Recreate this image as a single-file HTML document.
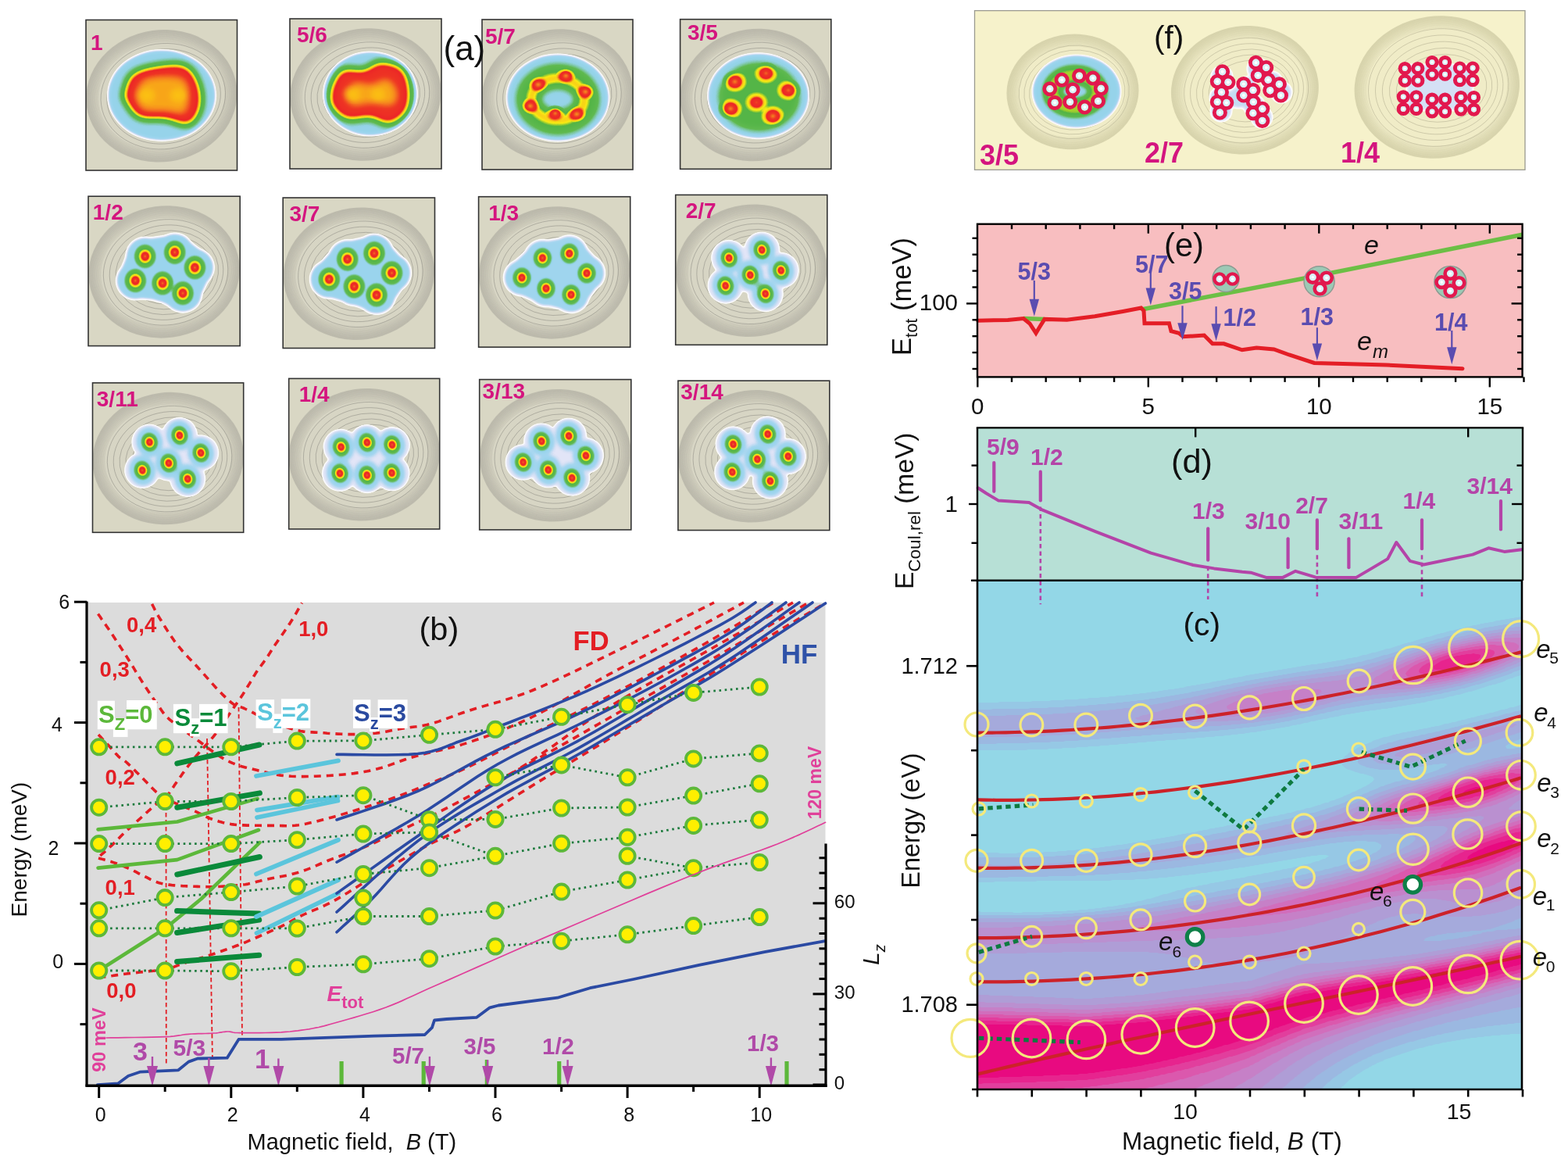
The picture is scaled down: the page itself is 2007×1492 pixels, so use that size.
<!DOCTYPE html><html><head><meta charset="utf-8"><title>Figure</title><style>html,body{margin:0;padding:0;background:#fff;}svg{display:block;}</style></head><body><svg xmlns="http://www.w3.org/2000/svg" width="2007" height="1492" viewBox="0 0 2007 1492" font-family='"Liberation Sans", Arial, sans-serif'><defs><filter id="cmA" x="-5%" y="-5%" width="110%" height="110%" color-interpolation-filters="sRGB"><feColorMatrix type="matrix" values="0 0 0 1 0  0 0 0 1 0  0 0 0 1 0  0 0 0 1 0"/><feComponentTransfer><feFuncR type="table" tableValues="1.000 1.000 1.000 1.000 1.000 1.000 1.000 0.969 0.938 0.908 0.877 0.828 0.775 0.722 0.668 0.641 0.630 0.619 0.608 0.597 0.578 0.528 0.477 0.427 0.376 0.367 0.358 0.349 0.340 0.331 0.322 0.539 0.756 0.973 0.975 0.978 0.975 0.957 0.938 0.926 0.927 0.928 0.929 0.930 0.932 0.933 0.935 0.940 0.944 0.949 0.953 0.958 0.962 0.966 0.969 0.973 0.977 0.980 0.983 0.986 0.988"/><feFuncG type="table" tableValues="1.000 1.000 1.000 1.000 1.000 1.000 1.000 0.973 0.946 0.919 0.892 0.877 0.866 0.855 0.844 0.838 0.837 0.835 0.834 0.833 0.827 0.802 0.778 0.754 0.729 0.725 0.722 0.718 0.714 0.710 0.706 0.779 0.852 0.925 0.851 0.777 0.667 0.472 0.278 0.144 0.153 0.162 0.171 0.180 0.189 0.198 0.223 0.271 0.318 0.366 0.414 0.462 0.506 0.546 0.586 0.626 0.666 0.706 0.727 0.748 0.769"/><feFuncB type="table" tableValues="1.000 1.000 1.000 1.000 1.000 1.000 1.000 0.992 0.983 0.975 0.966 0.960 0.955 0.949 0.943 0.939 0.937 0.934 0.931 0.928 0.896 0.751 0.605 0.459 0.314 0.307 0.301 0.294 0.288 0.281 0.275 0.209 0.144 0.078 0.086 0.093 0.104 0.124 0.143 0.156 0.154 0.152 0.149 0.147 0.145 0.143 0.140 0.138 0.135 0.132 0.130 0.127 0.123 0.115 0.108 0.101 0.094 0.086 0.081 0.076 0.071"/><feFuncA type="table" tableValues="0 0 0 0 0.22 0.78 1 1 1 1 1 1 1 1 1 1 1 1 1 1 1 1 1 1 1 1 1 1 1 1 1 1 1 1 1 1 1 1 1 1 1 1 1 1 1 1 1 1 1 1 1 1 1 1 1 1 1 1 1 1 1"/></feComponentTransfer></filter><radialGradient id="pk2"><stop offset="0" stop-color="#fff" stop-opacity="0.78"/><stop offset="0.25" stop-color="#fff" stop-opacity="0.52"/><stop offset="0.4" stop-color="#fff" stop-opacity="0.38"/><stop offset="0.6" stop-color="#fff" stop-opacity="0.24"/><stop offset="0.8" stop-color="#fff" stop-opacity="0.13"/><stop offset="0.93" stop-color="#fff" stop-opacity="0.04"/><stop offset="1" stop-color="#fff" stop-opacity="0"/></radialGradient><radialGradient id="pk3"><stop offset="0" stop-color="#fff" stop-opacity="0.8"/><stop offset="0.13" stop-color="#fff" stop-opacity="0.62"/><stop offset="0.23" stop-color="#fff" stop-opacity="0.5"/><stop offset="0.3" stop-color="#fff" stop-opacity="0.42"/><stop offset="0.43" stop-color="#fff" stop-opacity="0.3"/><stop offset="0.58" stop-color="#fff" stop-opacity="0.18"/><stop offset="0.74" stop-color="#fff" stop-opacity="0.08"/><stop offset="0.88" stop-color="#fff" stop-opacity="0.02"/><stop offset="1" stop-color="#fff" stop-opacity="0"/></radialGradient><radialGradient id="pk57"><stop offset="0" stop-color="#fff" stop-opacity="0.75"/><stop offset="0.3" stop-color="#fff" stop-opacity="0.5"/><stop offset="0.6" stop-color="#fff" stop-opacity="0.2"/><stop offset="1" stop-color="#fff" stop-opacity="0"/></radialGradient><filter id="bl1" x="-50%" y="-50%" width="200%" height="200%"><feGaussianBlur stdDeviation="1"/></filter><filter id="bl1_5" x="-50%" y="-50%" width="200%" height="200%"><feGaussianBlur stdDeviation="1.5"/></filter><filter id="bl2" x="-50%" y="-50%" width="200%" height="200%"><feGaussianBlur stdDeviation="2"/></filter><filter id="bl2_5" x="-50%" y="-50%" width="200%" height="200%"><feGaussianBlur stdDeviation="2.5"/></filter><filter id="bl3" x="-50%" y="-50%" width="200%" height="200%"><feGaussianBlur stdDeviation="3"/></filter><filter id="bl4" x="-50%" y="-50%" width="200%" height="200%"><feGaussianBlur stdDeviation="4"/></filter><filter id="bl5" x="-50%" y="-50%" width="200%" height="200%"><feGaussianBlur stdDeviation="5"/></filter><filter id="bl6" x="-50%" y="-50%" width="200%" height="200%"><feGaussianBlur stdDeviation="6"/></filter><filter id="bl7" x="-50%" y="-50%" width="200%" height="200%"><feGaussianBlur stdDeviation="7"/></filter><filter id="bl8" x="-50%" y="-50%" width="200%" height="200%"><feGaussianBlur stdDeviation="8"/></filter><filter id="bl10" x="-50%" y="-50%" width="200%" height="200%"><feGaussianBlur stdDeviation="10"/></filter></defs><rect width="2007" height="1492" fill="#fff"/><clipPath id="clipA0"><rect x="110" y="25.5" width="193.5" height="192.5"/></clipPath><g clip-path="url(#clipA0)"><rect x="110" y="25.5" width="193.5" height="192.5" fill="#d9d7c4"/><ellipse cx="206.8" cy="122.7" rx="97" ry="84.5" fill="#bebcae" transform="rotate(-8 206.8 122.7)"/><ellipse cx="206.8" cy="122.7" rx="95.3" ry="82.8" fill="#bfbdaf" stroke="#b2b0a3" stroke-width="0.3" transform="rotate(-8 206.8 122.7)"/><ellipse cx="206.8" cy="122.7" rx="93.6" ry="81.1" fill="#c1bfb1" stroke="#b2b0a3" stroke-width="0.3" transform="rotate(-8 206.8 122.7)"/><ellipse cx="206.8" cy="122.7" rx="91.9" ry="79.4" fill="#c3c1b3" stroke="#b2b0a3" stroke-width="0.3" transform="rotate(-8 206.8 122.7)"/><ellipse cx="206.8" cy="122.7" rx="90.2" ry="77.7" fill="#c6c4b5" stroke="#b2b0a3" stroke-width="0.3" transform="rotate(-8 206.8 122.7)"/><ellipse cx="206.8" cy="122.7" rx="88.5" ry="76" fill="#c9c7b8" stroke="#b2b0a3" stroke-width="0.3" transform="rotate(-8 206.8 122.7)"/><ellipse cx="206.8" cy="122.7" rx="86.8" ry="74.3" fill="#cccaba" stroke="#b2b0a3" stroke-width="0.3" transform="rotate(-8 206.8 122.7)"/><ellipse cx="206.8" cy="122.7" rx="85.1" ry="72.6" fill="#d0cebd" stroke="#b2b0a3" stroke-width="0.3" transform="rotate(-8 206.8 122.7)"/><ellipse cx="206.8" cy="122.7" rx="83.4" ry="70.9" fill="#d3d1c0" stroke="#b2b0a3" stroke-width="0.3" transform="rotate(-8 206.8 122.7)"/><ellipse cx="206.8" cy="122.7" rx="81.7" ry="69.2" fill="#d7d5c4" stroke="#b2b0a3" stroke-width="0.3" transform="rotate(-8 206.8 122.7)"/><ellipse cx="208.8" cy="123.2" rx="80" ry="67.5" fill="none" stroke="#96958b" stroke-width="0.6" transform="rotate(-8 208.8 123.2)"/><ellipse cx="209.6" cy="123.4" rx="73" ry="60.5" fill="none" stroke="#96958b" stroke-width="0.6" transform="rotate(-8 209.6 123.4)"/><ellipse cx="210.5" cy="123.6" rx="66" ry="53.5" fill="none" stroke="#96958b" stroke-width="0.6" transform="rotate(-8 210.5 123.6)"/><ellipse cx="211.3" cy="123.9" rx="59" ry="46.5" fill="none" stroke="#96958b" stroke-width="0.6" transform="rotate(-8 211.3 123.9)"/><ellipse cx="212.2" cy="124.1" rx="52" ry="39.5" fill="none" stroke="#96958b" stroke-width="0.6" transform="rotate(-8 212.2 124.1)"/><g filter="url(#cmA)"><ellipse cx="207" cy="122" rx="68.5" ry="57.5" fill="#fff" opacity="0.32" filter="url(#bl2)"/><path d="M158 124 L158.7 121.7 L159.5 118.6 L160.4 114.8 L161.4 110.7 L162.8 106.5 L164.4 102.5 L166.5 98.9 L169 96 L172.1 93.7 L175.7 91.8 L179.7 90.1 L184 88.8 L188.5 87.6 L193.1 86.6 L197.6 85.7 L202 85 L206.4 84.3 L211 83.7 L215.8 83.2 L220.5 82.9 L225.1 82.8 L229.5 83.1 L233.5 83.8 L237 85 L240.1 86.7 L242.9 89 L245.4 91.6 L247.6 94.6 L249.5 97.9 L251.2 101.2 L252.7 104.6 L254 108 L255.1 111.5 L256 115.2 L256.6 119.1 L257 123.1 L257.2 127.1 L257 131 L256.7 134.6 L256 138 L255 141.2 L253.8 144.5 L252.2 147.8 L250.4 150.8 L248.4 153.6 L246.1 155.9 L243.7 157.8 L241 159 L238.1 159.4 L234.9 159.1 L231.4 158.2 L227.8 157 L223.9 155.6 L220 154.1 L216 152.9 L212 152 L207.8 151.6 L203.3 151.5 L198.6 151.5 L193.9 151.6 L189.2 151.6 L184.8 151.2 L180.7 150.4 L177 149 L173.7 146.8 L170.7 143.7 L167.9 140.1 L165.3 136.3 L163 132.5 L161 129 L159.4 126.1 L158 124 Z" fill="#fff" opacity="0.62" filter="url(#bl6)"/><path d="M173 122 L173.8 120.3 L174.7 118 L175.7 115.3 L177 112.2 L178.5 109.2 L180.3 106.3 L182.5 103.9 L185 102 L188.1 100.7 L191.9 99.6 L196.1 98.9 L200.5 98.4 L205 98.1 L209.4 97.9 L213.4 97.9 L217 98 L220.2 98.2 L223.2 98.4 L226.1 98.8 L228.8 99.4 L231.2 100.1 L233.4 101.1 L235.3 102.4 L237 104 L238.3 106 L239.4 108.5 L240.1 111.3 L240.6 114.2 L240.9 117.3 L241.1 120.4 L241.1 123.3 L241 126 L240.9 128.6 L240.6 131.2 L240.3 133.9 L239.8 136.5 L239 138.9 L238 141 L236.7 142.7 L235 144 L232.9 144.7 L230.4 144.9 L227.5 144.7 L224.4 144.2 L221.1 143.6 L217.7 143 L214.3 142.4 L211 142 L207.6 141.9 L203.9 141.9 L200 142 L196.1 142 L192.4 141.9 L188.8 141.6 L185.7 141 L183 140 L180.8 138.4 L179 136.2 L177.5 133.6 L176.2 130.9 L175.2 128.1 L174.4 125.6 L173.6 123.5 L173 122 Z" fill="#fff" opacity="0.72" filter="url(#bl5)"/><ellipse cx="188" cy="122" rx="9" ry="7" fill="#fff" opacity="1" filter="url(#bl4)"/><ellipse cx="228" cy="122" rx="9" ry="7" fill="#fff" opacity="1" filter="url(#bl4)"/></g></g><rect x="110" y="25.5" width="193.5" height="192.5" fill="none" stroke="#333" stroke-width="1.6"/><text x="116" y="64" font-size="28" fill="#d4157f" font-weight="bold">1</text><clipPath id="clipA8"><rect x="371" y="24" width="194" height="192"/></clipPath><g clip-path="url(#clipA8)"><rect x="371" y="24" width="194" height="192" fill="#d9d7c4"/><ellipse cx="468" cy="121" rx="97" ry="84.5" fill="#bebcae" transform="rotate(-8 468 121)"/><ellipse cx="468" cy="121" rx="95.3" ry="82.8" fill="#bfbdaf" stroke="#b2b0a3" stroke-width="0.3" transform="rotate(-8 468 121)"/><ellipse cx="468" cy="121" rx="93.6" ry="81.1" fill="#c1bfb1" stroke="#b2b0a3" stroke-width="0.3" transform="rotate(-8 468 121)"/><ellipse cx="468" cy="121" rx="91.9" ry="79.4" fill="#c3c1b3" stroke="#b2b0a3" stroke-width="0.3" transform="rotate(-8 468 121)"/><ellipse cx="468" cy="121" rx="90.2" ry="77.7" fill="#c6c4b5" stroke="#b2b0a3" stroke-width="0.3" transform="rotate(-8 468 121)"/><ellipse cx="468" cy="121" rx="88.5" ry="76" fill="#c9c7b8" stroke="#b2b0a3" stroke-width="0.3" transform="rotate(-8 468 121)"/><ellipse cx="468" cy="121" rx="86.8" ry="74.3" fill="#cccaba" stroke="#b2b0a3" stroke-width="0.3" transform="rotate(-8 468 121)"/><ellipse cx="468" cy="121" rx="85.1" ry="72.6" fill="#d0cebd" stroke="#b2b0a3" stroke-width="0.3" transform="rotate(-8 468 121)"/><ellipse cx="468" cy="121" rx="83.4" ry="70.9" fill="#d3d1c0" stroke="#b2b0a3" stroke-width="0.3" transform="rotate(-8 468 121)"/><ellipse cx="468" cy="121" rx="81.7" ry="69.2" fill="#d7d5c4" stroke="#b2b0a3" stroke-width="0.3" transform="rotate(-8 468 121)"/><ellipse cx="470" cy="121.5" rx="80" ry="67.5" fill="none" stroke="#96958b" stroke-width="0.6" transform="rotate(-8 470 121.5)"/><ellipse cx="470.9" cy="121.7" rx="73" ry="60.5" fill="none" stroke="#96958b" stroke-width="0.6" transform="rotate(-8 470.9 121.7)"/><ellipse cx="471.7" cy="121.9" rx="66" ry="53.5" fill="none" stroke="#96958b" stroke-width="0.6" transform="rotate(-8 471.7 121.9)"/><ellipse cx="472.6" cy="122.1" rx="59" ry="46.5" fill="none" stroke="#96958b" stroke-width="0.6" transform="rotate(-8 472.6 122.1)"/><ellipse cx="473.4" cy="122.3" rx="52" ry="39.5" fill="none" stroke="#96958b" stroke-width="0.6" transform="rotate(-8 473.4 122.3)"/><g filter="url(#cmA)"><ellipse cx="474" cy="120" rx="59" ry="53" fill="#fff" opacity="0.32" filter="url(#bl2)"/><path d="M424 112 L425 110.2 L426.2 107.5 L427.6 104.4 L429.2 101 L431.1 97.6 L433.2 94.5 L435.5 91.8 L438 90 L440.9 89 L444.2 88.7 L447.8 88.8 L451.6 89.2 L455.5 89.8 L459.2 90.2 L462.8 90.3 L466 90 L468.8 89.1 L471.4 87.8 L473.7 86.2 L476 84.5 L478.3 82.9 L480.6 81.5 L483.2 80.5 L486 80 L489.2 80 L492.9 80.3 L496.7 80.9 L500.6 81.8 L504.5 82.9 L508.1 84.3 L511.3 86 L514 88 L516.2 90.4 L518.1 93.2 L519.7 96.3 L521 99.8 L522.1 103.3 L522.9 106.9 L523.5 110.5 L524 114 L524.3 117.5 L524.4 121.1 L524.3 124.9 L524 128.6 L523.4 132.3 L522.6 135.8 L521.5 139.1 L520 142 L518.1 144.7 L515.8 147.4 L513.2 149.9 L510.2 152.2 L507.2 154.3 L504.1 156 L501 157.2 L498 158 L495.1 158.1 L492.3 157.5 L489.4 156.3 L486.5 154.9 L483.5 153.3 L480.5 151.9 L477.3 150.7 L474 150 L470.5 149.9 L466.7 150.3 L462.8 150.9 L458.8 151.6 L454.8 152.3 L450.9 152.7 L447.3 152.6 L444 152 L440.9 150.7 L437.8 149 L434.9 146.9 L432.1 144.5 L429.6 141.9 L427.4 139.2 L425.5 136.6 L424 134 L423 131.3 L422.6 128.3 L422.5 125.1 L422.8 121.9 L423.1 118.8 L423.5 116 L423.9 113.7 L424 112 Z" fill="#fff" opacity="0.62" filter="url(#bl6)"/><path d="M440 118 L441 117 L442.4 115.5 L444 113.8 L445.8 111.9 L447.7 110 L449.8 108.3 L451.9 106.9 L454 106 L456.2 105.6 L458.5 105.7 L461 106.1 L463.5 106.6 L466.1 107.2 L468.7 107.7 L471.4 108 L474 108 L476.7 107.5 L479.6 106.5 L482.5 105.4 L485.5 104.1 L488.4 103 L491.2 102.1 L493.7 101.8 L496 102 L498.1 102.9 L500.1 104.5 L502 106.4 L503.8 108.6 L505.3 111 L506.5 113.5 L507.4 115.8 L508 118 L508.3 120.1 L508.3 122.4 L508 124.8 L507.5 127.1 L506.7 129.3 L505.5 131.3 L503.9 132.9 L502 134 L499.5 134.6 L496.5 134.7 L492.9 134.4 L489.1 133.9 L485.2 133.2 L481.2 132.6 L477.5 132.2 L474 132 L470.7 132.2 L467.4 132.6 L464.1 133.2 L460.9 133.9 L457.8 134.4 L454.9 134.7 L452.3 134.6 L450 134 L448 132.8 L446.3 130.9 L444.8 128.6 L443.5 126.1 L442.4 123.6 L441.5 121.3 L440.7 119.4 L440 118 Z" fill="#fff" opacity="0.72" filter="url(#bl5)"/><ellipse cx="452" cy="121" rx="8" ry="6" fill="#fff" opacity="1" filter="url(#bl4)"/><ellipse cx="484" cy="121" rx="8" ry="6" fill="#fff" opacity="1" filter="url(#bl4)"/></g></g><rect x="371" y="24" width="194" height="192" fill="none" stroke="#333" stroke-width="1.6"/><text x="380" y="54.4" font-size="28" fill="#d4157f" font-weight="bold">5/6</text><clipPath id="clipA16"><rect x="617" y="25" width="193" height="192"/></clipPath><g clip-path="url(#clipA16)"><rect x="617" y="25" width="193" height="192" fill="#d9d7c4"/><ellipse cx="713.5" cy="122" rx="97" ry="84.5" fill="#bebcae" transform="rotate(-8 713.5 122)"/><ellipse cx="713.5" cy="122" rx="95.3" ry="82.8" fill="#bfbdaf" stroke="#b2b0a3" stroke-width="0.3" transform="rotate(-8 713.5 122)"/><ellipse cx="713.5" cy="122" rx="93.6" ry="81.1" fill="#c1bfb1" stroke="#b2b0a3" stroke-width="0.3" transform="rotate(-8 713.5 122)"/><ellipse cx="713.5" cy="122" rx="91.9" ry="79.4" fill="#c3c1b3" stroke="#b2b0a3" stroke-width="0.3" transform="rotate(-8 713.5 122)"/><ellipse cx="713.5" cy="122" rx="90.2" ry="77.7" fill="#c6c4b5" stroke="#b2b0a3" stroke-width="0.3" transform="rotate(-8 713.5 122)"/><ellipse cx="713.5" cy="122" rx="88.5" ry="76" fill="#c9c7b8" stroke="#b2b0a3" stroke-width="0.3" transform="rotate(-8 713.5 122)"/><ellipse cx="713.5" cy="122" rx="86.8" ry="74.3" fill="#cccaba" stroke="#b2b0a3" stroke-width="0.3" transform="rotate(-8 713.5 122)"/><ellipse cx="713.5" cy="122" rx="85.1" ry="72.6" fill="#d0cebd" stroke="#b2b0a3" stroke-width="0.3" transform="rotate(-8 713.5 122)"/><ellipse cx="713.5" cy="122" rx="83.4" ry="70.9" fill="#d3d1c0" stroke="#b2b0a3" stroke-width="0.3" transform="rotate(-8 713.5 122)"/><ellipse cx="713.5" cy="122" rx="81.7" ry="69.2" fill="#d7d5c4" stroke="#b2b0a3" stroke-width="0.3" transform="rotate(-8 713.5 122)"/><ellipse cx="715.5" cy="122.5" rx="80" ry="67.5" fill="none" stroke="#96958b" stroke-width="0.6" transform="rotate(-8 715.5 122.5)"/><ellipse cx="716.4" cy="122.7" rx="73" ry="60.5" fill="none" stroke="#96958b" stroke-width="0.6" transform="rotate(-8 716.4 122.7)"/><ellipse cx="717.2" cy="122.9" rx="66" ry="53.5" fill="none" stroke="#96958b" stroke-width="0.6" transform="rotate(-8 717.2 122.9)"/><ellipse cx="718.1" cy="123.1" rx="59" ry="46.5" fill="none" stroke="#96958b" stroke-width="0.6" transform="rotate(-8 718.1 123.1)"/><ellipse cx="718.9" cy="123.3" rx="52" ry="39.5" fill="none" stroke="#96958b" stroke-width="0.6" transform="rotate(-8 718.9 123.3)"/><g filter="url(#cmA)"><ellipse cx="714" cy="125" rx="65" ry="55" fill="#fff" opacity="0.32" filter="url(#bl2)"/><ellipse cx="714" cy="127" rx="37" ry="29" fill="none" stroke="#fff" stroke-width="30" opacity="0.22" filter="url(#bl4)"/><ellipse cx="714" cy="127" rx="34" ry="27" fill="none" stroke="#fff" stroke-width="12" opacity="0.2" filter="url(#bl3)"/><ellipse cx="724.4" cy="96.8" rx="13" ry="11" fill="url(#pk57)"/><ellipse cx="688.9" cy="108.2" rx="13" ry="11" fill="url(#pk57)"/><ellipse cx="749.6" cy="117.4" rx="13" ry="11" fill="url(#pk57)"/><ellipse cx="678.6" cy="135.7" rx="13" ry="11" fill="url(#pk57)"/><ellipse cx="710.7" cy="144.9" rx="13" ry="11" fill="url(#pk57)"/><ellipse cx="738.2" cy="146.1" rx="13" ry="11" fill="url(#pk57)"/></g></g><rect x="617" y="25" width="193" height="192" fill="none" stroke="#333" stroke-width="1.6"/><text x="621" y="55.5" font-size="28" fill="#d4157f" font-weight="bold">5/7</text><clipPath id="clipA24"><rect x="870.6" y="24.7" width="193.2" height="191.6"/></clipPath><g clip-path="url(#clipA24)"><rect x="870.6" y="24.7" width="193.2" height="191.6" fill="#d9d7c4"/><ellipse cx="967.2" cy="121.5" rx="97" ry="84.5" fill="#bebcae" transform="rotate(-8 967.2 121.5)"/><ellipse cx="967.2" cy="121.5" rx="95.3" ry="82.8" fill="#bfbdaf" stroke="#b2b0a3" stroke-width="0.3" transform="rotate(-8 967.2 121.5)"/><ellipse cx="967.2" cy="121.5" rx="93.6" ry="81.1" fill="#c1bfb1" stroke="#b2b0a3" stroke-width="0.3" transform="rotate(-8 967.2 121.5)"/><ellipse cx="967.2" cy="121.5" rx="91.9" ry="79.4" fill="#c3c1b3" stroke="#b2b0a3" stroke-width="0.3" transform="rotate(-8 967.2 121.5)"/><ellipse cx="967.2" cy="121.5" rx="90.2" ry="77.7" fill="#c6c4b5" stroke="#b2b0a3" stroke-width="0.3" transform="rotate(-8 967.2 121.5)"/><ellipse cx="967.2" cy="121.5" rx="88.5" ry="76" fill="#c9c7b8" stroke="#b2b0a3" stroke-width="0.3" transform="rotate(-8 967.2 121.5)"/><ellipse cx="967.2" cy="121.5" rx="86.8" ry="74.3" fill="#cccaba" stroke="#b2b0a3" stroke-width="0.3" transform="rotate(-8 967.2 121.5)"/><ellipse cx="967.2" cy="121.5" rx="85.1" ry="72.6" fill="#d0cebd" stroke="#b2b0a3" stroke-width="0.3" transform="rotate(-8 967.2 121.5)"/><ellipse cx="967.2" cy="121.5" rx="83.4" ry="70.9" fill="#d3d1c0" stroke="#b2b0a3" stroke-width="0.3" transform="rotate(-8 967.2 121.5)"/><ellipse cx="967.2" cy="121.5" rx="81.7" ry="69.2" fill="#d7d5c4" stroke="#b2b0a3" stroke-width="0.3" transform="rotate(-8 967.2 121.5)"/><ellipse cx="969.2" cy="122" rx="80" ry="67.5" fill="none" stroke="#96958b" stroke-width="0.6" transform="rotate(-8 969.2 122)"/><ellipse cx="970.1" cy="122.2" rx="73" ry="60.5" fill="none" stroke="#96958b" stroke-width="0.6" transform="rotate(-8 970.1 122.2)"/><ellipse cx="970.9" cy="122.4" rx="66" ry="53.5" fill="none" stroke="#96958b" stroke-width="0.6" transform="rotate(-8 970.9 122.4)"/><ellipse cx="971.8" cy="122.6" rx="59" ry="46.5" fill="none" stroke="#96958b" stroke-width="0.6" transform="rotate(-8 971.8 122.6)"/><ellipse cx="972.6" cy="122.8" rx="52" ry="39.5" fill="none" stroke="#96958b" stroke-width="0.6" transform="rotate(-8 972.6 122.8)"/><g filter="url(#cmA)"><ellipse cx="970.6" cy="122.7" rx="64" ry="54" fill="#fff" opacity="0.32" filter="url(#bl2)"/><ellipse cx="971.6" cy="123.7" rx="50" ry="42" fill="#fff" opacity="0.24" filter="url(#bl5)"/><ellipse cx="940.6" cy="104.6" rx="17" ry="15" fill="url(#pk57)" opacity="1"/><ellipse cx="980.5" cy="93.8" rx="17" ry="15" fill="url(#pk57)" opacity="0.9"/><ellipse cx="1009" cy="115.5" rx="17" ry="15" fill="url(#pk57)" opacity="0.9"/><ellipse cx="935.1" cy="139.1" rx="17" ry="15" fill="url(#pk57)" opacity="1"/><ellipse cx="968.3" cy="131" rx="17" ry="15" fill="url(#pk57)" opacity="0.8"/><ellipse cx="989.3" cy="148.6" rx="17" ry="15" fill="url(#pk57)" opacity="1"/></g></g><rect x="870.6" y="24.7" width="193.2" height="191.6" fill="none" stroke="#333" stroke-width="1.6"/><text x="880" y="50.5" font-size="28" fill="#d4157f" font-weight="bold">3/5</text><clipPath id="clipA32"><rect x="113" y="251.2" width="194.2" height="191.4"/></clipPath><g clip-path="url(#clipA32)"><rect x="113" y="251.2" width="194.2" height="191.4" fill="#d9d7c4"/><ellipse cx="210.1" cy="347.9" rx="97" ry="84.5" fill="#bebcae" transform="rotate(-8 210.1 347.9)"/><ellipse cx="210.1" cy="347.9" rx="95.3" ry="82.8" fill="#bfbdaf" stroke="#b2b0a3" stroke-width="0.3" transform="rotate(-8 210.1 347.9)"/><ellipse cx="210.1" cy="347.9" rx="93.6" ry="81.1" fill="#c1bfb1" stroke="#b2b0a3" stroke-width="0.3" transform="rotate(-8 210.1 347.9)"/><ellipse cx="210.1" cy="347.9" rx="91.9" ry="79.4" fill="#c3c1b3" stroke="#b2b0a3" stroke-width="0.3" transform="rotate(-8 210.1 347.9)"/><ellipse cx="210.1" cy="347.9" rx="90.2" ry="77.7" fill="#c6c4b5" stroke="#b2b0a3" stroke-width="0.3" transform="rotate(-8 210.1 347.9)"/><ellipse cx="210.1" cy="347.9" rx="88.5" ry="76" fill="#c9c7b8" stroke="#b2b0a3" stroke-width="0.3" transform="rotate(-8 210.1 347.9)"/><ellipse cx="210.1" cy="347.9" rx="86.8" ry="74.3" fill="#cccaba" stroke="#b2b0a3" stroke-width="0.3" transform="rotate(-8 210.1 347.9)"/><ellipse cx="210.1" cy="347.9" rx="85.1" ry="72.6" fill="#d0cebd" stroke="#b2b0a3" stroke-width="0.3" transform="rotate(-8 210.1 347.9)"/><ellipse cx="210.1" cy="347.9" rx="83.4" ry="70.9" fill="#d3d1c0" stroke="#b2b0a3" stroke-width="0.3" transform="rotate(-8 210.1 347.9)"/><ellipse cx="210.1" cy="347.9" rx="81.7" ry="69.2" fill="#d7d5c4" stroke="#b2b0a3" stroke-width="0.3" transform="rotate(-8 210.1 347.9)"/><ellipse cx="212.1" cy="348.4" rx="80" ry="67.5" fill="none" stroke="#96958b" stroke-width="0.6" transform="rotate(-8 212.1 348.4)"/><ellipse cx="213" cy="348.6" rx="73" ry="60.5" fill="none" stroke="#96958b" stroke-width="0.6" transform="rotate(-8 213 348.6)"/><ellipse cx="213.8" cy="348.8" rx="66" ry="53.5" fill="none" stroke="#96958b" stroke-width="0.6" transform="rotate(-8 213.8 348.8)"/><ellipse cx="214.7" cy="349" rx="59" ry="46.5" fill="none" stroke="#96958b" stroke-width="0.6" transform="rotate(-8 214.7 349)"/><ellipse cx="215.5" cy="349.2" rx="52" ry="39.5" fill="none" stroke="#96958b" stroke-width="0.6" transform="rotate(-8 215.5 349.2)"/><g filter="url(#cmA)"><g opacity="0.3" filter="url(#bl2_5)"><circle cx="185.7" cy="328" r="24" fill="#fff"/><circle cx="223.7" cy="322.9" r="24" fill="#fff"/><circle cx="249.4" cy="342.4" r="24" fill="#fff"/><circle cx="173.3" cy="359.1" r="24" fill="#fff"/><circle cx="208.1" cy="362.4" r="24" fill="#fff"/><circle cx="234" cy="375.2" r="24" fill="#fff"/><path d="M185.7 328 L223.7 322.9 L249.4 342.4 L234 375.2 L208.1 362.4 L173.3 359.1 Z" fill="#fff" stroke="#fff" stroke-width="44" stroke-linejoin="round"/></g><ellipse cx="185.7" cy="328" rx="16" ry="17.5" fill="url(#pk2)"/><ellipse cx="223.7" cy="322.9" rx="16" ry="17.5" fill="url(#pk2)"/><ellipse cx="249.4" cy="342.4" rx="16" ry="17.5" fill="url(#pk2)"/><ellipse cx="173.3" cy="359.1" rx="16" ry="17.5" fill="url(#pk2)"/><ellipse cx="208.1" cy="362.4" rx="16" ry="17.5" fill="url(#pk2)"/><ellipse cx="234" cy="375.2" rx="16" ry="17.5" fill="url(#pk2)"/></g></g><rect x="113" y="251.2" width="194.2" height="191.4" fill="none" stroke="#333" stroke-width="1.6"/><text x="118.8" y="281.2" font-size="28" fill="#d4157f" font-weight="bold">1/2</text><clipPath id="clipA40"><rect x="362.2" y="253" width="194.3" height="192.5"/></clipPath><g clip-path="url(#clipA40)"><rect x="362.2" y="253" width="194.3" height="192.5" fill="#d9d7c4"/><ellipse cx="459.4" cy="350.2" rx="97" ry="84.5" fill="#bebcae" transform="rotate(-8 459.4 350.2)"/><ellipse cx="459.4" cy="350.2" rx="95.3" ry="82.8" fill="#bfbdaf" stroke="#b2b0a3" stroke-width="0.3" transform="rotate(-8 459.4 350.2)"/><ellipse cx="459.4" cy="350.2" rx="93.6" ry="81.1" fill="#c1bfb1" stroke="#b2b0a3" stroke-width="0.3" transform="rotate(-8 459.4 350.2)"/><ellipse cx="459.4" cy="350.2" rx="91.9" ry="79.4" fill="#c3c1b3" stroke="#b2b0a3" stroke-width="0.3" transform="rotate(-8 459.4 350.2)"/><ellipse cx="459.4" cy="350.2" rx="90.2" ry="77.7" fill="#c6c4b5" stroke="#b2b0a3" stroke-width="0.3" transform="rotate(-8 459.4 350.2)"/><ellipse cx="459.4" cy="350.2" rx="88.5" ry="76" fill="#c9c7b8" stroke="#b2b0a3" stroke-width="0.3" transform="rotate(-8 459.4 350.2)"/><ellipse cx="459.4" cy="350.2" rx="86.8" ry="74.3" fill="#cccaba" stroke="#b2b0a3" stroke-width="0.3" transform="rotate(-8 459.4 350.2)"/><ellipse cx="459.4" cy="350.2" rx="85.1" ry="72.6" fill="#d0cebd" stroke="#b2b0a3" stroke-width="0.3" transform="rotate(-8 459.4 350.2)"/><ellipse cx="459.4" cy="350.2" rx="83.4" ry="70.9" fill="#d3d1c0" stroke="#b2b0a3" stroke-width="0.3" transform="rotate(-8 459.4 350.2)"/><ellipse cx="459.4" cy="350.2" rx="81.7" ry="69.2" fill="#d7d5c4" stroke="#b2b0a3" stroke-width="0.3" transform="rotate(-8 459.4 350.2)"/><ellipse cx="461.4" cy="350.7" rx="80" ry="67.5" fill="none" stroke="#96958b" stroke-width="0.6" transform="rotate(-8 461.4 350.7)"/><ellipse cx="462.2" cy="350.9" rx="73" ry="60.5" fill="none" stroke="#96958b" stroke-width="0.6" transform="rotate(-8 462.2 350.9)"/><ellipse cx="463.1" cy="351.1" rx="66" ry="53.5" fill="none" stroke="#96958b" stroke-width="0.6" transform="rotate(-8 463.1 351.1)"/><ellipse cx="463.9" cy="351.4" rx="59" ry="46.5" fill="none" stroke="#96958b" stroke-width="0.6" transform="rotate(-8 463.9 351.4)"/><ellipse cx="464.8" cy="351.6" rx="52" ry="39.5" fill="none" stroke="#96958b" stroke-width="0.6" transform="rotate(-8 464.8 351.6)"/><g filter="url(#cmA)"><g opacity="0.3" filter="url(#bl2_5)"><circle cx="444.7" cy="331.6" r="24" fill="#fff"/><circle cx="479" cy="324.1" r="24" fill="#fff"/><circle cx="501.5" cy="349.3" r="24" fill="#fff"/><circle cx="421.3" cy="357.3" r="24" fill="#fff"/><circle cx="453.4" cy="366.5" r="24" fill="#fff"/><circle cx="482" cy="377.5" r="24" fill="#fff"/><path d="M444.7 331.6 L479 324.1 L501.5 349.3 L482 377.5 L453.4 366.5 L421.3 357.3 Z" fill="#fff" stroke="#fff" stroke-width="44" stroke-linejoin="round"/></g><ellipse cx="444.7" cy="331.6" rx="16" ry="17.5" fill="url(#pk2)"/><ellipse cx="479" cy="324.1" rx="16" ry="17.5" fill="url(#pk2)"/><ellipse cx="501.5" cy="349.3" rx="16" ry="17.5" fill="url(#pk2)"/><ellipse cx="421.3" cy="357.3" rx="16" ry="17.5" fill="url(#pk2)"/><ellipse cx="453.4" cy="366.5" rx="16" ry="17.5" fill="url(#pk2)"/><ellipse cx="482" cy="377.5" rx="16" ry="17.5" fill="url(#pk2)"/></g></g><rect x="362.2" y="253" width="194.3" height="192.5" fill="none" stroke="#333" stroke-width="1.6"/><text x="370.4" y="282.8" font-size="28" fill="#d4157f" font-weight="bold">3/7</text><clipPath id="clipA48"><rect x="612.6" y="251.7" width="194.1" height="192.5"/></clipPath><g clip-path="url(#clipA48)"><rect x="612.6" y="251.7" width="194.1" height="192.5" fill="#d9d7c4"/><ellipse cx="709.7" cy="348.9" rx="97" ry="84.5" fill="#bebcae" transform="rotate(-8 709.7 348.9)"/><ellipse cx="709.7" cy="348.9" rx="95.3" ry="82.8" fill="#bfbdaf" stroke="#b2b0a3" stroke-width="0.3" transform="rotate(-8 709.7 348.9)"/><ellipse cx="709.7" cy="348.9" rx="93.6" ry="81.1" fill="#c1bfb1" stroke="#b2b0a3" stroke-width="0.3" transform="rotate(-8 709.7 348.9)"/><ellipse cx="709.7" cy="348.9" rx="91.9" ry="79.4" fill="#c3c1b3" stroke="#b2b0a3" stroke-width="0.3" transform="rotate(-8 709.7 348.9)"/><ellipse cx="709.7" cy="348.9" rx="90.2" ry="77.7" fill="#c6c4b5" stroke="#b2b0a3" stroke-width="0.3" transform="rotate(-8 709.7 348.9)"/><ellipse cx="709.7" cy="348.9" rx="88.5" ry="76" fill="#c9c7b8" stroke="#b2b0a3" stroke-width="0.3" transform="rotate(-8 709.7 348.9)"/><ellipse cx="709.7" cy="348.9" rx="86.8" ry="74.3" fill="#cccaba" stroke="#b2b0a3" stroke-width="0.3" transform="rotate(-8 709.7 348.9)"/><ellipse cx="709.7" cy="348.9" rx="85.1" ry="72.6" fill="#d0cebd" stroke="#b2b0a3" stroke-width="0.3" transform="rotate(-8 709.7 348.9)"/><ellipse cx="709.7" cy="348.9" rx="83.4" ry="70.9" fill="#d3d1c0" stroke="#b2b0a3" stroke-width="0.3" transform="rotate(-8 709.7 348.9)"/><ellipse cx="709.7" cy="348.9" rx="81.7" ry="69.2" fill="#d7d5c4" stroke="#b2b0a3" stroke-width="0.3" transform="rotate(-8 709.7 348.9)"/><ellipse cx="711.7" cy="349.4" rx="80" ry="67.5" fill="none" stroke="#96958b" stroke-width="0.6" transform="rotate(-8 711.7 349.4)"/><ellipse cx="712.5" cy="349.6" rx="73" ry="60.5" fill="none" stroke="#96958b" stroke-width="0.6" transform="rotate(-8 712.5 349.6)"/><ellipse cx="713.4" cy="349.8" rx="66" ry="53.5" fill="none" stroke="#96958b" stroke-width="0.6" transform="rotate(-8 713.4 349.8)"/><ellipse cx="714.2" cy="350.1" rx="59" ry="46.5" fill="none" stroke="#96958b" stroke-width="0.6" transform="rotate(-8 714.2 350.1)"/><ellipse cx="715.1" cy="350.3" rx="52" ry="39.5" fill="none" stroke="#96958b" stroke-width="0.6" transform="rotate(-8 715.1 350.3)"/><g filter="url(#cmA)"><g opacity="0.27" filter="url(#bl2_5)"><circle cx="694.4" cy="330.1" r="23" fill="#fff"/><circle cx="728.8" cy="324.4" r="23" fill="#fff"/><circle cx="751" cy="349.6" r="23" fill="#fff"/><circle cx="668" cy="355.3" r="23" fill="#fff"/><circle cx="699" cy="369.1" r="23" fill="#fff"/><circle cx="731" cy="377.1" r="23" fill="#fff"/><path d="M694.4 330.1 L728.8 324.4 L751 349.6 L731 377.1 L699 369.1 L668 355.3 Z" fill="#fff" stroke="#fff" stroke-width="42" stroke-linejoin="round"/></g><ellipse cx="694.4" cy="330.1" rx="14.5" ry="16" fill="url(#pk2)"/><ellipse cx="728.8" cy="324.4" rx="14.5" ry="16" fill="url(#pk2)"/><ellipse cx="751" cy="349.6" rx="14.5" ry="16" fill="url(#pk2)"/><ellipse cx="668" cy="355.3" rx="14.5" ry="16" fill="url(#pk2)"/><ellipse cx="699" cy="369.1" rx="14.5" ry="16" fill="url(#pk2)"/><ellipse cx="731" cy="377.1" rx="14.5" ry="16" fill="url(#pk2)"/></g></g><rect x="612.6" y="251.7" width="194.1" height="192.5" fill="none" stroke="#333" stroke-width="1.6"/><text x="625.2" y="282" font-size="28" fill="#d4157f" font-weight="bold">1/3</text><clipPath id="clipA56"><rect x="864.7" y="249.4" width="194.1" height="191.9"/></clipPath><g clip-path="url(#clipA56)"><rect x="864.7" y="249.4" width="194.1" height="191.9" fill="#d9d7c4"/><ellipse cx="961.8" cy="346.3" rx="97" ry="84.5" fill="#bebcae" transform="rotate(-8 961.8 346.3)"/><ellipse cx="961.8" cy="346.3" rx="95.3" ry="82.8" fill="#bfbdaf" stroke="#b2b0a3" stroke-width="0.3" transform="rotate(-8 961.8 346.3)"/><ellipse cx="961.8" cy="346.3" rx="93.6" ry="81.1" fill="#c1bfb1" stroke="#b2b0a3" stroke-width="0.3" transform="rotate(-8 961.8 346.3)"/><ellipse cx="961.8" cy="346.3" rx="91.9" ry="79.4" fill="#c3c1b3" stroke="#b2b0a3" stroke-width="0.3" transform="rotate(-8 961.8 346.3)"/><ellipse cx="961.8" cy="346.3" rx="90.2" ry="77.7" fill="#c6c4b5" stroke="#b2b0a3" stroke-width="0.3" transform="rotate(-8 961.8 346.3)"/><ellipse cx="961.8" cy="346.3" rx="88.5" ry="76" fill="#c9c7b8" stroke="#b2b0a3" stroke-width="0.3" transform="rotate(-8 961.8 346.3)"/><ellipse cx="961.8" cy="346.3" rx="86.8" ry="74.3" fill="#cccaba" stroke="#b2b0a3" stroke-width="0.3" transform="rotate(-8 961.8 346.3)"/><ellipse cx="961.8" cy="346.3" rx="85.1" ry="72.6" fill="#d0cebd" stroke="#b2b0a3" stroke-width="0.3" transform="rotate(-8 961.8 346.3)"/><ellipse cx="961.8" cy="346.3" rx="83.4" ry="70.9" fill="#d3d1c0" stroke="#b2b0a3" stroke-width="0.3" transform="rotate(-8 961.8 346.3)"/><ellipse cx="961.8" cy="346.3" rx="81.7" ry="69.2" fill="#d7d5c4" stroke="#b2b0a3" stroke-width="0.3" transform="rotate(-8 961.8 346.3)"/><ellipse cx="963.8" cy="346.8" rx="80" ry="67.5" fill="none" stroke="#96958b" stroke-width="0.6" transform="rotate(-8 963.8 346.8)"/><ellipse cx="964.6" cy="347" rx="73" ry="60.5" fill="none" stroke="#96958b" stroke-width="0.6" transform="rotate(-8 964.6 347)"/><ellipse cx="965.5" cy="347.2" rx="66" ry="53.5" fill="none" stroke="#96958b" stroke-width="0.6" transform="rotate(-8 965.5 347.2)"/><ellipse cx="966.3" cy="347.4" rx="59" ry="46.5" fill="none" stroke="#96958b" stroke-width="0.6" transform="rotate(-8 966.3 347.4)"/><ellipse cx="967.1" cy="347.7" rx="52" ry="39.5" fill="none" stroke="#96958b" stroke-width="0.6" transform="rotate(-8 967.1 347.7)"/><g filter="url(#cmA)"><g opacity="0.16" filter="url(#bl1_5)"><circle cx="933.2" cy="330.1" r="23" fill="#fff"/><circle cx="975.2" cy="319.8" r="23" fill="#fff"/><circle cx="999.7" cy="346.1" r="23" fill="#fff"/><circle cx="928.6" cy="365.6" r="23" fill="#fff"/><circle cx="960.3" cy="351.9" r="23" fill="#fff"/><circle cx="979.7" cy="375.9" r="23" fill="#fff"/><path d="M933.2 330.1 L975.2 319.8 L999.7 346.1 L979.7 375.9 L960.3 351.9 L928.6 365.6 Z" fill="#fff" stroke="#fff" stroke-width="16" stroke-linejoin="round"/></g><ellipse cx="933.2" cy="330.1" rx="21" ry="24" fill="url(#pk3)" transform="rotate(-12 933.2 330.1)"/><ellipse cx="975.2" cy="319.8" rx="21" ry="24" fill="url(#pk3)" transform="rotate(-12 975.2 319.8)"/><ellipse cx="999.7" cy="346.1" rx="21" ry="24" fill="url(#pk3)" transform="rotate(-12 999.7 346.1)"/><ellipse cx="928.6" cy="365.6" rx="21" ry="24" fill="url(#pk3)" transform="rotate(-12 928.6 365.6)"/><ellipse cx="960.3" cy="351.9" rx="21" ry="24" fill="url(#pk3)" transform="rotate(-12 960.3 351.9)"/><ellipse cx="979.7" cy="375.9" rx="21" ry="24" fill="url(#pk3)" transform="rotate(-12 979.7 375.9)"/></g></g><rect x="864.7" y="249.4" width="194.1" height="191.9" fill="none" stroke="#333" stroke-width="1.6"/><text x="877.7" y="279.2" font-size="28" fill="#d4157f" font-weight="bold">2/7</text><clipPath id="clipA64"><rect x="118.5" y="489.9" width="193.2" height="191.4"/></clipPath><g clip-path="url(#clipA64)"><rect x="118.5" y="489.9" width="193.2" height="191.4" fill="#d9d7c4"/><ellipse cx="215.1" cy="586.6" rx="97" ry="84.5" fill="#bebcae" transform="rotate(-8 215.1 586.6)"/><ellipse cx="215.1" cy="586.6" rx="95.3" ry="82.8" fill="#bfbdaf" stroke="#b2b0a3" stroke-width="0.3" transform="rotate(-8 215.1 586.6)"/><ellipse cx="215.1" cy="586.6" rx="93.6" ry="81.1" fill="#c1bfb1" stroke="#b2b0a3" stroke-width="0.3" transform="rotate(-8 215.1 586.6)"/><ellipse cx="215.1" cy="586.6" rx="91.9" ry="79.4" fill="#c3c1b3" stroke="#b2b0a3" stroke-width="0.3" transform="rotate(-8 215.1 586.6)"/><ellipse cx="215.1" cy="586.6" rx="90.2" ry="77.7" fill="#c6c4b5" stroke="#b2b0a3" stroke-width="0.3" transform="rotate(-8 215.1 586.6)"/><ellipse cx="215.1" cy="586.6" rx="88.5" ry="76" fill="#c9c7b8" stroke="#b2b0a3" stroke-width="0.3" transform="rotate(-8 215.1 586.6)"/><ellipse cx="215.1" cy="586.6" rx="86.8" ry="74.3" fill="#cccaba" stroke="#b2b0a3" stroke-width="0.3" transform="rotate(-8 215.1 586.6)"/><ellipse cx="215.1" cy="586.6" rx="85.1" ry="72.6" fill="#d0cebd" stroke="#b2b0a3" stroke-width="0.3" transform="rotate(-8 215.1 586.6)"/><ellipse cx="215.1" cy="586.6" rx="83.4" ry="70.9" fill="#d3d1c0" stroke="#b2b0a3" stroke-width="0.3" transform="rotate(-8 215.1 586.6)"/><ellipse cx="215.1" cy="586.6" rx="81.7" ry="69.2" fill="#d7d5c4" stroke="#b2b0a3" stroke-width="0.3" transform="rotate(-8 215.1 586.6)"/><ellipse cx="217.1" cy="587.1" rx="80" ry="67.5" fill="none" stroke="#96958b" stroke-width="0.6" transform="rotate(-8 217.1 587.1)"/><ellipse cx="218" cy="587.3" rx="73" ry="60.5" fill="none" stroke="#96958b" stroke-width="0.6" transform="rotate(-8 218 587.3)"/><ellipse cx="218.8" cy="587.5" rx="66" ry="53.5" fill="none" stroke="#96958b" stroke-width="0.6" transform="rotate(-8 218.8 587.5)"/><ellipse cx="219.7" cy="587.7" rx="59" ry="46.5" fill="none" stroke="#96958b" stroke-width="0.6" transform="rotate(-8 219.7 587.7)"/><ellipse cx="220.5" cy="587.9" rx="52" ry="39.5" fill="none" stroke="#96958b" stroke-width="0.6" transform="rotate(-8 220.5 587.9)"/><g filter="url(#cmA)"><g opacity="0.16" filter="url(#bl1_5)"><circle cx="191.4" cy="565.8" r="23" fill="#fff"/><circle cx="229.9" cy="557.1" r="23" fill="#fff"/><circle cx="257.1" cy="579.5" r="23" fill="#fff"/><circle cx="182.2" cy="601.8" r="23" fill="#fff"/><circle cx="215.9" cy="592.6" r="23" fill="#fff"/><circle cx="240.2" cy="612.8" r="23" fill="#fff"/><path d="M191.4 565.8 L229.9 557.1 L257.1 579.5 L240.2 612.8 L215.9 592.6 L182.2 601.8 Z" fill="#fff" stroke="#fff" stroke-width="16" stroke-linejoin="round"/></g><ellipse cx="191.4" cy="565.8" rx="21" ry="24" fill="url(#pk3)" transform="rotate(-12 191.4 565.8)"/><ellipse cx="229.9" cy="557.1" rx="21" ry="24" fill="url(#pk3)" transform="rotate(-12 229.9 557.1)"/><ellipse cx="257.1" cy="579.5" rx="21" ry="24" fill="url(#pk3)" transform="rotate(-12 257.1 579.5)"/><ellipse cx="182.2" cy="601.8" rx="21" ry="24" fill="url(#pk3)" transform="rotate(-12 182.2 601.8)"/><ellipse cx="215.9" cy="592.6" rx="21" ry="24" fill="url(#pk3)" transform="rotate(-12 215.9 592.6)"/><ellipse cx="240.2" cy="612.8" rx="21" ry="24" fill="url(#pk3)" transform="rotate(-12 240.2 612.8)"/></g></g><rect x="118.5" y="489.9" width="193.2" height="191.4" fill="none" stroke="#333" stroke-width="1.6"/><text x="123.8" y="519.7" font-size="28" fill="#d4157f" font-weight="bold">3/11</text><clipPath id="clipA72"><rect x="369.7" y="484.4" width="193" height="192.6"/></clipPath><g clip-path="url(#clipA72)"><rect x="369.7" y="484.4" width="193" height="192.6" fill="#d9d7c4"/><ellipse cx="466.2" cy="581.7" rx="97" ry="84.5" fill="#bebcae" transform="rotate(-8 466.2 581.7)"/><ellipse cx="466.2" cy="581.7" rx="95.3" ry="82.8" fill="#bfbdaf" stroke="#b2b0a3" stroke-width="0.3" transform="rotate(-8 466.2 581.7)"/><ellipse cx="466.2" cy="581.7" rx="93.6" ry="81.1" fill="#c1bfb1" stroke="#b2b0a3" stroke-width="0.3" transform="rotate(-8 466.2 581.7)"/><ellipse cx="466.2" cy="581.7" rx="91.9" ry="79.4" fill="#c3c1b3" stroke="#b2b0a3" stroke-width="0.3" transform="rotate(-8 466.2 581.7)"/><ellipse cx="466.2" cy="581.7" rx="90.2" ry="77.7" fill="#c6c4b5" stroke="#b2b0a3" stroke-width="0.3" transform="rotate(-8 466.2 581.7)"/><ellipse cx="466.2" cy="581.7" rx="88.5" ry="76" fill="#c9c7b8" stroke="#b2b0a3" stroke-width="0.3" transform="rotate(-8 466.2 581.7)"/><ellipse cx="466.2" cy="581.7" rx="86.8" ry="74.3" fill="#cccaba" stroke="#b2b0a3" stroke-width="0.3" transform="rotate(-8 466.2 581.7)"/><ellipse cx="466.2" cy="581.7" rx="85.1" ry="72.6" fill="#d0cebd" stroke="#b2b0a3" stroke-width="0.3" transform="rotate(-8 466.2 581.7)"/><ellipse cx="466.2" cy="581.7" rx="83.4" ry="70.9" fill="#d3d1c0" stroke="#b2b0a3" stroke-width="0.3" transform="rotate(-8 466.2 581.7)"/><ellipse cx="466.2" cy="581.7" rx="81.7" ry="69.2" fill="#d7d5c4" stroke="#b2b0a3" stroke-width="0.3" transform="rotate(-8 466.2 581.7)"/><ellipse cx="468.2" cy="582.2" rx="80" ry="67.5" fill="none" stroke="#96958b" stroke-width="0.6" transform="rotate(-8 468.2 582.2)"/><ellipse cx="469.1" cy="582.4" rx="73" ry="60.5" fill="none" stroke="#96958b" stroke-width="0.6" transform="rotate(-8 469.1 582.4)"/><ellipse cx="469.9" cy="582.6" rx="66" ry="53.5" fill="none" stroke="#96958b" stroke-width="0.6" transform="rotate(-8 469.9 582.6)"/><ellipse cx="470.8" cy="582.8" rx="59" ry="46.5" fill="none" stroke="#96958b" stroke-width="0.6" transform="rotate(-8 470.8 582.8)"/><ellipse cx="471.6" cy="583" rx="52" ry="39.5" fill="none" stroke="#96958b" stroke-width="0.6" transform="rotate(-8 471.6 583)"/><g filter="url(#cmA)"><g opacity="0.16" filter="url(#bl1_5)"><circle cx="436.6" cy="572" r="23" fill="#fff"/><circle cx="469.8" cy="566.2" r="23" fill="#fff"/><circle cx="501.9" cy="569.2" r="23" fill="#fff"/><circle cx="435" cy="605.7" r="23" fill="#fff"/><circle cx="469.8" cy="608" r="23" fill="#fff"/><circle cx="501.5" cy="605.2" r="23" fill="#fff"/><path d="M436.6 572 L469.8 566.2 L501.9 569.2 L501.5 605.2 L469.8 608 L435 605.7 Z" fill="#fff" stroke="#fff" stroke-width="16" stroke-linejoin="round"/></g><ellipse cx="436.6" cy="572" rx="21" ry="24" fill="url(#pk3)" transform="rotate(-12 436.6 572)"/><ellipse cx="469.8" cy="566.2" rx="21" ry="24" fill="url(#pk3)" transform="rotate(-12 469.8 566.2)"/><ellipse cx="501.9" cy="569.2" rx="21" ry="24" fill="url(#pk3)" transform="rotate(-12 501.9 569.2)"/><ellipse cx="435" cy="605.7" rx="21" ry="24" fill="url(#pk3)" transform="rotate(-12 435 605.7)"/><ellipse cx="469.8" cy="608" rx="21" ry="24" fill="url(#pk3)" transform="rotate(-12 469.8 608)"/><ellipse cx="501.5" cy="605.2" rx="21" ry="24" fill="url(#pk3)" transform="rotate(-12 501.5 605.2)"/></g></g><rect x="369.7" y="484.4" width="193" height="192.6" fill="none" stroke="#333" stroke-width="1.6"/><text x="382.7" y="513.5" font-size="28" fill="#d4157f" font-weight="bold">1/4</text><clipPath id="clipA80"><rect x="613.7" y="485.6" width="194.1" height="192.3"/></clipPath><g clip-path="url(#clipA80)"><rect x="613.7" y="485.6" width="194.1" height="192.3" fill="#d9d7c4"/><ellipse cx="710.8" cy="582.7" rx="97" ry="84.5" fill="#bebcae" transform="rotate(-8 710.8 582.7)"/><ellipse cx="710.8" cy="582.7" rx="95.3" ry="82.8" fill="#bfbdaf" stroke="#b2b0a3" stroke-width="0.3" transform="rotate(-8 710.8 582.7)"/><ellipse cx="710.8" cy="582.7" rx="93.6" ry="81.1" fill="#c1bfb1" stroke="#b2b0a3" stroke-width="0.3" transform="rotate(-8 710.8 582.7)"/><ellipse cx="710.8" cy="582.7" rx="91.9" ry="79.4" fill="#c3c1b3" stroke="#b2b0a3" stroke-width="0.3" transform="rotate(-8 710.8 582.7)"/><ellipse cx="710.8" cy="582.7" rx="90.2" ry="77.7" fill="#c6c4b5" stroke="#b2b0a3" stroke-width="0.3" transform="rotate(-8 710.8 582.7)"/><ellipse cx="710.8" cy="582.7" rx="88.5" ry="76" fill="#c9c7b8" stroke="#b2b0a3" stroke-width="0.3" transform="rotate(-8 710.8 582.7)"/><ellipse cx="710.8" cy="582.7" rx="86.8" ry="74.3" fill="#cccaba" stroke="#b2b0a3" stroke-width="0.3" transform="rotate(-8 710.8 582.7)"/><ellipse cx="710.8" cy="582.7" rx="85.1" ry="72.6" fill="#d0cebd" stroke="#b2b0a3" stroke-width="0.3" transform="rotate(-8 710.8 582.7)"/><ellipse cx="710.8" cy="582.7" rx="83.4" ry="70.9" fill="#d3d1c0" stroke="#b2b0a3" stroke-width="0.3" transform="rotate(-8 710.8 582.7)"/><ellipse cx="710.8" cy="582.7" rx="81.7" ry="69.2" fill="#d7d5c4" stroke="#b2b0a3" stroke-width="0.3" transform="rotate(-8 710.8 582.7)"/><ellipse cx="712.8" cy="583.2" rx="80" ry="67.5" fill="none" stroke="#96958b" stroke-width="0.6" transform="rotate(-8 712.8 583.2)"/><ellipse cx="713.6" cy="583.4" rx="73" ry="60.5" fill="none" stroke="#96958b" stroke-width="0.6" transform="rotate(-8 713.6 583.4)"/><ellipse cx="714.5" cy="583.6" rx="66" ry="53.5" fill="none" stroke="#96958b" stroke-width="0.6" transform="rotate(-8 714.5 583.6)"/><ellipse cx="715.3" cy="583.9" rx="59" ry="46.5" fill="none" stroke="#96958b" stroke-width="0.6" transform="rotate(-8 715.3 583.9)"/><ellipse cx="716.1" cy="584.1" rx="52" ry="39.5" fill="none" stroke="#96958b" stroke-width="0.6" transform="rotate(-8 716.1 584.1)"/><g filter="url(#cmA)"><g opacity="0.16" filter="url(#bl1_5)"><circle cx="693.2" cy="564.6" r="23" fill="#fff"/><circle cx="728.1" cy="557.8" r="23" fill="#fff"/><circle cx="749.9" cy="583" r="23" fill="#fff"/><circle cx="669.6" cy="591.5" r="23" fill="#fff"/><circle cx="701.7" cy="601.3" r="23" fill="#fff"/><circle cx="732.2" cy="611.6" r="23" fill="#fff"/><path d="M693.2 564.6 L728.1 557.8 L749.9 583 L732.2 611.6 L701.7 601.3 L669.6 591.5 Z" fill="#fff" stroke="#fff" stroke-width="16" stroke-linejoin="round"/></g><ellipse cx="693.2" cy="564.6" rx="21" ry="24" fill="url(#pk3)" transform="rotate(-12 693.2 564.6)"/><ellipse cx="728.1" cy="557.8" rx="21" ry="24" fill="url(#pk3)" transform="rotate(-12 728.1 557.8)"/><ellipse cx="749.9" cy="583" rx="21" ry="24" fill="url(#pk3)" transform="rotate(-12 749.9 583)"/><ellipse cx="669.6" cy="591.5" rx="21" ry="24" fill="url(#pk3)" transform="rotate(-12 669.6 591.5)"/><ellipse cx="701.7" cy="601.3" rx="21" ry="24" fill="url(#pk3)" transform="rotate(-12 701.7 601.3)"/><ellipse cx="732.2" cy="611.6" rx="21" ry="24" fill="url(#pk3)" transform="rotate(-12 732.2 611.6)"/></g></g><rect x="613.7" y="485.6" width="194.1" height="192.3" fill="none" stroke="#333" stroke-width="1.6"/><text x="617.6" y="510.1" font-size="28" fill="#d4157f" font-weight="bold">3/13</text><clipPath id="clipA88"><rect x="867.9" y="487.2" width="193.9" height="191.3"/></clipPath><g clip-path="url(#clipA88)"><rect x="867.9" y="487.2" width="193.9" height="191.3" fill="#d9d7c4"/><ellipse cx="964.8" cy="583.8" rx="97" ry="84.5" fill="#bebcae" transform="rotate(-8 964.8 583.8)"/><ellipse cx="964.8" cy="583.8" rx="95.3" ry="82.8" fill="#bfbdaf" stroke="#b2b0a3" stroke-width="0.3" transform="rotate(-8 964.8 583.8)"/><ellipse cx="964.8" cy="583.8" rx="93.6" ry="81.1" fill="#c1bfb1" stroke="#b2b0a3" stroke-width="0.3" transform="rotate(-8 964.8 583.8)"/><ellipse cx="964.8" cy="583.8" rx="91.9" ry="79.4" fill="#c3c1b3" stroke="#b2b0a3" stroke-width="0.3" transform="rotate(-8 964.8 583.8)"/><ellipse cx="964.8" cy="583.8" rx="90.2" ry="77.7" fill="#c6c4b5" stroke="#b2b0a3" stroke-width="0.3" transform="rotate(-8 964.8 583.8)"/><ellipse cx="964.8" cy="583.8" rx="88.5" ry="76" fill="#c9c7b8" stroke="#b2b0a3" stroke-width="0.3" transform="rotate(-8 964.8 583.8)"/><ellipse cx="964.8" cy="583.8" rx="86.8" ry="74.3" fill="#cccaba" stroke="#b2b0a3" stroke-width="0.3" transform="rotate(-8 964.8 583.8)"/><ellipse cx="964.8" cy="583.8" rx="85.1" ry="72.6" fill="#d0cebd" stroke="#b2b0a3" stroke-width="0.3" transform="rotate(-8 964.8 583.8)"/><ellipse cx="964.8" cy="583.8" rx="83.4" ry="70.9" fill="#d3d1c0" stroke="#b2b0a3" stroke-width="0.3" transform="rotate(-8 964.8 583.8)"/><ellipse cx="964.8" cy="583.8" rx="81.7" ry="69.2" fill="#d7d5c4" stroke="#b2b0a3" stroke-width="0.3" transform="rotate(-8 964.8 583.8)"/><ellipse cx="966.9" cy="584.3" rx="80" ry="67.5" fill="none" stroke="#96958b" stroke-width="0.6" transform="rotate(-8 966.9 584.3)"/><ellipse cx="967.7" cy="584.5" rx="73" ry="60.5" fill="none" stroke="#96958b" stroke-width="0.6" transform="rotate(-8 967.7 584.5)"/><ellipse cx="968.6" cy="584.7" rx="66" ry="53.5" fill="none" stroke="#96958b" stroke-width="0.6" transform="rotate(-8 968.6 584.7)"/><ellipse cx="969.4" cy="584.9" rx="59" ry="46.5" fill="none" stroke="#96958b" stroke-width="0.6" transform="rotate(-8 969.4 584.9)"/><ellipse cx="970.2" cy="585.2" rx="52" ry="39.5" fill="none" stroke="#96958b" stroke-width="0.6" transform="rotate(-8 970.2 585.2)"/><g filter="url(#cmA)"><g opacity="0.16" filter="url(#bl1_5)"><circle cx="938.5" cy="568.5" r="23" fill="#fff"/><circle cx="982.7" cy="555.5" r="23" fill="#fff"/><circle cx="1008.8" cy="583.9" r="23" fill="#fff"/><circle cx="937.3" cy="604.1" r="23" fill="#fff"/><circle cx="969.4" cy="587.6" r="23" fill="#fff"/><circle cx="985.9" cy="615.5" r="23" fill="#fff"/><path d="M938.5 568.5 L982.7 555.5 L1008.8 583.9 L985.9 615.5 L969.4 587.6 L937.3 604.1 Z" fill="#fff" stroke="#fff" stroke-width="16" stroke-linejoin="round"/></g><ellipse cx="938.5" cy="568.5" rx="21" ry="24" fill="url(#pk3)" transform="rotate(-12 938.5 568.5)"/><ellipse cx="982.7" cy="555.5" rx="21" ry="24" fill="url(#pk3)" transform="rotate(-12 982.7 555.5)"/><ellipse cx="1008.8" cy="583.9" rx="21" ry="24" fill="url(#pk3)" transform="rotate(-12 1008.8 583.9)"/><ellipse cx="937.3" cy="604.1" rx="21" ry="24" fill="url(#pk3)" transform="rotate(-12 937.3 604.1)"/><ellipse cx="969.4" cy="587.6" rx="21" ry="24" fill="url(#pk3)" transform="rotate(-12 969.4 587.6)"/><ellipse cx="985.9" cy="615.5" rx="21" ry="24" fill="url(#pk3)" transform="rotate(-12 985.9 615.5)"/></g></g><rect x="867.9" y="487.2" width="193.9" height="191.3" fill="none" stroke="#333" stroke-width="1.6"/><text x="871.3" y="511.2" font-size="28" fill="#d4157f" font-weight="bold">3/14</text><text x="567.5" y="76.8" font-size="44" fill="#111">(a)</text><rect x="1247.5" y="13.6" width="704.5" height="203.7" fill="#f6f2cb" stroke="#9a9a90" stroke-width="1.3"/><ellipse cx="1373" cy="117.4" rx="84.7" ry="73.8" fill="#d9d5ae" transform="rotate(-6 1373 117.4)"/><ellipse cx="1373" cy="117.4" rx="83" ry="72.1" fill="#dad6af" stroke="#cfcba6" stroke-width="0.3" transform="rotate(-6 1373 117.4)"/><ellipse cx="1373" cy="117.4" rx="81.3" ry="70.4" fill="#dcd8b1" stroke="#cfcba6" stroke-width="0.3" transform="rotate(-6 1373 117.4)"/><ellipse cx="1373" cy="117.4" rx="79.6" ry="68.7" fill="#dedab3" stroke="#cfcba6" stroke-width="0.3" transform="rotate(-6 1373 117.4)"/><ellipse cx="1373" cy="117.4" rx="77.9" ry="67" fill="#e1ddb6" stroke="#cfcba6" stroke-width="0.3" transform="rotate(-6 1373 117.4)"/><ellipse cx="1373" cy="117.4" rx="76.2" ry="65.3" fill="#e3dfb9" stroke="#cfcba6" stroke-width="0.3" transform="rotate(-6 1373 117.4)"/><ellipse cx="1373" cy="117.4" rx="74.5" ry="63.6" fill="#e6e2bc" stroke="#cfcba6" stroke-width="0.3" transform="rotate(-6 1373 117.4)"/><ellipse cx="1373" cy="117.4" rx="72.8" ry="61.9" fill="#e9e5c0" stroke="#cfcba6" stroke-width="0.3" transform="rotate(-6 1373 117.4)"/><ellipse cx="1373" cy="117.4" rx="71.1" ry="60.2" fill="#ece8c3" stroke="#cfcba6" stroke-width="0.3" transform="rotate(-6 1373 117.4)"/><ellipse cx="1373" cy="117.4" rx="69.4" ry="58.5" fill="#f0ecc7" stroke="#cfcba6" stroke-width="0.3" transform="rotate(-6 1373 117.4)"/><ellipse cx="1374.7" cy="117.8" rx="70.7" ry="59.8" fill="none" stroke="#b9b596" stroke-width="0.6" transform="rotate(-6 1374.7 117.8)"/><ellipse cx="1375.4" cy="118" rx="64.7" ry="53.8" fill="none" stroke="#b9b596" stroke-width="0.6" transform="rotate(-6 1375.4 118)"/><ellipse cx="1376.1" cy="118.2" rx="58.7" ry="47.8" fill="none" stroke="#b9b596" stroke-width="0.6" transform="rotate(-6 1376.1 118.2)"/><ellipse cx="1376.8" cy="118.4" rx="52.7" ry="41.8" fill="none" stroke="#b9b596" stroke-width="0.6" transform="rotate(-6 1376.8 118.4)"/><ellipse cx="1377.6" cy="118.5" rx="46.7" ry="35.8" fill="none" stroke="#b9b596" stroke-width="0.6" transform="rotate(-6 1377.6 118.5)"/><ellipse cx="1593.4" cy="115.3" rx="94.7" ry="82" fill="#d9d5ae" transform="rotate(-8 1593.4 115.3)"/><ellipse cx="1593.4" cy="115.3" rx="93" ry="80.3" fill="#dad6af" stroke="#cfcba6" stroke-width="0.3" transform="rotate(-8 1593.4 115.3)"/><ellipse cx="1593.4" cy="115.3" rx="91.3" ry="78.6" fill="#dcd8b1" stroke="#cfcba6" stroke-width="0.3" transform="rotate(-8 1593.4 115.3)"/><ellipse cx="1593.4" cy="115.3" rx="89.6" ry="76.9" fill="#dedab3" stroke="#cfcba6" stroke-width="0.3" transform="rotate(-8 1593.4 115.3)"/><ellipse cx="1593.4" cy="115.3" rx="87.9" ry="75.2" fill="#e1ddb6" stroke="#cfcba6" stroke-width="0.3" transform="rotate(-8 1593.4 115.3)"/><ellipse cx="1593.4" cy="115.3" rx="86.2" ry="73.5" fill="#e3dfb9" stroke="#cfcba6" stroke-width="0.3" transform="rotate(-8 1593.4 115.3)"/><ellipse cx="1593.4" cy="115.3" rx="84.5" ry="71.8" fill="#e6e2bc" stroke="#cfcba6" stroke-width="0.3" transform="rotate(-8 1593.4 115.3)"/><ellipse cx="1593.4" cy="115.3" rx="82.8" ry="70.1" fill="#e9e5c0" stroke="#cfcba6" stroke-width="0.3" transform="rotate(-8 1593.4 115.3)"/><ellipse cx="1593.4" cy="115.3" rx="81.1" ry="68.4" fill="#ece8c3" stroke="#cfcba6" stroke-width="0.3" transform="rotate(-8 1593.4 115.3)"/><ellipse cx="1593.4" cy="115.3" rx="79.4" ry="66.7" fill="#f0ecc7" stroke="#cfcba6" stroke-width="0.3" transform="rotate(-8 1593.4 115.3)"/><ellipse cx="1595.2" cy="115.8" rx="79.7" ry="67" fill="none" stroke="#b9b596" stroke-width="0.6" transform="rotate(-8 1595.2 115.8)"/><ellipse cx="1596" cy="116" rx="72.7" ry="60" fill="none" stroke="#b9b596" stroke-width="0.6" transform="rotate(-8 1596 116)"/><ellipse cx="1596.9" cy="116.2" rx="65.7" ry="53" fill="none" stroke="#b9b596" stroke-width="0.6" transform="rotate(-8 1596.9 116.2)"/><ellipse cx="1597.7" cy="116.4" rx="58.7" ry="46" fill="none" stroke="#b9b596" stroke-width="0.6" transform="rotate(-8 1597.7 116.4)"/><ellipse cx="1598.6" cy="116.6" rx="51.7" ry="39" fill="none" stroke="#b9b596" stroke-width="0.6" transform="rotate(-8 1598.6 116.6)"/><ellipse cx="1839.3" cy="111.5" rx="106" ry="91" fill="#d9d5ae" transform="rotate(-8 1839.3 111.5)"/><ellipse cx="1839.3" cy="111.5" rx="104.3" ry="89.3" fill="#dad6af" stroke="#cfcba6" stroke-width="0.3" transform="rotate(-8 1839.3 111.5)"/><ellipse cx="1839.3" cy="111.5" rx="102.6" ry="87.6" fill="#dcd8b1" stroke="#cfcba6" stroke-width="0.3" transform="rotate(-8 1839.3 111.5)"/><ellipse cx="1839.3" cy="111.5" rx="100.9" ry="85.9" fill="#dedab3" stroke="#cfcba6" stroke-width="0.3" transform="rotate(-8 1839.3 111.5)"/><ellipse cx="1839.3" cy="111.5" rx="99.2" ry="84.2" fill="#e1ddb6" stroke="#cfcba6" stroke-width="0.3" transform="rotate(-8 1839.3 111.5)"/><ellipse cx="1839.3" cy="111.5" rx="97.5" ry="82.5" fill="#e3dfb9" stroke="#cfcba6" stroke-width="0.3" transform="rotate(-8 1839.3 111.5)"/><ellipse cx="1839.3" cy="111.5" rx="95.8" ry="80.8" fill="#e6e2bc" stroke="#cfcba6" stroke-width="0.3" transform="rotate(-8 1839.3 111.5)"/><ellipse cx="1839.3" cy="111.5" rx="94.1" ry="79.1" fill="#e9e5c0" stroke="#cfcba6" stroke-width="0.3" transform="rotate(-8 1839.3 111.5)"/><ellipse cx="1839.3" cy="111.5" rx="92.4" ry="77.4" fill="#ece8c3" stroke="#cfcba6" stroke-width="0.3" transform="rotate(-8 1839.3 111.5)"/><ellipse cx="1839.3" cy="111.5" rx="90.7" ry="75.7" fill="#f0ecc7" stroke="#cfcba6" stroke-width="0.3" transform="rotate(-8 1839.3 111.5)"/><ellipse cx="1841.2" cy="112" rx="90" ry="75" fill="none" stroke="#b9b596" stroke-width="0.6" transform="rotate(-8 1841.2 112)"/><ellipse cx="1842.2" cy="112.2" rx="82" ry="67" fill="none" stroke="#b9b596" stroke-width="0.6" transform="rotate(-8 1842.2 112.2)"/><ellipse cx="1843.1" cy="112.5" rx="74" ry="59" fill="none" stroke="#b9b596" stroke-width="0.6" transform="rotate(-8 1843.1 112.5)"/><ellipse cx="1844.1" cy="112.7" rx="66" ry="51" fill="none" stroke="#b9b596" stroke-width="0.6" transform="rotate(-8 1844.1 112.7)"/><ellipse cx="1845.1" cy="112.9" rx="58" ry="43" fill="none" stroke="#b9b596" stroke-width="0.6" transform="rotate(-8 1845.1 112.9)"/><g filter="url(#cmA)"><ellipse cx="1378" cy="117" rx="56" ry="46" fill="#fff" opacity="0.32" filter="url(#bl2)"/><ellipse cx="1376" cy="117" rx="29" ry="21" fill="none" stroke="#fff" stroke-width="22" opacity="0.3" filter="url(#bl3)"/></g><g filter="url(#cmA)"><g opacity="0.2" filter="url(#bl2)"><circle cx="1564" cy="98" r="14" fill="#fff"/><circle cx="1562" cy="125" r="14" fill="#fff"/><circle cx="1563" cy="142" r="14" fill="#fff"/><circle cx="1610" cy="88" r="14" fill="#fff"/><circle cx="1628" cy="105" r="14" fill="#fff"/><circle cx="1640" cy="118" r="14" fill="#fff"/><circle cx="1595" cy="112" r="14" fill="#fff"/><circle cx="1605" cy="135" r="14" fill="#fff"/><circle cx="1615" cy="150" r="14" fill="#fff"/><circle cx="1585" cy="125" r="14" fill="#fff"/></g></g><g filter="url(#cmA)"><g opacity="0.18" filter="url(#bl2_5)"><rect x="1800" y="82" width="86" height="60" fill="#fff"/></g></g><circle cx="1359.1" cy="102.2" r="7.1" fill="none" stroke="#e2184e" stroke-width="4.8"/><circle cx="1381.5" cy="97" r="7.1" fill="none" stroke="#e2184e" stroke-width="4.8"/><circle cx="1398.9" cy="100.1" r="7.1" fill="none" stroke="#e2184e" stroke-width="4.8"/><circle cx="1343.8" cy="113.7" r="7.1" fill="none" stroke="#e2184e" stroke-width="4.8"/><circle cx="1373.1" cy="114.7" r="7.1" fill="none" stroke="#e2184e" stroke-width="4.8"/><circle cx="1409.3" cy="113.3" r="7.1" fill="none" stroke="#e2184e" stroke-width="4.8"/><circle cx="1350.1" cy="131.5" r="7.1" fill="none" stroke="#e2184e" stroke-width="4.8"/><circle cx="1369.6" cy="130.4" r="7.1" fill="none" stroke="#e2184e" stroke-width="4.8"/><circle cx="1388.4" cy="137.1" r="7.1" fill="none" stroke="#e2184e" stroke-width="4.8"/><circle cx="1405.5" cy="129.4" r="7.1" fill="none" stroke="#e2184e" stroke-width="4.8"/><circle cx="1564.6" cy="91.7" r="7.1" fill="none" stroke="#e2184e" stroke-width="4.8"/><circle cx="1558.3" cy="104.3" r="7.1" fill="none" stroke="#e2184e" stroke-width="4.8"/><circle cx="1571.9" cy="105.3" r="7.1" fill="none" stroke="#e2184e" stroke-width="4.8"/><circle cx="1563.5" cy="117.9" r="7.1" fill="none" stroke="#e2184e" stroke-width="4.8"/><circle cx="1558.3" cy="130.4" r="7.1" fill="none" stroke="#e2184e" stroke-width="4.8"/><circle cx="1569.8" cy="131.5" r="7.1" fill="none" stroke="#e2184e" stroke-width="4.8"/><circle cx="1561.4" cy="144" r="7.1" fill="none" stroke="#e2184e" stroke-width="4.8"/><circle cx="1607.5" cy="80.2" r="7.1" fill="none" stroke="#e2184e" stroke-width="4.8"/><circle cx="1620.7" cy="86.5" r="7.1" fill="none" stroke="#e2184e" stroke-width="4.8"/><circle cx="1610.2" cy="96.5" r="7.1" fill="none" stroke="#e2184e" stroke-width="4.8"/><circle cx="1623.2" cy="102.2" r="7.1" fill="none" stroke="#e2184e" stroke-width="4.8"/><circle cx="1637.4" cy="107.8" r="7.1" fill="none" stroke="#e2184e" stroke-width="4.8"/><circle cx="1591.8" cy="107.4" r="7.1" fill="none" stroke="#e2184e" stroke-width="4.8"/><circle cx="1603.9" cy="115.4" r="7.1" fill="none" stroke="#e2184e" stroke-width="4.8"/><circle cx="1625.7" cy="115.8" r="7.1" fill="none" stroke="#e2184e" stroke-width="4.8"/><circle cx="1639.5" cy="122.1" r="7.1" fill="none" stroke="#e2184e" stroke-width="4.8"/><circle cx="1591.8" cy="122.1" r="7.1" fill="none" stroke="#e2184e" stroke-width="4.8"/><circle cx="1604.3" cy="130.4" r="7.1" fill="none" stroke="#e2184e" stroke-width="4.8"/><circle cx="1615.8" cy="139.2" r="7.1" fill="none" stroke="#e2184e" stroke-width="4.8"/><circle cx="1603.9" cy="144.7" r="7.1" fill="none" stroke="#e2184e" stroke-width="4.8"/><circle cx="1615.8" cy="154.5" r="7.1" fill="none" stroke="#e2184e" stroke-width="4.8"/><circle cx="1798.2" cy="87.6" r="6" fill="none" stroke="#e2184e" stroke-width="5.2"/><circle cx="1814.8" cy="87.6" r="6" fill="none" stroke="#e2184e" stroke-width="5.2"/><circle cx="1798.2" cy="103.2" r="6" fill="none" stroke="#e2184e" stroke-width="5.2"/><circle cx="1814.8" cy="103.2" r="6" fill="none" stroke="#e2184e" stroke-width="5.2"/><circle cx="1833" cy="79.6" r="6" fill="none" stroke="#e2184e" stroke-width="5.2"/><circle cx="1849.6" cy="79.6" r="6" fill="none" stroke="#e2184e" stroke-width="5.2"/><circle cx="1833" cy="95.2" r="6" fill="none" stroke="#e2184e" stroke-width="5.2"/><circle cx="1849.6" cy="95.2" r="6" fill="none" stroke="#e2184e" stroke-width="5.2"/><circle cx="1868.5" cy="87" r="6" fill="none" stroke="#e2184e" stroke-width="5.2"/><circle cx="1885.1" cy="87" r="6" fill="none" stroke="#e2184e" stroke-width="5.2"/><circle cx="1868.5" cy="102.6" r="6" fill="none" stroke="#e2184e" stroke-width="5.2"/><circle cx="1885.1" cy="102.6" r="6" fill="none" stroke="#e2184e" stroke-width="5.2"/><circle cx="1796.2" cy="123.8" r="6" fill="none" stroke="#e2184e" stroke-width="5.2"/><circle cx="1812.8" cy="123.8" r="6" fill="none" stroke="#e2184e" stroke-width="5.2"/><circle cx="1796.2" cy="139.4" r="6" fill="none" stroke="#e2184e" stroke-width="5.2"/><circle cx="1812.8" cy="139.4" r="6" fill="none" stroke="#e2184e" stroke-width="5.2"/><circle cx="1833" cy="127.2" r="6" fill="none" stroke="#e2184e" stroke-width="5.2"/><circle cx="1849.6" cy="127.2" r="6" fill="none" stroke="#e2184e" stroke-width="5.2"/><circle cx="1833" cy="142.8" r="6" fill="none" stroke="#e2184e" stroke-width="5.2"/><circle cx="1849.6" cy="142.8" r="6" fill="none" stroke="#e2184e" stroke-width="5.2"/><circle cx="1869.9" cy="124.5" r="6" fill="none" stroke="#e2184e" stroke-width="5.2"/><circle cx="1886.5" cy="124.5" r="6" fill="none" stroke="#e2184e" stroke-width="5.2"/><circle cx="1869.9" cy="140.1" r="6" fill="none" stroke="#e2184e" stroke-width="5.2"/><circle cx="1886.5" cy="140.1" r="6" fill="none" stroke="#e2184e" stroke-width="5.2"/><circle cx="1359.1" cy="102.2" r="4.6" fill="#d9f1f8"/><circle cx="1359.1" cy="102.2" r="2" fill="#fff"/><circle cx="1381.5" cy="97" r="4.6" fill="#d9f1f8"/><circle cx="1381.5" cy="97" r="2" fill="#fff"/><circle cx="1398.9" cy="100.1" r="4.6" fill="#d9f1f8"/><circle cx="1398.9" cy="100.1" r="2" fill="#fff"/><circle cx="1343.8" cy="113.7" r="4.6" fill="#d9f1f8"/><circle cx="1343.8" cy="113.7" r="2" fill="#fff"/><circle cx="1373.1" cy="114.7" r="4.6" fill="#d9f1f8"/><circle cx="1373.1" cy="114.7" r="2" fill="#fff"/><circle cx="1409.3" cy="113.3" r="4.6" fill="#d9f1f8"/><circle cx="1409.3" cy="113.3" r="2" fill="#fff"/><circle cx="1350.1" cy="131.5" r="4.6" fill="#d9f1f8"/><circle cx="1350.1" cy="131.5" r="2" fill="#fff"/><circle cx="1369.6" cy="130.4" r="4.6" fill="#d9f1f8"/><circle cx="1369.6" cy="130.4" r="2" fill="#fff"/><circle cx="1388.4" cy="137.1" r="4.6" fill="#d9f1f8"/><circle cx="1388.4" cy="137.1" r="2" fill="#fff"/><circle cx="1405.5" cy="129.4" r="4.6" fill="#d9f1f8"/><circle cx="1405.5" cy="129.4" r="2" fill="#fff"/><circle cx="1564.6" cy="91.7" r="4.6" fill="#d9f1f8"/><circle cx="1564.6" cy="91.7" r="2" fill="#fff"/><circle cx="1558.3" cy="104.3" r="4.6" fill="#d9f1f8"/><circle cx="1558.3" cy="104.3" r="2" fill="#fff"/><circle cx="1571.9" cy="105.3" r="4.6" fill="#d9f1f8"/><circle cx="1571.9" cy="105.3" r="2" fill="#fff"/><circle cx="1563.5" cy="117.9" r="4.6" fill="#d9f1f8"/><circle cx="1563.5" cy="117.9" r="2" fill="#fff"/><circle cx="1558.3" cy="130.4" r="4.6" fill="#d9f1f8"/><circle cx="1558.3" cy="130.4" r="2" fill="#fff"/><circle cx="1569.8" cy="131.5" r="4.6" fill="#d9f1f8"/><circle cx="1569.8" cy="131.5" r="2" fill="#fff"/><circle cx="1561.4" cy="144" r="4.6" fill="#d9f1f8"/><circle cx="1561.4" cy="144" r="2" fill="#fff"/><circle cx="1607.5" cy="80.2" r="4.6" fill="#d9f1f8"/><circle cx="1607.5" cy="80.2" r="2" fill="#fff"/><circle cx="1620.7" cy="86.5" r="4.6" fill="#d9f1f8"/><circle cx="1620.7" cy="86.5" r="2" fill="#fff"/><circle cx="1610.2" cy="96.5" r="4.6" fill="#d9f1f8"/><circle cx="1610.2" cy="96.5" r="2" fill="#fff"/><circle cx="1623.2" cy="102.2" r="4.6" fill="#d9f1f8"/><circle cx="1623.2" cy="102.2" r="2" fill="#fff"/><circle cx="1637.4" cy="107.8" r="4.6" fill="#d9f1f8"/><circle cx="1637.4" cy="107.8" r="2" fill="#fff"/><circle cx="1591.8" cy="107.4" r="4.6" fill="#d9f1f8"/><circle cx="1591.8" cy="107.4" r="2" fill="#fff"/><circle cx="1603.9" cy="115.4" r="4.6" fill="#d9f1f8"/><circle cx="1603.9" cy="115.4" r="2" fill="#fff"/><circle cx="1625.7" cy="115.8" r="4.6" fill="#d9f1f8"/><circle cx="1625.7" cy="115.8" r="2" fill="#fff"/><circle cx="1639.5" cy="122.1" r="4.6" fill="#d9f1f8"/><circle cx="1639.5" cy="122.1" r="2" fill="#fff"/><circle cx="1591.8" cy="122.1" r="4.6" fill="#d9f1f8"/><circle cx="1591.8" cy="122.1" r="2" fill="#fff"/><circle cx="1604.3" cy="130.4" r="4.6" fill="#d9f1f8"/><circle cx="1604.3" cy="130.4" r="2" fill="#fff"/><circle cx="1615.8" cy="139.2" r="4.6" fill="#d9f1f8"/><circle cx="1615.8" cy="139.2" r="2" fill="#fff"/><circle cx="1603.9" cy="144.7" r="4.6" fill="#d9f1f8"/><circle cx="1603.9" cy="144.7" r="2" fill="#fff"/><circle cx="1615.8" cy="154.5" r="4.6" fill="#d9f1f8"/><circle cx="1615.8" cy="154.5" r="2" fill="#fff"/><circle cx="1798.2" cy="87.6" r="3.4" fill="#d9f1f8"/><circle cx="1798.2" cy="87.6" r="1.6" fill="#fff"/><circle cx="1814.8" cy="87.6" r="3.4" fill="#d9f1f8"/><circle cx="1814.8" cy="87.6" r="1.6" fill="#fff"/><circle cx="1798.2" cy="103.2" r="3.4" fill="#d9f1f8"/><circle cx="1798.2" cy="103.2" r="1.6" fill="#fff"/><circle cx="1814.8" cy="103.2" r="3.4" fill="#d9f1f8"/><circle cx="1814.8" cy="103.2" r="1.6" fill="#fff"/><circle cx="1833" cy="79.6" r="3.4" fill="#d9f1f8"/><circle cx="1833" cy="79.6" r="1.6" fill="#fff"/><circle cx="1849.6" cy="79.6" r="3.4" fill="#d9f1f8"/><circle cx="1849.6" cy="79.6" r="1.6" fill="#fff"/><circle cx="1833" cy="95.2" r="3.4" fill="#d9f1f8"/><circle cx="1833" cy="95.2" r="1.6" fill="#fff"/><circle cx="1849.6" cy="95.2" r="3.4" fill="#d9f1f8"/><circle cx="1849.6" cy="95.2" r="1.6" fill="#fff"/><circle cx="1868.5" cy="87" r="3.4" fill="#d9f1f8"/><circle cx="1868.5" cy="87" r="1.6" fill="#fff"/><circle cx="1885.1" cy="87" r="3.4" fill="#d9f1f8"/><circle cx="1885.1" cy="87" r="1.6" fill="#fff"/><circle cx="1868.5" cy="102.6" r="3.4" fill="#d9f1f8"/><circle cx="1868.5" cy="102.6" r="1.6" fill="#fff"/><circle cx="1885.1" cy="102.6" r="3.4" fill="#d9f1f8"/><circle cx="1885.1" cy="102.6" r="1.6" fill="#fff"/><circle cx="1796.2" cy="123.8" r="3.4" fill="#d9f1f8"/><circle cx="1796.2" cy="123.8" r="1.6" fill="#fff"/><circle cx="1812.8" cy="123.8" r="3.4" fill="#d9f1f8"/><circle cx="1812.8" cy="123.8" r="1.6" fill="#fff"/><circle cx="1796.2" cy="139.4" r="3.4" fill="#d9f1f8"/><circle cx="1796.2" cy="139.4" r="1.6" fill="#fff"/><circle cx="1812.8" cy="139.4" r="3.4" fill="#d9f1f8"/><circle cx="1812.8" cy="139.4" r="1.6" fill="#fff"/><circle cx="1833" cy="127.2" r="3.4" fill="#d9f1f8"/><circle cx="1833" cy="127.2" r="1.6" fill="#fff"/><circle cx="1849.6" cy="127.2" r="3.4" fill="#d9f1f8"/><circle cx="1849.6" cy="127.2" r="1.6" fill="#fff"/><circle cx="1833" cy="142.8" r="3.4" fill="#d9f1f8"/><circle cx="1833" cy="142.8" r="1.6" fill="#fff"/><circle cx="1849.6" cy="142.8" r="3.4" fill="#d9f1f8"/><circle cx="1849.6" cy="142.8" r="1.6" fill="#fff"/><circle cx="1869.9" cy="124.5" r="3.4" fill="#d9f1f8"/><circle cx="1869.9" cy="124.5" r="1.6" fill="#fff"/><circle cx="1886.5" cy="124.5" r="3.4" fill="#d9f1f8"/><circle cx="1886.5" cy="124.5" r="1.6" fill="#fff"/><circle cx="1869.9" cy="140.1" r="3.4" fill="#d9f1f8"/><circle cx="1869.9" cy="140.1" r="1.6" fill="#fff"/><circle cx="1886.5" cy="140.1" r="3.4" fill="#d9f1f8"/><circle cx="1886.5" cy="140.1" r="1.6" fill="#fff"/><text x="1254" y="211.2" font-size="36" fill="#d4157f" font-weight="bold">3/5</text><text x="1465" y="208.3" font-size="36" fill="#d4157f" font-weight="bold">2/7</text><text x="1716" y="208.3" font-size="36" fill="#d4157f" font-weight="bold">1/4</text><text x="1477" y="61.6" font-size="40.7" fill="#111">(f)</text><rect x="1251" y="286.7" width="697.6" height="195.7" fill="#f8bec0"/><path d="M1310 407.5 L1337 408.4" fill="none" stroke="#6cbf45" stroke-width="5.5" stroke-linecap="butt" stroke-linejoin="round"/><path d="M1462.4 395.8 L1667.4 356.5 L1948.6 300.3" fill="none" stroke="#6cbf45" stroke-width="5.5" stroke-linecap="butt" stroke-linejoin="round"/><path d="M1251.7 410.2 L1290 409.5 L1310 407.5 L1318 414 L1326 426.3 L1331 418 L1337 408.4 L1365.6 409.3 L1401.4 404.8 L1437.3 398.5 L1460.6 394 L1464 397.6 L1465 413.8 L1496.5 413.8 L1499 423.6 L1509 426.3 L1514.4 430.8 L1541.3 429 L1552 439.8 L1566.5 439.8 L1589.8 447.8 L1608.4 445 L1630.6 446.9 L1650 454 L1682.2 464.4 L1774.4 467.1 L1872 471.7" fill="none" stroke="#e41e26" stroke-width="5" stroke-linecap="round" stroke-linejoin="miter"/><circle cx="1569.1" cy="356.4" r="17" fill="#9cc9b5" stroke="#8d9b92" stroke-width="1.5"/><circle cx="1561" cy="357" r="6.6" fill="#d9f1f8" stroke="#e2184e" stroke-width="4.4"/><circle cx="1577.5" cy="357" r="6.6" fill="#d9f1f8" stroke="#e2184e" stroke-width="4.4"/><circle cx="1561" cy="357" r="1.8" fill="#fff"/><circle cx="1577.5" cy="357" r="1.8" fill="#fff"/><circle cx="1688.6" cy="360.2" r="19.5" fill="#9cc9b5" stroke="#8d9b92" stroke-width="1.5"/><circle cx="1680.3" cy="354.7" r="6.9" fill="#d9f1f8" stroke="#e2184e" stroke-width="4.6"/><circle cx="1697.9" cy="355.6" r="6.9" fill="#d9f1f8" stroke="#e2184e" stroke-width="4.6"/><circle cx="1689.6" cy="369.4" r="6.9" fill="#d9f1f8" stroke="#e2184e" stroke-width="4.6"/><circle cx="1680.3" cy="354.7" r="1.8" fill="#fff"/><circle cx="1697.9" cy="355.6" r="1.8" fill="#fff"/><circle cx="1689.6" cy="369.4" r="1.8" fill="#fff"/><circle cx="1856.4" cy="361.1" r="20.5" fill="#9cc9b5" stroke="#8d9b92" stroke-width="1.5"/><circle cx="1856.4" cy="350" r="6.8" fill="#d9f1f8" stroke="#e2184e" stroke-width="4.6"/><circle cx="1845.3" cy="361.1" r="6.8" fill="#d9f1f8" stroke="#e2184e" stroke-width="4.6"/><circle cx="1867.5" cy="362" r="6.8" fill="#d9f1f8" stroke="#e2184e" stroke-width="4.6"/><circle cx="1856.4" cy="372.2" r="6.8" fill="#d9f1f8" stroke="#e2184e" stroke-width="4.6"/><circle cx="1856.4" cy="350" r="1.8" fill="#fff"/><circle cx="1845.3" cy="361.1" r="1.8" fill="#fff"/><circle cx="1867.5" cy="362" r="1.8" fill="#fff"/><circle cx="1856.4" cy="372.2" r="1.8" fill="#fff"/><line x1="1323.8" y1="359" x2="1323.8" y2="384.8" stroke="#5a4cb0" stroke-width="2.2" stroke-linecap="butt"/><path d="M1317.6 382.8 L1330 382.8 L1323.8 404.8 Z" fill="#5a4cb0"/><text x="1302.5" y="358.2" font-size="30.5" fill="#5a4cb0" font-weight="bold">5/3</text><line x1="1472.8" y1="347.4" x2="1472.8" y2="370.4" stroke="#5a4cb0" stroke-width="2.2" stroke-linecap="butt"/><path d="M1466.6 368.4 L1479 368.4 L1472.8 390.4 Z" fill="#5a4cb0"/><text x="1453" y="349.2" font-size="30.5" fill="#5a4cb0" font-weight="bold">5/7</text><line x1="1513.5" y1="391.3" x2="1513.5" y2="415.3" stroke="#5a4cb0" stroke-width="2.2" stroke-linecap="butt"/><path d="M1507.3 413.3 L1519.7 413.3 L1513.5 435.3 Z" fill="#5a4cb0"/><text x="1496" y="383.3" font-size="30.5" fill="#5a4cb0" font-weight="bold">3/5</text><line x1="1556.6" y1="392.2" x2="1556.6" y2="416.2" stroke="#5a4cb0" stroke-width="2.2" stroke-linecap="butt"/><path d="M1550.4 414.2 L1562.8 414.2 L1556.6 436.2 Z" fill="#5a4cb0"/><text x="1565.6" y="417.4" font-size="30.5" fill="#5a4cb0" font-weight="bold">1/2</text><line x1="1685.9" y1="419.2" x2="1685.9" y2="441.6" stroke="#5a4cb0" stroke-width="2.2" stroke-linecap="butt"/><path d="M1679.7 439.6 L1692.1 439.6 L1685.9 461.6 Z" fill="#5a4cb0"/><text x="1664.5" y="416.4" font-size="30.5" fill="#5a4cb0" font-weight="bold">1/3</text><line x1="1858.3" y1="422.9" x2="1858.3" y2="446.2" stroke="#5a4cb0" stroke-width="2.2" stroke-linecap="butt"/><path d="M1852.1 444.2 L1864.5 444.2 L1858.3 466.2 Z" fill="#5a4cb0"/><text x="1836" y="422.9" font-size="30.5" fill="#5a4cb0" font-weight="bold">1/4</text><text x="1746" y="325.2" font-size="34" fill="#111" font-style="italic">e</text><text x="1737" y="447.8" font-size="34" fill="#111" font-style="italic">e</text><text x="1757" y="458" font-size="24" fill="#111" font-style="italic">m</text><text x="1490" y="328" font-size="41.7" fill="#111">(e)</text><rect x="1251" y="286.7" width="697.6" height="195.7" fill="none" stroke="#000" stroke-width="2.4"/><line x1="1251.3" y1="482.4" x2="1251.3" y2="495.4" stroke="#000" stroke-width="2.4" stroke-linecap="butt"/><line x1="1295" y1="482.4" x2="1295" y2="488.9" stroke="#000" stroke-width="2.4" stroke-linecap="butt"/><line x1="1295" y1="286.7" x2="1295" y2="293.2" stroke="#000" stroke-width="2.4" stroke-linecap="butt"/><line x1="1338.7" y1="482.4" x2="1338.7" y2="488.9" stroke="#000" stroke-width="2.4" stroke-linecap="butt"/><line x1="1338.7" y1="286.7" x2="1338.7" y2="293.2" stroke="#000" stroke-width="2.4" stroke-linecap="butt"/><line x1="1382.4" y1="482.4" x2="1382.4" y2="488.9" stroke="#000" stroke-width="2.4" stroke-linecap="butt"/><line x1="1382.4" y1="286.7" x2="1382.4" y2="293.2" stroke="#000" stroke-width="2.4" stroke-linecap="butt"/><line x1="1426.1" y1="482.4" x2="1426.1" y2="488.9" stroke="#000" stroke-width="2.4" stroke-linecap="butt"/><line x1="1426.1" y1="286.7" x2="1426.1" y2="293.2" stroke="#000" stroke-width="2.4" stroke-linecap="butt"/><line x1="1469.8" y1="482.4" x2="1469.8" y2="495.4" stroke="#000" stroke-width="2.4" stroke-linecap="butt"/><line x1="1469.8" y1="286.7" x2="1469.8" y2="298.7" stroke="#000" stroke-width="2.4" stroke-linecap="butt"/><line x1="1513.5" y1="482.4" x2="1513.5" y2="488.9" stroke="#000" stroke-width="2.4" stroke-linecap="butt"/><line x1="1513.5" y1="286.7" x2="1513.5" y2="293.2" stroke="#000" stroke-width="2.4" stroke-linecap="butt"/><line x1="1557.2" y1="482.4" x2="1557.2" y2="488.9" stroke="#000" stroke-width="2.4" stroke-linecap="butt"/><line x1="1557.2" y1="286.7" x2="1557.2" y2="293.2" stroke="#000" stroke-width="2.4" stroke-linecap="butt"/><line x1="1600.9" y1="482.4" x2="1600.9" y2="488.9" stroke="#000" stroke-width="2.4" stroke-linecap="butt"/><line x1="1600.9" y1="286.7" x2="1600.9" y2="293.2" stroke="#000" stroke-width="2.4" stroke-linecap="butt"/><line x1="1644.6" y1="482.4" x2="1644.6" y2="488.9" stroke="#000" stroke-width="2.4" stroke-linecap="butt"/><line x1="1644.6" y1="286.7" x2="1644.6" y2="293.2" stroke="#000" stroke-width="2.4" stroke-linecap="butt"/><line x1="1688.3" y1="482.4" x2="1688.3" y2="495.4" stroke="#000" stroke-width="2.4" stroke-linecap="butt"/><line x1="1688.3" y1="286.7" x2="1688.3" y2="298.7" stroke="#000" stroke-width="2.4" stroke-linecap="butt"/><line x1="1732" y1="482.4" x2="1732" y2="488.9" stroke="#000" stroke-width="2.4" stroke-linecap="butt"/><line x1="1732" y1="286.7" x2="1732" y2="293.2" stroke="#000" stroke-width="2.4" stroke-linecap="butt"/><line x1="1775.7" y1="482.4" x2="1775.7" y2="488.9" stroke="#000" stroke-width="2.4" stroke-linecap="butt"/><line x1="1775.7" y1="286.7" x2="1775.7" y2="293.2" stroke="#000" stroke-width="2.4" stroke-linecap="butt"/><line x1="1819.4" y1="482.4" x2="1819.4" y2="488.9" stroke="#000" stroke-width="2.4" stroke-linecap="butt"/><line x1="1819.4" y1="286.7" x2="1819.4" y2="293.2" stroke="#000" stroke-width="2.4" stroke-linecap="butt"/><line x1="1863.1" y1="482.4" x2="1863.1" y2="488.9" stroke="#000" stroke-width="2.4" stroke-linecap="butt"/><line x1="1863.1" y1="286.7" x2="1863.1" y2="293.2" stroke="#000" stroke-width="2.4" stroke-linecap="butt"/><line x1="1906.8" y1="482.4" x2="1906.8" y2="495.4" stroke="#000" stroke-width="2.4" stroke-linecap="butt"/><line x1="1906.8" y1="286.7" x2="1906.8" y2="298.7" stroke="#000" stroke-width="2.4" stroke-linecap="butt"/><line x1="1950.5" y1="482.4" x2="1950.5" y2="488.9" stroke="#000" stroke-width="2.4" stroke-linecap="butt"/><text x="1251.3" y="529.5" font-size="29.5" fill="#111" text-anchor="middle">0</text><text x="1469.8" y="529.5" font-size="29.5" fill="#111" text-anchor="middle">5</text><text x="1688.3" y="529.5" font-size="29.5" fill="#111" text-anchor="middle">10</text><text x="1906.8" y="529.5" font-size="29.5" fill="#111" text-anchor="middle">15</text><line x1="1244.5" y1="304.8" x2="1251" y2="304.8" stroke="#000" stroke-width="2.4" stroke-linecap="butt"/><line x1="1948.6" y1="304.8" x2="1942.1" y2="304.8" stroke="#000" stroke-width="2.4" stroke-linecap="butt"/><line x1="1244.5" y1="325.7" x2="1251" y2="325.7" stroke="#000" stroke-width="2.4" stroke-linecap="butt"/><line x1="1948.6" y1="325.7" x2="1942.1" y2="325.7" stroke="#000" stroke-width="2.4" stroke-linecap="butt"/><line x1="1244.5" y1="346.6" x2="1251" y2="346.6" stroke="#000" stroke-width="2.4" stroke-linecap="butt"/><line x1="1948.6" y1="346.6" x2="1942.1" y2="346.6" stroke="#000" stroke-width="2.4" stroke-linecap="butt"/><line x1="1244.5" y1="367.5" x2="1251" y2="367.5" stroke="#000" stroke-width="2.4" stroke-linecap="butt"/><line x1="1948.6" y1="367.5" x2="1942.1" y2="367.5" stroke="#000" stroke-width="2.4" stroke-linecap="butt"/><line x1="1237" y1="388.4" x2="1251" y2="388.4" stroke="#000" stroke-width="2.4" stroke-linecap="butt"/><line x1="1948.6" y1="388.4" x2="1934.6" y2="388.4" stroke="#000" stroke-width="2.4" stroke-linecap="butt"/><line x1="1244.5" y1="409.3" x2="1251" y2="409.3" stroke="#000" stroke-width="2.4" stroke-linecap="butt"/><line x1="1948.6" y1="409.3" x2="1942.1" y2="409.3" stroke="#000" stroke-width="2.4" stroke-linecap="butt"/><line x1="1244.5" y1="430.2" x2="1251" y2="430.2" stroke="#000" stroke-width="2.4" stroke-linecap="butt"/><line x1="1948.6" y1="430.2" x2="1942.1" y2="430.2" stroke="#000" stroke-width="2.4" stroke-linecap="butt"/><line x1="1244.5" y1="451.1" x2="1251" y2="451.1" stroke="#000" stroke-width="2.4" stroke-linecap="butt"/><line x1="1948.6" y1="451.1" x2="1942.1" y2="451.1" stroke="#000" stroke-width="2.4" stroke-linecap="butt"/><line x1="1244.5" y1="472" x2="1251" y2="472" stroke="#000" stroke-width="2.4" stroke-linecap="butt"/><line x1="1948.6" y1="472" x2="1942.1" y2="472" stroke="#000" stroke-width="2.4" stroke-linecap="butt"/><text x="1226" y="397.3" font-size="29.5" fill="#111" text-anchor="end">100</text><text transform="translate(1165.5 455) rotate(-90)" font-size="34.5" fill="#111">E<tspan font-size="22" dy="8.5">tot</tspan><tspan dy="-8.5"> (meV)</tspan></text><clipPath id="clipC"><rect x="1251" y="742.8" width="697" height="651.2"/></clipPath><g clip-path="url(#clipC)"><rect x="1251" y="742.8" width="697" height="651.2" fill="#93d7e7"/><path d="M1943 790L1946 789L1949 789L1952 788L1952 790L1952 793L1952 796L1952 799L1952 802L1952 805L1952 808L1952 811L1952 814L1952 817L1952 820L1952 823L1952 826L1952 829L1952 832L1952 835L1952 838L1952 841L1952 844L1952 847L1952 850L1952 853L1952 856L1952 859L1952 862L1952 862L1949 863L1946 864L1944 865L1943 865L1940 866L1937 867L1936 868L1934 868L1931 869L1928 870L1927 871L1925 872L1922 873L1919 874L1918 874L1916 875L1913 876L1910 876L1909 877L1907 877L1904 878L1901 879L1899 880L1898 880L1895 881L1892 882L1889 883L1889 883L1886 884L1883 885L1880 885L1878 886L1877 886L1874 887L1871 888L1868 889L1867 889L1865 889L1862 890L1859 891L1856 891L1854 892L1853 892L1850 893L1847 894L1844 894L1841 895L1841 895L1838 895L1835 896L1832 897L1829 897L1826 898L1826 898L1823 899L1820 899L1817 900L1814 900L1811 901L1810 901L1808 901L1805 902L1802 902L1799 903L1796 903L1793 904L1793 904L1790 904L1787 905L1784 905L1781 906L1778 906L1775 907L1773 907L1772 907L1769 907L1766 908L1763 908L1760 909L1757 909L1754 909L1752 910L1751 910L1748 910L1745 911L1742 911L1739 912L1736 912L1733 913L1732 913L1730 913L1727 914L1724 914L1721 915L1718 915L1716 916L1715 916L1712 917L1709 917L1706 918L1703 918L1701 919L1700 919L1697 920L1694 920L1691 921L1688 921L1686 922L1685 922L1682 923L1679 923L1676 924L1673 925L1672 925L1670 925L1667 926L1664 927L1661 927L1658 928L1658 928L1655 928L1652 929L1649 930L1646 930L1643 931L1642 931L1640 931L1637 932L1634 932L1631 933L1628 933L1625 934L1625 934L1622 934L1619 935L1616 935L1613 936L1610 936L1607 937L1605 937L1604 937L1601 937L1598 938L1595 938L1592 939L1589 939L1586 939L1583 940L1581 940L1580 940L1577 940L1574 941L1571 941L1568 941L1565 942L1562 942L1559 942L1556 942L1553 943L1550 943L1550 943L1547 943L1544 943L1541 944L1538 944L1535 944L1532 944L1529 945L1526 945L1523 945L1520 945L1517 946L1514 946L1513 946L1511 946L1508 946L1505 947L1502 947L1499 947L1496 947L1493 947L1490 948L1487 948L1484 948L1481 948L1478 949L1476 949L1475 949L1472 949L1469 949L1466 950L1463 950L1460 950L1457 950L1454 951L1451 951L1448 951L1445 951L1442 952L1440 952L1439 952L1436 952L1433 952L1430 953L1427 953L1424 953L1421 953L1418 954L1415 954L1412 954L1409 954L1406 955L1403 955L1402 955L1400 955L1397 955L1394 955L1391 956L1388 956L1385 956L1382 956L1379 956L1376 957L1373 957L1370 957L1367 957L1364 957L1361 957L1358 958L1355 958L1354 958L1352 958L1349 958L1346 958L1343 958L1340 959L1337 959L1334 959L1331 959L1328 959L1325 959L1322 959L1319 959L1316 959L1313 960L1310 960L1307 960L1304 960L1301 960L1298 960L1295 960L1292 960L1289 960L1286 960L1283 960L1280 960L1277 960L1274 960L1271 960L1268 960L1265 960L1262 960L1259 960L1256 960L1253 960L1250 960L1247 960L1247 958L1247 955L1247 952L1247 949L1247 946L1247 943L1247 940L1247 937L1247 934L1247 931L1247 928L1247 925L1247 922L1247 919L1247 916L1247 913L1247 910L1247 907L1247 904L1247 901L1247 899L1250 899L1253 899L1256 899L1259 899L1262 899L1265 899L1268 899L1271 899L1274 899L1277 899L1280 898L1283 898L1286 898L1289 898L1292 898L1295 898L1298 898L1301 898L1304 898L1307 898L1310 898L1311 898L1313 898L1316 898L1319 898L1322 897L1325 897L1328 897L1331 897L1334 897L1337 897L1340 897L1343 897L1346 896L1349 896L1352 896L1355 896L1358 896L1361 896L1364 895L1367 895L1370 895L1373 895L1376 895L1376 895L1379 895L1382 894L1385 894L1388 894L1391 894L1394 893L1397 893L1400 893L1403 893L1406 893L1409 892L1412 892L1415 892L1416 892L1418 892L1421 891L1424 891L1427 891L1430 890L1433 890L1436 890L1439 890L1442 889L1445 889L1447 889L1448 889L1451 888L1454 888L1457 888L1460 887L1463 887L1466 887L1469 886L1472 886L1473 886L1475 885L1478 885L1481 885L1484 884L1487 884L1490 883L1493 883L1494 883L1496 882L1499 882L1502 882L1505 881L1508 881L1511 880L1513 880L1514 880L1517 879L1520 878L1523 878L1526 877L1529 877L1530 877L1532 876L1535 876L1538 875L1541 875L1544 874L1546 874L1547 874L1550 873L1553 872L1556 872L1559 871L1562 871L1562 871L1565 870L1568 870L1571 869L1574 868L1577 868L1577 868L1580 867L1583 867L1586 866L1589 866L1592 865L1593 865L1595 864L1598 864L1601 863L1604 863L1607 862L1610 862L1610 862L1613 861L1616 861L1619 860L1622 860L1625 859L1627 859L1628 859L1631 858L1634 858L1637 857L1640 857L1643 856L1645 856L1646 856L1649 855L1652 855L1655 854L1658 854L1661 853L1664 853L1664 853L1667 852L1670 852L1673 851L1676 851L1679 850L1682 850L1684 850L1685 850L1688 849L1691 849L1694 848L1697 848L1700 847L1703 847L1703 847L1706 846L1709 846L1712 845L1715 845L1718 844L1720 844L1721 844L1724 843L1727 842L1730 842L1733 841L1735 841L1736 841L1739 840L1742 839L1745 838L1748 838L1748 838L1751 837L1754 836L1757 835L1760 835L1760 835L1763 834L1766 833L1769 832L1770 832L1772 831L1775 830L1778 830L1781 829L1781 829L1784 828L1787 827L1790 826L1791 826L1793 825L1796 824L1799 823L1801 823L1802 822L1805 822L1808 821L1811 820L1811 820L1814 819L1817 818L1820 817L1821 817L1823 816L1826 815L1829 815L1832 814L1832 814L1835 813L1838 812L1841 811L1843 811L1844 810L1847 810L1850 809L1853 808L1854 808L1856 807L1859 807L1862 806L1865 805L1867 805L1868 804L1871 804L1874 803L1877 802L1880 802L1880 802L1883 801L1886 800L1889 800L1892 799L1894 799L1895 798L1898 798L1901 797L1904 797L1907 796L1909 796L1910 796L1913 795L1916 794L1919 794L1922 793L1925 793L1925 793L1928 792L1931 792L1934 791L1937 791L1940 790L1943 790ZM1952 901L1952 901L1952 904L1952 907L1952 910L1952 913L1952 916L1952 919L1952 922L1952 925L1952 928L1952 931L1952 934L1952 937L1952 940L1952 943L1952 946L1952 949L1952 952L1952 955L1952 958L1952 961L1952 964L1952 967L1952 970L1952 973L1952 976L1952 979L1952 982L1952 985L1952 988L1952 991L1952 994L1952 997L1952 1000L1952 1003L1952 1006L1952 1009L1952 1012L1952 1015L1952 1018L1952 1021L1952 1024L1952 1027L1952 1030L1952 1033L1952 1036L1952 1039L1952 1042L1952 1045L1952 1048L1952 1051L1952 1054L1952 1057L1952 1060L1952 1063L1952 1066L1952 1069L1952 1072L1952 1075L1952 1078L1952 1081L1952 1084L1952 1087L1952 1090L1952 1093L1952 1096L1952 1099L1952 1102L1952 1105L1952 1108L1952 1111L1952 1114L1952 1117L1952 1120L1952 1123L1952 1126L1952 1129L1952 1132L1952 1135L1952 1138L1952 1141L1952 1144L1952 1147L1952 1150L1952 1153L1952 1156L1952 1159L1952 1162L1952 1165L1952 1168L1952 1171L1952 1174L1952 1177L1952 1180L1952 1183L1952 1186L1952 1189L1952 1192L1952 1195L1952 1198L1952 1201L1952 1204L1952 1207L1952 1210L1952 1213L1952 1216L1952 1219L1952 1222L1952 1225L1952 1228L1952 1231L1952 1234L1952 1237L1952 1240L1952 1243L1952 1246L1952 1249L1952 1252L1952 1255L1952 1258L1952 1261L1952 1264L1952 1267L1952 1270L1952 1273L1952 1276L1952 1279L1952 1282L1952 1285L1952 1288L1952 1291L1952 1294L1952 1297L1952 1300L1952 1303L1952 1306L1952 1309L1952 1312L1952 1315L1952 1318L1952 1321L1952 1323L1949 1323L1946 1323L1943 1323L1940 1323L1937 1323L1934 1323L1931 1324L1929 1324L1928 1324L1925 1324L1922 1324L1919 1325L1916 1325L1913 1325L1910 1325L1907 1326L1904 1326L1901 1326L1898 1327L1896 1327L1895 1327L1892 1327L1889 1328L1886 1328L1883 1328L1880 1329L1877 1329L1874 1330L1874 1330L1871 1330L1868 1331L1865 1331L1862 1332L1859 1332L1856 1333L1855 1333L1853 1333L1850 1334L1847 1334L1844 1335L1841 1336L1840 1336L1838 1336L1835 1337L1832 1338L1829 1338L1827 1339L1826 1339L1823 1340L1820 1341L1817 1341L1815 1342L1814 1342L1811 1343L1808 1344L1805 1345L1805 1345L1802 1346L1799 1347L1796 1348L1795 1348L1793 1349L1790 1350L1787 1351L1787 1351L1784 1352L1781 1353L1779 1354L1778 1354L1775 1355L1772 1356L1771 1357L1769 1358L1766 1359L1764 1360L1763 1360L1760 1362L1758 1363L1757 1363L1754 1365L1752 1366L1751 1367L1748 1368L1747 1369L1745 1370L1742 1372L1742 1372L1739 1374L1737 1375L1736 1376L1733 1378L1733 1378L1730 1380L1729 1381L1727 1382L1725 1384L1724 1385L1722 1387L1721 1388L1719 1390L1718 1390L1716 1393L1715 1394L1713 1396L1712 1397L1711 1399L1709 1399L1706 1399L1703 1399L1700 1399L1697 1399L1694 1399L1691 1399L1688 1399L1685 1399L1682 1399L1679 1399L1676 1399L1673 1399L1670 1399L1667 1399L1664 1399L1661 1399L1658 1399L1655 1399L1652 1399L1649 1399L1646 1399L1643 1399L1640 1399L1637 1399L1634 1399L1631 1399L1628 1399L1625 1399L1622 1399L1619 1399L1616 1399L1613 1399L1610 1399L1607 1399L1604 1399L1601 1399L1598 1399L1595 1399L1592 1399L1589 1399L1586 1399L1583 1399L1580 1399L1577 1399L1574 1399L1571 1399L1568 1399L1565 1399L1562 1399L1559 1399L1556 1399L1553 1399L1550 1399L1547 1399L1544 1399L1541 1399L1538 1399L1535 1399L1532 1399L1529 1399L1526 1399L1523 1399L1520 1399L1517 1399L1514 1399L1511 1399L1508 1399L1505 1399L1502 1399L1499 1399L1496 1399L1493 1399L1490 1399L1487 1399L1484 1399L1481 1399L1478 1399L1475 1399L1472 1399L1469 1399L1466 1399L1463 1399L1460 1399L1457 1399L1454 1399L1451 1399L1448 1399L1445 1399L1442 1399L1439 1399L1436 1399L1433 1399L1430 1399L1427 1399L1424 1399L1421 1399L1418 1399L1415 1399L1412 1399L1409 1399L1406 1399L1403 1399L1400 1399L1397 1399L1394 1399L1391 1399L1388 1399L1385 1399L1382 1399L1379 1399L1376 1399L1373 1399L1370 1399L1367 1399L1364 1399L1361 1399L1358 1399L1355 1399L1352 1399L1349 1399L1346 1399L1343 1399L1340 1399L1337 1399L1334 1399L1331 1399L1328 1399L1325 1399L1322 1399L1319 1399L1316 1399L1313 1399L1310 1399L1307 1399L1304 1399L1301 1399L1298 1399L1295 1399L1292 1399L1289 1399L1286 1399L1283 1399L1280 1399L1277 1399L1274 1399L1271 1399L1268 1399L1265 1399L1262 1399L1259 1399L1256 1399L1253 1399L1250 1399L1247 1399L1247 1396L1247 1393L1247 1390L1247 1387L1247 1384L1247 1381L1247 1378L1247 1375L1247 1372L1247 1369L1247 1366L1247 1363L1247 1360L1247 1357L1247 1354L1247 1351L1247 1348L1247 1345L1247 1342L1247 1339L1247 1336L1247 1333L1247 1330L1247 1327L1247 1324L1247 1321L1247 1318L1247 1315L1247 1312L1247 1309L1247 1306L1247 1303L1247 1300L1247 1297L1247 1294L1247 1291L1247 1288L1247 1285L1247 1282L1247 1279L1247 1276L1247 1273L1247 1270L1247 1267L1247 1264L1247 1261L1247 1258L1247 1255L1247 1252L1247 1249L1247 1246L1247 1243L1247 1240L1247 1237L1247 1234L1247 1231L1247 1228L1247 1225L1247 1222L1247 1219L1247 1216L1247 1213L1247 1210L1247 1207L1247 1204L1247 1201L1247 1198L1247 1195L1247 1192L1247 1189L1247 1186L1247 1183L1247 1180L1247 1177L1247 1174L1247 1171L1247 1168L1247 1166L1250 1166L1253 1166L1256 1167L1259 1167L1262 1167L1265 1167L1268 1167L1271 1167L1274 1167L1277 1167L1280 1167L1283 1167L1286 1167L1289 1167L1292 1167L1295 1167L1298 1168L1301 1168L1304 1168L1307 1168L1310 1167L1313 1167L1316 1167L1319 1167L1322 1167L1325 1167L1328 1167L1331 1167L1334 1167L1337 1167L1340 1167L1343 1167L1346 1167L1349 1166L1352 1166L1355 1166L1358 1166L1361 1166L1364 1166L1367 1165L1370 1165L1373 1165L1376 1165L1377 1165L1379 1165L1382 1164L1385 1164L1388 1164L1391 1164L1394 1163L1397 1163L1400 1163L1403 1162L1406 1162L1408 1162L1409 1162L1412 1161L1415 1161L1418 1160L1421 1160L1424 1160L1427 1159L1429 1159L1430 1159L1433 1158L1436 1158L1439 1157L1442 1156L1445 1156L1446 1156L1448 1155L1451 1155L1454 1154L1457 1153L1460 1153L1460 1153L1463 1152L1466 1151L1469 1150L1472 1150L1472 1150L1475 1149L1478 1148L1481 1147L1482 1147L1484 1146L1487 1145L1490 1144L1493 1144L1493 1144L1496 1143L1499 1142L1502 1141L1503 1141L1505 1140L1508 1139L1511 1139L1514 1138L1515 1138L1517 1137L1520 1136L1523 1136L1526 1135L1528 1135L1529 1135L1532 1134L1535 1133L1538 1133L1541 1132L1543 1132L1544 1132L1547 1131L1550 1130L1553 1130L1556 1129L1559 1129L1559 1129L1562 1128L1565 1128L1568 1127L1571 1126L1574 1126L1575 1126L1577 1125L1580 1125L1583 1124L1586 1124L1589 1123L1591 1123L1592 1123L1595 1122L1598 1121L1601 1121L1604 1120L1607 1120L1607 1120L1610 1119L1613 1119L1616 1118L1619 1117L1622 1117L1623 1117L1625 1116L1628 1116L1631 1115L1634 1114L1637 1114L1637 1114L1640 1113L1643 1112L1646 1112L1649 1111L1652 1111L1652 1111L1655 1110L1658 1109L1661 1109L1664 1108L1665 1108L1667 1107L1670 1106L1673 1106L1676 1105L1677 1105L1679 1104L1682 1103L1685 1102L1688 1102L1688 1102L1691 1100L1694 1099L1696 1099L1697 1098L1700 1096L1701 1096L1700 1095L1697 1094L1694 1094L1691 1094L1688 1094L1685 1095L1682 1095L1679 1095L1676 1096L1675 1096L1673 1096L1670 1097L1667 1097L1664 1098L1661 1098L1658 1099L1656 1099L1655 1099L1652 1100L1649 1100L1646 1101L1643 1101L1640 1102L1638 1102L1637 1102L1634 1103L1631 1103L1628 1104L1625 1104L1622 1105L1621 1105L1619 1105L1616 1106L1613 1106L1610 1107L1607 1107L1604 1108L1603 1108L1601 1108L1598 1109L1595 1109L1592 1110L1589 1110L1586 1110L1584 1111L1583 1111L1580 1111L1577 1112L1574 1112L1571 1113L1568 1113L1565 1114L1564 1114L1562 1114L1559 1115L1556 1115L1553 1115L1550 1116L1547 1116L1544 1117L1542 1117L1541 1117L1538 1117L1535 1118L1532 1118L1529 1119L1526 1119L1523 1119L1520 1120L1519 1120L1517 1120L1514 1120L1511 1121L1508 1121L1505 1121L1502 1122L1499 1122L1496 1122L1493 1123L1490 1123L1490 1123L1487 1123L1484 1123L1481 1124L1478 1124L1475 1124L1472 1124L1469 1125L1466 1125L1463 1125L1460 1125L1457 1125L1454 1125L1451 1126L1448 1126L1445 1126L1444 1126L1442 1126L1439 1126L1436 1126L1433 1126L1430 1126L1427 1126L1424 1126L1421 1127L1418 1127L1415 1127L1412 1127L1409 1127L1406 1127L1403 1127L1400 1127L1397 1127L1394 1127L1391 1127L1388 1127L1385 1127L1382 1127L1379 1127L1376 1127L1373 1127L1370 1127L1367 1127L1364 1127L1361 1127L1358 1127L1355 1127L1352 1127L1349 1127L1346 1127L1343 1127L1340 1127L1337 1127L1334 1127L1331 1127L1328 1127L1325 1128L1322 1128L1319 1128L1316 1128L1313 1128L1310 1128L1307 1128L1304 1128L1301 1128L1298 1128L1295 1128L1292 1128L1289 1128L1286 1128L1283 1128L1280 1128L1277 1128L1274 1128L1271 1129L1268 1129L1265 1129L1262 1129L1259 1129L1259 1129L1256 1129L1253 1129L1250 1129L1247 1129L1247 1129L1247 1126L1247 1123L1247 1120L1247 1117L1247 1114L1247 1111L1247 1108L1247 1105L1247 1102L1247 1099L1247 1096L1247 1093L1247 1091L1250 1091L1253 1091L1256 1091L1259 1091L1262 1091L1265 1091L1268 1091L1271 1091L1274 1091L1277 1091L1280 1092L1283 1092L1286 1092L1289 1092L1292 1092L1295 1092L1298 1092L1301 1092L1304 1091L1307 1091L1310 1091L1313 1091L1316 1091L1319 1091L1322 1091L1325 1091L1328 1091L1331 1091L1334 1091L1337 1090L1340 1090L1343 1090L1346 1090L1348 1090L1349 1090L1352 1090L1355 1089L1358 1089L1361 1089L1364 1089L1367 1088L1370 1088L1373 1088L1376 1088L1379 1087L1382 1087L1385 1087L1386 1087L1388 1087L1391 1086L1394 1086L1397 1086L1400 1085L1403 1085L1406 1085L1409 1084L1412 1084L1413 1084L1415 1083L1418 1083L1421 1083L1424 1082L1427 1082L1430 1081L1433 1081L1435 1081L1436 1081L1439 1080L1442 1080L1445 1079L1448 1079L1451 1078L1454 1078L1455 1078L1457 1077L1460 1077L1463 1076L1466 1076L1469 1075L1472 1075L1473 1075L1475 1074L1478 1074L1481 1073L1484 1073L1487 1072L1490 1072L1490 1072L1493 1071L1496 1071L1499 1070L1502 1070L1505 1069L1506 1069L1508 1068L1511 1068L1514 1067L1517 1067L1520 1066L1522 1066L1523 1066L1526 1065L1529 1065L1532 1064L1535 1063L1538 1063L1538 1063L1541 1062L1544 1062L1547 1061L1550 1060L1553 1060L1554 1060L1556 1059L1559 1059L1562 1058L1565 1058L1568 1057L1569 1057L1571 1056L1574 1056L1577 1055L1580 1055L1583 1054L1584 1054L1586 1053L1589 1053L1592 1052L1595 1052L1598 1051L1599 1051L1601 1050L1604 1050L1607 1049L1610 1049L1613 1048L1614 1048L1616 1047L1619 1047L1622 1046L1625 1045L1628 1045L1628 1045L1631 1044L1634 1044L1637 1043L1640 1042L1642 1042L1643 1042L1646 1041L1649 1040L1652 1040L1655 1039L1655 1039L1658 1038L1661 1037L1664 1037L1667 1036L1668 1036L1670 1035L1673 1034L1676 1034L1679 1033L1679 1033L1682 1032L1685 1031L1688 1030L1690 1030L1691 1029L1694 1028L1697 1027L1699 1027L1700 1027L1703 1025L1706 1024L1708 1024L1709 1023L1712 1022L1715 1021L1715 1021L1718 1020L1721 1018L1722 1018L1724 1017L1727 1016L1729 1015L1730 1014L1733 1013L1736 1012L1736 1012L1739 1010L1742 1009L1742 1009L1745 1007L1748 1006L1748 1006L1751 1004L1753 1003L1754 1002L1757 1000L1757 1000L1759 997L1757 994L1756 994L1754 993L1751 992L1748 991L1747 991L1745 990L1742 990L1739 989L1736 988L1735 988L1733 987L1730 986L1727 985L1726 985L1724 984L1721 982L1721 982L1718 979L1718 978L1717 976L1718 973L1718 972L1720 970L1721 968L1722 967L1724 966L1726 964L1727 963L1730 961L1731 961L1733 960L1736 958L1736 958L1739 956L1742 955L1742 955L1745 953L1748 952L1749 952L1751 951L1754 950L1756 949L1757 948L1760 947L1763 946L1764 946L1766 945L1769 944L1772 943L1774 943L1775 943L1778 942L1781 941L1784 940L1786 940L1787 939L1790 939L1793 938L1796 937L1799 937L1800 937L1802 936L1805 936L1808 935L1811 935L1814 934L1815 934L1817 933L1820 933L1823 932L1826 932L1829 931L1831 931L1832 930L1835 930L1838 929L1841 929L1844 928L1844 928L1847 927L1850 926L1853 926L1856 925L1857 925L1859 924L1862 924L1865 923L1868 922L1870 922L1871 921L1874 921L1877 920L1880 919L1882 919L1883 918L1886 918L1889 917L1892 916L1894 916L1895 915L1898 915L1901 914L1904 913L1905 913L1907 912L1910 912L1913 911L1916 910L1917 910L1919 909L1922 908L1925 908L1928 907L1929 907L1931 906L1934 905L1937 905L1940 904L1940 904L1943 903L1946 902L1949 901L1952 901Z" fill="#96c8e5" fill-rule="evenodd"/><path d="M1949 796L1952 795L1952 796L1952 799L1952 802L1952 805L1952 808L1952 811L1952 814L1952 817L1952 820L1952 823L1952 826L1952 829L1952 832L1952 835L1952 838L1952 841L1952 844L1952 847L1952 850L1952 853L1952 855L1949 856L1949 856L1946 857L1943 858L1941 859L1940 859L1937 860L1934 862L1933 862L1931 863L1928 864L1925 865L1925 865L1922 866L1919 867L1916 868L1916 868L1913 869L1910 870L1907 871L1907 871L1904 872L1901 873L1898 874L1898 874L1895 875L1892 876L1889 876L1888 877L1886 877L1883 878L1880 879L1877 880L1877 880L1874 881L1871 881L1868 882L1865 883L1865 883L1862 884L1859 884L1856 885L1853 886L1852 886L1850 886L1847 887L1844 888L1841 888L1838 889L1838 889L1835 889L1832 890L1829 891L1826 891L1823 892L1821 892L1820 892L1817 893L1814 893L1811 893L1808 894L1805 894L1802 895L1802 895L1799 895L1796 896L1793 896L1790 896L1787 897L1784 897L1781 898L1779 898L1778 898L1775 898L1772 899L1769 899L1766 900L1763 900L1760 900L1757 901L1757 901L1754 901L1751 902L1748 902L1745 903L1742 903L1739 904L1737 904L1736 904L1733 905L1730 905L1727 906L1724 906L1721 907L1721 907L1718 907L1715 908L1712 909L1709 909L1707 910L1706 910L1703 911L1700 911L1697 912L1694 913L1694 913L1691 913L1688 914L1685 915L1682 915L1680 916L1679 916L1676 917L1673 917L1670 918L1667 919L1667 919L1664 919L1661 920L1658 921L1655 921L1652 922L1652 922L1649 923L1646 923L1643 924L1640 924L1637 925L1637 925L1634 925L1631 926L1628 926L1625 927L1622 927L1619 928L1619 928L1616 928L1613 929L1610 929L1607 930L1604 930L1601 930L1598 931L1597 931L1595 931L1592 931L1589 932L1586 932L1583 932L1580 933L1577 933L1574 933L1571 934L1569 934L1568 934L1565 934L1562 934L1559 935L1556 935L1553 935L1550 935L1547 936L1544 936L1541 936L1538 936L1535 936L1532 937L1529 937L1528 937L1526 937L1523 937L1520 937L1517 938L1514 938L1511 938L1508 938L1505 938L1502 938L1499 939L1496 939L1493 939L1490 939L1487 940L1484 940L1483 940L1481 940L1478 940L1475 940L1472 941L1469 941L1466 941L1463 941L1460 942L1457 942L1454 942L1451 942L1448 942L1445 943L1444 943L1442 943L1439 943L1436 943L1433 944L1430 944L1427 944L1424 944L1421 945L1418 945L1415 945L1412 945L1409 945L1406 946L1405 946L1403 946L1400 946L1397 946L1394 947L1391 947L1388 947L1385 947L1382 947L1379 948L1376 948L1373 948L1370 948L1367 948L1364 948L1361 949L1358 949L1357 949L1355 949L1352 949L1349 949L1346 949L1343 950L1340 950L1337 950L1334 950L1331 950L1328 950L1325 950L1322 950L1319 950L1316 951L1313 951L1310 951L1307 951L1304 951L1301 951L1298 951L1295 951L1292 951L1289 951L1286 951L1283 951L1280 951L1277 951L1274 952L1271 952L1268 952L1265 952L1262 952L1259 952L1256 952L1253 952L1250 952L1247 952L1247 949L1247 946L1247 943L1247 940L1247 937L1247 934L1247 931L1247 928L1247 925L1247 922L1247 919L1247 916L1247 913L1247 910L1247 908L1250 908L1253 908L1256 908L1259 908L1262 908L1265 908L1268 908L1271 907L1274 907L1277 907L1280 907L1283 907L1286 907L1289 907L1292 907L1295 907L1298 907L1301 907L1304 907L1307 907L1308 907L1310 907L1313 907L1316 907L1319 906L1322 906L1325 906L1328 906L1331 906L1334 906L1337 906L1340 906L1343 905L1346 905L1349 905L1352 905L1355 905L1358 905L1361 905L1364 904L1367 904L1370 904L1373 904L1374 904L1376 904L1379 903L1382 903L1385 903L1388 903L1391 903L1394 902L1397 902L1400 902L1403 902L1406 901L1409 901L1412 901L1414 901L1415 901L1418 900L1421 900L1424 900L1427 900L1430 899L1433 899L1436 899L1439 898L1442 898L1445 898L1445 898L1448 897L1451 897L1454 897L1457 896L1460 896L1463 896L1466 895L1469 895L1470 895L1472 894L1475 894L1478 894L1481 893L1484 893L1487 892L1490 892L1490 892L1493 891L1496 891L1499 890L1502 890L1505 889L1508 889L1508 889L1511 888L1514 888L1517 887L1520 887L1523 886L1524 886L1526 885L1529 885L1532 884L1535 884L1538 883L1539 883L1541 882L1544 882L1547 881L1550 881L1553 880L1554 880L1556 879L1559 879L1562 878L1565 877L1568 877L1568 877L1571 876L1574 876L1577 875L1580 874L1583 874L1583 874L1586 873L1589 873L1592 872L1595 871L1598 871L1599 871L1601 870L1604 870L1607 869L1610 869L1613 868L1615 868L1616 868L1619 867L1622 867L1625 866L1628 866L1631 865L1633 865L1634 865L1637 864L1640 864L1643 863L1646 863L1649 862L1651 862L1652 862L1655 861L1658 861L1661 860L1664 860L1667 859L1670 859L1672 859L1673 859L1676 858L1679 858L1682 857L1685 857L1688 856L1691 856L1692 856L1694 856L1697 855L1700 855L1703 854L1706 854L1709 853L1711 853L1712 853L1715 852L1718 852L1721 851L1724 850L1727 850L1728 850L1730 849L1733 849L1736 848L1739 847L1741 847L1742 847L1745 846L1748 845L1751 844L1753 844L1754 844L1757 843L1760 842L1763 841L1764 841L1766 840L1769 839L1772 838L1774 838L1775 838L1778 837L1781 836L1784 835L1784 835L1787 834L1790 833L1793 832L1793 832L1796 831L1799 830L1802 829L1803 829L1805 828L1808 827L1811 826L1812 826L1814 825L1817 824L1820 823L1822 823L1823 823L1826 822L1829 821L1832 820L1833 820L1835 819L1838 818L1841 817L1843 817L1844 817L1847 816L1850 815L1853 814L1855 814L1856 813L1859 813L1862 812L1865 811L1867 811L1868 811L1871 810L1874 809L1877 808L1880 808L1880 808L1883 807L1886 806L1889 806L1892 805L1895 805L1895 805L1898 804L1901 803L1904 803L1907 802L1910 802L1911 802L1913 801L1916 801L1919 800L1922 800L1925 799L1928 799L1929 799L1931 798L1934 798L1937 798L1940 797L1943 797L1946 796L1949 796ZM1943 910L1946 909L1949 908L1952 907L1952 910L1952 913L1952 916L1952 919L1952 922L1952 925L1952 928L1952 931L1952 934L1952 937L1952 940L1952 943L1952 943L1949 944L1946 945L1945 946L1943 947L1940 948L1938 949L1937 949L1934 951L1932 952L1931 952L1928 954L1927 955L1928 957L1929 958L1931 958L1934 958L1934 958L1937 958L1940 957L1943 957L1946 957L1949 956L1952 956L1952 958L1952 961L1952 964L1952 967L1952 970L1952 973L1952 976L1952 979L1952 982L1952 985L1952 988L1952 991L1952 994L1952 997L1952 1000L1952 1003L1952 1006L1952 1009L1952 1012L1952 1015L1952 1018L1952 1021L1952 1024L1952 1027L1952 1030L1952 1033L1952 1036L1952 1039L1952 1042L1952 1045L1952 1048L1952 1051L1952 1054L1952 1057L1952 1060L1952 1063L1952 1066L1952 1069L1952 1072L1952 1075L1952 1078L1952 1081L1952 1084L1952 1087L1952 1090L1952 1093L1952 1096L1952 1099L1952 1102L1952 1105L1952 1108L1952 1111L1952 1114L1952 1117L1952 1120L1952 1123L1952 1126L1952 1129L1952 1132L1952 1135L1952 1138L1952 1141L1952 1144L1952 1147L1952 1150L1952 1153L1952 1156L1952 1159L1952 1162L1952 1165L1952 1168L1952 1171L1952 1174L1952 1177L1952 1180L1952 1183L1952 1186L1952 1189L1952 1192L1952 1195L1952 1198L1952 1201L1952 1204L1952 1207L1952 1210L1952 1213L1952 1216L1952 1219L1952 1222L1952 1225L1952 1228L1952 1231L1952 1234L1952 1237L1952 1240L1952 1243L1952 1246L1952 1249L1952 1252L1952 1255L1952 1258L1952 1261L1952 1264L1952 1267L1952 1270L1952 1273L1952 1276L1952 1279L1952 1282L1952 1285L1952 1288L1952 1291L1952 1294L1952 1297L1952 1300L1952 1303L1952 1306L1952 1309L1949 1309L1949 1309L1946 1309L1943 1309L1940 1309L1937 1310L1934 1310L1931 1310L1928 1311L1925 1311L1922 1311L1919 1312L1917 1312L1916 1312L1913 1312L1910 1313L1907 1313L1904 1313L1901 1314L1898 1314L1895 1315L1894 1315L1892 1315L1889 1316L1886 1316L1883 1316L1880 1317L1877 1317L1875 1318L1874 1318L1871 1318L1868 1319L1865 1319L1862 1320L1859 1321L1858 1321L1856 1321L1853 1322L1850 1322L1847 1323L1844 1324L1843 1324L1841 1324L1838 1325L1835 1326L1832 1326L1830 1327L1829 1327L1826 1328L1823 1329L1820 1329L1818 1330L1817 1330L1814 1331L1811 1332L1808 1333L1807 1333L1805 1333L1802 1334L1799 1335L1797 1336L1796 1336L1793 1337L1790 1338L1788 1339L1787 1339L1784 1340L1781 1341L1779 1342L1778 1342L1775 1343L1772 1344L1771 1345L1769 1346L1766 1347L1763 1348L1763 1348L1760 1349L1757 1350L1756 1351L1754 1352L1751 1353L1750 1354L1748 1355L1745 1356L1743 1357L1742 1358L1739 1359L1738 1360L1736 1361L1733 1362L1732 1363L1730 1364L1727 1366L1727 1366L1724 1368L1722 1369L1721 1370L1718 1371L1718 1372L1715 1374L1713 1375L1712 1376L1709 1378L1709 1378L1706 1380L1705 1381L1703 1383L1702 1384L1700 1385L1698 1387L1697 1388L1695 1390L1694 1391L1692 1393L1691 1394L1689 1396L1688 1397L1687 1399L1685 1399L1682 1399L1679 1399L1676 1399L1673 1399L1670 1399L1667 1399L1664 1399L1661 1399L1658 1399L1655 1399L1652 1399L1649 1399L1646 1399L1643 1399L1640 1399L1637 1399L1634 1399L1631 1399L1628 1399L1625 1399L1622 1399L1619 1399L1616 1399L1613 1399L1610 1399L1607 1399L1604 1399L1601 1399L1598 1399L1595 1399L1592 1399L1589 1399L1586 1399L1583 1399L1580 1399L1577 1399L1574 1399L1571 1399L1568 1399L1565 1399L1562 1399L1559 1399L1556 1399L1553 1399L1550 1399L1547 1399L1544 1399L1541 1399L1538 1399L1535 1399L1532 1399L1529 1399L1526 1399L1523 1399L1520 1399L1517 1399L1514 1399L1511 1399L1508 1399L1505 1399L1502 1399L1499 1399L1496 1399L1493 1399L1490 1399L1487 1399L1484 1399L1481 1399L1478 1399L1475 1399L1472 1399L1469 1399L1466 1399L1463 1399L1460 1399L1457 1399L1454 1399L1451 1399L1448 1399L1445 1399L1442 1399L1439 1399L1436 1399L1433 1399L1430 1399L1427 1399L1424 1399L1421 1399L1418 1399L1415 1399L1412 1399L1409 1399L1406 1399L1403 1399L1400 1399L1397 1399L1394 1399L1391 1399L1388 1399L1385 1399L1382 1399L1379 1399L1376 1399L1373 1399L1370 1399L1367 1399L1364 1399L1361 1399L1358 1399L1355 1399L1352 1399L1349 1399L1346 1399L1343 1399L1340 1399L1337 1399L1334 1399L1331 1399L1328 1399L1325 1399L1322 1399L1319 1399L1316 1399L1313 1399L1310 1399L1307 1399L1304 1399L1301 1399L1298 1399L1295 1399L1292 1399L1289 1399L1286 1399L1283 1399L1280 1399L1277 1399L1274 1399L1271 1399L1268 1399L1265 1399L1262 1399L1259 1399L1256 1399L1253 1399L1250 1399L1247 1399L1247 1396L1247 1393L1247 1390L1247 1387L1247 1384L1247 1381L1247 1378L1247 1375L1247 1372L1247 1369L1247 1366L1247 1363L1247 1360L1247 1357L1247 1354L1247 1351L1247 1348L1247 1345L1247 1342L1247 1339L1247 1336L1247 1333L1247 1330L1247 1327L1247 1324L1247 1321L1247 1318L1247 1315L1247 1312L1247 1309L1247 1306L1247 1303L1247 1300L1247 1297L1247 1294L1247 1291L1247 1288L1247 1285L1247 1282L1247 1279L1247 1276L1247 1273L1247 1270L1247 1267L1247 1264L1247 1261L1247 1258L1247 1255L1247 1252L1247 1249L1247 1246L1247 1243L1247 1240L1247 1237L1247 1234L1247 1231L1247 1228L1247 1225L1247 1222L1247 1219L1247 1216L1247 1213L1247 1210L1247 1207L1247 1204L1247 1201L1247 1198L1247 1195L1247 1192L1247 1189L1247 1186L1247 1183L1247 1180L1247 1177L1247 1174L1247 1171L1247 1170L1250 1171L1253 1171L1256 1171L1259 1171L1261 1171L1262 1171L1265 1171L1268 1171L1271 1171L1274 1171L1277 1171L1280 1171L1283 1171L1286 1171L1289 1171L1292 1171L1295 1171L1298 1171L1301 1171L1304 1171L1307 1171L1310 1171L1313 1171L1316 1171L1319 1171L1322 1171L1323 1171L1325 1171L1328 1171L1331 1171L1334 1171L1337 1170L1340 1170L1343 1170L1346 1170L1349 1170L1352 1170L1355 1170L1358 1170L1361 1169L1364 1169L1367 1169L1370 1169L1373 1169L1376 1168L1379 1168L1382 1168L1385 1168L1385 1168L1388 1168L1391 1167L1394 1167L1397 1167L1400 1167L1403 1166L1406 1166L1409 1166L1412 1165L1415 1165L1417 1165L1418 1165L1421 1164L1424 1164L1427 1164L1430 1163L1433 1163L1436 1162L1439 1162L1441 1162L1442 1162L1445 1161L1448 1161L1451 1160L1454 1160L1457 1159L1460 1159L1461 1159L1463 1158L1466 1158L1469 1157L1472 1157L1475 1156L1478 1156L1478 1156L1481 1155L1484 1155L1487 1154L1490 1153L1493 1153L1494 1153L1496 1152L1499 1152L1502 1151L1505 1151L1508 1150L1509 1150L1511 1149L1514 1149L1517 1148L1520 1148L1523 1147L1525 1147L1526 1147L1529 1146L1532 1145L1535 1145L1538 1144L1541 1144L1541 1144L1544 1143L1547 1143L1550 1142L1553 1142L1556 1141L1557 1141L1559 1140L1562 1140L1565 1139L1568 1139L1571 1138L1574 1138L1574 1138L1577 1137L1580 1137L1583 1136L1586 1136L1589 1135L1590 1135L1592 1134L1595 1134L1598 1133L1601 1133L1604 1132L1606 1132L1607 1132L1610 1131L1613 1130L1616 1130L1619 1129L1622 1129L1622 1129L1625 1128L1628 1127L1631 1127L1634 1126L1637 1126L1637 1126L1640 1125L1643 1124L1646 1124L1649 1123L1651 1123L1652 1123L1655 1122L1658 1121L1661 1121L1664 1120L1665 1120L1667 1119L1670 1119L1673 1118L1676 1117L1679 1117L1679 1117L1682 1116L1685 1115L1688 1115L1691 1114L1692 1114L1694 1113L1697 1112L1700 1112L1703 1111L1704 1111L1706 1110L1709 1109L1712 1109L1715 1108L1715 1108L1718 1107L1721 1106L1724 1105L1725 1105L1727 1104L1730 1103L1733 1102L1735 1102L1736 1101L1739 1100L1742 1099L1743 1099L1745 1098L1748 1097L1750 1096L1751 1095L1754 1094L1756 1093L1757 1092L1760 1091L1762 1090L1763 1089L1766 1087L1766 1087L1768 1084L1768 1081L1766 1080L1763 1078L1762 1078L1760 1077L1757 1077L1754 1077L1751 1077L1748 1076L1745 1076L1742 1076L1739 1076L1736 1076L1733 1077L1730 1077L1727 1077L1724 1077L1721 1077L1718 1078L1716 1078L1715 1078L1712 1078L1709 1079L1706 1079L1703 1079L1700 1080L1697 1080L1694 1081L1693 1081L1691 1081L1688 1082L1685 1082L1682 1083L1679 1083L1676 1084L1675 1084L1673 1084L1670 1085L1667 1085L1664 1086L1661 1086L1658 1087L1658 1087L1655 1087L1652 1088L1649 1088L1646 1089L1643 1089L1641 1090L1640 1090L1637 1090L1634 1091L1631 1091L1628 1092L1625 1092L1623 1093L1622 1093L1619 1094L1616 1094L1613 1095L1610 1095L1607 1095L1605 1096L1604 1096L1601 1096L1598 1097L1595 1097L1592 1098L1589 1098L1586 1099L1586 1099L1583 1099L1580 1100L1577 1100L1574 1101L1571 1101L1568 1102L1567 1102L1565 1102L1562 1103L1559 1103L1556 1103L1553 1104L1550 1104L1547 1105L1546 1105L1544 1105L1541 1106L1538 1106L1535 1106L1532 1107L1529 1107L1526 1108L1524 1108L1523 1108L1520 1108L1517 1109L1514 1109L1511 1110L1508 1110L1505 1110L1502 1111L1500 1111L1499 1111L1496 1111L1493 1112L1490 1112L1487 1112L1484 1113L1481 1113L1478 1113L1475 1114L1474 1114L1472 1114L1469 1114L1466 1115L1463 1115L1460 1115L1457 1115L1454 1116L1451 1116L1448 1116L1445 1117L1442 1117L1442 1117L1439 1117L1436 1117L1433 1117L1430 1118L1427 1118L1424 1118L1421 1118L1418 1119L1415 1119L1412 1119L1409 1119L1406 1119L1403 1119L1400 1120L1397 1120L1395 1120L1394 1120L1391 1120L1388 1120L1385 1120L1382 1120L1379 1120L1376 1121L1373 1121L1370 1121L1367 1121L1364 1121L1361 1121L1358 1121L1355 1121L1352 1121L1349 1121L1346 1121L1343 1121L1340 1122L1337 1122L1334 1122L1331 1122L1328 1122L1325 1122L1322 1122L1319 1122L1316 1122L1313 1122L1310 1122L1307 1122L1304 1122L1301 1122L1298 1122L1295 1122L1292 1122L1289 1123L1286 1123L1283 1123L1280 1123L1277 1123L1274 1123L1271 1123L1268 1123L1267 1123L1265 1123L1262 1123L1259 1123L1256 1123L1253 1123L1250 1123L1247 1123L1247 1123L1247 1120L1247 1117L1247 1114L1247 1111L1247 1108L1247 1105L1247 1102L1247 1099L1247 1096L1250 1096L1253 1097L1256 1097L1259 1097L1262 1097L1265 1097L1268 1097L1271 1097L1274 1097L1277 1097L1280 1097L1283 1097L1286 1097L1289 1097L1292 1097L1295 1097L1298 1097L1301 1097L1304 1097L1307 1097L1310 1097L1313 1097L1316 1097L1319 1097L1322 1097L1325 1097L1328 1097L1331 1096L1334 1096L1337 1096L1340 1096L1343 1096L1343 1096L1346 1096L1349 1096L1352 1095L1355 1095L1358 1095L1361 1095L1364 1095L1367 1094L1370 1094L1373 1094L1376 1094L1379 1093L1382 1093L1385 1093L1385 1093L1388 1093L1391 1092L1394 1092L1397 1092L1400 1091L1403 1091L1406 1091L1409 1090L1412 1090L1413 1090L1415 1090L1418 1089L1421 1089L1424 1089L1427 1088L1430 1088L1433 1087L1436 1087L1437 1087L1439 1087L1442 1086L1445 1086L1448 1085L1451 1085L1454 1084L1457 1084L1458 1084L1460 1083L1463 1083L1466 1083L1469 1082L1472 1082L1475 1081L1477 1081L1478 1081L1481 1080L1484 1080L1487 1079L1490 1079L1493 1078L1495 1078L1496 1078L1499 1077L1502 1077L1505 1076L1508 1076L1511 1075L1513 1075L1514 1075L1517 1074L1520 1073L1523 1073L1526 1072L1529 1072L1529 1072L1532 1071L1535 1071L1538 1070L1541 1070L1544 1069L1546 1069L1547 1069L1550 1068L1553 1067L1556 1067L1559 1066L1562 1066L1562 1066L1565 1065L1568 1065L1571 1064L1574 1063L1577 1063L1577 1063L1580 1062L1583 1062L1586 1061L1589 1061L1592 1060L1593 1060L1595 1059L1598 1059L1601 1058L1604 1058L1607 1057L1607 1057L1610 1056L1613 1056L1616 1055L1619 1054L1622 1054L1622 1054L1625 1053L1628 1052L1631 1052L1634 1051L1636 1051L1637 1051L1640 1050L1643 1049L1646 1048L1649 1048L1649 1048L1652 1047L1655 1046L1658 1046L1661 1045L1662 1045L1664 1044L1667 1044L1670 1043L1673 1042L1674 1042L1676 1041L1679 1040L1682 1040L1685 1039L1685 1039L1688 1038L1691 1037L1694 1036L1695 1036L1697 1035L1700 1034L1703 1033L1704 1033L1706 1032L1709 1031L1712 1030L1713 1030L1715 1029L1718 1028L1721 1027L1721 1027L1724 1025L1727 1024L1728 1024L1730 1023L1733 1022L1735 1021L1736 1020L1739 1019L1742 1018L1742 1018L1745 1016L1748 1015L1748 1015L1751 1014L1754 1012L1755 1012L1757 1011L1760 1010L1763 1009L1763 1009L1766 1007L1769 1006L1771 1006L1772 1005L1775 1004L1778 1003L1779 1003L1781 1002L1784 1001L1787 1000L1789 1000L1790 1000L1793 999L1796 998L1799 997L1801 997L1802 996L1805 996L1808 995L1811 994L1812 994L1814 993L1817 992L1820 992L1823 991L1824 991L1826 990L1829 989L1832 988L1833 988L1835 987L1838 986L1841 985L1841 985L1844 983L1847 982L1848 982L1850 980L1853 979L1850 977L1847 977L1844 977L1841 978L1838 978L1835 978L1832 979L1831 979L1829 979L1826 980L1823 980L1820 981L1817 981L1814 982L1813 982L1811 982L1808 983L1805 983L1802 984L1799 984L1796 984L1793 984L1790 985L1787 985L1787 985L1784 985L1781 985L1778 985L1775 985L1772 985L1771 985L1769 985L1766 985L1763 984L1760 984L1757 983L1754 983L1751 982L1749 982L1748 981L1745 980L1742 979L1742 979L1739 977L1738 976L1738 973L1739 970L1739 970L1742 967L1742 967L1745 964L1746 964L1748 963L1751 961L1751 961L1754 959L1757 958L1758 958L1760 957L1763 956L1765 955L1766 954L1769 953L1772 952L1774 952L1775 951L1778 950L1781 950L1784 949L1784 949L1787 948L1790 947L1793 946L1796 946L1796 946L1799 945L1802 944L1805 944L1808 943L1809 943L1811 942L1814 942L1817 941L1820 940L1822 940L1823 940L1826 939L1829 938L1832 938L1835 937L1836 937L1838 936L1841 936L1844 935L1847 934L1849 934L1850 933L1853 933L1856 932L1859 931L1861 931L1862 930L1865 930L1868 929L1871 928L1873 928L1874 927L1877 927L1880 926L1883 925L1884 925L1886 924L1889 924L1892 923L1895 922L1896 922L1898 921L1901 920L1904 920L1907 919L1908 919L1910 918L1913 917L1916 917L1919 916L1919 916L1922 915L1925 914L1928 913L1931 913L1931 913L1934 912L1937 911L1940 910L1942 910Z" fill="#9bb8e1" fill-rule="evenodd"/><path d="M1946 802L1949 801L1952 801L1952 802L1952 805L1952 808L1952 811L1952 814L1952 817L1952 820L1952 823L1952 826L1952 829L1952 832L1952 835L1952 838L1952 841L1952 844L1952 847L1952 849L1951 850L1949 851L1946 852L1943 853L1943 853L1940 854L1937 855L1936 856L1934 856L1931 858L1928 859L1928 859L1925 860L1922 861L1920 862L1919 862L1916 863L1913 864L1911 865L1910 865L1907 866L1904 867L1902 868L1901 868L1898 869L1895 870L1892 871L1892 871L1889 872L1886 873L1883 874L1882 874L1880 874L1877 875L1874 876L1871 877L1871 877L1868 878L1865 878L1862 879L1859 880L1859 880L1856 880L1853 881L1850 882L1847 882L1845 883L1844 883L1841 884L1838 884L1835 885L1832 885L1829 886L1828 886L1826 886L1823 887L1820 887L1817 888L1814 888L1811 888L1808 889L1808 889L1805 889L1802 890L1799 890L1796 890L1793 891L1790 891L1787 891L1784 892L1783 892L1781 892L1778 892L1775 893L1772 893L1769 893L1766 894L1763 894L1760 894L1757 895L1756 895L1754 895L1751 896L1748 896L1745 896L1742 897L1739 897L1736 898L1736 898L1733 898L1730 899L1727 900L1724 900L1721 901L1721 901L1718 901L1715 902L1712 903L1709 903L1707 904L1706 904L1703 905L1700 905L1697 906L1694 907L1694 907L1691 908L1688 908L1685 909L1682 910L1682 910L1679 911L1676 911L1673 912L1670 913L1669 913L1667 913L1664 914L1661 915L1658 915L1655 916L1655 916L1652 917L1649 917L1646 918L1643 918L1640 919L1640 919L1637 919L1634 920L1631 921L1628 921L1625 922L1623 922L1622 922L1619 922L1616 923L1613 923L1610 924L1607 924L1604 925L1602 925L1601 925L1598 925L1595 926L1592 926L1589 926L1586 927L1583 927L1580 927L1577 927L1574 928L1572 928L1571 928L1568 928L1565 928L1562 929L1559 929L1556 929L1553 929L1550 929L1547 929L1544 930L1541 930L1538 930L1535 930L1532 930L1529 930L1526 930L1523 931L1520 931L1517 931L1516 931L1514 931L1511 931L1508 931L1505 931L1502 931L1499 932L1496 932L1493 932L1490 932L1487 932L1484 932L1481 932L1478 933L1475 933L1472 933L1469 933L1466 933L1463 933L1460 934L1458 934L1457 934L1454 934L1451 934L1448 934L1445 935L1442 935L1439 935L1436 935L1433 936L1430 936L1427 936L1424 936L1421 936L1418 937L1416 937L1415 937L1412 937L1409 937L1406 938L1403 938L1400 938L1397 938L1394 938L1391 939L1388 939L1385 939L1382 939L1379 939L1376 940L1373 940L1371 940L1370 940L1367 940L1364 940L1361 940L1358 941L1355 941L1352 941L1349 941L1346 941L1343 941L1340 941L1337 942L1334 942L1331 942L1328 942L1325 942L1322 942L1319 942L1316 942L1313 942L1310 943L1307 943L1304 943L1301 943L1301 943L1298 943L1295 943L1292 943L1289 943L1286 943L1283 943L1280 943L1277 943L1274 943L1271 943L1268 943L1265 943L1262 943L1259 943L1256 943L1253 943L1250 943L1247 943L1247 943L1247 940L1247 937L1247 934L1247 931L1247 928L1247 925L1247 922L1247 919L1247 916L1247 916L1250 916L1253 916L1256 916L1259 916L1262 916L1265 916L1268 916L1271 916L1274 916L1277 916L1280 916L1283 916L1286 916L1289 915L1292 915L1295 915L1298 915L1301 915L1304 915L1307 915L1310 915L1313 915L1316 915L1319 915L1322 915L1325 914L1328 914L1331 914L1334 914L1337 914L1340 914L1343 914L1346 914L1349 913L1352 913L1355 913L1358 913L1360 913L1361 913L1364 913L1367 912L1370 912L1373 912L1376 912L1379 912L1382 911L1385 911L1388 911L1391 911L1394 911L1397 910L1400 910L1403 910L1404 910L1406 910L1409 909L1412 909L1415 909L1418 909L1421 908L1424 908L1427 908L1430 907L1433 907L1436 907L1436 907L1439 906L1442 906L1445 906L1448 905L1451 905L1454 905L1457 904L1460 904L1461 904L1463 903L1466 903L1469 903L1472 902L1475 902L1478 901L1480 901L1481 901L1484 900L1487 900L1490 899L1493 899L1496 898L1497 898L1499 897L1502 897L1505 896L1508 896L1511 895L1512 895L1514 894L1517 894L1520 893L1523 893L1526 892L1527 892L1529 891L1532 891L1535 890L1538 889L1540 889L1541 889L1544 888L1547 887L1550 887L1553 886L1554 886L1556 885L1559 885L1562 884L1565 883L1567 883L1568 883L1571 882L1574 881L1577 881L1580 880L1581 880L1583 879L1586 879L1589 878L1592 878L1595 877L1596 877L1598 876L1601 876L1604 875L1607 875L1610 874L1611 874L1613 873L1616 873L1619 872L1622 872L1625 871L1628 871L1628 871L1631 870L1634 870L1637 869L1640 869L1643 868L1646 868L1647 868L1649 868L1652 867L1655 867L1658 866L1661 866L1664 865L1667 865L1668 865L1670 865L1673 864L1676 864L1679 863L1682 863L1685 862L1688 862L1690 862L1691 862L1694 861L1697 861L1700 860L1703 860L1706 860L1709 859L1711 859L1712 859L1715 858L1718 858L1721 857L1724 856L1727 856L1727 856L1730 855L1733 855L1736 854L1739 853L1741 853L1742 853L1745 852L1748 851L1751 850L1752 850L1754 849L1757 848L1760 848L1763 847L1763 847L1766 846L1769 845L1772 844L1772 844L1775 843L1778 842L1781 841L1781 841L1784 840L1787 839L1790 838L1790 838L1793 837L1796 836L1799 835L1799 835L1802 834L1805 833L1808 832L1809 832L1811 831L1814 830L1817 829L1818 829L1820 828L1823 827L1826 826L1828 826L1829 825L1832 824L1835 824L1838 823L1838 823L1841 822L1844 821L1847 820L1849 820L1850 819L1853 819L1856 818L1859 817L1860 817L1862 816L1865 816L1868 815L1871 814L1873 814L1874 814L1877 813L1880 812L1883 812L1886 811L1887 811L1889 810L1892 810L1895 809L1898 809L1901 808L1903 808L1904 808L1907 807L1910 807L1913 806L1916 806L1919 805L1921 805L1922 805L1925 804L1928 804L1931 803L1934 803L1937 803L1940 802L1943 802L1944 802ZM1943 915L1946 915L1949 914L1952 913L1952 916L1952 919L1952 922L1952 925L1952 928L1952 931L1952 934L1952 935L1949 936L1946 937L1946 937L1943 938L1940 939L1938 940L1937 940L1934 941L1931 942L1929 943L1928 943L1925 944L1922 945L1920 946L1919 946L1916 947L1913 948L1911 949L1910 949L1907 950L1904 951L1902 952L1901 952L1898 953L1895 954L1892 955L1892 955L1889 956L1886 957L1883 958L1882 958L1880 958L1877 959L1874 960L1871 961L1871 961L1868 962L1865 962L1862 963L1859 964L1859 964L1856 965L1853 965L1850 966L1847 967L1847 967L1844 967L1841 968L1838 969L1835 970L1834 970L1832 970L1829 971L1826 972L1823 972L1820 973L1820 973L1817 973L1814 974L1811 975L1808 975L1805 976L1804 976L1802 976L1799 977L1796 977L1793 977L1790 977L1787 978L1784 978L1781 978L1778 978L1775 978L1772 977L1769 977L1766 977L1763 976L1763 976L1760 974L1758 973L1758 970L1760 967L1760 967L1763 964L1764 964L1766 963L1769 961L1770 961L1772 960L1775 959L1777 958L1778 957L1781 956L1784 955L1786 955L1787 955L1790 954L1793 953L1796 952L1797 952L1799 951L1802 950L1805 950L1808 949L1809 949L1811 948L1814 948L1817 947L1820 946L1822 946L1823 946L1826 945L1829 944L1832 943L1835 943L1835 943L1838 942L1841 941L1844 941L1847 940L1847 940L1850 939L1853 938L1856 938L1859 937L1859 937L1862 936L1865 935L1868 935L1871 934L1871 934L1874 933L1877 932L1880 932L1883 931L1883 931L1886 930L1889 929L1892 928L1895 928L1895 928L1898 927L1901 926L1904 925L1906 925L1907 925L1910 924L1913 923L1916 922L1918 922L1919 922L1922 921L1925 920L1928 919L1930 919L1931 918L1934 918L1937 917L1940 916L1941 916ZM1949 963L1952 963L1952 964L1952 967L1952 970L1952 973L1952 976L1952 979L1952 982L1952 985L1952 988L1952 991L1952 994L1952 997L1952 1000L1952 1003L1952 1006L1952 1009L1952 1012L1952 1015L1952 1018L1952 1021L1952 1024L1952 1027L1952 1030L1952 1033L1952 1036L1952 1039L1952 1042L1952 1045L1952 1048L1952 1051L1952 1054L1952 1057L1952 1060L1952 1063L1952 1066L1952 1069L1952 1072L1952 1075L1952 1078L1952 1081L1952 1084L1952 1087L1952 1090L1952 1093L1952 1096L1952 1099L1952 1102L1952 1105L1952 1108L1952 1111L1952 1114L1952 1117L1952 1120L1952 1123L1952 1126L1952 1129L1952 1132L1952 1135L1952 1138L1952 1141L1952 1144L1952 1147L1952 1150L1952 1153L1952 1156L1952 1159L1952 1162L1952 1165L1952 1168L1952 1171L1952 1171L1949 1173L1947 1174L1946 1175L1943 1176L1941 1177L1940 1177L1937 1179L1934 1180L1934 1180L1931 1181L1928 1182L1926 1183L1925 1183L1922 1184L1919 1185L1917 1186L1916 1186L1913 1187L1910 1188L1907 1189L1905 1189L1904 1189L1901 1190L1898 1190L1895 1191L1892 1191L1889 1191L1886 1191L1883 1191L1880 1192L1877 1192L1877 1192L1874 1192L1871 1193L1868 1193L1865 1193L1862 1194L1859 1194L1856 1194L1853 1194L1850 1195L1850 1195L1847 1195L1844 1196L1841 1196L1838 1197L1835 1198L1833 1198L1832 1198L1829 1199L1826 1200L1824 1201L1823 1203L1822 1204L1823 1204L1826 1204L1829 1204L1832 1204L1835 1204L1838 1204L1841 1204L1843 1204L1844 1204L1847 1203L1850 1203L1853 1202L1856 1202L1859 1202L1862 1201L1865 1201L1866 1201L1868 1200L1871 1200L1874 1199L1877 1199L1880 1198L1882 1198L1883 1198L1886 1196L1889 1196L1892 1195L1895 1195L1895 1195L1898 1193L1901 1193L1904 1192L1907 1192L1910 1192L1910 1192L1913 1191L1916 1190L1919 1190L1922 1190L1925 1190L1928 1190L1931 1189L1934 1189L1937 1189L1939 1189L1940 1189L1943 1188L1946 1188L1949 1189L1949 1189L1952 1189L1952 1192L1952 1195L1952 1198L1952 1201L1952 1204L1952 1207L1952 1210L1952 1213L1952 1216L1952 1219L1952 1222L1952 1225L1952 1228L1952 1231L1952 1234L1952 1237L1952 1240L1952 1243L1952 1246L1952 1249L1952 1252L1952 1255L1952 1258L1952 1261L1952 1264L1952 1267L1952 1270L1952 1273L1952 1276L1952 1279L1952 1282L1952 1285L1952 1288L1952 1288L1949 1288L1946 1289L1943 1289L1940 1290L1937 1290L1935 1291L1934 1291L1931 1292L1928 1292L1925 1293L1922 1293L1920 1294L1919 1294L1916 1295L1913 1295L1910 1296L1907 1296L1905 1297L1904 1297L1901 1298L1898 1298L1895 1299L1892 1300L1891 1300L1889 1300L1886 1301L1883 1302L1880 1302L1878 1303L1877 1303L1874 1304L1871 1304L1868 1305L1865 1306L1864 1306L1862 1306L1859 1307L1856 1308L1853 1308L1851 1309L1850 1309L1847 1310L1844 1311L1841 1311L1839 1312L1838 1312L1835 1313L1832 1314L1829 1314L1828 1315L1826 1315L1823 1316L1820 1317L1817 1318L1817 1318L1814 1319L1811 1319L1808 1320L1806 1321L1805 1321L1802 1322L1799 1323L1796 1324L1796 1324L1793 1325L1790 1326L1787 1327L1787 1327L1784 1328L1781 1329L1778 1330L1778 1330L1775 1331L1772 1332L1769 1333L1769 1333L1766 1334L1763 1335L1762 1336L1760 1336L1757 1338L1754 1339L1754 1339L1751 1340L1748 1341L1747 1342L1745 1343L1742 1344L1740 1345L1739 1345L1736 1347L1734 1348L1733 1348L1730 1350L1728 1351L1727 1351L1724 1353L1722 1354L1721 1354L1718 1356L1716 1357L1715 1358L1712 1359L1711 1360L1709 1361L1706 1363L1706 1363L1703 1365L1701 1366L1700 1367L1697 1369L1697 1369L1694 1371L1692 1372L1691 1373L1688 1375L1688 1375L1685 1377L1684 1378L1682 1380L1681 1381L1679 1382L1677 1384L1676 1385L1673 1387L1673 1387L1670 1390L1670 1390L1667 1393L1667 1393L1664 1396L1664 1396L1661 1399L1661 1399L1658 1399L1655 1399L1652 1399L1649 1399L1646 1399L1643 1399L1640 1399L1637 1399L1634 1399L1631 1399L1628 1399L1625 1399L1622 1399L1619 1399L1616 1399L1613 1399L1610 1399L1607 1399L1604 1399L1601 1399L1598 1399L1595 1399L1592 1399L1589 1399L1586 1399L1583 1399L1580 1399L1577 1399L1574 1399L1571 1399L1568 1399L1565 1399L1562 1399L1559 1399L1556 1399L1553 1399L1550 1399L1547 1399L1544 1399L1541 1399L1538 1399L1535 1399L1532 1399L1529 1399L1526 1399L1523 1399L1520 1399L1517 1399L1514 1399L1511 1399L1508 1399L1505 1399L1502 1399L1499 1399L1496 1399L1493 1399L1490 1399L1487 1399L1484 1399L1481 1399L1478 1399L1475 1399L1472 1399L1469 1399L1466 1399L1463 1399L1460 1399L1457 1399L1454 1399L1451 1399L1448 1399L1445 1399L1442 1399L1439 1399L1436 1399L1433 1399L1430 1399L1427 1399L1424 1399L1421 1399L1418 1399L1415 1399L1412 1399L1409 1399L1406 1399L1403 1399L1400 1399L1397 1399L1394 1399L1391 1399L1388 1399L1385 1399L1382 1399L1379 1399L1376 1399L1373 1399L1370 1399L1367 1399L1364 1399L1361 1399L1358 1399L1355 1399L1352 1399L1349 1399L1346 1399L1343 1399L1340 1399L1337 1399L1334 1399L1331 1399L1328 1399L1325 1399L1322 1399L1319 1399L1316 1399L1313 1399L1310 1399L1307 1399L1304 1399L1301 1399L1298 1399L1295 1399L1292 1399L1289 1399L1286 1399L1283 1399L1280 1399L1277 1399L1274 1399L1271 1399L1268 1399L1265 1399L1262 1399L1259 1399L1256 1399L1253 1399L1250 1399L1247 1399L1247 1396L1247 1393L1247 1390L1247 1387L1247 1384L1247 1381L1247 1378L1247 1375L1247 1372L1247 1369L1247 1366L1247 1363L1247 1360L1247 1357L1247 1354L1247 1351L1247 1348L1247 1345L1247 1342L1247 1339L1247 1336L1247 1333L1247 1330L1247 1327L1247 1324L1247 1321L1247 1318L1247 1315L1247 1312L1247 1309L1247 1306L1247 1303L1247 1300L1247 1297L1247 1294L1247 1291L1247 1288L1247 1285L1247 1282L1247 1279L1247 1276L1247 1273L1247 1270L1247 1267L1247 1264L1247 1261L1247 1258L1247 1255L1247 1252L1247 1249L1247 1246L1247 1243L1247 1240L1247 1237L1247 1234L1247 1231L1247 1228L1247 1225L1247 1222L1247 1219L1247 1216L1247 1213L1247 1210L1247 1207L1247 1204L1247 1201L1247 1198L1247 1195L1247 1192L1247 1189L1247 1186L1247 1183L1247 1180L1247 1177L1247 1175L1250 1175L1253 1175L1256 1175L1259 1175L1262 1175L1265 1175L1268 1175L1271 1175L1274 1175L1277 1175L1280 1175L1283 1175L1286 1175L1289 1175L1292 1175L1295 1175L1298 1175L1301 1175L1304 1175L1307 1175L1310 1175L1313 1175L1316 1175L1319 1175L1322 1175L1325 1175L1328 1175L1331 1175L1334 1174L1337 1174L1340 1174L1343 1174L1346 1174L1349 1174L1349 1174L1352 1174L1355 1174L1358 1173L1361 1173L1364 1173L1367 1173L1370 1173L1373 1173L1376 1172L1379 1172L1382 1172L1385 1172L1388 1172L1391 1171L1394 1171L1397 1171L1397 1171L1400 1171L1403 1170L1406 1170L1409 1170L1412 1170L1415 1169L1418 1169L1421 1169L1424 1168L1427 1168L1429 1168L1430 1168L1433 1167L1436 1167L1439 1167L1442 1166L1445 1166L1448 1166L1451 1165L1454 1165L1454 1165L1457 1164L1460 1164L1463 1164L1466 1163L1469 1163L1472 1162L1475 1162L1475 1162L1478 1161L1481 1161L1484 1160L1487 1160L1490 1159L1493 1159L1494 1159L1496 1158L1499 1158L1502 1157L1505 1157L1508 1156L1511 1156L1511 1156L1514 1155L1517 1155L1520 1154L1523 1154L1526 1153L1528 1153L1529 1153L1532 1152L1535 1152L1538 1151L1541 1151L1544 1150L1545 1150L1547 1149L1550 1149L1553 1148L1556 1148L1559 1147L1562 1147L1562 1147L1565 1146L1568 1146L1571 1145L1574 1145L1577 1144L1578 1144L1580 1143L1583 1143L1586 1142L1589 1142L1592 1141L1594 1141L1595 1141L1598 1140L1601 1139L1604 1139L1607 1138L1610 1138L1610 1138L1613 1137L1616 1137L1619 1136L1622 1135L1625 1135L1625 1135L1628 1134L1631 1134L1634 1133L1637 1132L1640 1132L1640 1132L1643 1131L1646 1130L1649 1130L1652 1129L1654 1129L1655 1129L1658 1128L1661 1127L1664 1127L1667 1126L1668 1126L1670 1125L1673 1125L1676 1124L1679 1123L1681 1123L1682 1123L1685 1122L1688 1121L1691 1120L1694 1120L1694 1120L1697 1119L1700 1118L1703 1118L1706 1117L1706 1117L1709 1116L1712 1115L1715 1115L1718 1114L1718 1114L1721 1113L1724 1112L1727 1111L1729 1111L1730 1110L1733 1110L1736 1109L1739 1108L1739 1108L1742 1107L1745 1106L1748 1105L1748 1105L1751 1104L1754 1103L1757 1102L1757 1102L1760 1101L1763 1100L1765 1099L1766 1099L1769 1097L1772 1096L1773 1096L1775 1095L1778 1094L1780 1093L1781 1092L1784 1091L1787 1090L1787 1090L1790 1088L1793 1087L1793 1087L1796 1085L1798 1084L1799 1083L1802 1082L1804 1081L1805 1080L1808 1078L1808 1078L1811 1075L1811 1075L1812 1072L1811 1071L1808 1069L1808 1069L1805 1068L1802 1068L1799 1068L1796 1068L1793 1068L1790 1067L1787 1067L1784 1067L1781 1067L1778 1067L1775 1068L1772 1068L1769 1068L1766 1068L1763 1068L1760 1068L1757 1068L1754 1068L1751 1068L1748 1068L1745 1068L1742 1069L1739 1069L1738 1069L1736 1069L1733 1069L1730 1069L1727 1070L1724 1070L1721 1070L1718 1071L1715 1071L1712 1071L1709 1072L1707 1072L1706 1072L1703 1072L1700 1073L1697 1073L1694 1074L1691 1074L1688 1074L1686 1075L1685 1075L1682 1075L1679 1076L1676 1076L1673 1077L1670 1077L1667 1078L1667 1078L1664 1078L1661 1079L1658 1079L1655 1080L1652 1080L1649 1081L1649 1081L1646 1081L1643 1082L1640 1082L1637 1083L1634 1083L1631 1084L1630 1084L1628 1084L1625 1085L1622 1085L1619 1086L1616 1086L1613 1087L1611 1087L1610 1087L1607 1087L1604 1088L1601 1088L1598 1089L1595 1089L1592 1090L1592 1090L1589 1090L1586 1091L1583 1091L1580 1091L1577 1092L1574 1092L1571 1093L1571 1093L1568 1093L1565 1094L1562 1094L1559 1094L1556 1095L1553 1095L1550 1096L1549 1096L1547 1096L1544 1096L1541 1097L1538 1097L1535 1098L1532 1098L1529 1098L1526 1099L1526 1099L1523 1099L1520 1099L1517 1100L1514 1100L1511 1100L1508 1101L1505 1101L1502 1101L1499 1102L1499 1102L1496 1102L1493 1102L1490 1103L1487 1103L1484 1103L1481 1104L1478 1104L1475 1104L1472 1104L1469 1105L1469 1105L1466 1105L1463 1105L1460 1105L1457 1106L1454 1106L1451 1106L1448 1106L1445 1107L1442 1107L1439 1107L1436 1107L1433 1108L1431 1108L1430 1108L1427 1108L1424 1108L1421 1108L1418 1108L1415 1109L1412 1109L1409 1109L1406 1109L1403 1109L1400 1109L1397 1110L1394 1110L1391 1110L1388 1110L1385 1110L1382 1110L1379 1110L1376 1111L1373 1111L1370 1111L1370 1111L1367 1111L1364 1111L1361 1111L1358 1111L1355 1111L1352 1111L1349 1111L1346 1111L1343 1111L1340 1111L1337 1111L1334 1112L1331 1112L1328 1112L1325 1112L1322 1112L1319 1112L1316 1112L1313 1112L1310 1112L1307 1112L1304 1112L1301 1112L1298 1112L1295 1112L1292 1112L1289 1112L1286 1113L1283 1113L1280 1113L1277 1113L1274 1113L1271 1113L1268 1113L1265 1113L1262 1113L1259 1113L1256 1113L1253 1113L1250 1113L1247 1113L1247 1111L1247 1108L1247 1105L1250 1106L1253 1106L1256 1106L1259 1106L1262 1106L1265 1106L1268 1106L1271 1107L1274 1107L1277 1107L1280 1107L1283 1107L1286 1107L1289 1107L1292 1107L1295 1107L1298 1107L1301 1107L1304 1107L1307 1107L1310 1107L1313 1107L1316 1107L1319 1107L1322 1107L1325 1106L1328 1106L1331 1106L1334 1106L1337 1106L1340 1106L1343 1105L1346 1105L1349 1105L1350 1105L1352 1105L1355 1105L1358 1104L1361 1104L1364 1104L1367 1104L1370 1103L1373 1103L1376 1103L1379 1103L1382 1102L1384 1102L1385 1102L1388 1101L1391 1101L1394 1101L1397 1101L1400 1100L1403 1100L1406 1099L1409 1099L1410 1099L1412 1099L1415 1098L1418 1098L1421 1098L1424 1097L1427 1097L1430 1096L1432 1096L1433 1096L1436 1095L1439 1095L1442 1095L1445 1094L1448 1094L1451 1093L1452 1093L1454 1093L1457 1092L1460 1092L1463 1091L1466 1091L1469 1090L1471 1090L1472 1090L1475 1089L1478 1089L1481 1088L1484 1088L1487 1087L1489 1087L1490 1087L1493 1086L1496 1086L1499 1085L1502 1085L1505 1084L1506 1084L1508 1083L1511 1083L1514 1082L1517 1082L1520 1081L1522 1081L1523 1081L1526 1080L1529 1080L1532 1079L1535 1079L1538 1078L1538 1078L1541 1077L1544 1077L1547 1076L1550 1076L1553 1075L1554 1075L1556 1074L1559 1074L1562 1073L1565 1073L1568 1072L1569 1072L1571 1072L1574 1071L1577 1070L1580 1070L1583 1069L1584 1069L1586 1068L1589 1068L1592 1067L1595 1067L1598 1066L1599 1066L1601 1065L1604 1065L1607 1064L1610 1063L1613 1063L1613 1063L1616 1062L1619 1062L1622 1061L1625 1060L1626 1060L1628 1059L1631 1059L1634 1058L1637 1057L1640 1057L1640 1057L1643 1056L1646 1055L1649 1055L1652 1054L1652 1054L1655 1053L1658 1052L1661 1052L1664 1051L1664 1051L1667 1050L1670 1049L1673 1049L1676 1048L1676 1048L1679 1047L1682 1046L1685 1045L1686 1045L1688 1044L1691 1043L1694 1043L1696 1042L1697 1042L1700 1041L1703 1040L1705 1039L1706 1039L1709 1038L1712 1036L1714 1036L1715 1035L1718 1034L1721 1033L1722 1033L1724 1032L1727 1031L1729 1030L1730 1029L1733 1028L1736 1027L1736 1027L1739 1025L1742 1024L1743 1024L1745 1023L1748 1022L1750 1021L1751 1020L1754 1019L1757 1018L1757 1018L1760 1016L1763 1015L1764 1015L1766 1014L1769 1013L1772 1012L1772 1012L1775 1011L1778 1010L1781 1009L1781 1009L1784 1008L1787 1007L1790 1006L1791 1006L1793 1005L1796 1004L1799 1004L1802 1003L1802 1003L1805 1002L1808 1001L1811 1001L1814 1000L1814 1000L1817 999L1820 998L1823 998L1826 997L1826 997L1829 996L1832 995L1835 994L1837 994L1838 993L1841 992L1844 992L1846 991L1847 991L1850 990L1853 989L1856 988L1856 988L1859 987L1862 986L1864 985L1865 985L1868 983L1871 982L1873 982L1874 981L1877 980L1880 979L1882 979L1883 979L1886 978L1889 977L1892 976L1892 976L1895 975L1898 974L1901 973L1903 973L1904 972L1907 972L1910 971L1913 970L1915 970L1916 970L1919 969L1922 968L1925 968L1928 967L1930 967L1931 967L1934 966L1937 965L1940 965L1943 964L1946 964L1946 964Z" fill="#a5aadc" fill-rule="evenodd"/><path d="M1931 808L1934 807L1937 807L1940 807L1943 807L1946 806L1949 806L1952 806L1952 808L1952 811L1952 814L1952 817L1952 820L1952 823L1952 826L1952 829L1952 832L1952 835L1952 838L1952 841L1952 844L1952 844L1949 846L1946 847L1946 847L1943 848L1940 850L1939 850L1937 851L1934 852L1932 853L1931 853L1928 854L1925 856L1925 856L1922 857L1919 858L1917 859L1916 859L1913 860L1910 861L1908 862L1907 862L1904 863L1901 864L1899 865L1898 865L1895 866L1892 867L1890 868L1889 868L1886 869L1883 870L1880 871L1880 871L1877 872L1874 872L1871 873L1868 874L1868 874L1865 875L1862 875L1859 876L1856 877L1856 877L1853 877L1850 878L1847 879L1844 879L1841 880L1841 880L1838 880L1835 881L1832 881L1829 882L1826 882L1823 883L1822 883L1820 883L1817 884L1814 884L1811 884L1808 885L1805 885L1802 885L1799 886L1796 886L1796 886L1793 886L1790 886L1787 887L1784 887L1781 887L1778 887L1775 888L1772 888L1769 888L1766 888L1763 889L1762 889L1760 889L1757 889L1754 890L1751 890L1748 890L1745 891L1742 891L1739 892L1738 892L1736 892L1733 893L1730 893L1727 894L1724 894L1722 895L1721 895L1718 896L1715 896L1712 897L1709 898L1709 898L1706 898L1703 899L1700 900L1697 901L1697 901L1694 902L1691 902L1688 903L1685 904L1685 904L1682 905L1679 905L1676 906L1673 907L1673 907L1670 908L1667 908L1664 909L1661 910L1661 910L1658 910L1655 911L1652 912L1649 912L1647 913L1646 913L1643 914L1640 914L1637 915L1634 915L1631 916L1631 916L1628 916L1625 917L1622 917L1619 918L1616 918L1613 919L1611 919L1610 919L1607 919L1604 920L1601 920L1598 920L1595 921L1592 921L1589 921L1586 922L1583 922L1583 922L1580 922L1577 922L1574 922L1571 923L1568 923L1565 923L1562 923L1559 923L1556 923L1553 923L1550 923L1547 923L1544 924L1541 924L1538 924L1535 924L1532 924L1529 924L1526 924L1523 924L1520 923L1517 923L1514 923L1511 923L1508 923L1505 923L1502 923L1499 923L1496 923L1493 923L1490 923L1487 923L1484 923L1481 923L1478 922L1475 922L1472 922L1469 922L1466 922L1463 922L1463 922L1460 921L1457 921L1454 920L1453 919L1454 918L1457 918L1460 916L1461 916L1463 915L1466 915L1469 914L1472 913L1472 913L1475 912L1478 911L1481 911L1484 910L1484 910L1487 909L1490 908L1493 907L1495 907L1496 907L1499 906L1502 905L1505 904L1507 904L1508 903L1511 903L1514 902L1517 901L1518 901L1520 900L1523 900L1526 899L1529 898L1529 898L1532 897L1535 896L1538 896L1541 895L1541 895L1544 894L1547 893L1550 892L1553 892L1553 892L1556 891L1559 890L1562 889L1565 889L1565 889L1568 888L1571 887L1574 887L1577 886L1577 886L1580 885L1583 885L1586 884L1589 883L1591 883L1592 883L1595 882L1598 881L1601 881L1604 880L1605 880L1607 879L1610 879L1613 878L1616 878L1619 877L1621 877L1622 877L1625 876L1628 876L1631 875L1634 875L1637 874L1639 874L1640 874L1643 873L1646 873L1649 872L1652 872L1655 871L1658 871L1660 871L1661 871L1664 870L1667 870L1670 870L1673 869L1676 869L1679 868L1682 868L1684 868L1685 868L1688 867L1691 867L1694 867L1697 866L1700 866L1703 865L1706 865L1708 865L1709 865L1712 864L1715 864L1718 863L1721 863L1724 862L1726 862L1727 862L1730 861L1733 860L1736 860L1739 859L1739 859L1742 858L1745 857L1748 857L1750 856L1751 856L1754 855L1757 854L1760 853L1760 853L1763 852L1766 851L1769 850L1769 850L1772 849L1775 848L1778 847L1778 847L1781 846L1784 845L1786 844L1787 843L1790 842L1793 841L1795 841L1796 840L1799 839L1802 838L1803 838L1805 837L1808 836L1811 835L1812 835L1814 834L1817 833L1820 832L1821 832L1823 831L1826 830L1829 829L1830 829L1832 828L1835 827L1838 826L1840 826L1841 826L1844 825L1847 824L1850 823L1851 823L1853 822L1856 822L1859 821L1862 820L1863 820L1865 819L1868 819L1871 818L1874 817L1876 817L1877 817L1880 816L1883 815L1886 815L1889 814L1891 814L1892 814L1895 813L1898 812L1901 812L1904 811L1907 811L1908 811L1910 810L1913 810L1916 810L1919 809L1922 809L1925 808L1928 808L1931 808ZM1928 927L1931 927L1934 927L1937 926L1940 926L1942 928L1940 928L1937 930L1936 931L1934 931L1931 932L1928 934L1928 934L1925 935L1922 936L1920 937L1919 937L1916 938L1913 939L1912 940L1910 940L1907 941L1904 942L1903 943L1901 943L1898 944L1895 945L1894 946L1892 946L1889 947L1886 948L1884 949L1883 949L1880 950L1877 951L1874 952L1873 952L1871 952L1868 953L1865 954L1862 955L1862 955L1859 956L1856 956L1853 957L1851 958L1850 958L1847 959L1844 959L1841 960L1839 961L1838 961L1835 962L1832 963L1829 963L1827 964L1826 964L1823 965L1820 965L1817 966L1814 967L1813 967L1811 967L1808 968L1805 968L1802 968L1799 969L1796 969L1793 969L1790 968L1787 968L1785 967L1787 964L1787 964L1790 963L1793 961L1793 961L1796 960L1799 959L1802 958L1802 958L1805 957L1808 956L1811 955L1813 955L1814 955L1817 954L1820 953L1823 952L1825 952L1826 952L1829 951L1832 950L1835 950L1838 949L1838 949L1841 948L1844 948L1847 947L1850 946L1851 946L1853 945L1856 945L1859 944L1862 943L1863 943L1865 942L1868 942L1871 941L1874 940L1875 940L1877 939L1880 939L1883 938L1886 937L1887 937L1889 936L1892 936L1895 935L1898 934L1899 934L1901 933L1904 933L1907 932L1910 931L1912 931L1913 931L1916 930L1919 930L1922 929L1925 928L1926 928ZM1940 969L1943 969L1946 968L1949 968L1952 967L1952 970L1952 973L1952 976L1952 979L1952 982L1952 985L1952 988L1952 991L1952 994L1952 997L1952 1000L1952 1003L1952 1006L1952 1009L1952 1012L1952 1015L1952 1018L1952 1021L1952 1024L1952 1027L1952 1030L1952 1033L1952 1036L1952 1039L1952 1042L1952 1045L1952 1048L1952 1051L1952 1054L1952 1057L1952 1060L1952 1063L1952 1066L1952 1069L1952 1072L1952 1075L1952 1078L1952 1081L1952 1084L1952 1087L1952 1090L1952 1093L1952 1096L1952 1099L1952 1102L1952 1105L1952 1108L1952 1111L1952 1114L1952 1117L1952 1120L1952 1123L1952 1126L1952 1129L1952 1132L1952 1135L1952 1138L1952 1141L1952 1144L1952 1147L1952 1150L1952 1153L1952 1155L1950 1156L1949 1156L1946 1158L1944 1159L1943 1159L1940 1160L1937 1162L1937 1162L1934 1163L1931 1164L1928 1165L1928 1165L1925 1166L1922 1167L1919 1167L1917 1168L1916 1168L1913 1169L1910 1169L1907 1170L1904 1170L1901 1171L1901 1171L1898 1171L1895 1172L1892 1172L1889 1172L1886 1172L1883 1173L1880 1173L1877 1173L1874 1173L1871 1173L1868 1173L1865 1173L1862 1173L1859 1173L1856 1173L1853 1172L1850 1172L1847 1172L1844 1172L1841 1172L1838 1171L1835 1171L1833 1171L1832 1171L1829 1170L1826 1170L1823 1170L1820 1170L1817 1170L1814 1169L1811 1169L1808 1169L1805 1170L1802 1170L1799 1170L1796 1170L1793 1171L1793 1171L1790 1171L1787 1172L1784 1173L1781 1173L1779 1174L1778 1174L1775 1175L1772 1176L1770 1177L1769 1177L1766 1178L1763 1179L1762 1180L1760 1181L1757 1182L1755 1183L1754 1183L1751 1185L1748 1186L1748 1186L1745 1187L1742 1189L1742 1189L1739 1190L1736 1192L1736 1192L1733 1193L1730 1195L1730 1195L1727 1196L1724 1198L1724 1198L1721 1199L1718 1201L1717 1201L1715 1202L1712 1203L1711 1204L1709 1205L1706 1206L1704 1207L1703 1207L1700 1208L1697 1210L1697 1210L1694 1211L1691 1212L1690 1213L1688 1213L1685 1215L1682 1216L1682 1216L1679 1217L1676 1218L1675 1219L1673 1219L1670 1221L1667 1222L1666 1222L1664 1222L1661 1223L1658 1224L1655 1225L1654 1225L1652 1225L1649 1226L1646 1226L1643 1227L1640 1227L1637 1228L1637 1228L1634 1228L1631 1229L1628 1229L1625 1230L1622 1230L1619 1230L1616 1230L1613 1231L1612 1231L1610 1231L1607 1231L1604 1231L1601 1232L1598 1232L1595 1232L1592 1232L1589 1233L1586 1233L1583 1233L1580 1233L1577 1233L1574 1233L1571 1233L1568 1233L1565 1233L1562 1233L1559 1233L1556 1233L1553 1232L1550 1232L1547 1232L1544 1231L1541 1231L1540 1231L1538 1230L1535 1230L1532 1229L1529 1229L1526 1228L1526 1228L1523 1227L1520 1226L1517 1225L1514 1225L1514 1225L1511 1224L1508 1223L1505 1223L1502 1222L1501 1222L1499 1221L1496 1221L1493 1221L1490 1220L1487 1220L1484 1220L1481 1219L1478 1219L1477 1219L1475 1219L1472 1219L1469 1218L1466 1218L1463 1218L1460 1218L1457 1218L1454 1218L1451 1218L1448 1218L1445 1218L1442 1218L1439 1218L1436 1218L1433 1218L1430 1218L1427 1218L1424 1218L1421 1218L1418 1218L1415 1218L1412 1218L1409 1218L1406 1218L1403 1218L1400 1218L1397 1218L1394 1218L1391 1218L1388 1218L1385 1218L1382 1218L1379 1218L1376 1218L1373 1218L1370 1218L1367 1218L1364 1218L1361 1218L1358 1219L1355 1219L1352 1219L1349 1219L1347 1219L1346 1219L1343 1219L1340 1219L1337 1219L1334 1219L1331 1219L1328 1219L1325 1219L1322 1219L1319 1219L1316 1219L1313 1220L1310 1220L1307 1220L1304 1220L1301 1220L1298 1220L1295 1220L1292 1220L1289 1220L1286 1220L1283 1220L1280 1220L1277 1220L1274 1220L1271 1220L1268 1220L1265 1220L1262 1220L1259 1220L1256 1220L1253 1220L1250 1220L1247 1220L1247 1219L1247 1216L1247 1213L1247 1210L1247 1207L1247 1204L1247 1201L1247 1198L1247 1195L1247 1192L1247 1189L1247 1186L1247 1183L1247 1180L1250 1180L1253 1180L1256 1180L1259 1180L1262 1180L1265 1180L1268 1180L1271 1180L1274 1180L1277 1180L1280 1180L1283 1180L1286 1180L1289 1180L1292 1180L1295 1180L1298 1180L1301 1180L1304 1180L1306 1180L1307 1180L1310 1180L1313 1180L1316 1180L1319 1179L1322 1179L1325 1179L1328 1179L1331 1179L1334 1179L1337 1179L1340 1179L1343 1179L1346 1179L1349 1178L1352 1178L1355 1178L1358 1178L1361 1178L1364 1178L1367 1177L1370 1177L1373 1177L1376 1177L1377 1177L1379 1177L1382 1176L1385 1176L1388 1176L1391 1176L1394 1176L1397 1175L1400 1175L1403 1175L1406 1175L1409 1174L1412 1174L1415 1174L1415 1174L1418 1174L1421 1173L1424 1173L1427 1173L1430 1172L1433 1172L1436 1172L1439 1171L1442 1171L1444 1171L1445 1171L1448 1170L1451 1170L1454 1170L1457 1169L1460 1169L1463 1168L1466 1168L1468 1168L1469 1168L1472 1167L1475 1167L1478 1166L1481 1166L1484 1166L1487 1165L1489 1165L1490 1165L1493 1164L1496 1164L1499 1163L1502 1163L1505 1162L1508 1162L1508 1162L1511 1161L1514 1161L1517 1160L1520 1160L1523 1159L1526 1159L1526 1159L1529 1158L1532 1158L1535 1157L1538 1157L1541 1156L1543 1156L1544 1156L1547 1155L1550 1155L1553 1154L1556 1154L1559 1153L1560 1153L1562 1152L1565 1152L1568 1151L1571 1151L1574 1150L1576 1150L1577 1150L1580 1149L1583 1148L1586 1148L1589 1147L1592 1147L1592 1147L1595 1146L1598 1146L1601 1145L1604 1144L1607 1144L1607 1144L1610 1143L1613 1143L1616 1142L1619 1141L1622 1141L1622 1141L1625 1140L1628 1140L1631 1139L1634 1138L1637 1138L1637 1138L1640 1137L1643 1136L1646 1136L1649 1135L1651 1135L1652 1134L1655 1134L1658 1133L1661 1133L1664 1132L1664 1132L1667 1131L1670 1131L1673 1130L1676 1129L1678 1129L1679 1128L1682 1128L1685 1127L1688 1126L1691 1126L1691 1126L1694 1125L1697 1124L1700 1124L1703 1123L1703 1123L1706 1122L1709 1121L1712 1121L1715 1120L1715 1120L1718 1119L1721 1118L1724 1117L1726 1117L1727 1117L1730 1116L1733 1115L1736 1114L1737 1114L1739 1113L1742 1112L1745 1111L1747 1111L1748 1111L1751 1110L1754 1109L1757 1108L1757 1108L1760 1107L1763 1106L1766 1105L1766 1105L1769 1104L1772 1103L1774 1102L1775 1101L1778 1100L1781 1099L1782 1099L1784 1098L1787 1097L1790 1096L1790 1096L1793 1095L1796 1093L1797 1093L1799 1092L1802 1091L1805 1090L1805 1090L1808 1088L1811 1087L1811 1087L1814 1086L1817 1084L1818 1084L1820 1083L1823 1081L1824 1081L1826 1080L1829 1078L1830 1078L1832 1077L1835 1075L1836 1075L1838 1074L1841 1072L1841 1072L1844 1070L1846 1069L1847 1068L1850 1066L1850 1065L1852 1063L1853 1060L1853 1060L1853 1060L1850 1058L1847 1057L1844 1057L1844 1057L1841 1057L1838 1057L1835 1057L1832 1057L1832 1057L1829 1057L1826 1057L1823 1057L1820 1058L1817 1058L1814 1058L1811 1058L1808 1059L1805 1059L1802 1059L1799 1059L1796 1060L1793 1060L1793 1060L1790 1060L1787 1060L1784 1061L1781 1061L1778 1061L1775 1061L1772 1061L1769 1061L1766 1062L1763 1062L1760 1062L1757 1062L1754 1062L1751 1062L1748 1062L1745 1063L1742 1063L1739 1063L1739 1063L1736 1063L1733 1063L1730 1063L1727 1063L1724 1064L1721 1064L1718 1064L1715 1064L1712 1064L1709 1065L1706 1065L1703 1065L1700 1066L1697 1066L1697 1066L1694 1066L1691 1066L1688 1067L1685 1067L1682 1067L1679 1067L1676 1068L1673 1068L1670 1068L1667 1069L1665 1069L1664 1069L1661 1069L1658 1069L1655 1069L1652 1069L1649 1069L1646 1069L1643 1069L1646 1068L1648 1066L1649 1065L1652 1064L1655 1063L1655 1063L1658 1062L1661 1061L1664 1060L1664 1060L1667 1059L1670 1058L1673 1057L1673 1057L1676 1056L1679 1055L1682 1054L1682 1054L1685 1053L1688 1052L1691 1051L1691 1051L1694 1050L1697 1049L1699 1048L1700 1048L1703 1046L1706 1045L1707 1045L1709 1044L1712 1043L1715 1042L1715 1042L1718 1041L1721 1039L1722 1039L1724 1038L1727 1037L1729 1036L1730 1035L1733 1034L1736 1033L1736 1033L1739 1031L1742 1030L1742 1030L1745 1029L1748 1027L1749 1027L1751 1026L1754 1025L1756 1024L1757 1023L1760 1022L1763 1021L1763 1021L1766 1019L1769 1018L1770 1018L1772 1017L1775 1016L1778 1015L1778 1015L1781 1014L1784 1013L1787 1012L1787 1012L1790 1011L1793 1010L1796 1009L1797 1009L1799 1008L1802 1007L1805 1007L1808 1006L1808 1006L1811 1005L1814 1004L1817 1003L1820 1003L1820 1003L1823 1002L1826 1001L1829 1000L1830 1000L1832 999L1835 998L1838 998L1841 997L1841 997L1844 996L1847 995L1850 994L1851 994L1853 993L1856 992L1859 991L1860 991L1862 990L1865 989L1868 988L1869 988L1871 987L1874 986L1877 985L1879 985L1880 984L1883 983L1886 983L1889 982L1889 982L1892 981L1895 980L1898 979L1899 979L1901 978L1904 977L1907 977L1910 976L1911 976L1913 975L1916 974L1919 974L1922 973L1924 973L1925 972L1928 972L1931 971L1934 971L1937 970L1938 970ZM1940 1198L1943 1197L1946 1197L1949 1197L1952 1197L1952 1198L1952 1201L1952 1204L1952 1207L1952 1210L1952 1213L1952 1216L1952 1219L1952 1222L1952 1225L1952 1228L1952 1231L1952 1234L1952 1237L1952 1240L1952 1243L1952 1246L1952 1249L1952 1252L1952 1255L1952 1258L1952 1261L1952 1264L1952 1267L1952 1270L1952 1271L1949 1271L1946 1271L1943 1272L1941 1273L1940 1273L1937 1274L1934 1275L1931 1276L1930 1276L1928 1276L1925 1277L1922 1278L1919 1279L1919 1279L1916 1280L1913 1281L1910 1281L1908 1282L1907 1282L1904 1283L1901 1284L1898 1285L1897 1285L1895 1285L1892 1286L1889 1287L1886 1288L1886 1288L1883 1289L1880 1290L1877 1290L1875 1291L1874 1291L1871 1292L1868 1293L1865 1293L1864 1294L1862 1294L1859 1295L1856 1296L1853 1297L1852 1297L1850 1297L1847 1298L1844 1299L1841 1300L1841 1300L1838 1301L1835 1301L1832 1302L1830 1303L1829 1303L1826 1304L1823 1305L1820 1306L1819 1306L1817 1307L1814 1307L1811 1308L1809 1309L1808 1309L1805 1310L1802 1311L1799 1312L1799 1312L1796 1313L1793 1314L1790 1314L1789 1315L1787 1315L1784 1316L1781 1317L1779 1318L1778 1318L1775 1319L1772 1320L1770 1321L1769 1321L1766 1322L1763 1323L1761 1324L1760 1324L1757 1325L1754 1326L1753 1327L1751 1328L1748 1329L1745 1330L1745 1330L1742 1331L1739 1332L1738 1333L1736 1334L1733 1335L1731 1336L1730 1336L1727 1337L1724 1339L1724 1339L1721 1340L1718 1342L1717 1342L1715 1343L1712 1344L1711 1345L1709 1346L1706 1347L1705 1348L1703 1349L1700 1351L1700 1351L1697 1352L1694 1354L1694 1354L1691 1356L1689 1357L1688 1357L1685 1359L1684 1360L1682 1361L1679 1363L1679 1363L1676 1365L1675 1366L1673 1367L1670 1369L1670 1369L1667 1371L1666 1372L1664 1374L1662 1375L1661 1376L1659 1378L1658 1378L1655 1381L1655 1381L1652 1383L1651 1384L1649 1386L1648 1387L1646 1389L1645 1390L1643 1391L1641 1393L1640 1394L1638 1396L1637 1397L1635 1399L1634 1399L1631 1399L1628 1399L1625 1399L1622 1399L1619 1399L1616 1399L1613 1399L1610 1399L1607 1399L1604 1399L1601 1399L1598 1399L1595 1399L1592 1399L1589 1399L1586 1399L1583 1399L1580 1399L1577 1399L1574 1399L1571 1399L1568 1399L1565 1399L1562 1399L1559 1399L1556 1399L1553 1399L1550 1399L1547 1399L1544 1399L1541 1399L1538 1399L1535 1399L1532 1399L1529 1399L1526 1399L1523 1399L1520 1399L1517 1399L1514 1399L1511 1399L1508 1399L1505 1399L1502 1399L1499 1399L1496 1399L1493 1399L1490 1399L1487 1399L1484 1399L1481 1399L1478 1399L1475 1399L1472 1399L1469 1399L1466 1399L1463 1399L1460 1399L1457 1399L1454 1399L1451 1399L1448 1399L1445 1399L1442 1399L1439 1399L1436 1399L1433 1399L1430 1399L1427 1399L1424 1399L1421 1399L1418 1399L1415 1399L1412 1399L1409 1399L1406 1399L1403 1399L1400 1399L1397 1399L1394 1399L1391 1399L1388 1399L1385 1399L1382 1399L1379 1399L1376 1399L1373 1399L1370 1399L1367 1399L1364 1399L1361 1399L1358 1399L1355 1399L1352 1399L1349 1399L1346 1399L1343 1399L1340 1399L1337 1399L1334 1399L1331 1399L1328 1399L1325 1399L1322 1399L1319 1399L1316 1399L1313 1399L1310 1399L1307 1399L1304 1399L1301 1399L1298 1399L1295 1399L1292 1399L1289 1399L1286 1399L1283 1399L1280 1399L1277 1399L1274 1399L1271 1399L1268 1399L1265 1399L1262 1399L1259 1399L1256 1399L1253 1399L1250 1399L1247 1399L1247 1396L1247 1393L1247 1390L1247 1387L1247 1384L1247 1381L1247 1378L1247 1375L1247 1372L1247 1369L1247 1366L1247 1363L1247 1360L1247 1357L1247 1354L1247 1351L1247 1348L1247 1345L1247 1342L1247 1339L1247 1336L1247 1333L1247 1330L1247 1327L1247 1324L1247 1321L1247 1318L1247 1315L1247 1312L1247 1309L1247 1306L1247 1303L1247 1300L1247 1297L1247 1294L1247 1291L1247 1288L1247 1285L1247 1282L1247 1279L1247 1276L1247 1273L1250 1273L1253 1273L1256 1273L1259 1273L1262 1273L1265 1273L1268 1274L1271 1274L1274 1274L1277 1274L1280 1274L1283 1274L1286 1274L1289 1274L1292 1274L1295 1274L1298 1275L1301 1275L1304 1275L1307 1275L1310 1275L1313 1275L1316 1275L1319 1275L1322 1275L1325 1276L1328 1276L1330 1276L1331 1276L1334 1276L1337 1276L1340 1276L1343 1276L1346 1276L1349 1276L1352 1277L1355 1277L1358 1277L1361 1277L1364 1277L1367 1277L1370 1277L1373 1277L1376 1278L1379 1278L1382 1278L1385 1278L1388 1278L1391 1278L1394 1278L1397 1278L1400 1277L1403 1277L1406 1277L1409 1277L1412 1277L1415 1276L1418 1276L1421 1276L1423 1276L1424 1276L1427 1275L1430 1275L1433 1275L1436 1275L1439 1275L1442 1274L1445 1274L1448 1274L1451 1274L1454 1273L1457 1273L1460 1273L1462 1273L1463 1273L1466 1272L1469 1272L1472 1271L1475 1271L1478 1271L1481 1270L1484 1270L1485 1270L1487 1269L1490 1269L1493 1269L1496 1268L1499 1268L1502 1267L1505 1267L1507 1267L1508 1267L1511 1266L1514 1266L1517 1265L1520 1265L1523 1265L1526 1264L1529 1264L1530 1264L1532 1264L1535 1263L1538 1263L1541 1262L1544 1262L1547 1261L1550 1261L1552 1261L1553 1261L1556 1260L1559 1260L1562 1259L1565 1259L1568 1259L1571 1258L1574 1258L1576 1258L1577 1258L1580 1257L1583 1257L1586 1257L1589 1256L1592 1256L1595 1256L1598 1255L1601 1255L1602 1255L1604 1254L1607 1253L1610 1252L1610 1252L1613 1251L1616 1250L1619 1249L1619 1249L1622 1248L1625 1247L1628 1246L1628 1246L1631 1245L1634 1244L1637 1243L1637 1243L1640 1242L1643 1241L1646 1240L1647 1240L1649 1239L1652 1238L1655 1237L1657 1237L1658 1236L1661 1235L1664 1235L1667 1234L1668 1234L1670 1233L1673 1233L1676 1233L1679 1233L1682 1233L1685 1233L1688 1233L1691 1232L1694 1232L1697 1232L1700 1232L1703 1232L1706 1232L1709 1231L1712 1231L1715 1231L1718 1231L1719 1231L1721 1231L1724 1230L1727 1230L1730 1230L1733 1230L1736 1229L1739 1229L1742 1229L1745 1228L1748 1228L1751 1228L1753 1228L1754 1228L1757 1227L1760 1227L1763 1227L1766 1226L1769 1226L1772 1226L1775 1225L1778 1225L1781 1225L1781 1225L1784 1224L1787 1224L1790 1224L1793 1223L1796 1223L1799 1223L1802 1222L1805 1222L1806 1222L1808 1221L1811 1221L1814 1221L1817 1220L1820 1220L1823 1219L1825 1219L1826 1219L1829 1218L1832 1218L1835 1217L1838 1217L1841 1216L1844 1216L1844 1216L1847 1215L1850 1215L1853 1214L1856 1214L1859 1213L1862 1213L1862 1213L1865 1212L1868 1212L1871 1211L1874 1211L1877 1210L1879 1210L1880 1210L1883 1209L1886 1208L1889 1208L1892 1207L1894 1207L1895 1207L1898 1206L1901 1205L1904 1205L1907 1204L1909 1204L1910 1204L1913 1203L1916 1202L1919 1202L1922 1201L1924 1201L1925 1201L1928 1200L1931 1199L1934 1199L1937 1198L1940 1198Z" fill="#af9dd6" fill-rule="evenodd"/><path d="M1952 811L1952 811L1952 814L1952 817L1952 820L1952 823L1952 826L1952 829L1952 832L1952 835L1952 838L1952 839L1949 841L1949 841L1946 842L1943 844L1943 844L1940 845L1937 846L1936 847L1934 848L1931 849L1929 850L1928 850L1925 852L1922 853L1922 853L1919 854L1916 855L1915 856L1913 856L1910 858L1907 859L1907 859L1904 860L1901 861L1898 862L1898 862L1895 863L1892 864L1889 865L1889 865L1886 866L1883 867L1880 867L1879 868L1877 868L1874 869L1871 870L1868 871L1867 871L1865 871L1862 872L1859 873L1856 873L1854 874L1853 874L1850 875L1847 875L1844 876L1841 876L1838 877L1838 877L1835 877L1832 878L1829 878L1826 879L1823 879L1820 879L1817 880L1817 880L1814 880L1811 880L1808 881L1805 881L1802 881L1799 881L1796 882L1793 882L1790 882L1787 882L1784 882L1781 882L1778 883L1775 883L1772 883L1771 883L1769 883L1766 883L1763 883L1760 883L1757 883L1754 884L1751 884L1748 884L1745 884L1742 885L1739 885L1736 885L1734 886L1733 886L1730 886L1727 887L1724 888L1721 888L1719 889L1718 889L1715 890L1712 890L1709 891L1708 892L1706 892L1703 893L1700 894L1697 895L1697 895L1694 896L1691 897L1688 897L1687 898L1685 898L1682 899L1679 900L1676 901L1676 901L1673 902L1670 902L1667 903L1665 904L1664 904L1661 905L1658 905L1655 906L1652 907L1652 907L1649 908L1646 908L1643 909L1640 909L1638 910L1637 910L1634 911L1631 911L1628 912L1625 912L1622 913L1620 913L1619 913L1616 913L1613 914L1610 914L1607 915L1604 915L1601 915L1598 915L1595 916L1594 916L1592 916L1589 916L1586 916L1583 916L1580 917L1577 917L1574 917L1571 917L1568 917L1565 917L1562 917L1559 917L1556 917L1553 916L1550 916L1547 916L1544 916L1544 916L1541 915L1538 915L1535 914L1532 913L1532 913L1530 910L1532 908L1533 907L1535 906L1538 904L1539 904L1541 903L1544 902L1547 901L1547 901L1550 900L1553 899L1555 898L1556 898L1559 897L1562 896L1565 895L1565 895L1568 894L1571 893L1574 892L1575 892L1577 891L1580 891L1583 890L1586 889L1587 889L1589 888L1592 888L1595 887L1598 886L1600 886L1601 886L1604 885L1607 884L1610 884L1613 883L1614 883L1616 882L1619 882L1622 881L1625 881L1628 880L1631 880L1631 880L1634 879L1637 879L1640 878L1643 878L1646 878L1649 877L1651 877L1652 877L1655 876L1658 876L1661 876L1664 875L1667 875L1670 875L1673 874L1676 874L1679 874L1679 874L1682 874L1685 873L1688 873L1691 873L1694 872L1697 872L1700 872L1703 872L1706 871L1709 871L1711 871L1712 871L1715 870L1718 870L1721 869L1724 869L1727 868L1729 868L1730 868L1733 867L1736 866L1739 866L1741 865L1742 865L1745 864L1748 863L1751 862L1751 862L1754 861L1757 860L1759 859L1760 858L1763 857L1766 856L1767 856L1769 855L1772 854L1775 853L1775 853L1778 851L1781 850L1782 850L1784 849L1787 848L1790 847L1790 847L1793 846L1796 844L1798 844L1799 843L1802 842L1805 841L1806 841L1808 840L1811 839L1814 838L1814 838L1817 837L1820 836L1823 835L1823 835L1826 834L1829 833L1832 832L1832 832L1835 831L1838 830L1841 829L1842 829L1844 828L1847 827L1850 826L1852 826L1853 826L1856 825L1859 824L1862 823L1864 823L1865 823L1868 822L1871 821L1874 820L1877 820L1877 820L1880 819L1883 819L1886 818L1889 817L1892 817L1893 817L1895 816L1898 816L1901 815L1904 815L1907 815L1910 814L1912 814L1913 814L1916 813L1919 813L1922 813L1925 812L1928 812L1931 812L1934 812L1937 811L1940 811L1943 811L1946 811L1949 811L1951 811ZM1943 973L1946 972L1949 972L1952 971L1952 973L1952 976L1952 979L1952 982L1952 985L1952 988L1952 991L1952 994L1952 997L1952 1000L1952 1003L1952 1006L1952 1009L1952 1012L1952 1015L1952 1018L1952 1020L1950 1021L1949 1021L1946 1023L1945 1024L1943 1025L1940 1027L1940 1027L1937 1029L1936 1030L1934 1032L1932 1033L1931 1036L1934 1036L1937 1036L1940 1036L1943 1036L1945 1036L1946 1036L1949 1035L1952 1035L1952 1036L1952 1039L1952 1042L1952 1045L1952 1048L1952 1051L1952 1054L1952 1057L1952 1060L1952 1063L1952 1066L1952 1069L1952 1072L1952 1075L1952 1078L1952 1081L1952 1084L1952 1087L1952 1090L1952 1093L1952 1096L1952 1099L1952 1102L1952 1105L1952 1108L1952 1111L1952 1114L1952 1117L1952 1120L1952 1123L1952 1126L1952 1129L1952 1132L1952 1133L1950 1135L1949 1136L1947 1138L1946 1138L1943 1141L1943 1141L1940 1143L1939 1144L1937 1145L1934 1146L1933 1147L1931 1148L1928 1149L1927 1150L1925 1151L1922 1152L1919 1153L1919 1153L1916 1154L1913 1154L1910 1155L1907 1156L1906 1156L1904 1156L1901 1157L1898 1157L1895 1157L1892 1157L1889 1157L1886 1157L1883 1157L1880 1157L1877 1157L1874 1157L1871 1156L1869 1156L1868 1156L1865 1155L1862 1155L1859 1154L1856 1153L1854 1153L1853 1153L1850 1152L1847 1152L1844 1151L1841 1151L1838 1150L1835 1150L1832 1150L1829 1150L1826 1150L1823 1150L1820 1150L1817 1150L1814 1151L1811 1151L1808 1151L1805 1152L1802 1152L1799 1153L1797 1153L1796 1153L1793 1154L1790 1154L1787 1155L1784 1155L1782 1156L1781 1156L1778 1157L1775 1157L1772 1158L1769 1159L1769 1159L1766 1160L1763 1160L1760 1161L1757 1162L1757 1162L1754 1163L1751 1164L1748 1164L1746 1165L1745 1165L1742 1166L1739 1167L1736 1168L1736 1168L1733 1169L1730 1169L1727 1170L1725 1171L1724 1171L1721 1172L1718 1173L1715 1174L1715 1174L1712 1175L1709 1175L1706 1176L1704 1177L1703 1177L1700 1178L1697 1179L1694 1180L1693 1180L1691 1180L1688 1181L1685 1182L1682 1183L1682 1183L1679 1184L1676 1184L1673 1185L1670 1186L1670 1186L1667 1186L1664 1187L1661 1188L1658 1188L1656 1189L1655 1189L1652 1190L1649 1190L1646 1191L1643 1192L1641 1192L1640 1192L1637 1193L1634 1193L1631 1194L1628 1194L1625 1195L1623 1195L1622 1195L1619 1195L1616 1196L1613 1196L1610 1197L1607 1197L1604 1197L1601 1197L1598 1198L1597 1198L1595 1198L1592 1198L1589 1199L1586 1199L1583 1199L1580 1199L1577 1199L1574 1200L1571 1200L1568 1200L1565 1200L1562 1200L1559 1200L1556 1201L1553 1201L1552 1201L1550 1201L1547 1201L1544 1201L1541 1201L1538 1201L1535 1202L1532 1202L1529 1202L1526 1202L1523 1202L1520 1202L1517 1202L1514 1202L1511 1202L1508 1203L1505 1203L1502 1203L1499 1203L1496 1203L1493 1203L1490 1203L1487 1203L1484 1203L1481 1203L1478 1203L1475 1204L1472 1204L1469 1204L1468 1204L1466 1204L1463 1204L1460 1204L1457 1204L1454 1204L1451 1204L1448 1204L1445 1205L1442 1205L1439 1205L1436 1205L1433 1205L1430 1205L1427 1205L1424 1205L1421 1205L1418 1205L1415 1206L1412 1206L1409 1206L1406 1206L1403 1206L1400 1206L1397 1206L1394 1206L1391 1206L1388 1206L1385 1207L1382 1207L1379 1207L1377 1207L1376 1207L1373 1207L1370 1207L1367 1207L1364 1207L1361 1207L1358 1207L1355 1207L1352 1208L1349 1208L1346 1208L1343 1208L1340 1208L1337 1208L1334 1208L1331 1208L1328 1208L1325 1208L1322 1208L1319 1208L1316 1208L1313 1208L1310 1209L1307 1209L1304 1209L1301 1209L1298 1209L1295 1209L1292 1209L1289 1209L1286 1209L1283 1209L1280 1209L1277 1209L1274 1209L1271 1209L1268 1209L1265 1209L1262 1209L1259 1209L1256 1209L1253 1209L1250 1209L1247 1209L1247 1207L1247 1204L1247 1201L1247 1198L1247 1195L1247 1192L1247 1189L1247 1187L1250 1187L1253 1187L1256 1187L1259 1187L1262 1187L1265 1187L1268 1187L1271 1187L1274 1187L1277 1187L1280 1187L1283 1187L1286 1187L1289 1187L1292 1187L1295 1187L1298 1186L1301 1186L1304 1186L1307 1186L1310 1186L1313 1186L1316 1186L1318 1186L1319 1186L1322 1186L1325 1186L1328 1185L1331 1185L1334 1185L1337 1185L1340 1185L1343 1185L1346 1185L1349 1185L1352 1184L1355 1184L1358 1184L1361 1184L1364 1184L1367 1183L1370 1183L1373 1183L1376 1183L1376 1183L1379 1183L1382 1182L1385 1182L1388 1182L1391 1182L1394 1182L1397 1181L1400 1181L1403 1181L1406 1180L1409 1180L1412 1180L1412 1180L1415 1180L1418 1179L1421 1179L1424 1179L1427 1178L1430 1178L1433 1178L1436 1177L1439 1177L1441 1177L1442 1177L1445 1176L1448 1176L1451 1176L1454 1175L1457 1175L1460 1174L1463 1174L1465 1174L1466 1174L1469 1173L1472 1173L1475 1172L1478 1172L1481 1172L1484 1171L1486 1171L1487 1171L1490 1170L1493 1170L1496 1169L1499 1169L1502 1168L1505 1168L1506 1168L1508 1167L1511 1167L1514 1166L1517 1166L1520 1165L1523 1165L1524 1165L1526 1164L1529 1164L1532 1163L1535 1163L1538 1162L1541 1162L1541 1162L1544 1161L1547 1161L1550 1160L1553 1160L1556 1159L1557 1159L1559 1158L1562 1158L1565 1157L1568 1157L1571 1156L1573 1156L1574 1156L1577 1155L1580 1154L1583 1154L1586 1153L1588 1153L1589 1153L1592 1152L1595 1151L1598 1151L1601 1150L1603 1150L1604 1150L1607 1149L1610 1148L1613 1148L1616 1147L1618 1147L1619 1147L1622 1146L1625 1145L1628 1145L1631 1144L1632 1144L1634 1143L1637 1143L1640 1142L1643 1141L1646 1141L1646 1141L1649 1140L1652 1139L1655 1139L1658 1138L1659 1138L1661 1137L1664 1137L1667 1136L1670 1135L1672 1135L1673 1135L1676 1134L1679 1133L1682 1133L1685 1132L1685 1132L1688 1131L1691 1130L1694 1130L1697 1129L1698 1129L1700 1128L1703 1128L1706 1127L1709 1126L1710 1126L1712 1125L1715 1125L1718 1124L1721 1123L1722 1123L1724 1122L1727 1121L1730 1121L1733 1120L1733 1120L1736 1119L1739 1118L1742 1117L1743 1117L1745 1116L1748 1115L1751 1114L1753 1114L1754 1114L1757 1113L1760 1112L1763 1111L1763 1111L1766 1110L1769 1109L1772 1108L1772 1108L1775 1107L1778 1106L1780 1105L1781 1105L1784 1103L1787 1102L1788 1102L1790 1101L1793 1100L1796 1099L1796 1099L1799 1098L1802 1097L1804 1096L1805 1095L1808 1094L1811 1093L1812 1093L1814 1092L1817 1091L1819 1090L1820 1089L1823 1088L1826 1087L1826 1087L1829 1085L1832 1084L1833 1084L1835 1083L1838 1081L1839 1081L1841 1080L1844 1079L1846 1078L1847 1077L1850 1076L1852 1075L1853 1074L1856 1073L1858 1072L1859 1071L1862 1070L1864 1069L1865 1068L1868 1067L1869 1066L1871 1065L1874 1063L1875 1063L1877 1062L1880 1060L1880 1060L1883 1058L1886 1057L1886 1056L1889 1055L1890 1054L1892 1053L1895 1051L1895 1051L1898 1048L1899 1048L1899 1045L1898 1045L1895 1044L1892 1044L1889 1045L1886 1045L1884 1045L1883 1045L1880 1045L1877 1045L1874 1046L1871 1046L1868 1046L1865 1047L1862 1047L1859 1047L1856 1047L1853 1048L1852 1048L1850 1048L1847 1048L1844 1049L1841 1049L1838 1050L1835 1050L1832 1050L1829 1051L1827 1051L1826 1051L1823 1051L1820 1052L1817 1052L1814 1052L1811 1053L1808 1053L1805 1053L1802 1054L1800 1054L1799 1054L1796 1054L1793 1055L1790 1055L1787 1055L1784 1055L1781 1055L1778 1056L1775 1056L1772 1056L1769 1056L1766 1056L1763 1056L1760 1056L1757 1056L1754 1057L1751 1057L1748 1057L1745 1057L1742 1056L1739 1056L1736 1056L1733 1056L1730 1056L1727 1055L1724 1055L1721 1054L1720 1054L1719 1051L1721 1049L1722 1048L1724 1047L1726 1045L1727 1045L1730 1043L1731 1042L1733 1041L1736 1039L1737 1039L1739 1038L1742 1036L1743 1036L1745 1035L1748 1033L1748 1033L1751 1032L1754 1030L1755 1030L1757 1029L1760 1027L1761 1027L1763 1026L1766 1025L1768 1024L1769 1023L1772 1022L1775 1021L1775 1021L1778 1020L1781 1018L1783 1018L1784 1017L1787 1016L1790 1015L1792 1015L1793 1014L1796 1013L1799 1012L1801 1012L1802 1012L1805 1011L1808 1010L1811 1009L1811 1009L1814 1008L1817 1007L1820 1006L1822 1006L1823 1006L1826 1005L1829 1004L1832 1003L1832 1003L1835 1002L1838 1001L1841 1000L1842 1000L1844 999L1847 998L1850 997L1852 997L1853 997L1856 996L1859 995L1862 994L1862 994L1865 993L1868 992L1871 991L1871 991L1874 990L1877 989L1880 988L1881 988L1883 987L1886 986L1889 985L1891 985L1892 984L1895 984L1898 983L1901 982L1902 982L1904 981L1907 980L1910 980L1913 979L1914 979L1916 978L1919 978L1922 977L1925 976L1927 976L1928 976L1931 975L1934 974L1937 974L1940 973L1943 973ZM1934 1204L1937 1203L1940 1202L1943 1202L1946 1201L1949 1201L1952 1201L1952 1204L1952 1207L1952 1210L1952 1213L1952 1216L1952 1219L1952 1222L1952 1225L1952 1228L1952 1231L1952 1234L1952 1237L1952 1240L1952 1243L1952 1246L1952 1249L1952 1252L1952 1255L1952 1258L1952 1261L1952 1263L1949 1263L1946 1263L1943 1264L1943 1264L1940 1265L1937 1266L1934 1266L1932 1267L1931 1267L1928 1268L1925 1269L1922 1270L1922 1270L1919 1271L1916 1271L1913 1272L1911 1273L1910 1273L1907 1274L1904 1275L1901 1276L1900 1276L1898 1276L1895 1277L1892 1278L1889 1279L1889 1279L1886 1280L1883 1281L1880 1281L1878 1282L1877 1282L1874 1283L1871 1284L1868 1284L1867 1285L1865 1285L1862 1286L1859 1287L1856 1288L1855 1288L1853 1288L1850 1289L1847 1290L1844 1291L1844 1291L1841 1292L1838 1292L1835 1293L1833 1294L1832 1294L1829 1295L1826 1296L1823 1297L1822 1297L1820 1297L1817 1298L1814 1299L1811 1300L1811 1300L1808 1301L1805 1302L1802 1302L1801 1303L1799 1303L1796 1304L1793 1305L1790 1306L1790 1306L1787 1307L1784 1308L1781 1308L1779 1309L1778 1309L1775 1310L1772 1311L1769 1312L1769 1312L1766 1313L1763 1314L1760 1315L1760 1315L1757 1316L1754 1317L1751 1318L1751 1318L1748 1319L1745 1320L1742 1321L1742 1321L1739 1322L1736 1323L1733 1324L1733 1324L1730 1325L1727 1326L1725 1327L1724 1327L1721 1328L1718 1330L1718 1330L1715 1331L1712 1332L1710 1333L1709 1333L1706 1335L1703 1336L1703 1336L1700 1337L1697 1338L1696 1339L1694 1340L1691 1341L1690 1342L1688 1343L1685 1344L1684 1345L1682 1346L1679 1347L1678 1348L1676 1349L1673 1350L1672 1351L1670 1352L1667 1354L1667 1354L1664 1356L1662 1357L1661 1357L1658 1359L1657 1360L1655 1361L1653 1363L1652 1363L1649 1365L1648 1366L1646 1368L1644 1369L1643 1370L1640 1372L1640 1372L1637 1374L1636 1375L1634 1376L1632 1378L1631 1379L1628 1381L1628 1381L1625 1383L1625 1384L1622 1386L1621 1387L1619 1388L1617 1390L1616 1391L1613 1393L1613 1393L1610 1396L1610 1396L1607 1398L1606 1399L1604 1399L1601 1399L1598 1399L1595 1399L1592 1399L1589 1399L1586 1399L1583 1399L1580 1399L1577 1399L1574 1399L1571 1399L1568 1399L1565 1399L1562 1399L1559 1399L1556 1399L1553 1399L1550 1399L1547 1399L1544 1399L1541 1399L1538 1399L1535 1399L1532 1399L1529 1399L1526 1399L1523 1399L1520 1399L1517 1399L1514 1399L1511 1399L1508 1399L1505 1399L1502 1399L1499 1399L1496 1399L1493 1399L1490 1399L1487 1399L1484 1399L1481 1399L1478 1399L1475 1399L1472 1399L1469 1399L1466 1399L1463 1399L1460 1399L1457 1399L1454 1399L1451 1399L1448 1399L1445 1399L1442 1399L1439 1399L1436 1399L1433 1399L1430 1399L1427 1399L1424 1399L1421 1399L1418 1399L1415 1399L1412 1399L1409 1399L1406 1399L1403 1399L1400 1399L1397 1399L1394 1399L1391 1399L1388 1399L1385 1399L1382 1399L1379 1399L1376 1399L1373 1399L1370 1399L1367 1399L1364 1399L1361 1399L1358 1399L1355 1399L1352 1399L1349 1399L1346 1399L1343 1399L1340 1399L1337 1399L1334 1399L1331 1399L1328 1399L1325 1399L1322 1399L1319 1399L1316 1399L1313 1399L1310 1399L1307 1399L1304 1399L1301 1399L1298 1399L1295 1399L1292 1399L1289 1399L1286 1399L1283 1399L1280 1399L1277 1399L1274 1399L1271 1399L1268 1399L1265 1399L1262 1399L1259 1399L1256 1399L1253 1399L1250 1399L1247 1399L1247 1396L1247 1393L1247 1390L1247 1387L1247 1384L1247 1381L1247 1378L1247 1375L1247 1372L1247 1369L1247 1366L1247 1363L1247 1360L1247 1357L1247 1354L1247 1351L1247 1348L1247 1345L1247 1342L1247 1339L1247 1336L1247 1333L1247 1330L1247 1327L1247 1324L1247 1321L1247 1318L1247 1315L1247 1312L1247 1309L1247 1306L1247 1303L1247 1300L1247 1297L1247 1294L1247 1291L1247 1288L1247 1285L1247 1282L1250 1282L1253 1282L1256 1282L1259 1282L1262 1283L1265 1283L1268 1283L1271 1283L1274 1283L1277 1283L1280 1283L1283 1283L1286 1283L1289 1283L1292 1283L1295 1283L1298 1283L1301 1284L1304 1284L1307 1284L1310 1284L1313 1284L1316 1284L1319 1284L1322 1284L1325 1284L1328 1284L1331 1285L1334 1285L1337 1285L1338 1285L1340 1285L1343 1285L1346 1285L1349 1285L1352 1285L1355 1285L1358 1285L1361 1286L1364 1286L1367 1286L1370 1286L1373 1286L1376 1286L1379 1286L1382 1286L1385 1286L1388 1286L1391 1286L1394 1286L1397 1286L1400 1286L1403 1286L1406 1285L1409 1285L1412 1285L1415 1285L1415 1285L1418 1285L1421 1284L1424 1284L1427 1284L1430 1284L1433 1284L1436 1283L1439 1283L1442 1283L1445 1283L1448 1283L1451 1282L1454 1282L1457 1282L1460 1282L1460 1282L1463 1281L1466 1281L1469 1281L1472 1280L1475 1280L1478 1280L1481 1279L1484 1279L1485 1279L1487 1279L1490 1278L1493 1278L1496 1277L1499 1277L1502 1277L1505 1276L1508 1276L1511 1276L1511 1276L1514 1275L1517 1275L1520 1275L1523 1274L1526 1274L1529 1274L1532 1273L1535 1273L1537 1273L1538 1273L1541 1272L1544 1272L1547 1271L1550 1271L1553 1271L1556 1270L1559 1270L1561 1270L1562 1270L1565 1269L1568 1269L1571 1269L1574 1268L1577 1268L1580 1267L1583 1267L1586 1267L1586 1267L1589 1266L1592 1266L1595 1266L1598 1265L1601 1265L1604 1264L1605 1264L1607 1263L1610 1262L1613 1262L1616 1261L1616 1261L1619 1260L1622 1259L1625 1258L1626 1258L1628 1257L1631 1256L1634 1256L1637 1255L1637 1255L1640 1254L1643 1253L1646 1252L1648 1252L1649 1252L1652 1251L1655 1250L1658 1249L1659 1249L1661 1248L1664 1248L1667 1247L1670 1246L1672 1246L1673 1246L1676 1245L1679 1245L1682 1244L1685 1244L1688 1244L1691 1243L1694 1243L1695 1243L1697 1242L1700 1242L1703 1242L1706 1241L1709 1241L1712 1240L1715 1240L1717 1240L1718 1240L1721 1239L1724 1239L1727 1238L1730 1238L1733 1238L1736 1237L1739 1237L1740 1237L1742 1236L1745 1236L1748 1236L1751 1235L1754 1235L1757 1234L1760 1234L1762 1234L1763 1234L1766 1233L1769 1233L1772 1232L1775 1232L1778 1232L1781 1231L1784 1231L1784 1231L1787 1230L1790 1230L1793 1229L1796 1229L1799 1229L1802 1228L1805 1228L1805 1228L1808 1227L1811 1227L1814 1226L1817 1226L1820 1225L1823 1225L1823 1225L1826 1224L1829 1224L1832 1223L1835 1223L1838 1222L1840 1222L1841 1222L1844 1221L1847 1221L1850 1220L1853 1220L1856 1219L1858 1219L1859 1219L1862 1218L1865 1217L1868 1217L1871 1216L1874 1216L1875 1216L1877 1215L1880 1215L1883 1214L1886 1214L1889 1213L1890 1213L1892 1212L1895 1212L1898 1211L1901 1210L1904 1210L1904 1210L1907 1209L1910 1209L1913 1208L1916 1207L1919 1207L1919 1207L1922 1206L1925 1205L1928 1205L1931 1204L1934 1204Z" fill="#ba90d0" fill-rule="evenodd"/><path d="M1919 817L1922 817L1925 816L1928 816L1931 816L1934 816L1937 816L1940 816L1943 816L1946 816L1949 817L1951 817L1952 817L1952 820L1952 823L1952 826L1952 829L1952 832L1952 833L1949 835L1949 835L1946 837L1945 838L1943 839L1940 840L1939 841L1937 842L1934 843L1933 844L1931 845L1928 846L1927 847L1925 848L1922 849L1920 850L1919 850L1916 852L1913 853L1913 853L1910 854L1907 855L1905 856L1904 856L1901 857L1898 859L1897 859L1895 860L1892 861L1889 862L1888 862L1886 862L1883 863L1880 864L1878 865L1877 865L1874 866L1871 867L1868 868L1867 868L1865 868L1862 869L1859 870L1856 870L1854 871L1853 871L1850 872L1847 872L1844 873L1841 873L1838 874L1837 874L1835 874L1832 875L1829 875L1826 875L1823 876L1820 876L1817 876L1814 876L1811 877L1809 877L1808 877L1805 877L1802 877L1799 877L1796 877L1793 877L1790 877L1787 877L1784 877L1781 877L1778 877L1775 877L1775 877L1772 876L1769 876L1766 876L1763 875L1760 874L1759 874L1757 871L1757 871L1757 871L1759 868L1760 867L1763 865L1764 865L1766 864L1769 862L1769 862L1772 860L1774 859L1775 859L1778 857L1780 856L1781 856L1784 854L1787 853L1787 853L1790 851L1793 850L1793 850L1796 849L1799 847L1800 847L1802 846L1805 845L1808 844L1808 844L1811 843L1814 841L1816 841L1817 840L1820 839L1823 838L1824 838L1826 837L1829 836L1832 835L1833 835L1835 834L1838 833L1841 832L1842 832L1844 831L1847 830L1850 830L1853 829L1853 829L1856 828L1859 827L1862 826L1864 826L1865 826L1868 825L1871 824L1874 824L1877 823L1878 823L1880 822L1883 822L1886 821L1889 821L1892 820L1894 820L1895 820L1898 819L1901 819L1904 818L1907 818L1910 818L1913 817L1916 817L1918 817ZM1649 883L1652 882L1655 882L1658 882L1661 882L1664 882L1667 881L1670 881L1673 881L1676 881L1679 881L1682 882L1685 882L1688 882L1691 883L1691 884L1692 886L1691 886L1688 888L1687 889L1685 890L1682 891L1681 892L1679 892L1676 894L1673 895L1673 895L1670 896L1667 897L1664 898L1664 898L1661 899L1658 899L1655 900L1653 901L1652 901L1649 902L1646 903L1643 903L1641 904L1640 904L1637 904L1634 905L1631 906L1628 906L1625 907L1624 907L1622 907L1619 908L1616 908L1613 908L1610 909L1607 909L1604 909L1601 909L1598 909L1595 910L1592 910L1589 910L1586 910L1583 909L1580 909L1577 909L1574 908L1571 907L1571 907L1570 904L1571 903L1574 901L1574 901L1577 900L1580 898L1581 898L1583 897L1586 896L1589 895L1589 895L1592 894L1595 893L1598 892L1599 892L1601 891L1604 891L1607 890L1610 889L1612 889L1613 889L1616 888L1619 887L1622 887L1625 886L1627 886L1628 886L1631 885L1634 885L1637 884L1640 884L1643 883L1646 883L1648 883ZM1946 976L1949 975L1952 975L1952 976L1952 979L1952 982L1952 985L1952 988L1952 991L1952 994L1952 997L1952 1000L1952 1003L1952 1006L1952 1009L1952 1012L1952 1012L1949 1014L1947 1015L1946 1015L1943 1017L1941 1018L1940 1018L1937 1020L1934 1021L1934 1021L1931 1022L1928 1024L1928 1024L1925 1025L1922 1026L1920 1027L1919 1027L1916 1029L1913 1030L1912 1030L1910 1031L1907 1032L1904 1032L1902 1033L1901 1033L1898 1034L1895 1035L1892 1036L1891 1036L1889 1036L1886 1037L1883 1038L1880 1038L1877 1039L1876 1039L1874 1039L1871 1040L1868 1040L1865 1041L1862 1041L1859 1042L1858 1042L1856 1042L1853 1043L1850 1043L1847 1043L1844 1044L1841 1044L1838 1045L1837 1045L1835 1045L1832 1045L1829 1046L1826 1046L1823 1047L1820 1047L1817 1047L1814 1048L1813 1048L1811 1048L1808 1048L1805 1049L1802 1049L1799 1049L1796 1050L1793 1050L1790 1050L1787 1050L1784 1050L1781 1051L1778 1051L1775 1051L1772 1051L1769 1051L1766 1051L1763 1050L1760 1050L1757 1050L1754 1049L1751 1049L1749 1048L1748 1047L1747 1045L1748 1043L1748 1042L1751 1040L1752 1039L1754 1037L1756 1036L1757 1035L1760 1033L1761 1033L1763 1032L1766 1030L1767 1030L1769 1029L1772 1027L1773 1027L1775 1026L1778 1024L1779 1024L1781 1023L1784 1022L1787 1021L1787 1021L1790 1020L1793 1019L1795 1018L1796 1018L1799 1016L1802 1015L1804 1015L1805 1015L1808 1014L1811 1013L1814 1012L1814 1012L1817 1011L1820 1010L1823 1009L1823 1009L1826 1008L1829 1007L1832 1006L1833 1006L1835 1005L1838 1004L1841 1003L1843 1003L1844 1002L1847 1002L1850 1001L1853 1000L1853 1000L1856 999L1859 998L1862 997L1862 997L1865 996L1868 995L1871 994L1872 994L1874 993L1877 992L1880 991L1881 991L1883 990L1886 989L1889 989L1892 988L1892 988L1895 987L1898 986L1901 985L1903 985L1904 985L1907 984L1910 983L1913 982L1915 982L1916 982L1919 981L1922 980L1925 980L1928 979L1929 979L1931 978L1934 978L1937 977L1940 977L1943 976L1946 976ZM1946 1044L1949 1043L1952 1043L1952 1045L1952 1048L1952 1051L1952 1054L1952 1057L1952 1060L1952 1063L1952 1066L1952 1069L1952 1072L1952 1075L1952 1078L1952 1081L1952 1084L1952 1087L1952 1090L1952 1093L1952 1096L1952 1099L1952 1102L1952 1105L1952 1107L1950 1108L1949 1109L1946 1110L1945 1111L1943 1112L1941 1114L1940 1114L1937 1116L1936 1117L1934 1118L1932 1120L1931 1120L1928 1123L1928 1123L1925 1125L1923 1126L1922 1127L1919 1129L1919 1129L1916 1130L1913 1132L1913 1132L1910 1133L1907 1134L1906 1135L1904 1135L1901 1136L1898 1137L1895 1137L1892 1138L1890 1138L1889 1138L1886 1138L1883 1138L1880 1138L1877 1138L1874 1138L1871 1138L1868 1138L1865 1139L1862 1139L1859 1139L1856 1139L1853 1139L1850 1139L1847 1139L1844 1139L1841 1139L1838 1140L1835 1140L1832 1140L1829 1140L1826 1141L1825 1141L1823 1141L1820 1141L1817 1142L1814 1142L1811 1143L1808 1143L1805 1143L1803 1144L1802 1144L1799 1144L1796 1145L1793 1146L1790 1146L1787 1147L1786 1147L1784 1147L1781 1148L1778 1149L1775 1149L1772 1150L1772 1150L1769 1151L1766 1151L1763 1152L1760 1153L1760 1153L1757 1153L1754 1154L1751 1155L1748 1156L1747 1156L1745 1156L1742 1157L1739 1158L1736 1159L1735 1159L1733 1159L1730 1160L1727 1161L1724 1162L1723 1162L1721 1162L1718 1163L1715 1164L1712 1165L1711 1165L1709 1165L1706 1166L1703 1167L1700 1168L1699 1168L1697 1168L1694 1169L1691 1170L1688 1170L1686 1171L1685 1171L1682 1172L1679 1172L1676 1173L1673 1174L1672 1174L1670 1174L1667 1175L1664 1175L1661 1176L1658 1176L1656 1177L1655 1177L1652 1178L1649 1178L1646 1179L1643 1179L1640 1180L1639 1180L1637 1180L1634 1181L1631 1181L1628 1181L1625 1182L1622 1182L1619 1183L1619 1183L1616 1183L1613 1184L1610 1184L1607 1184L1604 1185L1601 1185L1598 1185L1595 1186L1593 1186L1592 1186L1589 1186L1586 1187L1583 1187L1580 1187L1577 1187L1574 1188L1571 1188L1568 1188L1565 1188L1562 1188L1559 1189L1557 1189L1556 1189L1553 1189L1550 1189L1547 1189L1544 1190L1541 1190L1538 1190L1535 1190L1532 1190L1529 1190L1526 1190L1523 1190L1520 1191L1517 1191L1514 1191L1511 1191L1508 1191L1505 1191L1502 1191L1499 1191L1496 1191L1493 1191L1490 1191L1487 1191L1484 1191L1481 1191L1478 1191L1475 1191L1472 1191L1469 1191L1466 1191L1463 1191L1460 1190L1457 1190L1454 1190L1451 1189L1450 1189L1451 1189L1454 1187L1456 1186L1457 1186L1460 1185L1463 1184L1466 1184L1468 1183L1469 1183L1472 1182L1475 1182L1478 1181L1481 1180L1483 1180L1484 1180L1487 1179L1490 1179L1493 1178L1496 1177L1498 1177L1499 1177L1502 1176L1505 1176L1508 1175L1511 1174L1514 1174L1514 1174L1517 1173L1520 1173L1523 1172L1526 1172L1529 1171L1529 1171L1532 1170L1535 1170L1538 1169L1541 1169L1544 1168L1544 1168L1547 1167L1550 1167L1553 1166L1556 1166L1559 1165L1559 1165L1562 1164L1565 1164L1568 1163L1571 1162L1574 1162L1574 1162L1577 1161L1580 1161L1583 1160L1586 1159L1588 1159L1589 1159L1592 1158L1595 1157L1598 1157L1601 1156L1602 1156L1604 1155L1607 1155L1610 1154L1613 1153L1616 1153L1616 1153L1619 1152L1622 1151L1625 1151L1628 1150L1629 1150L1631 1149L1634 1149L1637 1148L1640 1147L1642 1147L1643 1147L1646 1146L1649 1145L1652 1145L1655 1144L1655 1144L1658 1143L1661 1143L1664 1142L1667 1141L1668 1141L1670 1140L1673 1140L1676 1139L1679 1138L1681 1138L1682 1138L1685 1137L1688 1136L1691 1135L1693 1135L1694 1135L1697 1134L1700 1133L1703 1132L1705 1132L1706 1132L1709 1131L1712 1130L1715 1129L1717 1129L1718 1129L1721 1128L1724 1127L1727 1126L1728 1126L1730 1125L1733 1125L1736 1124L1739 1123L1739 1123L1742 1122L1745 1121L1748 1120L1749 1120L1751 1119L1754 1118L1757 1117L1759 1117L1760 1116L1763 1115L1766 1115L1768 1114L1769 1114L1772 1112L1775 1111L1777 1111L1778 1110L1781 1109L1784 1108L1785 1108L1787 1107L1790 1106L1793 1105L1793 1105L1796 1104L1799 1103L1801 1102L1802 1102L1805 1100L1808 1099L1809 1099L1811 1098L1814 1097L1816 1096L1817 1096L1820 1094L1823 1093L1824 1093L1826 1092L1829 1091L1831 1090L1832 1089L1835 1088L1838 1087L1838 1087L1841 1085L1844 1084L1844 1084L1847 1083L1850 1081L1851 1081L1853 1080L1856 1079L1858 1078L1859 1077L1862 1076L1864 1075L1865 1075L1868 1073L1871 1072L1871 1072L1874 1070L1877 1069L1878 1069L1880 1068L1883 1066L1884 1066L1886 1065L1889 1064L1891 1063L1892 1062L1895 1061L1898 1060L1898 1060L1901 1058L1904 1057L1905 1057L1907 1056L1910 1055L1913 1054L1913 1054L1916 1053L1919 1052L1922 1051L1922 1051L1925 1050L1928 1049L1931 1048L1932 1048L1934 1047L1937 1046L1940 1046L1943 1045L1943 1045ZM1940 1206L1943 1206L1946 1205L1949 1205L1952 1205L1952 1207L1952 1210L1952 1213L1952 1216L1952 1219L1952 1222L1952 1225L1952 1228L1952 1231L1952 1234L1952 1237L1952 1240L1952 1243L1952 1246L1952 1249L1952 1252L1952 1255L1952 1257L1949 1257L1946 1257L1945 1258L1943 1258L1940 1259L1937 1260L1934 1261L1934 1261L1931 1262L1928 1262L1925 1263L1923 1264L1922 1264L1919 1265L1916 1266L1913 1266L1912 1267L1910 1267L1907 1268L1904 1269L1901 1270L1901 1270L1898 1271L1895 1271L1892 1272L1890 1273L1889 1273L1886 1274L1883 1275L1880 1275L1879 1276L1877 1276L1874 1277L1871 1278L1868 1279L1867 1279L1865 1279L1862 1280L1859 1281L1856 1282L1855 1282L1853 1282L1850 1283L1847 1284L1844 1285L1844 1285L1841 1286L1838 1286L1835 1287L1832 1288L1832 1288L1829 1289L1826 1290L1823 1290L1821 1291L1820 1291L1817 1292L1814 1293L1811 1294L1810 1294L1808 1294L1805 1295L1802 1296L1799 1297L1799 1297L1796 1298L1793 1298L1790 1299L1787 1300L1787 1300L1784 1301L1781 1302L1778 1302L1777 1303L1775 1303L1772 1304L1769 1305L1766 1306L1766 1306L1763 1307L1760 1308L1757 1308L1756 1309L1754 1309L1751 1310L1748 1311L1746 1312L1745 1312L1742 1313L1739 1314L1736 1315L1736 1315L1733 1316L1730 1317L1727 1318L1727 1318L1724 1319L1721 1320L1718 1321L1718 1321L1715 1322L1712 1323L1709 1324L1709 1324L1706 1325L1703 1326L1701 1327L1700 1327L1697 1328L1694 1329L1693 1330L1691 1331L1688 1332L1685 1333L1685 1333L1682 1334L1679 1335L1678 1336L1676 1337L1673 1338L1671 1339L1670 1339L1667 1341L1665 1342L1664 1342L1661 1344L1659 1345L1658 1345L1655 1347L1653 1348L1652 1348L1649 1350L1648 1351L1646 1352L1643 1353L1642 1354L1640 1355L1637 1357L1637 1357L1634 1359L1632 1360L1631 1360L1628 1362L1627 1363L1625 1364L1622 1366L1622 1366L1619 1368L1617 1369L1616 1370L1613 1372L1613 1372L1610 1374L1608 1375L1607 1376L1604 1378L1604 1378L1601 1380L1599 1381L1598 1381L1595 1383L1594 1384L1592 1385L1589 1387L1589 1387L1586 1388L1583 1390L1583 1390L1580 1392L1578 1393L1577 1393L1574 1395L1572 1396L1571 1396L1568 1398L1566 1399L1565 1399L1562 1399L1559 1399L1556 1399L1553 1399L1550 1399L1547 1399L1544 1399L1541 1399L1538 1399L1535 1399L1532 1399L1529 1399L1526 1399L1523 1399L1520 1399L1517 1399L1514 1399L1511 1399L1508 1399L1505 1399L1502 1399L1499 1399L1496 1399L1493 1399L1490 1399L1487 1399L1484 1399L1481 1399L1478 1399L1475 1399L1472 1399L1469 1399L1466 1399L1463 1399L1460 1399L1457 1399L1454 1399L1451 1399L1448 1399L1445 1399L1442 1399L1439 1399L1436 1399L1433 1399L1430 1399L1427 1399L1424 1399L1421 1399L1418 1399L1415 1399L1412 1399L1409 1399L1406 1399L1403 1399L1400 1399L1397 1399L1394 1399L1391 1399L1388 1399L1385 1399L1382 1399L1379 1399L1376 1399L1373 1399L1370 1399L1367 1399L1364 1399L1361 1399L1358 1399L1355 1399L1352 1399L1349 1399L1346 1399L1343 1399L1340 1399L1337 1399L1334 1399L1331 1399L1328 1399L1325 1399L1322 1399L1319 1399L1316 1399L1313 1399L1310 1399L1307 1399L1304 1399L1301 1399L1298 1399L1295 1399L1292 1399L1289 1399L1286 1399L1283 1399L1280 1399L1277 1399L1274 1399L1271 1399L1268 1399L1265 1399L1262 1399L1259 1399L1256 1399L1253 1399L1250 1399L1247 1399L1247 1396L1247 1393L1247 1390L1247 1387L1247 1384L1247 1381L1247 1378L1247 1375L1247 1372L1247 1369L1247 1366L1247 1363L1247 1360L1247 1357L1247 1354L1247 1351L1247 1348L1247 1345L1247 1342L1247 1339L1247 1336L1247 1333L1247 1330L1247 1327L1247 1324L1247 1321L1247 1318L1247 1315L1247 1312L1247 1309L1247 1306L1247 1303L1247 1300L1247 1297L1247 1294L1247 1291L1247 1288L1250 1288L1253 1288L1256 1289L1259 1289L1262 1289L1265 1289L1268 1289L1271 1289L1274 1289L1277 1289L1280 1289L1283 1289L1286 1289L1289 1289L1292 1289L1295 1289L1298 1290L1301 1290L1304 1290L1307 1290L1310 1290L1313 1290L1316 1290L1319 1290L1322 1290L1325 1290L1328 1290L1331 1290L1334 1291L1337 1291L1340 1291L1343 1291L1343 1291L1346 1291L1349 1291L1352 1291L1355 1291L1358 1291L1361 1291L1364 1291L1367 1291L1370 1292L1373 1292L1376 1292L1379 1292L1382 1292L1385 1292L1388 1292L1391 1292L1394 1292L1397 1292L1400 1291L1403 1291L1406 1291L1409 1291L1410 1291L1412 1291L1415 1290L1418 1290L1421 1290L1424 1290L1427 1290L1430 1289L1433 1289L1436 1289L1439 1289L1442 1289L1445 1288L1448 1288L1451 1288L1454 1288L1455 1288L1457 1288L1460 1287L1463 1287L1466 1287L1469 1286L1472 1286L1475 1286L1478 1285L1481 1285L1483 1285L1484 1285L1487 1284L1490 1284L1493 1284L1496 1283L1499 1283L1502 1283L1505 1282L1508 1282L1509 1282L1511 1282L1514 1281L1517 1281L1520 1281L1523 1280L1526 1280L1529 1280L1532 1279L1535 1279L1535 1279L1538 1278L1541 1278L1544 1278L1547 1277L1550 1277L1553 1277L1556 1276L1559 1276L1559 1276L1562 1275L1565 1275L1568 1275L1571 1274L1574 1274L1577 1274L1580 1273L1583 1273L1584 1273L1586 1273L1589 1272L1592 1272L1595 1271L1598 1271L1601 1271L1604 1270L1604 1270L1607 1269L1610 1268L1613 1267L1615 1267L1616 1266L1619 1266L1622 1265L1625 1264L1626 1264L1628 1263L1631 1262L1634 1262L1637 1261L1637 1261L1640 1260L1643 1259L1646 1258L1648 1258L1649 1258L1652 1257L1655 1256L1658 1255L1659 1255L1661 1254L1664 1253L1667 1253L1670 1252L1672 1252L1673 1252L1676 1251L1679 1251L1682 1250L1685 1250L1688 1249L1691 1249L1692 1249L1694 1248L1697 1248L1700 1248L1703 1247L1706 1247L1709 1246L1712 1246L1712 1246L1715 1245L1718 1245L1721 1244L1724 1244L1727 1244L1730 1243L1733 1243L1733 1243L1736 1242L1739 1242L1742 1241L1745 1241L1748 1241L1751 1240L1753 1240L1754 1240L1757 1239L1760 1239L1763 1238L1766 1238L1769 1237L1772 1237L1774 1237L1775 1237L1778 1236L1781 1236L1784 1235L1787 1235L1790 1234L1793 1234L1794 1234L1796 1233L1799 1233L1802 1233L1805 1232L1808 1232L1811 1231L1813 1231L1814 1231L1817 1230L1820 1230L1823 1229L1826 1228L1829 1228L1830 1228L1832 1227L1835 1227L1838 1226L1841 1226L1844 1225L1847 1225L1847 1225L1850 1224L1853 1224L1856 1223L1859 1223L1862 1222L1864 1222L1865 1222L1868 1221L1871 1220L1874 1220L1877 1219L1880 1219L1880 1219L1883 1218L1886 1217L1889 1217L1892 1216L1894 1216L1895 1216L1898 1215L1901 1214L1904 1214L1907 1213L1909 1213L1910 1213L1913 1212L1916 1211L1919 1211L1922 1210L1923 1210L1925 1209L1928 1209L1931 1208L1934 1208L1937 1207L1938 1207Z" fill="#c680c7" fill-rule="evenodd"/><path d="M1898 822L1901 822L1904 822L1907 821L1910 821L1913 821L1916 821L1919 821L1922 821L1925 821L1928 821L1931 821L1934 822L1937 822L1940 823L1940 823L1943 825L1944 826L1944 829L1943 830L1942 832L1940 833L1938 835L1937 836L1934 838L1934 838L1931 840L1930 841L1928 842L1925 843L1924 844L1922 845L1919 846L1918 847L1916 848L1913 849L1911 850L1910 850L1907 852L1904 853L1904 853L1901 854L1898 855L1896 856L1895 856L1892 857L1889 858L1888 859L1886 859L1883 860L1880 861L1878 862L1877 862L1874 863L1871 864L1868 864L1867 865L1865 865L1862 866L1859 867L1856 867L1853 868L1853 868L1850 868L1847 869L1844 869L1841 870L1838 870L1835 871L1835 871L1832 871L1829 872L1826 872L1823 872L1820 872L1817 872L1814 873L1811 873L1808 873L1805 873L1802 873L1799 872L1796 872L1793 872L1790 871L1788 871L1787 871L1784 869L1782 868L1782 865L1784 862L1784 862L1787 859L1788 859L1790 857L1792 856L1793 855L1796 854L1798 853L1799 852L1802 851L1804 850L1805 849L1808 848L1810 847L1811 846L1814 845L1817 844L1817 844L1820 843L1823 842L1825 841L1826 840L1829 839L1832 838L1833 838L1835 837L1838 836L1841 835L1843 835L1844 834L1847 833L1850 833L1853 832L1853 832L1856 831L1859 830L1862 829L1864 829L1865 829L1868 828L1871 827L1874 827L1877 826L1878 826L1880 825L1883 825L1886 824L1889 824L1892 823L1895 823L1895 823ZM1952 979L1952 979L1952 982L1952 985L1952 988L1952 991L1952 994L1952 997L1952 1000L1952 1003L1952 1006L1952 1007L1949 1008L1948 1009L1946 1010L1943 1011L1942 1012L1940 1013L1937 1014L1936 1015L1934 1016L1931 1017L1929 1018L1928 1018L1925 1020L1922 1021L1922 1021L1919 1022L1916 1023L1914 1024L1913 1024L1910 1025L1907 1026L1905 1027L1904 1027L1901 1028L1898 1029L1895 1030L1895 1030L1892 1031L1889 1031L1886 1032L1883 1033L1883 1033L1880 1033L1877 1034L1874 1035L1871 1035L1868 1036L1868 1036L1865 1036L1862 1037L1859 1037L1856 1038L1853 1038L1850 1039L1850 1039L1847 1039L1844 1040L1841 1040L1838 1041L1835 1041L1832 1041L1829 1042L1828 1042L1826 1042L1823 1042L1820 1043L1817 1043L1814 1043L1811 1044L1808 1044L1805 1044L1802 1044L1799 1045L1796 1045L1794 1045L1793 1045L1790 1045L1787 1045L1784 1045L1783 1045L1781 1045L1778 1044L1775 1044L1772 1043L1769 1042L1769 1041L1769 1039L1769 1038L1771 1036L1772 1035L1775 1033L1775 1033L1778 1031L1779 1030L1781 1029L1784 1027L1785 1027L1787 1026L1790 1025L1792 1024L1793 1023L1796 1022L1799 1021L1799 1021L1802 1020L1805 1019L1807 1018L1808 1018L1811 1016L1814 1015L1816 1015L1817 1014L1820 1013L1823 1012L1825 1012L1826 1011L1829 1010L1832 1009L1834 1009L1835 1008L1838 1008L1841 1007L1843 1006L1844 1006L1847 1005L1850 1004L1852 1003L1853 1003L1856 1002L1859 1001L1862 1000L1862 1000L1865 999L1868 998L1871 997L1871 997L1874 996L1877 995L1880 994L1881 994L1883 993L1886 992L1889 992L1892 991L1892 991L1895 990L1898 989L1901 988L1903 988L1904 988L1907 987L1910 986L1913 985L1916 985L1916 985L1919 984L1922 984L1925 983L1928 982L1931 982L1931 982L1934 981L1937 981L1940 980L1943 980L1946 979L1949 979L1951 979ZM1943 1050L1946 1049L1949 1049L1952 1048L1952 1051L1952 1054L1952 1057L1952 1060L1952 1063L1952 1066L1952 1069L1952 1072L1952 1075L1952 1078L1952 1081L1952 1084L1952 1087L1952 1090L1952 1093L1952 1096L1952 1098L1951 1099L1949 1100L1946 1101L1945 1102L1943 1103L1940 1104L1939 1105L1937 1106L1934 1107L1932 1108L1931 1109L1928 1110L1926 1111L1925 1111L1922 1113L1920 1114L1919 1114L1916 1115L1913 1117L1913 1117L1910 1118L1907 1119L1905 1120L1904 1120L1901 1121L1898 1122L1896 1123L1895 1123L1892 1124L1889 1125L1886 1126L1885 1126L1883 1126L1880 1127L1877 1127L1874 1128L1871 1128L1869 1129L1868 1129L1865 1129L1862 1130L1859 1130L1856 1131L1853 1131L1850 1131L1847 1132L1846 1132L1844 1132L1841 1132L1838 1133L1835 1133L1832 1133L1829 1134L1826 1134L1823 1135L1821 1135L1820 1135L1817 1135L1814 1136L1811 1136L1808 1137L1805 1137L1802 1138L1800 1138L1799 1138L1796 1139L1793 1139L1790 1140L1787 1140L1784 1141L1783 1141L1781 1141L1778 1142L1775 1142L1772 1143L1769 1144L1768 1144L1766 1144L1763 1145L1760 1146L1757 1146L1754 1147L1754 1147L1751 1148L1748 1148L1745 1149L1742 1150L1741 1150L1739 1150L1736 1151L1733 1152L1730 1152L1728 1153L1727 1153L1724 1154L1721 1154L1718 1155L1715 1156L1715 1156L1712 1156L1709 1157L1706 1158L1703 1158L1701 1159L1700 1159L1697 1160L1694 1160L1691 1161L1688 1162L1687 1162L1685 1162L1682 1163L1679 1163L1676 1164L1673 1164L1671 1165L1670 1165L1667 1165L1664 1166L1661 1166L1658 1167L1655 1167L1652 1168L1652 1168L1649 1168L1646 1169L1643 1169L1640 1169L1637 1170L1634 1170L1631 1170L1628 1171L1628 1171L1625 1171L1622 1171L1619 1171L1616 1172L1613 1172L1610 1172L1607 1172L1604 1172L1601 1172L1598 1172L1595 1171L1594 1171L1595 1170L1597 1168L1598 1167L1601 1166L1604 1165L1604 1165L1607 1164L1610 1163L1613 1162L1614 1162L1616 1161L1619 1160L1622 1160L1624 1159L1625 1159L1628 1158L1631 1157L1634 1156L1635 1156L1637 1155L1640 1155L1643 1154L1646 1153L1647 1153L1649 1152L1652 1152L1655 1151L1658 1150L1658 1150L1661 1149L1664 1148L1667 1148L1670 1147L1670 1147L1673 1146L1676 1145L1679 1145L1681 1144L1682 1144L1685 1143L1688 1142L1691 1141L1693 1141L1694 1141L1697 1140L1700 1139L1703 1138L1705 1138L1706 1137L1709 1137L1712 1136L1715 1135L1716 1135L1718 1134L1721 1134L1724 1133L1727 1132L1727 1132L1730 1131L1733 1130L1736 1129L1737 1129L1739 1128L1742 1127L1745 1127L1747 1126L1748 1126L1751 1125L1754 1124L1757 1123L1757 1123L1760 1122L1763 1121L1766 1120L1766 1120L1769 1119L1772 1118L1774 1117L1775 1117L1778 1116L1781 1114L1783 1114L1784 1113L1787 1112L1790 1111L1791 1111L1793 1110L1796 1109L1798 1108L1799 1108L1802 1106L1805 1105L1806 1105L1808 1104L1811 1103L1813 1102L1814 1101L1817 1100L1820 1099L1820 1099L1823 1098L1826 1096L1827 1096L1829 1095L1832 1094L1834 1093L1835 1093L1838 1091L1841 1090L1841 1090L1844 1089L1847 1087L1848 1087L1850 1086L1853 1085L1855 1084L1856 1083L1859 1082L1862 1081L1862 1081L1865 1079L1868 1078L1869 1078L1871 1077L1874 1075L1876 1075L1877 1074L1880 1073L1883 1072L1883 1072L1886 1070L1889 1069L1890 1069L1892 1068L1895 1067L1897 1066L1898 1065L1901 1064L1904 1063L1905 1063L1907 1062L1910 1061L1913 1060L1913 1060L1916 1059L1919 1058L1921 1057L1922 1057L1925 1056L1928 1055L1931 1054L1931 1054L1934 1053L1937 1052L1940 1051L1941 1051ZM1940 1210L1943 1209L1946 1208L1949 1208L1952 1208L1952 1210L1952 1213L1952 1216L1952 1219L1952 1222L1952 1225L1952 1228L1952 1231L1952 1234L1952 1237L1952 1240L1952 1243L1952 1246L1952 1249L1952 1252L1952 1252L1949 1253L1946 1253L1943 1254L1940 1254L1939 1255L1937 1255L1934 1256L1931 1257L1928 1258L1928 1258L1925 1258L1922 1259L1919 1260L1916 1261L1916 1261L1913 1262L1910 1263L1907 1263L1905 1264L1904 1264L1901 1265L1898 1266L1895 1267L1894 1267L1892 1267L1889 1268L1886 1269L1883 1270L1883 1270L1880 1271L1877 1271L1874 1272L1871 1273L1871 1273L1868 1274L1865 1274L1862 1275L1859 1276L1859 1276L1856 1277L1853 1277L1850 1278L1848 1279L1847 1279L1844 1280L1841 1281L1838 1281L1836 1282L1835 1282L1832 1283L1829 1284L1826 1284L1824 1285L1823 1285L1820 1286L1817 1287L1814 1288L1813 1288L1811 1288L1808 1289L1805 1290L1802 1291L1801 1291L1799 1291L1796 1292L1793 1293L1790 1294L1789 1294L1787 1294L1784 1295L1781 1296L1778 1297L1778 1297L1775 1298L1772 1298L1769 1299L1767 1300L1766 1300L1763 1301L1760 1302L1757 1302L1756 1303L1754 1303L1751 1304L1748 1305L1745 1306L1745 1306L1742 1307L1739 1308L1736 1308L1735 1309L1733 1309L1730 1310L1727 1311L1725 1312L1724 1312L1721 1313L1718 1314L1715 1315L1715 1315L1712 1316L1709 1317L1706 1318L1706 1318L1703 1319L1700 1320L1697 1321L1696 1321L1694 1322L1691 1323L1688 1324L1688 1324L1685 1325L1682 1326L1679 1327L1679 1327L1676 1328L1673 1329L1671 1330L1670 1330L1667 1331L1664 1333L1664 1333L1661 1334L1658 1335L1657 1336L1655 1337L1652 1338L1650 1339L1649 1339L1646 1341L1644 1342L1643 1342L1640 1344L1638 1345L1637 1345L1634 1347L1631 1348L1631 1348L1628 1349L1625 1351L1625 1351L1622 1352L1619 1354L1619 1354L1616 1355L1613 1357L1613 1357L1610 1359L1607 1360L1607 1360L1604 1362L1602 1363L1601 1363L1598 1365L1595 1366L1595 1366L1592 1367L1589 1368L1588 1369L1586 1370L1583 1371L1581 1372L1580 1372L1577 1373L1574 1375L1574 1375L1571 1376L1568 1377L1567 1378L1565 1379L1562 1380L1560 1381L1559 1381L1556 1382L1553 1384L1552 1384L1550 1385L1547 1386L1545 1387L1544 1387L1541 1388L1538 1390L1537 1390L1535 1391L1532 1392L1529 1393L1529 1393L1526 1394L1523 1395L1521 1396L1520 1396L1517 1397L1514 1398L1512 1399L1511 1399L1508 1399L1505 1399L1502 1399L1499 1399L1496 1399L1493 1399L1490 1399L1487 1399L1484 1399L1481 1399L1478 1399L1475 1399L1472 1399L1469 1399L1466 1399L1463 1399L1460 1399L1457 1399L1454 1399L1451 1399L1448 1399L1445 1399L1442 1399L1439 1399L1436 1399L1433 1399L1430 1399L1427 1399L1424 1399L1421 1399L1418 1399L1415 1399L1412 1399L1409 1399L1406 1399L1403 1399L1400 1399L1397 1399L1394 1399L1391 1399L1388 1399L1385 1399L1382 1399L1379 1399L1376 1399L1373 1399L1370 1399L1367 1399L1364 1399L1361 1399L1358 1399L1355 1399L1352 1399L1349 1399L1346 1399L1343 1399L1340 1399L1337 1399L1334 1399L1331 1399L1328 1399L1325 1399L1322 1399L1319 1399L1316 1399L1313 1399L1310 1399L1307 1399L1304 1399L1301 1399L1298 1399L1295 1399L1292 1399L1289 1399L1286 1399L1283 1399L1280 1399L1277 1399L1274 1399L1271 1399L1268 1399L1265 1399L1262 1399L1259 1399L1256 1399L1253 1399L1250 1399L1247 1399L1247 1396L1247 1393L1247 1390L1247 1387L1247 1384L1247 1381L1247 1378L1247 1375L1247 1372L1247 1369L1247 1366L1247 1363L1247 1360L1247 1357L1247 1354L1247 1351L1247 1348L1247 1345L1247 1342L1247 1339L1247 1336L1247 1333L1247 1330L1247 1327L1247 1324L1247 1321L1247 1318L1247 1315L1247 1312L1247 1309L1247 1306L1247 1303L1247 1300L1247 1297L1247 1294L1247 1293L1250 1293L1253 1293L1256 1294L1259 1294L1262 1294L1265 1294L1268 1294L1269 1294L1271 1294L1274 1294L1277 1294L1280 1294L1283 1294L1286 1294L1289 1294L1292 1294L1295 1294L1298 1294L1301 1295L1304 1295L1307 1295L1310 1295L1313 1295L1316 1295L1319 1295L1322 1295L1325 1295L1328 1295L1331 1295L1334 1295L1337 1295L1340 1295L1343 1296L1346 1296L1349 1296L1352 1296L1355 1296L1358 1296L1361 1296L1364 1296L1367 1296L1370 1296L1373 1296L1376 1296L1379 1297L1382 1297L1385 1297L1387 1297L1388 1297L1391 1297L1391 1297L1394 1297L1397 1296L1400 1296L1403 1296L1406 1296L1409 1296L1412 1295L1415 1295L1418 1295L1421 1295L1424 1294L1427 1294L1430 1294L1433 1294L1434 1294L1436 1294L1439 1293L1442 1293L1445 1293L1448 1293L1451 1293L1454 1292L1457 1292L1460 1292L1463 1292L1466 1291L1469 1291L1471 1291L1472 1291L1475 1290L1478 1290L1481 1290L1484 1289L1487 1289L1490 1289L1493 1288L1496 1288L1497 1288L1499 1288L1502 1287L1505 1287L1508 1286L1511 1286L1514 1286L1517 1285L1520 1285L1523 1285L1523 1285L1526 1284L1529 1284L1532 1284L1535 1283L1538 1283L1541 1283L1544 1282L1547 1282L1548 1282L1550 1282L1553 1281L1556 1281L1559 1280L1562 1280L1565 1280L1568 1279L1571 1279L1572 1279L1574 1279L1577 1278L1580 1278L1583 1277L1586 1277L1589 1277L1592 1276L1595 1276L1597 1276L1598 1276L1601 1275L1604 1274L1607 1273L1610 1273L1610 1273L1613 1272L1616 1271L1619 1270L1621 1270L1622 1269L1625 1269L1628 1268L1631 1267L1632 1267L1634 1266L1637 1265L1640 1264L1643 1264L1643 1264L1646 1263L1649 1262L1652 1261L1654 1261L1655 1260L1658 1260L1661 1259L1664 1258L1665 1258L1667 1257L1670 1257L1673 1256L1676 1256L1679 1255L1681 1255L1682 1255L1685 1254L1688 1254L1691 1253L1694 1253L1697 1252L1700 1252L1701 1252L1703 1251L1706 1251L1709 1251L1712 1250L1715 1250L1718 1249L1721 1249L1721 1249L1724 1248L1727 1248L1730 1247L1733 1247L1736 1246L1739 1246L1741 1246L1742 1246L1745 1245L1748 1245L1751 1244L1754 1244L1757 1243L1760 1243L1760 1243L1763 1242L1766 1242L1769 1241L1772 1241L1775 1240L1778 1240L1780 1240L1781 1240L1784 1239L1787 1239L1790 1238L1793 1238L1796 1237L1799 1237L1799 1237L1802 1236L1805 1236L1808 1235L1811 1235L1814 1234L1817 1234L1817 1234L1820 1233L1823 1233L1826 1232L1829 1232L1832 1231L1834 1231L1835 1231L1838 1230L1841 1229L1844 1229L1847 1228L1850 1228L1850 1228L1853 1227L1856 1227L1859 1226L1862 1226L1865 1225L1866 1225L1868 1225L1871 1224L1874 1223L1877 1223L1880 1222L1882 1222L1883 1222L1886 1221L1889 1220L1892 1220L1895 1219L1897 1219L1898 1218L1901 1218L1904 1217L1907 1217L1910 1216L1911 1216L1913 1215L1916 1215L1919 1214L1922 1213L1925 1213L1925 1213L1928 1212L1931 1212L1934 1211L1937 1210L1939 1210Z" fill="#d16ebc" fill-rule="evenodd"/><path d="M1901 826L1904 826L1907 825L1910 825L1913 825L1916 826L1919 826L1919 826L1922 826L1925 827L1928 829L1928 829L1929 832L1928 833L1927 835L1925 837L1924 838L1922 839L1920 841L1919 841L1916 843L1915 844L1913 845L1910 846L1909 847L1907 848L1904 849L1902 850L1901 850L1898 852L1895 853L1895 853L1892 854L1889 855L1887 856L1886 856L1883 857L1880 858L1877 859L1877 859L1874 860L1871 861L1868 861L1866 862L1865 862L1862 863L1859 863L1856 864L1853 865L1853 865L1850 865L1847 866L1844 866L1841 867L1838 867L1835 867L1832 868L1830 868L1829 868L1826 868L1823 868L1820 868L1817 868L1814 868L1811 868L1811 868L1808 867L1805 867L1802 866L1801 865L1799 862L1801 859L1802 858L1804 856L1805 855L1808 853L1808 853L1811 851L1814 850L1814 850L1817 848L1820 847L1820 847L1823 846L1826 844L1827 844L1829 843L1832 842L1835 841L1835 841L1838 840L1841 839L1843 838L1844 838L1847 837L1850 836L1853 835L1853 835L1856 834L1859 833L1862 832L1865 832L1865 832L1868 831L1871 830L1874 830L1877 829L1879 829L1880 829L1883 828L1886 828L1889 827L1892 827L1895 826L1898 826L1900 826ZM1937 985L1940 984L1943 984L1946 984L1949 984L1952 983L1952 985L1952 988L1952 991L1952 994L1952 997L1952 1000L1952 1001L1949 1003L1949 1003L1946 1004L1944 1006L1943 1006L1940 1008L1938 1009L1937 1009L1934 1011L1932 1012L1931 1012L1928 1014L1925 1015L1925 1015L1922 1016L1919 1017L1918 1018L1916 1019L1913 1020L1910 1021L1910 1021L1907 1022L1904 1023L1901 1024L1901 1024L1898 1025L1895 1026L1892 1027L1891 1027L1889 1027L1886 1028L1883 1029L1880 1030L1879 1030L1877 1030L1874 1031L1871 1031L1868 1032L1865 1033L1864 1033L1862 1033L1859 1034L1856 1034L1853 1034L1850 1035L1847 1035L1844 1036L1844 1036L1841 1036L1838 1036L1835 1037L1832 1037L1829 1037L1826 1038L1823 1038L1820 1038L1817 1038L1814 1039L1811 1039L1808 1039L1805 1039L1802 1039L1799 1038L1796 1038L1793 1037L1791 1036L1791 1033L1793 1031L1794 1030L1796 1029L1799 1027L1799 1027L1802 1025L1805 1024L1805 1024L1808 1022L1811 1021L1812 1021L1814 1020L1817 1019L1819 1018L1820 1017L1823 1016L1826 1015L1827 1015L1829 1014L1832 1013L1835 1012L1835 1012L1838 1011L1841 1010L1844 1009L1844 1009L1847 1008L1850 1007L1853 1006L1853 1006L1856 1005L1859 1004L1862 1003L1862 1003L1865 1002L1868 1001L1871 1000L1871 1000L1874 999L1877 998L1880 997L1881 997L1883 996L1886 995L1889 995L1892 994L1892 994L1895 993L1898 992L1901 991L1903 991L1904 991L1907 990L1910 989L1913 989L1916 988L1917 988L1919 987L1922 987L1925 986L1928 986L1931 985L1934 985L1935 985ZM1949 1053L1952 1053L1952 1054L1952 1057L1952 1060L1952 1063L1952 1066L1952 1069L1952 1072L1952 1075L1952 1078L1952 1081L1952 1084L1952 1087L1952 1090L1952 1092L1951 1093L1949 1094L1946 1095L1945 1096L1943 1097L1940 1098L1938 1099L1937 1099L1934 1101L1931 1102L1931 1102L1928 1103L1925 1105L1924 1105L1922 1106L1919 1107L1917 1108L1916 1108L1913 1110L1910 1111L1910 1111L1907 1112L1904 1113L1901 1114L1901 1114L1898 1115L1895 1116L1892 1117L1892 1117L1889 1118L1886 1119L1883 1119L1881 1120L1880 1120L1877 1121L1874 1121L1871 1122L1868 1122L1866 1123L1865 1123L1862 1124L1859 1124L1856 1124L1853 1125L1850 1125L1847 1126L1846 1126L1844 1126L1841 1126L1838 1127L1835 1127L1832 1128L1829 1128L1826 1128L1823 1129L1821 1129L1820 1129L1817 1129L1814 1130L1811 1130L1808 1130L1805 1130L1802 1131L1799 1131L1796 1131L1794 1132L1793 1132L1790 1132L1787 1132L1784 1133L1781 1133L1778 1133L1775 1134L1772 1134L1769 1134L1766 1134L1763 1134L1761 1132L1763 1131L1766 1129L1766 1129L1769 1127L1772 1126L1772 1126L1775 1125L1778 1123L1778 1123L1781 1122L1784 1120L1785 1120L1787 1119L1790 1118L1791 1117L1793 1116L1796 1115L1798 1114L1799 1113L1802 1112L1805 1111L1805 1111L1808 1109L1811 1108L1811 1108L1814 1107L1817 1105L1818 1105L1820 1104L1823 1103L1825 1102L1826 1101L1829 1100L1831 1099L1832 1099L1835 1097L1838 1096L1838 1096L1841 1095L1844 1093L1845 1093L1847 1092L1850 1090L1851 1090L1853 1089L1856 1088L1858 1087L1859 1086L1862 1085L1865 1084L1865 1084L1868 1083L1871 1081L1872 1081L1874 1080L1877 1079L1879 1078L1880 1077L1883 1076L1886 1075L1886 1075L1889 1074L1892 1072L1894 1072L1895 1071L1898 1070L1901 1069L1901 1069L1904 1068L1907 1067L1909 1066L1910 1066L1913 1064L1916 1063L1918 1063L1919 1062L1922 1061L1925 1060L1927 1060L1928 1059L1931 1058L1934 1058L1937 1057L1937 1057L1940 1056L1943 1055L1946 1054L1947 1054ZM1943 1212L1946 1212L1949 1212L1952 1212L1952 1213L1952 1216L1952 1219L1952 1222L1952 1225L1952 1228L1952 1231L1952 1234L1952 1237L1952 1240L1952 1243L1952 1246L1952 1248L1949 1248L1946 1249L1946 1249L1943 1250L1940 1250L1937 1251L1934 1252L1934 1252L1931 1253L1928 1253L1925 1254L1923 1255L1922 1255L1919 1256L1916 1257L1913 1257L1912 1258L1910 1258L1907 1259L1904 1260L1901 1261L1900 1261L1898 1261L1895 1262L1892 1263L1889 1264L1889 1264L1886 1265L1883 1265L1880 1266L1878 1267L1877 1267L1874 1268L1871 1269L1868 1269L1866 1270L1865 1270L1862 1271L1859 1271L1856 1272L1854 1273L1853 1273L1850 1274L1847 1274L1844 1275L1842 1276L1841 1276L1838 1277L1835 1277L1832 1278L1830 1279L1829 1279L1826 1280L1823 1281L1820 1281L1818 1282L1817 1282L1814 1283L1811 1284L1808 1284L1806 1285L1805 1285L1802 1286L1799 1287L1796 1287L1794 1288L1793 1288L1790 1289L1787 1289L1784 1290L1782 1291L1781 1291L1778 1292L1775 1292L1772 1293L1770 1294L1769 1294L1766 1295L1763 1296L1760 1296L1758 1297L1757 1297L1754 1298L1751 1299L1748 1300L1747 1300L1745 1300L1742 1301L1739 1302L1736 1303L1736 1303L1733 1304L1730 1304L1727 1305L1725 1306L1724 1306L1721 1307L1718 1308L1715 1309L1715 1309L1712 1310L1709 1311L1706 1311L1705 1312L1703 1312L1700 1313L1697 1314L1695 1315L1694 1315L1691 1316L1688 1317L1685 1318L1685 1318L1682 1319L1679 1320L1676 1321L1676 1321L1673 1322L1670 1323L1667 1324L1667 1324L1664 1325L1661 1326L1660 1327L1658 1328L1655 1329L1653 1330L1652 1330L1649 1331L1646 1333L1646 1333L1643 1334L1640 1335L1639 1336L1637 1337L1634 1338L1632 1339L1631 1339L1628 1340L1625 1342L1625 1342L1622 1343L1619 1344L1618 1345L1616 1346L1613 1347L1611 1348L1610 1348L1607 1350L1605 1351L1604 1351L1601 1352L1598 1354L1597 1354L1595 1355L1592 1356L1589 1357L1588 1357L1586 1358L1583 1359L1580 1360L1580 1360L1577 1361L1574 1362L1571 1363L1571 1363L1568 1364L1565 1365L1562 1366L1562 1366L1559 1367L1556 1368L1553 1369L1552 1369L1550 1370L1547 1371L1544 1372L1543 1372L1541 1373L1538 1373L1535 1374L1534 1375L1532 1375L1529 1376L1526 1377L1524 1378L1523 1378L1520 1379L1517 1380L1514 1381L1513 1381L1511 1381L1508 1382L1505 1383L1502 1384L1502 1384L1499 1385L1496 1385L1493 1386L1490 1387L1490 1387L1487 1388L1484 1388L1481 1389L1478 1390L1478 1390L1475 1391L1472 1391L1469 1392L1466 1393L1465 1393L1463 1393L1460 1394L1457 1395L1454 1395L1451 1396L1450 1396L1448 1396L1445 1397L1442 1397L1439 1398L1436 1398L1433 1399L1432 1399L1430 1399L1427 1399L1424 1399L1421 1399L1418 1399L1415 1399L1412 1399L1409 1399L1406 1399L1403 1399L1400 1399L1397 1399L1394 1399L1391 1399L1388 1399L1385 1399L1382 1399L1379 1399L1376 1399L1373 1399L1370 1399L1367 1399L1364 1399L1361 1399L1358 1399L1355 1399L1352 1399L1349 1399L1346 1399L1343 1399L1340 1399L1337 1399L1334 1399L1331 1399L1328 1399L1325 1399L1322 1399L1319 1399L1316 1399L1313 1399L1310 1399L1307 1399L1304 1399L1301 1399L1298 1399L1295 1399L1292 1399L1289 1399L1286 1399L1283 1399L1280 1399L1277 1399L1274 1399L1271 1399L1268 1399L1265 1399L1262 1399L1259 1399L1256 1399L1253 1399L1250 1399L1247 1399L1247 1396L1247 1393L1247 1390L1247 1387L1247 1384L1247 1381L1247 1378L1247 1375L1247 1372L1247 1369L1247 1366L1247 1363L1247 1360L1247 1357L1247 1354L1247 1351L1247 1348L1247 1345L1247 1342L1247 1339L1247 1336L1247 1333L1247 1330L1247 1327L1247 1324L1247 1321L1247 1318L1247 1315L1247 1312L1247 1309L1247 1306L1247 1303L1247 1300L1247 1298L1250 1298L1253 1298L1256 1298L1259 1298L1262 1298L1265 1298L1268 1298L1271 1298L1274 1298L1277 1298L1280 1298L1283 1298L1286 1299L1289 1299L1292 1299L1295 1299L1298 1299L1301 1299L1304 1299L1307 1299L1310 1299L1313 1299L1316 1299L1319 1299L1322 1299L1325 1299L1328 1299L1331 1300L1334 1300L1337 1300L1340 1300L1341 1300L1343 1300L1346 1300L1349 1300L1352 1300L1355 1300L1358 1300L1361 1300L1364 1300L1367 1300L1370 1301L1373 1301L1376 1301L1379 1301L1382 1301L1385 1301L1388 1301L1391 1301L1394 1301L1397 1301L1400 1300L1403 1300L1406 1300L1407 1300L1409 1300L1412 1299L1415 1299L1418 1299L1421 1299L1424 1299L1427 1298L1430 1298L1433 1298L1436 1298L1439 1298L1442 1297L1445 1297L1448 1297L1450 1297L1451 1297L1454 1297L1457 1296L1460 1296L1463 1296L1466 1295L1469 1295L1472 1295L1475 1294L1478 1294L1480 1294L1481 1294L1484 1293L1487 1293L1490 1293L1493 1292L1496 1292L1499 1292L1502 1291L1505 1291L1506 1291L1508 1291L1511 1290L1514 1290L1517 1290L1520 1289L1523 1289L1526 1289L1529 1288L1532 1288L1532 1288L1535 1287L1538 1287L1541 1287L1544 1286L1547 1286L1550 1286L1553 1285L1556 1285L1556 1285L1559 1284L1562 1284L1565 1284L1568 1283L1571 1283L1574 1283L1577 1282L1580 1282L1580 1282L1583 1281L1586 1281L1589 1281L1592 1280L1595 1280L1598 1280L1601 1279L1602 1279L1604 1278L1607 1277L1610 1277L1613 1276L1613 1276L1616 1275L1619 1274L1622 1273L1624 1273L1625 1273L1628 1272L1631 1271L1634 1270L1635 1270L1637 1269L1640 1268L1643 1268L1646 1267L1646 1267L1649 1266L1652 1265L1655 1264L1657 1264L1658 1264L1661 1263L1664 1262L1667 1261L1669 1261L1670 1261L1673 1260L1676 1260L1679 1259L1682 1259L1685 1258L1687 1258L1688 1258L1691 1257L1694 1257L1697 1256L1700 1256L1703 1255L1706 1255L1706 1255L1709 1254L1712 1254L1715 1253L1718 1253L1721 1253L1724 1252L1726 1252L1727 1252L1730 1251L1733 1251L1736 1250L1739 1250L1742 1249L1745 1249L1745 1249L1748 1248L1751 1248L1754 1247L1757 1247L1760 1246L1763 1246L1764 1246L1766 1245L1769 1245L1772 1245L1775 1244L1778 1244L1781 1243L1783 1243L1784 1243L1787 1242L1790 1242L1793 1241L1796 1241L1799 1240L1802 1240L1802 1240L1805 1239L1808 1239L1811 1238L1814 1238L1817 1237L1819 1237L1820 1237L1823 1236L1826 1236L1829 1235L1832 1234L1835 1234L1836 1234L1838 1233L1841 1233L1844 1232L1847 1232L1850 1231L1852 1231L1853 1231L1856 1230L1859 1229L1862 1229L1865 1228L1868 1228L1868 1228L1871 1227L1874 1227L1877 1226L1880 1226L1883 1225L1884 1225L1886 1224L1889 1224L1892 1223L1895 1222L1898 1222L1898 1222L1901 1221L1904 1220L1907 1220L1910 1219L1912 1219L1913 1219L1916 1218L1919 1217L1922 1217L1925 1216L1926 1216L1928 1215L1931 1215L1934 1214L1937 1214L1940 1213L1940 1213Z" fill="#db58ad" fill-rule="evenodd"/><path d="M1883 832L1886 831L1889 831L1892 831L1895 830L1898 830L1901 830L1904 831L1907 831L1910 832L1911 832L1913 834L1913 835L1913 836L1912 838L1910 840L1909 841L1907 842L1905 844L1904 844L1901 846L1899 847L1898 847L1895 849L1893 850L1892 850L1889 851L1886 852L1885 853L1883 853L1880 854L1877 855L1876 856L1874 856L1871 857L1868 858L1865 859L1865 859L1862 859L1859 860L1856 861L1853 861L1850 862L1850 862L1847 862L1844 863L1841 863L1838 863L1835 863L1832 863L1829 863L1826 863L1823 863L1820 862L1819 862L1817 861L1816 859L1817 856L1817 856L1820 853L1820 853L1823 851L1825 850L1826 849L1829 848L1830 847L1832 846L1835 845L1837 844L1838 844L1841 842L1844 841L1845 841L1847 840L1850 839L1853 838L1855 838L1856 837L1859 837L1862 836L1865 835L1866 835L1868 834L1871 834L1874 833L1877 833L1880 832L1882 832ZM1922 991L1925 990L1928 990L1931 990L1934 989L1937 989L1940 990L1943 990L1946 990L1947 991L1948 994L1946 997L1946 997L1943 1000L1943 1000L1940 1002L1939 1003L1937 1004L1934 1006L1934 1006L1931 1007L1928 1009L1928 1009L1925 1010L1922 1012L1922 1012L1919 1013L1916 1014L1915 1015L1913 1016L1910 1017L1907 1018L1907 1018L1904 1019L1901 1020L1898 1021L1898 1021L1895 1022L1892 1023L1889 1024L1888 1024L1886 1024L1883 1025L1880 1026L1877 1026L1875 1027L1874 1027L1871 1028L1868 1028L1865 1029L1862 1029L1859 1030L1858 1030L1856 1030L1853 1030L1850 1031L1847 1031L1844 1031L1841 1032L1838 1032L1835 1032L1832 1032L1829 1032L1826 1032L1823 1032L1820 1032L1817 1031L1815 1030L1816 1027L1817 1026L1820 1024L1820 1024L1823 1022L1825 1021L1826 1020L1829 1019L1831 1018L1832 1017L1835 1016L1838 1015L1838 1015L1841 1014L1844 1013L1846 1012L1847 1011L1850 1010L1853 1009L1854 1009L1856 1008L1859 1007L1862 1006L1862 1006L1865 1005L1868 1004L1871 1003L1871 1003L1874 1002L1877 1001L1880 1000L1881 1000L1883 999L1886 998L1889 998L1892 997L1892 997L1895 996L1898 995L1901 995L1904 994L1904 994L1907 993L1910 993L1913 992L1916 992L1919 991L1920 991ZM1943 1060L1946 1059L1949 1058L1952 1057L1952 1060L1952 1063L1952 1066L1952 1069L1952 1072L1952 1075L1952 1078L1952 1081L1952 1084L1952 1087L1952 1087L1949 1088L1946 1090L1946 1090L1943 1091L1940 1093L1939 1093L1937 1094L1934 1095L1933 1096L1931 1097L1928 1098L1926 1099L1925 1099L1922 1100L1919 1102L1918 1102L1916 1103L1913 1104L1911 1105L1910 1105L1907 1106L1904 1107L1902 1108L1901 1108L1898 1109L1895 1110L1893 1111L1892 1111L1889 1112L1886 1113L1883 1114L1882 1114L1880 1114L1877 1115L1874 1116L1871 1116L1868 1117L1868 1117L1865 1117L1862 1118L1859 1118L1856 1119L1853 1119L1850 1120L1848 1120L1847 1120L1844 1120L1841 1120L1838 1121L1835 1121L1832 1121L1829 1121L1826 1121L1823 1121L1820 1121L1817 1120L1815 1120L1814 1118L1814 1117L1814 1117L1817 1114L1817 1114L1820 1111L1821 1111L1823 1110L1826 1108L1826 1108L1829 1106L1831 1105L1832 1104L1835 1103L1837 1102L1838 1101L1841 1100L1843 1099L1844 1098L1847 1097L1849 1096L1850 1095L1853 1094L1855 1093L1856 1092L1859 1091L1862 1090L1862 1090L1865 1088L1868 1087L1868 1087L1871 1086L1874 1084L1875 1084L1877 1083L1880 1082L1882 1081L1883 1080L1886 1079L1889 1078L1889 1078L1892 1077L1895 1076L1897 1075L1898 1074L1901 1073L1904 1072L1905 1072L1907 1071L1910 1070L1913 1069L1913 1069L1916 1068L1919 1067L1922 1066L1922 1066L1925 1065L1928 1064L1931 1063L1932 1063L1934 1062L1937 1061L1940 1060L1942 1060ZM1943 1216L1946 1215L1949 1215L1952 1215L1952 1216L1952 1219L1952 1222L1952 1225L1952 1228L1952 1231L1952 1234L1952 1237L1952 1240L1952 1243L1952 1244L1949 1244L1946 1245L1943 1245L1942 1246L1940 1246L1937 1247L1934 1248L1931 1249L1930 1249L1928 1249L1925 1250L1922 1251L1919 1252L1919 1252L1916 1253L1913 1253L1910 1254L1907 1255L1907 1255L1904 1256L1901 1256L1898 1257L1896 1258L1895 1258L1892 1259L1889 1260L1886 1260L1885 1261L1883 1261L1880 1262L1877 1263L1874 1263L1873 1264L1871 1264L1868 1265L1865 1266L1862 1266L1860 1267L1859 1267L1856 1268L1853 1269L1850 1269L1848 1270L1847 1270L1844 1271L1841 1272L1838 1272L1836 1273L1835 1273L1832 1274L1829 1275L1826 1275L1824 1276L1823 1276L1820 1277L1817 1278L1814 1278L1812 1279L1811 1279L1808 1280L1805 1281L1802 1281L1800 1282L1799 1282L1796 1283L1793 1283L1790 1284L1787 1285L1787 1285L1784 1285L1781 1286L1778 1287L1775 1288L1774 1288L1772 1288L1769 1289L1766 1290L1763 1291L1762 1291L1760 1291L1757 1292L1754 1293L1751 1294L1750 1294L1748 1294L1745 1295L1742 1296L1739 1297L1739 1297L1736 1298L1733 1298L1730 1299L1727 1300L1727 1300L1724 1301L1721 1302L1718 1302L1716 1303L1715 1303L1712 1304L1709 1305L1706 1306L1705 1306L1703 1306L1700 1307L1697 1308L1695 1309L1694 1309L1691 1310L1688 1311L1685 1312L1685 1312L1682 1313L1679 1314L1676 1314L1675 1315L1673 1315L1670 1316L1667 1317L1666 1318L1664 1319L1661 1320L1658 1321L1658 1321L1655 1322L1652 1323L1650 1324L1649 1324L1646 1326L1643 1327L1643 1327L1640 1328L1637 1329L1636 1330L1634 1330L1631 1332L1628 1333L1628 1333L1625 1334L1622 1335L1621 1336L1619 1337L1616 1338L1614 1339L1613 1339L1610 1340L1607 1342L1607 1342L1604 1343L1601 1344L1599 1345L1598 1345L1595 1346L1592 1347L1589 1348L1589 1348L1586 1349L1583 1350L1580 1351L1579 1351L1577 1352L1574 1352L1571 1353L1569 1354L1568 1354L1565 1355L1562 1356L1559 1357L1559 1357L1556 1358L1553 1359L1550 1359L1549 1360L1547 1360L1544 1361L1541 1362L1538 1363L1538 1363L1535 1364L1532 1364L1529 1365L1527 1366L1526 1366L1523 1367L1520 1368L1517 1368L1515 1369L1514 1369L1511 1370L1508 1370L1505 1371L1502 1372L1502 1372L1499 1373L1496 1373L1493 1374L1490 1375L1489 1375L1487 1375L1484 1376L1481 1377L1478 1377L1476 1378L1475 1378L1472 1379L1469 1379L1466 1380L1463 1381L1462 1381L1460 1381L1457 1382L1454 1382L1451 1383L1448 1383L1445 1384L1443 1384L1442 1384L1439 1384L1436 1385L1433 1385L1430 1386L1427 1386L1424 1387L1423 1387L1421 1387L1418 1388L1415 1388L1412 1388L1409 1389L1406 1389L1403 1390L1402 1390L1400 1390L1397 1390L1394 1391L1391 1391L1388 1391L1385 1392L1382 1392L1379 1392L1376 1392L1373 1392L1370 1392L1367 1392L1364 1392L1361 1393L1358 1393L1356 1393L1355 1393L1352 1393L1349 1393L1346 1393L1343 1393L1340 1393L1337 1394L1334 1394L1331 1394L1328 1394L1325 1394L1322 1394L1319 1394L1316 1394L1313 1394L1310 1394L1307 1394L1304 1395L1301 1395L1298 1395L1295 1395L1292 1395L1289 1395L1286 1395L1283 1395L1280 1395L1277 1395L1274 1395L1271 1395L1268 1395L1265 1396L1262 1396L1259 1396L1256 1396L1253 1396L1252 1396L1250 1396L1247 1396L1247 1396L1247 1393L1247 1390L1247 1387L1247 1384L1247 1381L1247 1378L1247 1375L1247 1372L1247 1369L1247 1366L1247 1363L1247 1360L1247 1357L1247 1354L1247 1351L1247 1348L1247 1345L1247 1342L1247 1339L1247 1336L1247 1333L1247 1330L1247 1327L1247 1324L1247 1321L1247 1318L1247 1315L1247 1312L1247 1309L1247 1306L1247 1303L1247 1302L1250 1302L1253 1302L1256 1302L1259 1302L1262 1302L1265 1302L1268 1302L1271 1302L1274 1302L1277 1302L1280 1303L1283 1303L1286 1303L1289 1303L1292 1303L1294 1303L1295 1303L1298 1303L1301 1303L1304 1303L1307 1303L1310 1303L1313 1303L1316 1303L1319 1303L1322 1303L1325 1303L1328 1304L1331 1304L1334 1304L1337 1304L1340 1304L1343 1304L1346 1304L1349 1304L1352 1304L1355 1304L1358 1304L1361 1304L1364 1304L1367 1304L1370 1305L1373 1305L1376 1305L1379 1305L1382 1305L1385 1305L1388 1305L1391 1305L1394 1305L1397 1304L1400 1304L1403 1304L1406 1304L1409 1304L1412 1303L1415 1303L1418 1303L1421 1303L1421 1303L1424 1303L1427 1302L1430 1302L1433 1302L1436 1302L1439 1302L1442 1301L1445 1301L1448 1301L1451 1301L1454 1300L1457 1300L1460 1300L1462 1300L1463 1300L1466 1299L1469 1299L1472 1299L1475 1298L1478 1298L1481 1298L1484 1297L1487 1297L1488 1297L1490 1297L1493 1296L1496 1296L1499 1296L1502 1295L1505 1295L1508 1294L1511 1294L1514 1294L1514 1294L1517 1293L1520 1293L1523 1293L1526 1292L1529 1292L1532 1292L1535 1291L1538 1291L1539 1291L1541 1291L1544 1290L1547 1290L1550 1289L1553 1289L1556 1289L1559 1288L1562 1288L1563 1288L1565 1288L1568 1287L1571 1287L1574 1286L1577 1286L1580 1286L1583 1285L1586 1285L1587 1285L1589 1285L1592 1284L1595 1284L1598 1283L1601 1283L1604 1282L1605 1282L1607 1281L1610 1280L1613 1280L1616 1279L1616 1279L1619 1278L1622 1277L1625 1276L1627 1276L1628 1276L1631 1275L1634 1274L1637 1273L1638 1273L1640 1272L1643 1271L1646 1271L1649 1270L1649 1270L1652 1269L1655 1268L1658 1267L1660 1267L1661 1267L1664 1266L1667 1265L1670 1264L1673 1264L1673 1264L1676 1263L1679 1263L1682 1262L1685 1262L1688 1261L1691 1261L1692 1261L1694 1260L1697 1260L1700 1259L1703 1259L1706 1259L1709 1258L1710 1258L1712 1258L1715 1257L1718 1257L1721 1256L1724 1256L1727 1255L1729 1255L1730 1255L1733 1254L1736 1254L1739 1253L1742 1253L1745 1252L1748 1252L1748 1252L1751 1251L1754 1251L1757 1250L1760 1250L1763 1249L1766 1249L1767 1249L1769 1249L1772 1248L1775 1248L1778 1247L1781 1247L1784 1246L1786 1246L1787 1246L1790 1245L1793 1245L1796 1244L1799 1244L1802 1243L1805 1243L1805 1243L1808 1242L1811 1242L1814 1241L1817 1241L1820 1240L1821 1240L1823 1240L1826 1239L1829 1238L1832 1238L1835 1237L1838 1237L1838 1237L1841 1236L1844 1236L1847 1235L1850 1235L1853 1234L1854 1234L1856 1233L1859 1233L1862 1232L1865 1232L1868 1231L1870 1231L1871 1231L1874 1230L1877 1230L1880 1229L1883 1228L1885 1228L1886 1228L1889 1227L1892 1226L1895 1226L1898 1225L1899 1225L1901 1224L1904 1224L1907 1223L1910 1223L1913 1222L1913 1222L1916 1221L1919 1221L1922 1220L1925 1219L1928 1219L1928 1219L1931 1218L1934 1217L1937 1217L1940 1216L1942 1216Z" fill="#e23e9d" fill-rule="evenodd"/><path d="M1874 838L1877 837L1880 837L1883 837L1886 836L1889 837L1892 837L1895 838L1895 840L1895 841L1895 841L1892 844L1892 844L1889 846L1887 847L1886 847L1883 848L1880 850L1880 850L1877 851L1874 852L1871 853L1871 853L1868 854L1865 854L1862 855L1859 856L1859 856L1856 856L1853 857L1850 857L1847 857L1844 857L1841 857L1838 857L1835 856L1835 856L1835 853L1835 852L1838 850L1838 850L1841 848L1843 847L1844 846L1847 845L1850 844L1850 844L1853 843L1856 842L1859 841L1859 841L1862 840L1865 839L1868 839L1871 838L1872 838ZM1910 997L1913 996L1916 996L1919 996L1922 996L1925 996L1927 997L1928 998L1929 1000L1928 1001L1926 1003L1925 1004L1922 1006L1922 1006L1919 1008L1917 1009L1916 1009L1913 1011L1911 1012L1910 1012L1907 1013L1904 1015L1903 1015L1901 1016L1898 1017L1895 1018L1895 1018L1892 1019L1889 1019L1886 1020L1884 1021L1883 1021L1880 1022L1877 1022L1874 1023L1871 1023L1869 1024L1868 1024L1865 1024L1862 1025L1859 1025L1856 1025L1853 1025L1850 1025L1847 1025L1844 1025L1841 1024L1841 1024L1841 1021L1841 1021L1844 1019L1845 1018L1847 1017L1850 1015L1851 1015L1853 1014L1856 1012L1857 1012L1859 1011L1862 1010L1865 1009L1865 1009L1868 1008L1871 1007L1874 1006L1874 1006L1877 1005L1880 1004L1883 1003L1883 1003L1886 1002L1889 1001L1892 1000L1895 1000L1895 1000L1898 999L1901 998L1904 998L1907 997L1910 997ZM1952 1063L1952 1063L1952 1066L1952 1069L1952 1072L1952 1075L1952 1078L1952 1081L1952 1081L1949 1083L1947 1084L1946 1084L1943 1086L1941 1087L1940 1087L1937 1088L1934 1090L1934 1090L1931 1091L1928 1092L1927 1093L1925 1094L1922 1095L1920 1096L1919 1096L1916 1097L1913 1099L1912 1099L1910 1100L1907 1101L1904 1102L1904 1102L1901 1103L1898 1104L1895 1105L1895 1105L1892 1106L1889 1106L1886 1107L1884 1108L1883 1108L1880 1109L1877 1109L1874 1110L1871 1110L1869 1111L1868 1111L1865 1111L1862 1112L1859 1112L1856 1112L1853 1112L1850 1112L1847 1111L1845 1111L1844 1108L1847 1105L1847 1105L1850 1102L1851 1102L1853 1101L1856 1099L1856 1099L1859 1097L1861 1096L1862 1095L1865 1094L1867 1093L1868 1092L1871 1091L1873 1090L1874 1089L1877 1088L1879 1087L1880 1087L1883 1085L1886 1084L1886 1084L1889 1083L1892 1081L1894 1081L1895 1080L1898 1079L1901 1078L1901 1078L1904 1077L1907 1076L1909 1075L1910 1075L1913 1074L1916 1073L1918 1072L1919 1072L1922 1071L1925 1070L1928 1069L1928 1069L1931 1068L1934 1067L1937 1066L1938 1066L1940 1065L1943 1065L1946 1064L1949 1063L1951 1063ZM1946 1219L1949 1218L1952 1219L1952 1219L1952 1222L1952 1225L1952 1228L1952 1231L1952 1234L1952 1237L1952 1240L1950 1240L1949 1240L1946 1240L1943 1241L1940 1242L1937 1243L1936 1243L1934 1243L1931 1244L1928 1245L1925 1246L1925 1246L1922 1246L1919 1247L1916 1248L1913 1249L1913 1249L1910 1250L1907 1250L1904 1251L1902 1252L1901 1252L1898 1253L1895 1254L1892 1254L1890 1255L1889 1255L1886 1256L1883 1257L1880 1257L1879 1258L1877 1258L1874 1259L1871 1260L1868 1260L1866 1261L1865 1261L1862 1262L1859 1263L1856 1263L1854 1264L1853 1264L1850 1265L1847 1265L1844 1266L1842 1267L1841 1267L1838 1268L1835 1268L1832 1269L1829 1270L1829 1270L1826 1271L1823 1271L1820 1272L1817 1273L1817 1273L1814 1274L1811 1274L1808 1275L1805 1276L1805 1276L1802 1276L1799 1277L1796 1278L1793 1278L1792 1279L1790 1279L1787 1280L1784 1281L1781 1281L1779 1282L1778 1282L1775 1283L1772 1283L1769 1284L1766 1285L1766 1285L1763 1286L1760 1286L1757 1287L1754 1288L1754 1288L1751 1288L1748 1289L1745 1290L1742 1291L1742 1291L1739 1291L1736 1292L1733 1293L1730 1294L1730 1294L1727 1294L1724 1295L1721 1296L1718 1297L1718 1297L1715 1298L1712 1298L1709 1299L1706 1300L1706 1300L1703 1301L1700 1301L1697 1302L1695 1303L1694 1303L1691 1304L1688 1305L1685 1306L1684 1306L1682 1306L1679 1307L1676 1308L1674 1309L1673 1309L1670 1310L1667 1311L1664 1312L1664 1312L1661 1313L1658 1314L1656 1315L1655 1315L1652 1316L1649 1318L1648 1318L1646 1319L1643 1320L1641 1321L1640 1321L1637 1322L1634 1323L1633 1324L1631 1324L1628 1326L1625 1327L1625 1327L1622 1328L1619 1329L1617 1330L1616 1330L1613 1332L1610 1333L1610 1333L1607 1334L1604 1335L1602 1336L1601 1336L1598 1337L1595 1338L1593 1339L1592 1339L1589 1340L1586 1341L1583 1342L1583 1342L1580 1343L1577 1343L1574 1344L1572 1345L1571 1345L1568 1346L1565 1347L1562 1348L1562 1348L1559 1349L1556 1349L1553 1350L1551 1351L1550 1351L1547 1352L1544 1353L1541 1353L1540 1354L1538 1354L1535 1355L1532 1356L1529 1357L1528 1357L1526 1357L1523 1358L1520 1359L1517 1359L1516 1360L1514 1360L1511 1361L1508 1362L1505 1362L1503 1363L1502 1363L1499 1364L1496 1364L1493 1365L1490 1366L1489 1366L1487 1366L1484 1367L1481 1368L1478 1368L1475 1369L1475 1369L1472 1369L1469 1370L1466 1371L1463 1371L1460 1372L1460 1372L1457 1372L1454 1373L1451 1373L1448 1374L1445 1374L1442 1375L1441 1375L1439 1375L1436 1376L1433 1376L1430 1376L1427 1377L1424 1377L1421 1378L1420 1378L1418 1378L1415 1379L1412 1379L1409 1379L1406 1380L1403 1380L1400 1381L1398 1381L1397 1381L1394 1381L1391 1382L1388 1382L1385 1382L1382 1382L1379 1382L1376 1383L1373 1383L1370 1383L1367 1383L1364 1383L1361 1383L1358 1383L1355 1383L1352 1384L1349 1384L1346 1384L1345 1384L1343 1384L1340 1384L1337 1384L1334 1384L1331 1384L1328 1384L1325 1385L1322 1385L1319 1385L1316 1385L1313 1385L1310 1385L1307 1385L1304 1385L1301 1385L1298 1385L1295 1385L1292 1386L1289 1386L1286 1386L1283 1386L1280 1386L1277 1386L1274 1386L1271 1386L1268 1386L1265 1386L1262 1386L1259 1386L1256 1387L1253 1387L1250 1387L1247 1387L1247 1384L1247 1381L1247 1378L1247 1375L1247 1372L1247 1369L1247 1366L1247 1363L1247 1360L1247 1357L1247 1354L1247 1351L1247 1348L1247 1345L1247 1342L1247 1339L1247 1336L1247 1333L1247 1330L1247 1327L1247 1324L1247 1321L1247 1318L1247 1315L1247 1312L1247 1309L1247 1306L1250 1306L1253 1306L1256 1306L1259 1306L1262 1306L1265 1306L1268 1306L1271 1306L1274 1306L1277 1307L1280 1307L1283 1307L1286 1307L1289 1307L1292 1307L1295 1307L1298 1307L1301 1307L1304 1307L1307 1307L1310 1307L1313 1307L1316 1307L1319 1307L1322 1307L1325 1307L1328 1308L1331 1308L1334 1308L1337 1308L1340 1308L1343 1308L1346 1308L1349 1308L1352 1308L1355 1308L1358 1308L1361 1308L1364 1308L1367 1308L1370 1308L1373 1309L1376 1309L1379 1309L1382 1309L1383 1309L1385 1309L1388 1309L1391 1309L1392 1309L1394 1309L1397 1308L1400 1308L1403 1308L1406 1308L1409 1308L1412 1307L1415 1307L1418 1307L1421 1307L1424 1307L1427 1306L1430 1306L1433 1306L1434 1306L1436 1306L1439 1305L1442 1305L1445 1305L1448 1305L1451 1305L1454 1304L1457 1304L1460 1304L1463 1304L1466 1303L1469 1303L1470 1303L1472 1303L1475 1302L1478 1302L1481 1302L1484 1301L1487 1301L1490 1300L1493 1300L1496 1300L1496 1300L1499 1299L1502 1299L1505 1299L1508 1298L1511 1298L1514 1298L1517 1297L1520 1297L1522 1297L1523 1297L1526 1296L1529 1296L1532 1296L1535 1295L1538 1295L1541 1294L1544 1294L1546 1294L1547 1294L1550 1293L1553 1293L1556 1293L1559 1292L1562 1292L1565 1291L1568 1291L1570 1291L1571 1291L1574 1290L1577 1290L1580 1290L1583 1289L1586 1289L1589 1288L1592 1288L1594 1288L1595 1288L1598 1287L1601 1287L1604 1286L1607 1285L1608 1285L1610 1284L1613 1283L1616 1283L1619 1282L1619 1282L1622 1281L1625 1280L1628 1279L1630 1279L1631 1279L1634 1278L1637 1277L1640 1276L1641 1276L1643 1275L1646 1274L1649 1274L1652 1273L1652 1273L1655 1272L1658 1271L1661 1270L1663 1270L1664 1270L1667 1269L1670 1268L1673 1268L1676 1267L1678 1267L1679 1267L1682 1266L1685 1266L1688 1265L1691 1265L1694 1264L1696 1264L1697 1264L1700 1263L1703 1263L1706 1262L1709 1262L1712 1261L1715 1261L1715 1261L1718 1260L1721 1260L1724 1259L1727 1259L1730 1258L1733 1258L1734 1258L1736 1257L1739 1257L1742 1257L1745 1256L1748 1256L1751 1255L1752 1255L1754 1255L1757 1254L1760 1254L1763 1253L1766 1253L1769 1252L1771 1252L1772 1252L1775 1251L1778 1251L1781 1250L1784 1250L1787 1249L1790 1249L1790 1249L1793 1248L1796 1248L1799 1247L1802 1247L1805 1246L1808 1246L1809 1246L1811 1245L1814 1245L1817 1244L1820 1244L1823 1243L1825 1243L1826 1243L1829 1242L1832 1241L1835 1241L1838 1240L1841 1240L1841 1240L1844 1239L1847 1239L1850 1238L1853 1238L1856 1237L1857 1237L1859 1236L1862 1236L1865 1235L1868 1235L1871 1234L1873 1234L1874 1234L1877 1233L1880 1233L1883 1232L1886 1231L1888 1231L1889 1231L1892 1230L1895 1229L1898 1229L1901 1228L1902 1228L1904 1227L1907 1227L1910 1226L1913 1226L1916 1225L1916 1225L1919 1224L1922 1224L1925 1223L1928 1222L1931 1222L1931 1222L1934 1221L1937 1221L1940 1220L1943 1219L1945 1219Z" fill="#e7248e" fill-rule="evenodd"/><path d="M1898 1006L1899 1006L1899 1009L1898 1009L1895 1011L1893 1012L1892 1012L1889 1013L1886 1014L1883 1015L1883 1015L1880 1015L1877 1015L1874 1015L1872 1015L1874 1013L1875 1012L1877 1011L1880 1010L1883 1009L1883 1009L1886 1008L1889 1007L1892 1007L1895 1006L1897 1006ZM1934 1075L1937 1075L1940 1075L1939 1078L1937 1079L1935 1081L1934 1082L1931 1083L1930 1084L1928 1085L1925 1086L1924 1087L1922 1088L1919 1089L1918 1090L1916 1090L1913 1092L1910 1093L1910 1093L1907 1094L1904 1095L1901 1096L1901 1096L1898 1097L1895 1097L1892 1098L1890 1099L1889 1099L1886 1099L1883 1100L1880 1099L1878 1099L1879 1096L1880 1095L1883 1093L1883 1093L1886 1091L1889 1090L1889 1090L1892 1088L1895 1087L1895 1087L1898 1086L1901 1084L1902 1084L1904 1083L1907 1082L1910 1081L1910 1081L1913 1080L1916 1079L1919 1078L1920 1078L1922 1077L1925 1077L1928 1076L1931 1075L1934 1075ZM1943 1224L1946 1224L1949 1224L1952 1224L1952 1225L1952 1228L1952 1231L1952 1233L1949 1234L1948 1234L1946 1234L1943 1235L1940 1236L1937 1236L1936 1237L1934 1237L1931 1238L1928 1239L1925 1240L1925 1240L1922 1241L1919 1241L1916 1242L1914 1243L1913 1243L1910 1244L1907 1245L1904 1245L1903 1246L1901 1246L1898 1247L1895 1248L1892 1249L1891 1249L1889 1249L1886 1250L1883 1251L1880 1252L1880 1252L1877 1253L1874 1253L1871 1254L1868 1255L1868 1255L1865 1255L1862 1256L1859 1257L1856 1258L1856 1258L1853 1258L1850 1259L1847 1260L1844 1261L1844 1261L1841 1261L1838 1262L1835 1263L1832 1264L1831 1264L1829 1264L1826 1265L1823 1266L1820 1267L1819 1267L1817 1267L1814 1268L1811 1269L1808 1269L1807 1270L1805 1270L1802 1271L1799 1271L1796 1272L1793 1273L1793 1273L1790 1274L1787 1274L1784 1275L1781 1276L1780 1276L1778 1276L1775 1277L1772 1278L1769 1278L1767 1279L1766 1279L1763 1280L1760 1280L1757 1281L1754 1282L1754 1282L1751 1283L1748 1283L1745 1284L1742 1285L1742 1285L1739 1285L1736 1286L1733 1287L1730 1288L1729 1288L1727 1288L1724 1289L1721 1290L1718 1291L1717 1291L1715 1291L1712 1292L1709 1293L1706 1293L1705 1294L1703 1294L1700 1295L1697 1296L1694 1297L1693 1297L1691 1297L1688 1298L1685 1299L1682 1300L1681 1300L1679 1300L1676 1301L1673 1302L1670 1303L1670 1303L1667 1304L1664 1305L1661 1306L1661 1306L1658 1307L1655 1308L1653 1309L1652 1309L1649 1310L1646 1311L1644 1312L1643 1312L1640 1313L1637 1314L1636 1315L1634 1315L1631 1316L1628 1318L1628 1318L1625 1319L1622 1320L1619 1321L1619 1321L1616 1322L1613 1323L1612 1324L1610 1324L1607 1326L1604 1327L1604 1327L1601 1328L1598 1329L1595 1330L1595 1330L1592 1331L1589 1331L1586 1332L1584 1333L1583 1333L1580 1334L1577 1335L1574 1336L1574 1336L1571 1337L1568 1337L1565 1338L1563 1339L1562 1339L1559 1340L1556 1341L1553 1342L1552 1342L1550 1342L1547 1343L1544 1344L1542 1345L1541 1345L1538 1346L1535 1347L1532 1347L1530 1348L1529 1348L1526 1349L1523 1350L1520 1350L1518 1351L1517 1351L1514 1352L1511 1352L1508 1353L1506 1354L1505 1354L1502 1355L1499 1355L1496 1356L1493 1357L1492 1357L1490 1357L1487 1358L1484 1359L1481 1359L1479 1360L1478 1360L1475 1361L1472 1361L1469 1362L1466 1362L1464 1363L1463 1363L1460 1364L1457 1364L1454 1365L1451 1365L1448 1366L1447 1366L1445 1366L1442 1367L1439 1367L1436 1367L1433 1368L1430 1368L1427 1369L1427 1369L1424 1369L1421 1370L1418 1370L1415 1370L1412 1371L1409 1371L1406 1372L1406 1372L1403 1372L1400 1373L1397 1373L1394 1373L1391 1374L1388 1374L1385 1374L1382 1374L1379 1375L1376 1375L1373 1375L1373 1375L1370 1375L1367 1375L1364 1375L1361 1375L1358 1375L1355 1376L1352 1376L1349 1376L1346 1376L1343 1376L1340 1376L1337 1376L1334 1377L1331 1377L1328 1377L1325 1377L1322 1377L1319 1377L1316 1377L1313 1377L1310 1377L1307 1378L1304 1378L1301 1378L1299 1378L1298 1378L1295 1378L1292 1378L1289 1378L1286 1378L1283 1378L1280 1378L1277 1379L1274 1379L1271 1379L1268 1379L1265 1379L1262 1379L1259 1379L1256 1379L1253 1379L1250 1379L1247 1379L1247 1378L1247 1375L1247 1372L1247 1369L1247 1366L1247 1363L1247 1360L1247 1357L1247 1354L1247 1351L1247 1348L1247 1345L1247 1342L1247 1339L1247 1336L1247 1333L1247 1330L1247 1327L1247 1324L1247 1321L1247 1318L1247 1315L1247 1312L1247 1310L1250 1310L1253 1310L1256 1310L1259 1311L1262 1311L1265 1311L1268 1311L1271 1311L1274 1311L1277 1311L1280 1311L1283 1311L1286 1311L1289 1311L1292 1311L1295 1311L1298 1311L1301 1311L1304 1311L1307 1311L1310 1311L1313 1311L1316 1312L1319 1312L1322 1312L1325 1312L1328 1312L1328 1312L1331 1312L1334 1312L1337 1312L1340 1312L1343 1312L1346 1312L1349 1312L1352 1312L1355 1312L1358 1312L1361 1313L1364 1313L1367 1313L1370 1313L1373 1313L1376 1313L1379 1313L1382 1313L1385 1313L1388 1313L1391 1313L1394 1313L1397 1313L1400 1313L1403 1312L1406 1312L1409 1312L1409 1312L1412 1312L1415 1311L1418 1311L1421 1311L1424 1311L1427 1311L1430 1310L1433 1310L1436 1310L1439 1310L1442 1309L1445 1309L1448 1309L1451 1309L1451 1309L1454 1309L1457 1308L1460 1308L1463 1308L1466 1308L1469 1307L1472 1307L1475 1306L1478 1306L1480 1306L1481 1306L1484 1305L1487 1305L1490 1305L1493 1304L1496 1304L1499 1304L1502 1303L1505 1303L1506 1303L1508 1303L1511 1302L1514 1302L1517 1302L1520 1301L1523 1301L1526 1301L1529 1300L1532 1300L1532 1300L1535 1299L1538 1299L1541 1299L1544 1298L1547 1298L1550 1298L1553 1297L1556 1297L1556 1297L1559 1296L1562 1296L1565 1296L1568 1295L1571 1295L1574 1295L1577 1294L1580 1294L1580 1294L1583 1293L1586 1293L1589 1293L1592 1292L1595 1292L1598 1292L1601 1291L1602 1291L1604 1290L1607 1289L1610 1289L1613 1288L1613 1288L1616 1287L1619 1286L1622 1285L1623 1285L1625 1284L1628 1284L1631 1283L1634 1282L1634 1282L1637 1281L1640 1280L1643 1279L1645 1279L1646 1279L1649 1278L1652 1277L1655 1276L1656 1276L1658 1275L1661 1275L1664 1274L1667 1273L1667 1273L1670 1272L1673 1272L1676 1271L1679 1271L1682 1270L1685 1270L1685 1270L1688 1269L1691 1269L1694 1268L1697 1268L1700 1267L1703 1267L1703 1267L1706 1266L1709 1266L1712 1265L1715 1265L1718 1264L1721 1264L1722 1264L1724 1264L1727 1263L1730 1263L1733 1262L1736 1262L1739 1261L1741 1261L1742 1261L1745 1260L1748 1260L1751 1259L1754 1259L1757 1258L1760 1258L1760 1258L1763 1257L1766 1257L1769 1256L1772 1256L1775 1255L1778 1255L1779 1255L1781 1254L1784 1254L1787 1254L1790 1253L1793 1253L1796 1252L1798 1252L1799 1252L1802 1251L1805 1251L1808 1250L1811 1250L1814 1249L1816 1249L1817 1249L1820 1248L1823 1248L1826 1247L1829 1246L1832 1246L1832 1246L1835 1245L1838 1245L1841 1244L1844 1244L1847 1243L1849 1243L1850 1243L1853 1242L1856 1242L1859 1241L1862 1240L1865 1240L1865 1240L1868 1239L1871 1239L1874 1238L1877 1238L1880 1237L1881 1237L1883 1237L1886 1236L1889 1235L1892 1235L1895 1234L1896 1234L1898 1233L1901 1233L1904 1232L1907 1232L1910 1231L1911 1231L1913 1230L1916 1230L1919 1229L1922 1229L1925 1228L1925 1228L1928 1227L1931 1227L1934 1226L1937 1226L1940 1225L1940 1225Z" fill="#e80a80" fill-rule="evenodd"/><path d="M1251 937.6 L1263 937.6 L1275 937.5 L1287 937.3 L1299 937 L1311 936.7 L1323 936.3 L1335 935.8 L1347 935.3 L1359 934.7 L1371 934 L1383 933.2 L1395 932.4 L1407 931.5 L1419 930.6 L1431 929.5 L1443 928.4 L1455 927.3 L1467 926.1 L1479 924.8 L1491 923.4 L1503 922 L1515 920.6 L1527 919 L1539 917.4 L1551 915.8 L1563 914.1 L1575 912.3 L1587 910.5 L1599 908.7 L1611 906.7 L1623 904.8 L1635 902.7 L1647 900.7 L1659 898.5 L1671 896.4 L1683 894.1 L1695 891.9 L1707 889.5 L1719 887.2 L1731 884.7 L1743 882.3 L1755 879.8 L1767 877.2 L1779 874.6 L1791 872 L1803 869.3 L1815 866.6 L1827 863.9 L1839 861.1 L1851 858.2 L1863 855.4 L1875 852.5 L1887 849.5 L1899 846.6 L1911 843.6 L1923 840.5 L1935 837.5 L1947 834.4" fill="none" stroke="#cc2229" stroke-width="4.2" stroke-linecap="butt" stroke-linejoin="round"/><path d="M1251 1023.4 L1263 1023.6 L1275 1023.8 L1287 1023.8 L1299 1023.8 L1311 1023.7 L1323 1023.5 L1335 1023.2 L1347 1022.8 L1359 1022.4 L1371 1021.8 L1383 1021.2 L1395 1020.5 L1407 1019.7 L1419 1018.8 L1431 1017.9 L1443 1016.8 L1455 1015.7 L1467 1014.5 L1479 1013.3 L1491 1011.9 L1503 1010.5 L1515 1009 L1527 1007.5 L1539 1005.9 L1551 1004.2 L1563 1002.4 L1575 1000.6 L1587 998.7 L1599 996.7 L1611 994.7 L1623 992.6 L1635 990.5 L1647 988.3 L1659 986 L1671 983.7 L1683 981.3 L1695 978.9 L1707 976.4 L1719 973.8 L1731 971.2 L1743 968.5 L1755 965.8 L1767 963.1 L1779 960.3 L1791 957.4 L1803 954.5 L1815 951.5 L1827 948.5 L1839 945.5 L1851 942.4 L1863 939.3 L1875 936.1 L1887 932.9 L1899 929.6 L1911 926.3 L1923 923 L1935 919.6 L1947 916.2" fill="none" stroke="#cc2229" stroke-width="4.2" stroke-linecap="butt" stroke-linejoin="round"/><path d="M1251 1110.6 L1263 1110.8 L1275 1110.9 L1287 1110.8 L1299 1110.7 L1311 1110.5 L1323 1110.2 L1335 1109.8 L1347 1109.4 L1359 1108.8 L1371 1108.1 L1383 1107.4 L1395 1106.6 L1407 1105.6 L1419 1104.6 L1431 1103.6 L1443 1102.4 L1455 1101.2 L1467 1099.9 L1479 1098.5 L1491 1097 L1503 1095.4 L1515 1093.8 L1527 1092.1 L1539 1090.4 L1551 1088.5 L1563 1086.6 L1575 1084.6 L1587 1082.6 L1599 1080.5 L1611 1078.3 L1623 1076.1 L1635 1073.8 L1647 1071.4 L1659 1069 L1671 1066.5 L1683 1063.9 L1695 1061.3 L1707 1058.7 L1719 1056 L1731 1053.2 L1743 1050.4 L1755 1047.5 L1767 1044.6 L1779 1041.6 L1791 1038.6 L1803 1035.5 L1815 1032.4 L1827 1029.2 L1839 1026 L1851 1022.8 L1863 1019.5 L1875 1016.1 L1887 1012.8 L1899 1009.4 L1911 1005.9 L1923 1002.4 L1935 998.9 L1947 995.3" fill="none" stroke="#cc2229" stroke-width="4.2" stroke-linecap="butt" stroke-linejoin="round"/><path d="M1251 1200.2 L1263 1200.2 L1275 1200.1 L1287 1199.9 L1299 1199.6 L1311 1199.3 L1323 1198.9 L1335 1198.5 L1347 1197.9 L1359 1197.3 L1371 1196.7 L1383 1196 L1395 1195.2 L1407 1194.3 L1419 1193.4 L1431 1192.4 L1443 1191.3 L1455 1190.1 L1467 1188.9 L1479 1187.6 L1491 1186.3 L1503 1184.9 L1515 1183.4 L1527 1181.8 L1539 1180.1 L1551 1178.4 L1563 1176.6 L1575 1174.8 L1587 1172.8 L1599 1170.8 L1611 1168.7 L1623 1166.6 L1635 1164.3 L1647 1162 L1659 1159.6 L1671 1157.2 L1683 1154.6 L1695 1152 L1707 1149.3 L1719 1146.5 L1731 1143.7 L1743 1140.8 L1755 1137.8 L1767 1134.7 L1779 1131.5 L1791 1128.3 L1803 1125 L1815 1121.6 L1827 1118.1 L1839 1114.5 L1851 1110.9 L1863 1107.2 L1875 1103.4 L1887 1099.5 L1899 1095.5 L1911 1091.5 L1923 1087.4 L1935 1083.1 L1947 1078.9" fill="none" stroke="#cc2229" stroke-width="4.2" stroke-linecap="butt" stroke-linejoin="round"/><path d="M1251 1256.4 L1263 1256.4 L1275 1256.4 L1287 1256.3 L1299 1256.1 L1311 1255.9 L1323 1255.6 L1335 1255.2 L1347 1254.7 L1359 1254.2 L1371 1253.6 L1383 1252.9 L1395 1252.2 L1407 1251.4 L1419 1250.5 L1431 1249.6 L1443 1248.5 L1455 1247.4 L1467 1246.3 L1479 1245 L1491 1243.7 L1503 1242.3 L1515 1240.8 L1527 1239.3 L1539 1237.7 L1551 1236 L1563 1234.2 L1575 1232.4 L1587 1230.4 L1599 1228.4 L1611 1226.4 L1623 1224.2 L1635 1222 L1647 1219.7 L1659 1217.3 L1671 1214.8 L1683 1212.2 L1695 1209.6 L1707 1206.9 L1719 1204.1 L1731 1201.3 L1743 1198.3 L1755 1195.3 L1767 1192.2 L1779 1189 L1791 1185.7 L1803 1182.4 L1815 1178.9 L1827 1175.4 L1839 1171.8 L1851 1168.1 L1863 1164.4 L1875 1160.5 L1887 1156.6 L1899 1152.6 L1911 1148.4 L1923 1144.3 L1935 1140 L1947 1135.6" fill="none" stroke="#cc2229" stroke-width="4.2" stroke-linecap="butt" stroke-linejoin="round"/><path d="M1251 1374.4 L1263 1371.6 L1275 1368.7 L1287 1365.9 L1299 1363.1 L1311 1360.3 L1323 1357.6 L1335 1354.8 L1347 1352.1 L1359 1349.4 L1371 1346.7 L1383 1344 L1395 1341.3 L1407 1338.7 L1419 1336.1 L1431 1333.4 L1443 1330.8 L1455 1328.2 L1467 1325.7 L1479 1323.1 L1491 1320.5 L1503 1318 L1515 1315.4 L1527 1312.9 L1539 1310.4 L1551 1307.8 L1563 1305.3 L1575 1302.8 L1587 1300.3 L1599 1297.8 L1611 1295.3 L1623 1292.8 L1635 1290.3 L1647 1287.8 L1659 1285.3 L1671 1282.8 L1683 1280.3 L1695 1277.8 L1707 1275.3 L1719 1272.8 L1731 1270.3 L1743 1267.8 L1755 1265.3 L1767 1262.8 L1779 1260.2 L1791 1257.7 L1803 1255.2 L1815 1252.6 L1827 1250.1 L1839 1247.5 L1851 1244.9 L1863 1242.3 L1875 1239.7 L1887 1237.1 L1899 1234.5 L1911 1231.8 L1923 1229.2 L1935 1226.5 L1947 1223.8" fill="none" stroke="#cc2229" stroke-width="4.2" stroke-linecap="butt" stroke-linejoin="round"/></g><path d="M1252.8 1034.8 L1322.5 1030" fill="none" stroke="#0e7a40" stroke-width="5.2" stroke-linecap="butt" stroke-linejoin="miter" stroke-dasharray="6.5 5"/><path d="M1529.6 1012 L1591.8 1061.6 L1669 984.3" fill="none" stroke="#0e7a40" stroke-width="5.2" stroke-linecap="butt" stroke-linejoin="miter" stroke-dasharray="6.5 5"/><path d="M1742.7 962.5 L1806 981.2 L1875.7 948" fill="none" stroke="#0e7a40" stroke-width="5.2" stroke-linecap="butt" stroke-linejoin="miter" stroke-dasharray="6.5 5"/><path d="M1739.6 1035.2 L1801 1037.3" fill="none" stroke="#0e7a40" stroke-width="5.2" stroke-linecap="butt" stroke-linejoin="miter" stroke-dasharray="6.5 5"/><path d="M1252.8 1218.4 L1321 1198.3" fill="none" stroke="#0e7a40" stroke-width="5.2" stroke-linecap="butt" stroke-linejoin="miter" stroke-dasharray="6.5 5"/><path d="M1252.8 1328.3 L1382.8 1333.7" fill="none" stroke="#0e7a40" stroke-width="5.2" stroke-linecap="butt" stroke-linejoin="miter" stroke-dasharray="6.5 5"/><circle cx="1250" cy="927" r="15" fill="none" stroke="#f4e97c" stroke-width="3.2"/><circle cx="1253" cy="1035" r="8" fill="none" stroke="#f4e97c" stroke-width="3.2"/><circle cx="1250" cy="1101.3" r="14" fill="none" stroke="#f4e97c" stroke-width="3.2"/><circle cx="1250" cy="1219.8" r="12" fill="none" stroke="#f4e97c" stroke-width="3.2"/><circle cx="1250" cy="1252.5" r="8" fill="none" stroke="#f4e97c" stroke-width="3.2"/><circle cx="1242" cy="1328.3" r="24" fill="none" stroke="#f4e97c" stroke-width="3.2"/><circle cx="1320.4" cy="927.5" r="14.4" fill="none" stroke="#f4e97c" stroke-width="3.2"/><circle cx="1320.6" cy="1025" r="8" fill="none" stroke="#f4e97c" stroke-width="3.2"/><circle cx="1320.6" cy="1101.3" r="14" fill="none" stroke="#f4e97c" stroke-width="3.2"/><circle cx="1320.6" cy="1198.3" r="13" fill="none" stroke="#f4e97c" stroke-width="3.2"/><circle cx="1320.6" cy="1252.5" r="8" fill="none" stroke="#f4e97c" stroke-width="3.2"/><circle cx="1320.5" cy="1328.5" r="24.3" fill="none" stroke="#f4e97c" stroke-width="3.2"/><circle cx="1390.3" cy="927.5" r="14.4" fill="none" stroke="#f4e97c" stroke-width="3.2"/><circle cx="1390.3" cy="1025" r="8" fill="none" stroke="#f4e97c" stroke-width="3.2"/><circle cx="1390.3" cy="1101.3" r="14" fill="none" stroke="#f4e97c" stroke-width="3.2"/><circle cx="1390.3" cy="1187.6" r="13" fill="none" stroke="#f4e97c" stroke-width="3.2"/><circle cx="1390.3" cy="1252.5" r="8" fill="none" stroke="#f4e97c" stroke-width="3.2"/><circle cx="1390.4" cy="1330.4" r="24.3" fill="none" stroke="#f4e97c" stroke-width="3.2"/><circle cx="1460" cy="915.8" r="14.4" fill="none" stroke="#f4e97c" stroke-width="3.2"/><circle cx="1460" cy="1016.6" r="8" fill="none" stroke="#f4e97c" stroke-width="3.2"/><circle cx="1460" cy="1093.8" r="14" fill="none" stroke="#f4e97c" stroke-width="3.2"/><circle cx="1460" cy="1176.9" r="13" fill="none" stroke="#f4e97c" stroke-width="3.2"/><circle cx="1460" cy="1252.5" r="8" fill="none" stroke="#f4e97c" stroke-width="3.2"/><circle cx="1460.3" cy="1323.8" r="24.3" fill="none" stroke="#f4e97c" stroke-width="3.2"/><circle cx="1529.6" cy="916.5" r="14.4" fill="none" stroke="#f4e97c" stroke-width="3.2"/><circle cx="1529.6" cy="1014" r="8" fill="none" stroke="#f4e97c" stroke-width="3.2"/><circle cx="1529.6" cy="1082.7" r="14" fill="none" stroke="#f4e97c" stroke-width="3.2"/><circle cx="1529.6" cy="1153" r="13" fill="none" stroke="#f4e97c" stroke-width="3.2"/><circle cx="1529.6" cy="1231" r="8" fill="none" stroke="#f4e97c" stroke-width="3.2"/><circle cx="1529.7" cy="1315" r="24.3" fill="none" stroke="#f4e97c" stroke-width="3.2"/><circle cx="1599.4" cy="905.3" r="14.5" fill="none" stroke="#f4e97c" stroke-width="3.2"/><circle cx="1599.3" cy="1057" r="8" fill="none" stroke="#f4e97c" stroke-width="3.2"/><circle cx="1599.3" cy="1078.6" r="14.5" fill="none" stroke="#f4e97c" stroke-width="3.2"/><circle cx="1599.3" cy="1144.5" r="13.3" fill="none" stroke="#f4e97c" stroke-width="3.2"/><circle cx="1599.3" cy="1231" r="8" fill="none" stroke="#f4e97c" stroke-width="3.2"/><circle cx="1599.1" cy="1306.5" r="24.3" fill="none" stroke="#f4e97c" stroke-width="3.2"/><circle cx="1669" cy="894" r="14.5" fill="none" stroke="#f4e97c" stroke-width="3.2"/><circle cx="1669" cy="981" r="8.2" fill="none" stroke="#f4e97c" stroke-width="3.2"/><circle cx="1669" cy="1056.5" r="14.6" fill="none" stroke="#f4e97c" stroke-width="3.2"/><circle cx="1669" cy="1122.6" r="13.3" fill="none" stroke="#f4e97c" stroke-width="3.2"/><circle cx="1669" cy="1220" r="8" fill="none" stroke="#f4e97c" stroke-width="3.2"/><circle cx="1669" cy="1284" r="24.3" fill="none" stroke="#f4e97c" stroke-width="3.2"/><circle cx="1739.5" cy="871.5" r="14.3" fill="none" stroke="#f4e97c" stroke-width="3.2"/><circle cx="1739" cy="959.2" r="8.2" fill="none" stroke="#f4e97c" stroke-width="3.2"/><circle cx="1739" cy="1035.3" r="14.6" fill="none" stroke="#f4e97c" stroke-width="3.2"/><circle cx="1739" cy="1100.5" r="13.3" fill="none" stroke="#f4e97c" stroke-width="3.2"/><circle cx="1738.9" cy="1188.9" r="7.5" fill="none" stroke="#f4e97c" stroke-width="3.2"/><circle cx="1738.9" cy="1273" r="24.3" fill="none" stroke="#f4e97c" stroke-width="3.2"/><circle cx="1808.8" cy="851" r="23.7" fill="none" stroke="#f4e97c" stroke-width="3.2"/><circle cx="1808.4" cy="981.1" r="16" fill="none" stroke="#f4e97c" stroke-width="3.2"/><circle cx="1808.6" cy="1034.6" r="18.6" fill="none" stroke="#f4e97c" stroke-width="3.2"/><circle cx="1808.6" cy="1086.7" r="19.6" fill="none" stroke="#f4e97c" stroke-width="3.2"/><circle cx="1808.3" cy="1166.8" r="15.5" fill="none" stroke="#f4e97c" stroke-width="3.2"/><circle cx="1808.3" cy="1262" r="24.3" fill="none" stroke="#f4e97c" stroke-width="3.2"/><circle cx="1878.9" cy="829" r="24.2" fill="none" stroke="#f4e97c" stroke-width="3.2"/><circle cx="1878.9" cy="948.5" r="16.5" fill="none" stroke="#f4e97c" stroke-width="3.2"/><circle cx="1878.9" cy="1013.8" r="18.8" fill="none" stroke="#f4e97c" stroke-width="3.2"/><circle cx="1878.4" cy="1067.4" r="18.6" fill="none" stroke="#f4e97c" stroke-width="3.2"/><circle cx="1879" cy="1142.5" r="17.7" fill="none" stroke="#f4e97c" stroke-width="3.2"/><circle cx="1879" cy="1246.4" r="24.3" fill="none" stroke="#f4e97c" stroke-width="3.2"/><circle cx="1946.6" cy="817.7" r="23" fill="none" stroke="#f4e97c" stroke-width="3.2"/><circle cx="1945" cy="937.4" r="16.8" fill="none" stroke="#f4e97c" stroke-width="3.2"/><circle cx="1947" cy="991.8" r="18.3" fill="none" stroke="#f4e97c" stroke-width="3.2"/><circle cx="1947" cy="1057.2" r="18.3" fill="none" stroke="#f4e97c" stroke-width="3.2"/><circle cx="1946.8" cy="1131.4" r="17.7" fill="none" stroke="#f4e97c" stroke-width="3.2"/><circle cx="1945.4" cy="1228.7" r="24.3" fill="none" stroke="#f4e97c" stroke-width="3.2"/><circle cx="1529.6" cy="1198.9" r="10.3" fill="#fff" stroke="#0e8048" stroke-width="5.2"/><circle cx="1808.3" cy="1131.8" r="10.3" fill="#fff" stroke="#0e8048" stroke-width="5.2"/><text x="1483" y="1215.8" font-size="33" fill="#111" font-style="italic">e</text><text x="1500.5" y="1224.6" font-size="21" fill="#111">6</text><text x="1753" y="1151.5" font-size="33" fill="#111" font-style="italic">e</text><text x="1770" y="1160.2" font-size="21" fill="#111">6</text><text x="1514.5" y="813.4" font-size="40.8" fill="#111">(c)</text><line x1="1251" y1="742.8" x2="1251" y2="1394" stroke="#000" stroke-width="2.6" stroke-linecap="butt"/><line x1="1948" y1="742.8" x2="1948" y2="1394" stroke="#000" stroke-width="2.6" stroke-linecap="butt"/><line x1="1244" y1="1394" x2="1949" y2="1394" stroke="#000" stroke-width="2.7" stroke-linecap="butt"/><line x1="1251" y1="1394" x2="1251" y2="1403.5" stroke="#000" stroke-width="2.6" stroke-linecap="butt"/><line x1="1320.8" y1="1394" x2="1320.8" y2="1403.5" stroke="#000" stroke-width="2.6" stroke-linecap="butt"/><line x1="1390.6" y1="1394" x2="1390.6" y2="1403.5" stroke="#000" stroke-width="2.6" stroke-linecap="butt"/><line x1="1460.4" y1="1394" x2="1460.4" y2="1403.5" stroke="#000" stroke-width="2.6" stroke-linecap="butt"/><line x1="1530.2" y1="1394" x2="1530.2" y2="1403.5" stroke="#000" stroke-width="2.6" stroke-linecap="butt"/><line x1="1600" y1="1394" x2="1600" y2="1403.5" stroke="#000" stroke-width="2.6" stroke-linecap="butt"/><line x1="1669.8" y1="1394" x2="1669.8" y2="1403.5" stroke="#000" stroke-width="2.6" stroke-linecap="butt"/><line x1="1739.6" y1="1394" x2="1739.6" y2="1403.5" stroke="#000" stroke-width="2.6" stroke-linecap="butt"/><line x1="1809.4" y1="1394" x2="1809.4" y2="1403.5" stroke="#000" stroke-width="2.6" stroke-linecap="butt"/><line x1="1879.2" y1="1394" x2="1879.2" y2="1403.5" stroke="#000" stroke-width="2.6" stroke-linecap="butt"/><line x1="1949" y1="1394" x2="1949" y2="1403.5" stroke="#000" stroke-width="2.6" stroke-linecap="butt"/><text x="1517" y="1432" font-size="28.5" fill="#111" text-anchor="middle">10</text><text x="1867.5" y="1432" font-size="28.5" fill="#111" text-anchor="middle">15</text><line x1="1237" y1="852.2" x2="1251" y2="852.2" stroke="#000" stroke-width="2.6" stroke-linecap="butt"/><line x1="1243" y1="960.2" x2="1251" y2="960.2" stroke="#000" stroke-width="2.6" stroke-linecap="butt"/><line x1="1243" y1="1068.6" x2="1251" y2="1068.6" stroke="#000" stroke-width="2.6" stroke-linecap="butt"/><line x1="1243" y1="1177" x2="1251" y2="1177" stroke="#000" stroke-width="2.6" stroke-linecap="butt"/><line x1="1237" y1="1285.7" x2="1251" y2="1285.7" stroke="#000" stroke-width="2.6" stroke-linecap="butt"/><text x="1226" y="861.5" font-size="29" fill="#111" text-anchor="end">1.712</text><text x="1226" y="1295" font-size="29" fill="#111" text-anchor="end">1.708</text><text x="1177.4" y="1136.7" font-size="32.5" fill="#111" transform="rotate(-90 1177.4 1136.7)">Energy (eV)</text><text x="1436" y="1471" font-size="31.5" fill="#111">Magnetic field, <tspan font-style="italic">B</tspan> (T)</text><text x="1966.3" y="841.6" font-size="33" fill="#111" font-style="italic">e</text><text x="1983.3" y="849.3" font-size="21" fill="#111">5</text><text x="1963.2" y="922.7" font-size="33" fill="#111" font-style="italic">e</text><text x="1980.2" y="932" font-size="21" fill="#111">4</text><text x="1967.2" y="1012.8" font-size="33" fill="#111" font-style="italic">e</text><text x="1984.2" y="1021.4" font-size="21" fill="#111">3</text><text x="1967.2" y="1083.7" font-size="33" fill="#111" font-style="italic">e</text><text x="1984.2" y="1093" font-size="21" fill="#111">2</text><text x="1961.7" y="1157.7" font-size="33" fill="#111" font-style="italic">e</text><text x="1978.7" y="1165.4" font-size="21" fill="#111">1</text><text x="1961.7" y="1236.3" font-size="33" fill="#111" font-style="italic">e</text><text x="1978.7" y="1244" font-size="21" fill="#111">0</text><rect x="1251" y="547.4" width="698" height="195.4" fill="#b7e0d6"/><path d="M1251.7 624.3 L1262 631 L1277.7 640.4 L1317.1 643.1 L1333.3 652.1 L1401.4 679.9 L1473.2 707.7 L1527 723 L1554 727.4 L1590 731.7 L1601 732.7 L1621.3 739.1 L1641.6 739.1 L1658.2 730.8 L1684 738.7 L1735.6 739.1 L1756 727.1 L1776.2 715.1 L1787.3 694 L1804.8 717.9 L1822.3 722.5 L1885 709.6 L1905.3 701.3 L1925.5 705.9 L1947.7 703.2" fill="none" stroke="#b444a8" stroke-width="4" stroke-linecap="round" stroke-linejoin="round"/><line x1="1272.3" y1="592" x2="1272.3" y2="628.8" stroke="#b444a8" stroke-width="4.2" stroke-linecap="round"/><text x="1263" y="582.2" font-size="30" fill="#b444a8" font-weight="bold">5/9</text><line x1="1331.8" y1="603.7" x2="1331.8" y2="640.4" stroke="#b444a8" stroke-width="4.2" stroke-linecap="round"/><line x1="1331.8" y1="648.4" x2="1331.8" y2="773.2" stroke="#b444a8" stroke-width="2.6" stroke-linecap="butt" stroke-dasharray="5.5 4"/><text x="1319" y="594.7" font-size="30" fill="#b444a8" font-weight="bold">1/2</text><line x1="1546.2" y1="676.3" x2="1546.2" y2="716.7" stroke="#b444a8" stroke-width="4.2" stroke-linecap="round"/><line x1="1546.2" y1="724.7" x2="1546.2" y2="766.9" stroke="#b444a8" stroke-width="2.6" stroke-linecap="butt" stroke-dasharray="5.5 4"/><text x="1526" y="663.8" font-size="30" fill="#b444a8" font-weight="bold">1/3</text><line x1="1648.6" y1="689.3" x2="1648.6" y2="726.2" stroke="#b444a8" stroke-width="4.2" stroke-linecap="round"/><text x="1593.5" y="677.4" font-size="30" fill="#b444a8" font-weight="bold">3/10</text><line x1="1685.9" y1="665.4" x2="1685.9" y2="702.2" stroke="#b444a8" stroke-width="4.2" stroke-linecap="round"/><line x1="1685.9" y1="710.2" x2="1685.9" y2="765.8" stroke="#b444a8" stroke-width="2.6" stroke-linecap="butt" stroke-dasharray="5.5 4"/><text x="1658.2" y="657" font-size="30" fill="#b444a8" font-weight="bold">2/7</text><line x1="1726.4" y1="689.3" x2="1726.4" y2="726.2" stroke="#b444a8" stroke-width="4.2" stroke-linecap="round"/><text x="1713.5" y="677.4" font-size="30" fill="#b444a8" font-weight="bold">3/11</text><line x1="1820" y1="665.4" x2="1820" y2="702.2" stroke="#b444a8" stroke-width="4.2" stroke-linecap="round"/><line x1="1820" y1="710.2" x2="1820" y2="765.8" stroke="#b444a8" stroke-width="2.6" stroke-linecap="butt" stroke-dasharray="5.5 4"/><text x="1795.6" y="650.6" font-size="30" fill="#b444a8" font-weight="bold">1/4</text><line x1="1921" y1="641" x2="1921" y2="677.4" stroke="#b444a8" stroke-width="4.2" stroke-linecap="round"/><text x="1877.6" y="632.2" font-size="30" fill="#b444a8" font-weight="bold">3/14</text><text x="1499" y="604.5" font-size="43.4" fill="#111">(d)</text><line x1="1251" y1="547.4" x2="1949" y2="547.4" stroke="#000" stroke-width="2.4" stroke-linecap="square"/><line x1="1251" y1="547.4" x2="1251" y2="742.8" stroke="#000" stroke-width="2.4" stroke-linecap="butt"/><line x1="1949" y1="547.4" x2="1949" y2="742.8" stroke="#000" stroke-width="2.4" stroke-linecap="butt"/><line x1="1243" y1="742.8" x2="1949" y2="742.8" stroke="#000" stroke-width="2.4" stroke-linecap="butt"/><line x1="1243.5" y1="595.6" x2="1251" y2="595.6" stroke="#000" stroke-width="2.4" stroke-linecap="butt"/><line x1="1949" y1="595.6" x2="1941.5" y2="595.6" stroke="#000" stroke-width="2.4" stroke-linecap="butt"/><line x1="1240" y1="645" x2="1251" y2="645" stroke="#000" stroke-width="2.4" stroke-linecap="butt"/><line x1="1949" y1="645" x2="1935" y2="645" stroke="#000" stroke-width="2.4" stroke-linecap="butt"/><line x1="1243.5" y1="694.8" x2="1251" y2="694.8" stroke="#000" stroke-width="2.4" stroke-linecap="butt"/><line x1="1949" y1="694.8" x2="1941.5" y2="694.8" stroke="#000" stroke-width="2.4" stroke-linecap="butt"/><line x1="1530.2" y1="547.4" x2="1530.2" y2="559.4" stroke="#000" stroke-width="2.4" stroke-linecap="butt"/><line x1="1879.2" y1="547.4" x2="1879.2" y2="559.4" stroke="#000" stroke-width="2.4" stroke-linecap="butt"/><text x="1226" y="655" font-size="29.5" fill="#111" text-anchor="end">1</text><text transform="translate(1168.6 754) rotate(-90)" font-size="33.5" fill="#111">E<tspan font-size="22.5" dy="9.5">Coul,rel</tspan><tspan dy="-9.5"> (meV)</tspan></text><rect x="111" y="771" width="945.5" height="618" fill="#dcdcdc"/><line x1="212.5" y1="1022" x2="212.8" y2="1363.5" stroke="#e31e24" stroke-width="1.8" stroke-linecap="butt" stroke-dasharray="5.5 3.5"/><line x1="265" y1="945" x2="272" y2="1358.6" stroke="#e31e24" stroke-width="1.8" stroke-linecap="butt" stroke-dasharray="5.5 3.5"/><line x1="305.5" y1="905" x2="310" y2="1328" stroke="#e31e24" stroke-width="1.8" stroke-linecap="butt" stroke-dasharray="5.5 3.5"/><path d="M194.5 772.8 L195.2 774.1 L196 775.7 L196.9 777.6 L198 779.8 L199.3 782.2 L200.7 784.9 L202.4 787.8 L204.3 791 L206.5 794.5 L208.9 798.4 L211.6 802.7 L214.4 807.1 L217.4 811.7 L220.5 816.3 L223.6 820.7 L226.8 824.9 L230.1 828.9 L233.5 833 L237.1 836.9 L240.8 840.9 L244.5 844.7 L248.1 848.5 L251.6 852.3 L255 855.9 L258.2 859.5 L261.4 863.1 L264.5 866.6 L267.5 870 L270.5 873.4 L273.4 876.6 L276.2 879.7 L279 882.6 L281.7 885.4 L284.3 888.1 L286.9 890.6 L289.4 893.1 L291.8 895.3 L294.2 897.4 L296.4 899.3 L298.6 900.9 L300.5 902.1 L302.1 903 L303.5 903.5 L304.9 903.9 L306.3 904.2 L308 904.7 L310.1 905.4 L312.7 906.5 L315.8 908 L319.4 909.7 L323.3 911.7 L327.5 913.8 L331.8 916 L336.3 918.1 L340.7 920.1 L345 922 L349.3 923.8 L353.8 925.6 L358.4 927.4 L363.1 929.1 L367.7 930.8 L372.2 932.3 L376.6 933.6 L380.8 934.7 L384.8 935.5 L388.5 936.1 L392.1 936.5 L395.6 936.8 L399.2 936.9 L402.8 937.1 L406.5 937.3 L410.4 937.5 L414.5 937.8 L418.8 938.2 L423.2 938.5 L427.6 938.8 L432.2 939.1 L436.7 939.3 L441.2 939.5 L445.6 939.6 L450 939.6 L454.4 939.6 L458.8 939.5 L463.2 939.4 L467.6 939.2 L472 939 L476.4 938.6 L480.8 938.2 L485.2 937.6 L489.6 937 L494 936.2 L498.4 935.3 L502.8 934.4 L507.2 933.5 L511.6 932.7 L516 931.9 L520.3 931.2 L524.5 930.7 L528.6 930.2 L532.7 929.8 L536.9 929.2 L541.4 928.5 L546.1 927.5 L551.1 926.3 L556.3 924.8 L561.6 923.1 L567.1 921.2 L572.7 919.1 L578.8 916.9 L585.3 914.5 L592.3 912 L600 909.4 L608.4 906.8 L617.3 904.1 L626.8 901.4 L636.8 898.6 L647.2 895.4 L657.9 892 L668.8 888.2 L680 884 L691.7 879.1 L704.1 873.7 L716.9 867.8 L730 861.6 L743.1 855.4 L755.9 849.1 L768.3 843.1 L780 837.5 L791.1 832.1 L802 826.8 L812.6 821.6 L822.9 816.5 L832.8 811.6 L842.3 806.8 L851.4 802.3 L860 798 L868.4 793.8 L876.6 789.7 L884.5 785.8 L892 782 L898.8 778.6 L904.9 775.6 L910 773 L914 771" fill="none" stroke="#e31e24" stroke-width="3.6" stroke-linecap="butt" stroke-linejoin="round" stroke-dasharray="9 7"/><path d="M125.5 785.5 L126.7 787.2 L128.2 789.3 L129.9 791.9 L131.9 794.8 L134.1 797.9 L136.4 801.2 L138.7 804.6 L141 808 L143.4 811.5 L145.9 815.3 L148.5 819.2 L151.2 823.3 L153.9 827.4 L156.6 831.6 L159.3 835.8 L162 840 L164.6 844.2 L167.2 848.4 L169.9 852.7 L172.5 857.1 L175.1 861.4 L177.8 865.7 L180.4 869.9 L183 874 L185.7 878.1 L188.4 882.3 L191.2 886.5 L194 890.6 L196.7 894.6 L199.3 898.4 L201.8 901.9 L204 905 L205.9 907.6 L207.3 909.8 L208.6 911.6 L209.8 913.2 L211 914.8 L212.5 916.4 L214.5 918.3 L217 920.6 L220.1 923.2 L223.6 926 L227.5 928.9 L231.7 932 L236.1 935.1 L240.6 938.4 L245.3 941.7 L250 945 L254.8 948.5 L259.8 952.3 L265 956.2 L270.4 960.2 L275.8 964.1 L281.2 967.8 L286.6 971.1 L292 974 L297.4 976.4 L302.9 978.5 L308.5 980.4 L314.1 981.9 L319.6 983.3 L324.9 984.6 L330.1 985.8 L335 987 L339.5 988.1 L343.7 989.1 L347.7 990 L351.6 990.8 L355.4 991.5 L359.4 992.1 L363.5 992.6 L368 993 L372.8 993.3 L377.8 993.5 L383 993.6 L388.4 993.6 L393.8 993.5 L399.2 993.4 L404.6 993.2 L410 993 L415.4 992.8 L420.9 992.5 L426.4 992.1 L431.9 991.7 L437.4 991.3 L442.8 990.8 L448 990.2 L453 989.6 L457.7 988.9 L462.1 988.3 L466.3 987.5 L470.5 986.8 L474.6 985.9 L478.8 984.9 L483.3 983.8 L488 982.5 L492.9 981 L497.7 979.4 L502.6 977.6 L507.7 975.8 L513.1 973.8 L518.8 971.8 L524.9 969.7 L531.6 967.7 L538.9 965.7 L546.7 963.8 L554.9 961.9 L563.5 959.9 L572.4 957.8 L581.5 955.5 L590.7 952.9 L600 950 L609.3 946.8 L618.7 943.6 L628.3 940.1 L638 936.4 L648 932.3 L658.3 928 L669 923.2 L680 918 L691.5 912.2 L703.6 905.8 L716 898.9 L728.8 891.6 L741.6 884.3 L754.5 876.9 L767.4 869.6 L780 862.7 L792.7 855.9 L805.7 849 L818.7 842.1 L831.8 835.3 L844.6 828.6 L857 822.2 L868.8 815.9 L880 810 L890.8 804.2 L901.7 798.4 L912.2 792.7 L922.2 787.2 L931.5 782.2 L939.7 777.7 L946.6 773.9 L952 771" fill="none" stroke="#e31e24" stroke-width="3.6" stroke-linecap="butt" stroke-linejoin="round" stroke-dasharray="9 7"/><path d="M128.3 1095 L129.6 1093.8 L131.4 1092.2 L133.5 1090.3 L135.9 1088.2 L138.3 1085.9 L140.8 1083.7 L143.1 1081.6 L145.2 1079.6 L147.1 1077.8 L148.9 1076 L150.6 1074.3 L152.3 1072.5 L154 1070.8 L155.7 1069.1 L157.5 1067.3 L159.3 1065.6 L161.2 1063.8 L163.1 1062 L165.1 1060.3 L167.1 1058.5 L169 1056.7 L171 1054.9 L172.9 1053.2 L174.8 1051.5 L176.6 1049.8 L178.5 1048.2 L180.3 1046.5 L182.1 1044.9 L183.8 1043.3 L185.5 1041.7 L187.2 1040.2 L188.8 1038.8 L190.3 1037.4 L191.8 1036.1 L193.2 1034.8 L194.6 1033.5 L195.9 1032.3 L197.3 1031.2 L198.6 1030.1 L200 1029 L201.3 1028.1 L202.6 1027.5 L203.9 1026.9 L205.1 1026.4 L206.4 1025.7 L207.8 1024.9 L209.3 1023.7 L211 1022 L212.9 1019.8 L214.9 1017.1 L217.1 1014.1 L219.3 1010.8 L221.6 1007.4 L223.8 1004.1 L226 1000.9 L228 998 L229.9 995.3 L231.8 992.7 L233.6 990.1 L235.4 987.6 L237.2 985.2 L238.9 982.8 L240.6 980.5 L242.3 978.3 L243.9 976.2 L245.4 974.3 L246.8 972.5 L248.2 970.8 L249.7 969 L251.3 967.2 L253 965.1 L255 962.8 L257.2 960.3 L259.6 957.7 L262.1 955 L264.7 952.2 L267.4 949.2 L270.2 946 L273.1 942.6 L276 938.9 L279.1 934.8 L282.4 930.1 L285.9 925.1 L289.5 919.9 L292.9 914.8 L296.1 910.1 L299 905.8 L301.4 902.3 L303.3 899.6 L304.7 897.5 L305.8 895.9 L306.7 894.7 L307.4 893.6 L308.2 892.5 L309 891.2 L310 889.7 L311.2 887.9 L312.4 886 L313.6 884 L314.9 882 L316.1 880 L317.3 878 L318.5 876.1 L319.7 874.2 L320.8 872.4 L321.8 870.7 L322.8 869 L323.7 867.3 L324.7 865.6 L325.8 863.9 L326.9 862.1 L328.2 860.1 L329.6 858 L331.2 855.8 L333 853.4 L334.7 851 L336.5 848.6 L338.2 846.3 L339.9 844 L341.4 841.8 L342.8 839.7 L344 837.8 L345.2 835.9 L346.4 834 L347.5 832.2 L348.7 830.3 L350 828.4 L351.3 826.3 L352.8 824.1 L354.3 821.9 L355.9 819.6 L357.6 817.2 L359.2 814.9 L360.9 812.5 L362.5 810.2 L364 808 L365.5 805.8 L366.9 803.7 L368.3 801.7 L369.7 799.6 L371.1 797.6 L372.4 795.5 L373.8 793.3 L375.2 791.1 L376.7 788.6 L378.3 785.9 L379.9 783.1 L381.5 780.2 L383.1 777.5 L384.5 775 L385.6 772.9 L386.5 771.4" fill="none" stroke="#e31e24" stroke-width="3.6" stroke-linecap="butt" stroke-linejoin="round" stroke-dasharray="9 7"/><path d="M126 940 L127.1 941.2 L128.6 942.7 L130.3 944.6 L132.2 946.7 L134.3 948.8 L136.3 951 L138.2 953.1 L140 955 L141.6 956.8 L143.2 958.6 L144.8 960.4 L146.4 962.2 L147.9 963.9 L149.4 965.5 L150.8 967 L152.2 968.4 L153.4 969.5 L154.5 970.2 L155.4 970.7 L156.3 971.2 L157.3 971.8 L158.5 972.6 L160 973.8 L162 975.5 L164.5 977.9 L167.5 980.8 L170.9 984.1 L174.4 987.7 L178 991.3 L181.5 994.8 L184.7 998 L187.4 1000.8 L189.7 1003.1 L191.8 1005.3 L193.7 1007.2 L195.4 1009 L197 1010.6 L198.6 1012.1 L200 1013.5 L201.5 1014.9 L202.7 1016.1 L203.6 1017 L204.2 1017.7 L204.8 1018.4 L205.6 1019 L206.8 1019.8 L208.5 1020.8 L211 1022 L214.4 1023.6 L218.7 1025.4 L223.6 1027.4 L228.8 1029.5 L234.1 1031.7 L239.2 1033.7 L244 1035.7 L248 1037.4 L251.4 1038.9 L254.4 1040.4 L257.2 1041.7 L259.7 1043 L262 1044.1 L264.3 1045.3 L266.6 1046.3 L269 1047.3 L271.4 1048.2 L273.8 1049.1 L276 1049.8 L278.3 1050.5 L280.5 1051.2 L282.8 1051.8 L285.1 1052.4 L287.4 1052.9 L289.6 1053.4 L291.7 1053.8 L293.7 1054.2 L295.7 1054.6 L297.9 1054.9 L300.5 1055.2 L303.5 1055.5 L307 1055.7 L311.3 1055.9 L316.2 1056.1 L321.6 1056.2 L327.3 1056.3 L333.1 1056.3 L338.9 1056.4 L344.3 1056.4 L349.3 1056.4 L353.8 1056.4 L358 1056.5 L361.9 1056.6 L365.8 1056.7 L369.6 1056.7 L373.5 1056.5 L377.7 1056.2 L382.2 1055.7 L387 1054.9 L392.1 1054 L397.4 1052.8 L402.8 1051.6 L408.2 1050.2 L413.7 1048.8 L419.2 1047.3 L424.5 1045.9 L429.8 1044.5 L435.1 1043 L440.3 1041.4 L445.6 1039.8 L450.9 1038.2 L456.2 1036.5 L461.4 1034.9 L466.7 1033.2 L472 1031.5 L477.2 1029.8 L482.5 1028.1 L487.8 1026.4 L493.1 1024.7 L498.3 1022.9 L503.6 1021 L508.9 1019.1 L514.1 1017.2 L519.3 1015.2 L524.4 1013.2 L529.6 1011.1 L534.8 1009 L540.1 1006.8 L545.5 1004.5 L551.1 1002.2 L556.7 999.9 L562.1 997.7 L567.6 995.5 L573.2 993.2 L579.1 990.7 L585.4 987.9 L592.4 984.7 L600 981.1 L608.4 977 L617.3 972.4 L626.8 967.5 L636.8 962.3 L647.2 956.9 L657.9 951.3 L668.8 945.7 L680 940 L691.4 934.3 L703.1 928.6 L715.2 922.8 L727.5 916.8 L740.2 910.7 L753.1 904.3 L766.4 897.6 L780 890.6 L794.2 883.1 L809.3 875.1 L824.9 866.7 L840.6 858.1 L856.3 849.5 L871.6 841 L886.3 832.8 L900 825 L913.3 817.3 L926.7 809.4 L939.9 801.5 L952.5 793.9 L964.2 786.8 L974.5 780.4 L983.3 775.1 L990 771" fill="none" stroke="#e31e24" stroke-width="3.6" stroke-linecap="butt" stroke-linejoin="round" stroke-dasharray="9 7"/><path d="M640 1000 L644.5 997 L650.3 993.2 L657.2 988.6 L665 983.5 L673.4 977.9 L682.2 972 L691.1 966 L700 960 L708.8 953.9 L717.7 947.5 L726.8 940.9 L736.2 934 L746.2 926.9 L756.7 919.7 L767.9 912.2 L780 904.5 L793.1 896.5 L807.3 888.2 L822.3 879.6 L837.8 870.8 L853.6 862 L869.4 853.2 L885 844.5 L900 836 L915.4 827.3 L931.8 818 L948.5 808.5 L965 799.2 L980.5 790.5 L994.5 782.6 L1006.2 776 L1015 771" fill="none" stroke="#e31e24" stroke-width="3.6" stroke-linecap="butt" stroke-linejoin="round" stroke-dasharray="9 7"/><path d="M126 1098 L127.5 1098.4 L129.4 1098.9 L131.7 1099.6 L134.3 1100.3 L137 1101 L139.8 1101.9 L142.6 1102.7 L145.2 1103.6 L147.8 1104.5 L150.4 1105.5 L153.2 1106.5 L155.9 1107.6 L158.6 1108.7 L161.3 1109.8 L163.9 1110.9 L166.3 1112 L168.6 1113.1 L170.8 1114.1 L172.9 1115.2 L174.9 1116.2 L176.9 1117.3 L179 1118.4 L181 1119.4 L183.2 1120.5 L185.4 1121.6 L187.7 1122.7 L190 1123.9 L192.3 1125.1 L194.7 1126.2 L197 1127.2 L199.3 1128.2 L201.5 1129 L203.7 1129.7 L205.8 1130.3 L207.9 1130.7 L209.9 1131.1 L212 1131.5 L214.1 1131.8 L216.2 1132.1 L218.4 1132.4 L220.6 1132.7 L222.8 1132.9 L225 1133.1 L227.3 1133.3 L229.6 1133.4 L231.9 1133.5 L234.3 1133.7 L236.7 1133.8 L239.2 1133.9 L241.8 1134 L244.4 1134.1 L247.1 1134.2 L249.8 1134.3 L252.5 1134.4 L255.1 1134.5 L257.8 1134.5 L260.4 1134.6 L262.8 1134.6 L265.1 1134.7 L267.5 1134.7 L270 1134.7 L272.7 1134.7 L275.7 1134.6 L279 1134.5 L282.8 1134.3 L287 1134.1 L291.5 1133.8 L296.2 1133.5 L300.9 1133.1 L305.6 1132.7 L310 1132.2 L314 1131.7 L317.6 1131.1 L320.8 1130.4 L323.7 1129.7 L326.6 1128.9 L329.5 1128.1 L332.6 1127.3 L336 1126.3 L340 1125.4 L344.5 1124.4 L349.4 1123.5 L354.6 1122.5 L360.1 1121.5 L365.7 1120.4 L371.3 1119.2 L376.8 1117.8 L382.2 1116.3 L387.5 1114.6 L392.8 1112.6 L398.1 1110.5 L403.4 1108.2 L408.6 1106 L413.9 1103.7 L419.2 1101.5 L424.5 1099.4 L429.8 1097.4 L435.1 1095.5 L440.3 1093.7 L445.6 1091.8 L450.9 1090 L456.2 1088 L461.4 1086 L466.7 1083.9 L472 1081.6 L477.2 1079.3 L482.5 1076.8 L487.8 1074.3 L493.1 1071.8 L498.3 1069.2 L503.6 1066.7 L508.9 1064.2 L514.1 1061.8 L519.3 1059.4 L524.4 1057.1 L529.6 1054.7 L534.8 1052.3 L540.1 1049.8 L545.5 1047.2 L551.1 1044.5 L556.6 1041.8 L561.9 1039.1 L567.1 1036.4 L572.6 1033.6 L578.4 1030.6 L584.7 1027.3 L591.9 1023.4 L600 1019.1 L609.3 1014.1 L619.6 1008.5 L630.7 1002.5 L642.4 996.2 L654.4 989.6 L666.5 983 L678.5 976.4 L690 970 L701 963.8 L711.8 957.7 L722.4 951.6 L733.1 945.5 L744.1 939.2 L755.4 932.6 L767.3 925.8 L780 918.5 L793.5 910.8 L807.5 902.8 L822.1 894.5 L837.2 886 L852.6 877.2 L868.2 868.3 L884.1 859.2 L900 850 L917.1 840.1 L935.9 829.1 L955.5 817.7 L975 806.2 L993.6 795.3 L1010.4 785.4 L1024.5 777.2 L1035 771" fill="none" stroke="#e31e24" stroke-width="3.6" stroke-linecap="butt" stroke-linejoin="round" stroke-dasharray="9 7"/><path d="M126.4 1251 L129.5 1250.6 L133.7 1250 L138.7 1249.2 L144.2 1248.5 L150 1247.6 L156 1246.8 L161.9 1246 L167.5 1245.3 L173.1 1244.7 L178.9 1244 L185 1243.4 L191 1242.8 L196.8 1242.3 L202.4 1241.6 L207.4 1241 L211.8 1240.3 L215.3 1239.6 L218.1 1238.9 L220.4 1238.2 L222.3 1237.4 L224.2 1236.6 L226.2 1235.8 L228.6 1234.8 L231.6 1233.8 L235.2 1232.7 L239.2 1231.4 L243.5 1230.1 L248 1228.7 L252.6 1227.3 L257.2 1225.8 L261.7 1224.4 L266 1223 L270.2 1221.6 L274.5 1220.2 L278.8 1218.7 L283.1 1217.2 L287.2 1215.8 L291.3 1214.4 L295.2 1213 L298.9 1211.6 L302.3 1210.3 L305.4 1209.2 L308.2 1208.1 L311 1207 L313.8 1205.8 L316.7 1204.6 L319.9 1203.2 L323.5 1201.7 L327.5 1200 L332 1198 L336.6 1196 L341.5 1193.8 L346.3 1191.7 L351.1 1189.5 L355.7 1187.3 L360 1185.3 L364 1183.3 L367.7 1181.4 L371.3 1179.5 L374.7 1177.6 L378.2 1175.7 L381.7 1173.8 L385.4 1171.9 L389.3 1170 L393.4 1168.1 L397.5 1166.3 L401.8 1164.6 L406.1 1162.8 L410.5 1160.9 L415.1 1158.9 L419.7 1156.7 L424.5 1154.3 L429.4 1151.6 L434.6 1148.6 L439.8 1145.5 L445.2 1142.2 L450.6 1138.8 L456 1135.5 L461.4 1132.1 L466.7 1128.9 L472 1125.7 L477.2 1122.5 L482.5 1119.3 L487.8 1116.2 L493.1 1113 L498.3 1109.8 L503.6 1106.7 L508.9 1103.6 L514.1 1100.5 L519.3 1097.5 L524.4 1094.5 L529.6 1091.5 L534.8 1088.5 L540.1 1085.6 L545.5 1082.6 L551.1 1079.6 L556.6 1076.8 L561.9 1074.4 L567.1 1072 L572.6 1069.6 L578.4 1067 L584.7 1063.9 L591.9 1060.2 L600 1055.7 L609.3 1050.3 L619.6 1044 L630.7 1037.1 L642.4 1029.8 L654.4 1022.2 L666.5 1014.6 L678.5 1007.1 L690 1000 L701.2 993.1 L712.3 986.4 L723.3 979.7 L734.4 973 L745.5 966.2 L756.8 959.3 L768.3 952.3 L780 945 L792.1 937.4 L804.7 929.6 L817.5 921.6 L830.4 913.4 L843.3 905.3 L856 897.3 L868.3 889.5 L880 882 L891.1 874.8 L901.7 867.9 L911.9 861.1 L921.8 854.5 L931.7 847.9 L941.8 841.3 L952.1 834.6 L962.8 827.8 L974.6 820.5 L987.6 812.7 L1001.1 804.5 L1014.6 796.5 L1027.4 788.9 L1039 782.1 L1048.7 776.3 L1056 772" fill="none" stroke="#e31e24" stroke-width="3.6" stroke-linecap="butt" stroke-linejoin="round" stroke-dasharray="9 7"/><path d="M125.5 1061.4 L226.8 1051.5 L329.6 1021.9" fill="none" stroke="#5cb83a" stroke-width="4.6" stroke-linecap="round" stroke-linejoin="round"/><path d="M125.5 1110.6 L226.8 1100.1 L331 1062" fill="none" stroke="#5cb83a" stroke-width="4.6" stroke-linecap="round" stroke-linejoin="round"/><path d="M126.4 1242 L211.8 1187.8 L257.8 1150 L332.4 1078.2" fill="none" stroke="#5cb83a" stroke-width="4.6" stroke-linecap="round" stroke-linejoin="round"/><path d="M226.8 976.9 L332 953" fill="none" stroke="#0a8a3a" stroke-width="7" stroke-linecap="round" stroke-linejoin="round"/><path d="M226.8 1033.2 L332.4 1014.9" fill="none" stroke="#0a8a3a" stroke-width="7" stroke-linecap="round" stroke-linejoin="round"/><path d="M226.8 1119 L332.4 1096.5" fill="none" stroke="#0a8a3a" stroke-width="7" stroke-linecap="round" stroke-linejoin="round"/><path d="M226.6 1165.6 L331.7 1168.9" fill="none" stroke="#0a8a3a" stroke-width="7" stroke-linecap="round" stroke-linejoin="round"/><path d="M226.6 1193.5 L331.7 1177.1" fill="none" stroke="#0a8a3a" stroke-width="7" stroke-linecap="round" stroke-linejoin="round"/><path d="M226.6 1230.5 L331.7 1222.3" fill="none" stroke="#0a8a3a" stroke-width="7" stroke-linecap="round" stroke-linejoin="round"/><path d="M328 993 L433 973.4" fill="none" stroke="#5bc5dc" stroke-width="5.8" stroke-linecap="round" stroke-linejoin="round"/><path d="M329 1036.6 L432.5 1019.6" fill="none" stroke="#5bc5dc" stroke-width="5.8" stroke-linecap="round" stroke-linejoin="round"/><path d="M329 1046 L432.5 1024.5" fill="none" stroke="#5bc5dc" stroke-width="5.8" stroke-linecap="round" stroke-linejoin="round"/><path d="M328 1118.4 L433 1074.7" fill="none" stroke="#5bc5dc" stroke-width="5.8" stroke-linecap="round" stroke-linejoin="round"/><path d="M328 1173 L433 1126" fill="none" stroke="#5bc5dc" stroke-width="5.8" stroke-linecap="round" stroke-linejoin="round"/><path d="M328.5 1194 L433 1143" fill="none" stroke="#5bc5dc" stroke-width="5.8" stroke-linecap="round" stroke-linejoin="round"/><path d="M431 965.4 L439.3 965.4 L450.8 965.6 L464.5 965.8 L479.4 966 L494.9 966 L509.8 965.8 L523.4 965.4 L534.8 964.5 L544 963.2 L552.1 961.6 L559.1 959.6 L565.6 957.5 L571.6 955.1 L577.5 952.8 L583.5 950.3 L590 948 L596.5 945.8 L602.4 943.6 L608.2 941.5 L614.1 939.3 L620.2 936.9 L627 934.2 L634.5 931.2 L643.2 927.8 L653.1 924 L664 919.7 L675.7 915.2 L688.1 910.4 L700.7 905.4 L713.6 900.2 L726.4 894.9 L738.9 889.6 L751.4 884.1 L764.1 878.3 L776.9 872.4 L789.8 866.4 L802.6 860.2 L815.4 854.1 L827.8 848 L840 842 L852.2 835.9 L864.6 829.7 L877 823.3 L889.1 817 L900.8 810.9 L911.7 805.1 L921.6 799.8 L930.2 795 L937.6 790.7 L944 786.8 L949.5 783.3 L954.2 780.1 L958.2 777.2 L961.6 774.8 L964.5 772.7 L967 771" fill="none" stroke="#2b4aa3" stroke-width="3.6" stroke-linecap="round" stroke-linejoin="round"/><path d="M431 1049 L439 1046.3 L449.8 1042.7 L462.5 1038.6 L476.7 1033.8 L491.7 1028.7 L506.8 1023.3 L521.4 1017.8 L534.8 1012.3 L547.3 1006.6 L559.7 1000.5 L571.9 994.1 L584.1 987.5 L596.3 980.8 L608.6 974.1 L621 967.6 L633.6 961.3 L646.5 955.2 L659.6 949.3 L672.8 943.5 L686.1 937.7 L699.4 931.9 L712.7 926.1 L725.9 920.1 L738.9 914 L751.8 907.7 L764.7 901.3 L777.6 894.8 L790.4 888.2 L803.1 881.6 L815.6 875 L827.9 868.4 L840 862 L852 855.6 L864.1 849.1 L876 842.7 L887.8 836.3 L899.2 830 L910.2 823.8 L920.5 817.8 L930.2 812 L939.4 806.2 L948.3 800.2 L956.8 794.2 L964.7 788.4 L972 783 L978.4 778.2 L983.8 774.1 L988 771" fill="none" stroke="#2b4aa3" stroke-width="3.6" stroke-linecap="round" stroke-linejoin="round"/><path d="M431 1103.2 L439 1098.7 L449.7 1092.8 L462.4 1085.7 L476.5 1077.8 L491.4 1069.4 L506.5 1060.8 L521.2 1052.3 L534.8 1044.2 L547.6 1036.2 L560.4 1027.8 L573.2 1019.2 L585.9 1010.5 L598.6 1002 L611.3 993.6 L624.1 985.5 L636.8 978 L649.6 971 L662.3 964.4 L675.1 958.2 L687.9 952.1 L700.7 946.2 L713.4 940.3 L726.2 934.2 L738.9 928 L751.7 921.6 L764.5 915.1 L777.4 908.6 L790.2 902.1 L802.9 895.6 L815.5 889 L827.9 882.5 L840 876 L851.9 869.5 L863.7 863 L875.3 856.5 L886.7 850.1 L897.9 843.6 L908.9 837.1 L919.7 830.5 L930.2 824 L940.9 817.1 L951.9 809.6 L963 801.9 L973.7 794.2 L983.8 787 L992.7 780.5 L1000.3 775.1 L1006 771" fill="none" stroke="#2b4aa3" stroke-width="3.6" stroke-linecap="round" stroke-linejoin="round"/><path d="M431 1143.1 L439 1137.4 L449.8 1129.8 L462.5 1120.7 L476.7 1110.6 L491.7 1100 L506.8 1089.3 L521.4 1079.1 L534.8 1069.7 L547.3 1060.9 L559.7 1052.2 L571.9 1043.6 L584.1 1035 L596.3 1026.7 L608.6 1018.5 L621 1010.5 L633.6 1002.8 L646.5 995.4 L659.6 988.5 L672.8 981.7 L686.1 975.2 L699.4 968.7 L712.7 962.2 L725.9 955.5 L738.9 948.6 L751.8 941.5 L764.7 934.2 L777.6 926.7 L790.4 919.3 L803.1 911.8 L815.6 904.4 L827.9 897.1 L840 890 L851.8 883.1 L863.3 876.4 L874.5 869.9 L885.6 863.4 L896.7 856.9 L907.7 850.2 L918.9 843.2 L930.2 836 L942.3 828 L955.4 819 L968.9 809.6 L982.2 800.1 L994.9 791.1 L1006.3 782.9 L1015.8 776.1 L1023 771" fill="none" stroke="#2b4aa3" stroke-width="3.6" stroke-linecap="round" stroke-linejoin="round"/><path d="M431 1167 L439 1159.8 L449.7 1150 L462.4 1138.4 L476.5 1125.5 L491.4 1112.2 L506.5 1099 L521.2 1086.8 L534.8 1076.1 L547.6 1066.8 L560.4 1058 L573.2 1049.8 L585.9 1041.9 L598.6 1034.3 L611.3 1026.9 L624.1 1019.6 L636.8 1012.3 L649.6 1005.1 L662.3 998.2 L675.1 991.5 L687.9 984.9 L700.7 978.4 L713.4 971.8 L726.2 965 L738.9 958.1 L751.7 950.9 L764.5 943.5 L777.4 936 L790.2 928.5 L802.9 920.9 L815.5 913.5 L827.9 906.1 L840 899 L851.7 892.2 L862.9 885.8 L873.8 879.6 L884.6 873.5 L895.4 867.2 L906.5 860.7 L918.1 853.6 L930.2 846 L943.7 837.2 L958.8 827 L974.8 816.2 L990.7 805.2 L1006 794.6 L1019.8 785 L1031.4 776.9 L1040 771" fill="none" stroke="#2b4aa3" stroke-width="3.6" stroke-linecap="round" stroke-linejoin="round"/><path d="M431 1192.8 L434.3 1189.7 L438.5 1185.8 L443.6 1181.2 L449.3 1175.9 L455.4 1170.2 L461.9 1164.1 L468.4 1157.8 L475 1151.4 L481.4 1144.7 L487.9 1137.6 L494.4 1130.1 L501.3 1122.4 L508.6 1114.4 L516.5 1106.3 L525.2 1098.1 L534.8 1090 L545.5 1081.7 L557.3 1073.2 L570 1064.5 L583.2 1055.7 L596.7 1046.9 L610.3 1038.3 L623.8 1030 L636.8 1022 L649.6 1014.4 L662.3 1007.2 L675.1 1000.3 L687.9 993.4 L700.7 986.7 L713.4 979.9 L726.2 973.1 L738.9 966 L751.7 958.7 L764.5 951.3 L777.4 943.8 L790.2 936.3 L802.9 928.8 L815.5 921.4 L827.9 914.1 L840 907 L851.5 900.3 L862.5 894 L873 888 L883.5 881.9 L894.2 875.7 L905.4 869.1 L917.3 862 L930.2 854 L945.1 844.6 L962.2 833.6 L980.5 821.8 L999 809.7 L1016.8 798 L1033 787.4 L1046.5 778.5 L1056.5 772" fill="none" stroke="#2b4aa3" stroke-width="3.6" stroke-linecap="round" stroke-linejoin="round"/><path d="M126.7 955.8 L211.2 955.8 L295.8 955.8 L380.3 948.1 L464.9 947.9 L549.5 940.3 L634 933.3 L718.6 917.3 L803.1 901.7 L887.6 886.4 L972.2 879" fill="none" stroke="#1b7a3c" stroke-width="2.8" stroke-linecap="butt" stroke-linejoin="miter" stroke-dasharray="2.6 4.6"/><path d="M126.7 1033.2 L211.2 1025.5 L295.8 1025.5 L380.3 1020.5 L464.9 1017.7 L549.5 1048.7 L634 1048.4 L718.6 1034 L803.1 1033 L887.6 1018.1 L972.2 1002.8" fill="none" stroke="#1b7a3c" stroke-width="2.8" stroke-linecap="butt" stroke-linejoin="miter" stroke-dasharray="2.6 4.6"/><path d="M634 994.8 L718.6 978.9 L803.1 994.8 L887.6 970.9 L972.2 963.9" fill="none" stroke="#1b7a3c" stroke-width="2.8" stroke-linecap="butt" stroke-linejoin="miter" stroke-dasharray="2.6 4.6"/><path d="M126.7 1079.6 L211.2 1079.6 L295.8 1079.6 L380.3 1074.7 L464.9 1067 L549.5 1064.9 L634 1095.3" fill="none" stroke="#1b7a3c" stroke-width="2.8" stroke-linecap="butt" stroke-linejoin="miter" stroke-dasharray="2.6 4.6"/><path d="M126.7 1164.8 L211.2 1148.6 L295.8 1141.6 L380.3 1134 L464.9 1118.5 L549.5 1110.7 L634 1095.3 L718.6 1079.3 L803.1 1071.3 L887.6 1056.4 L972.2 1049" fill="none" stroke="#1b7a3c" stroke-width="2.8" stroke-linecap="butt" stroke-linejoin="miter" stroke-dasharray="2.6 4.6"/><path d="M126.7 1187.8 L211.2 1187.8 L295.8 1187.8 L380.3 1188 L464.9 1172.5 L549.5 1172.5 L634 1165 L718.6 1141.1 L803.1 1126 L887.6 1110.7 L972.2 1103.5" fill="none" stroke="#1b7a3c" stroke-width="2.8" stroke-linecap="butt" stroke-linejoin="miter" stroke-dasharray="2.6 4.6"/><path d="M126.7 1242 L211.2 1242 L295.8 1242.8 L380.3 1237.5 L464.9 1233.8 L549.5 1226.7 L634 1211 L718.6 1204.2 L803.1 1195.8 L887.6 1184.6 L972.2 1173.5" fill="none" stroke="#1b7a3c" stroke-width="2.8" stroke-linecap="butt" stroke-linejoin="miter" stroke-dasharray="2.6 4.6"/><path d="M803.1 1095.3 L887.6 1110.7" fill="none" stroke="#1b7a3c" stroke-width="2.8" stroke-linecap="butt" stroke-linejoin="round" stroke-dasharray="2.6 4.6"/><circle cx="126.7" cy="955.8" r="9.6" fill="#ffef00" stroke="#5cb83a" stroke-width="3.8"/><circle cx="126.7" cy="1033.2" r="9.6" fill="#ffef00" stroke="#5cb83a" stroke-width="3.8"/><circle cx="126.7" cy="1079.6" r="9.6" fill="#ffef00" stroke="#5cb83a" stroke-width="3.8"/><circle cx="126.7" cy="1164.8" r="9.6" fill="#ffef00" stroke="#5cb83a" stroke-width="3.8"/><circle cx="126.7" cy="1187.8" r="9.6" fill="#ffef00" stroke="#5cb83a" stroke-width="3.8"/><circle cx="126.7" cy="1242" r="9.6" fill="#ffef00" stroke="#5cb83a" stroke-width="3.8"/><circle cx="211.2" cy="955.8" r="9.6" fill="#ffef00" stroke="#5cb83a" stroke-width="3.8"/><circle cx="211.2" cy="1025.5" r="9.6" fill="#ffef00" stroke="#5cb83a" stroke-width="3.8"/><circle cx="211.2" cy="1079.6" r="9.6" fill="#ffef00" stroke="#5cb83a" stroke-width="3.8"/><circle cx="211.2" cy="1148.6" r="9.6" fill="#ffef00" stroke="#5cb83a" stroke-width="3.8"/><circle cx="211.2" cy="1187.8" r="9.6" fill="#ffef00" stroke="#5cb83a" stroke-width="3.8"/><circle cx="211.2" cy="1242" r="9.6" fill="#ffef00" stroke="#5cb83a" stroke-width="3.8"/><circle cx="295.8" cy="955.8" r="9.6" fill="#ffef00" stroke="#5cb83a" stroke-width="3.8"/><circle cx="295.8" cy="1025.5" r="9.6" fill="#ffef00" stroke="#5cb83a" stroke-width="3.8"/><circle cx="295.8" cy="1079.6" r="9.6" fill="#ffef00" stroke="#5cb83a" stroke-width="3.8"/><circle cx="295.8" cy="1141.6" r="9.6" fill="#ffef00" stroke="#5cb83a" stroke-width="3.8"/><circle cx="295.8" cy="1187.8" r="9.6" fill="#ffef00" stroke="#5cb83a" stroke-width="3.8"/><circle cx="295.8" cy="1242.8" r="9.6" fill="#ffef00" stroke="#5cb83a" stroke-width="3.8"/><circle cx="380.3" cy="948.1" r="9.6" fill="#ffef00" stroke="#5cb83a" stroke-width="3.8"/><circle cx="380.3" cy="1020.5" r="9.6" fill="#ffef00" stroke="#5cb83a" stroke-width="3.8"/><circle cx="380.3" cy="1074.7" r="9.6" fill="#ffef00" stroke="#5cb83a" stroke-width="3.8"/><circle cx="380.3" cy="1134" r="9.6" fill="#ffef00" stroke="#5cb83a" stroke-width="3.8"/><circle cx="380.3" cy="1188" r="9.6" fill="#ffef00" stroke="#5cb83a" stroke-width="3.8"/><circle cx="380.3" cy="1237.5" r="9.6" fill="#ffef00" stroke="#5cb83a" stroke-width="3.8"/><circle cx="464.9" cy="947.9" r="9.6" fill="#ffef00" stroke="#5cb83a" stroke-width="3.8"/><circle cx="464.9" cy="1017.7" r="9.6" fill="#ffef00" stroke="#5cb83a" stroke-width="3.8"/><circle cx="464.9" cy="1067" r="9.6" fill="#ffef00" stroke="#5cb83a" stroke-width="3.8"/><circle cx="464.9" cy="1118.5" r="9.6" fill="#ffef00" stroke="#5cb83a" stroke-width="3.8"/><circle cx="464.9" cy="1149" r="9.6" fill="#ffef00" stroke="#5cb83a" stroke-width="3.8"/><circle cx="464.9" cy="1172.5" r="9.6" fill="#ffef00" stroke="#5cb83a" stroke-width="3.8"/><circle cx="464.9" cy="1233.8" r="9.6" fill="#ffef00" stroke="#5cb83a" stroke-width="3.8"/><circle cx="549.5" cy="940.3" r="9.6" fill="#ffef00" stroke="#5cb83a" stroke-width="3.8"/><circle cx="549.5" cy="1048.7" r="9.6" fill="#ffef00" stroke="#5cb83a" stroke-width="3.8"/><circle cx="549.5" cy="1064.9" r="9.6" fill="#ffef00" stroke="#5cb83a" stroke-width="3.8"/><circle cx="549.5" cy="1110.7" r="9.6" fill="#ffef00" stroke="#5cb83a" stroke-width="3.8"/><circle cx="549.5" cy="1172.5" r="9.6" fill="#ffef00" stroke="#5cb83a" stroke-width="3.8"/><circle cx="549.5" cy="1226.7" r="9.6" fill="#ffef00" stroke="#5cb83a" stroke-width="3.8"/><circle cx="634" cy="933.3" r="9.6" fill="#ffef00" stroke="#5cb83a" stroke-width="3.8"/><circle cx="634" cy="994.8" r="9.6" fill="#ffef00" stroke="#5cb83a" stroke-width="3.8"/><circle cx="634" cy="1048.4" r="9.6" fill="#ffef00" stroke="#5cb83a" stroke-width="3.8"/><circle cx="634" cy="1095.3" r="9.6" fill="#ffef00" stroke="#5cb83a" stroke-width="3.8"/><circle cx="634" cy="1165" r="9.6" fill="#ffef00" stroke="#5cb83a" stroke-width="3.8"/><circle cx="634" cy="1211" r="9.6" fill="#ffef00" stroke="#5cb83a" stroke-width="3.8"/><circle cx="718.6" cy="917.3" r="9.6" fill="#ffef00" stroke="#5cb83a" stroke-width="3.8"/><circle cx="718.6" cy="978.9" r="9.6" fill="#ffef00" stroke="#5cb83a" stroke-width="3.8"/><circle cx="718.6" cy="1034" r="9.6" fill="#ffef00" stroke="#5cb83a" stroke-width="3.8"/><circle cx="718.6" cy="1079.3" r="9.6" fill="#ffef00" stroke="#5cb83a" stroke-width="3.8"/><circle cx="718.6" cy="1141.1" r="9.6" fill="#ffef00" stroke="#5cb83a" stroke-width="3.8"/><circle cx="718.6" cy="1204.2" r="9.6" fill="#ffef00" stroke="#5cb83a" stroke-width="3.8"/><circle cx="803.1" cy="901.7" r="9.6" fill="#ffef00" stroke="#5cb83a" stroke-width="3.8"/><circle cx="803.1" cy="994.8" r="9.6" fill="#ffef00" stroke="#5cb83a" stroke-width="3.8"/><circle cx="803.1" cy="1033" r="9.6" fill="#ffef00" stroke="#5cb83a" stroke-width="3.8"/><circle cx="803.1" cy="1071.3" r="9.6" fill="#ffef00" stroke="#5cb83a" stroke-width="3.8"/><circle cx="803.1" cy="1095.3" r="9.6" fill="#ffef00" stroke="#5cb83a" stroke-width="3.8"/><circle cx="803.1" cy="1126" r="9.6" fill="#ffef00" stroke="#5cb83a" stroke-width="3.8"/><circle cx="803.1" cy="1195.8" r="9.6" fill="#ffef00" stroke="#5cb83a" stroke-width="3.8"/><circle cx="887.6" cy="886.4" r="9.6" fill="#ffef00" stroke="#5cb83a" stroke-width="3.8"/><circle cx="887.6" cy="970.9" r="9.6" fill="#ffef00" stroke="#5cb83a" stroke-width="3.8"/><circle cx="887.6" cy="1018.1" r="9.6" fill="#ffef00" stroke="#5cb83a" stroke-width="3.8"/><circle cx="887.6" cy="1056.4" r="9.6" fill="#ffef00" stroke="#5cb83a" stroke-width="3.8"/><circle cx="887.6" cy="1110.7" r="9.6" fill="#ffef00" stroke="#5cb83a" stroke-width="3.8"/><circle cx="887.6" cy="1184.6" r="9.6" fill="#ffef00" stroke="#5cb83a" stroke-width="3.8"/><circle cx="972.2" cy="879" r="9.6" fill="#ffef00" stroke="#5cb83a" stroke-width="3.8"/><circle cx="972.2" cy="963.9" r="9.6" fill="#ffef00" stroke="#5cb83a" stroke-width="3.8"/><circle cx="972.2" cy="1002.8" r="9.6" fill="#ffef00" stroke="#5cb83a" stroke-width="3.8"/><circle cx="972.2" cy="1049" r="9.6" fill="#ffef00" stroke="#5cb83a" stroke-width="3.8"/><circle cx="972.2" cy="1103.5" r="9.6" fill="#ffef00" stroke="#5cb83a" stroke-width="3.8"/><circle cx="972.2" cy="1173.5" r="9.6" fill="#ffef00" stroke="#5cb83a" stroke-width="3.8"/><path d="M136 1328 L142.2 1327.9 L150.8 1327.8 L161 1327.7 L172.2 1327.5 L183.6 1327.3 L194.5 1327.1 L204.2 1326.9 L212 1326.6 L217.8 1326.3 L222.5 1325.9 L226.1 1325.4 L229.2 1324.9 L231.9 1324.5 L234.6 1324 L237.5 1323.6 L241 1323.3 L245 1323 L249.3 1322.9 L253.8 1322.7 L258.2 1322.6 L262.6 1322.5 L266.8 1322.3 L270.6 1322.2 L274 1322 L276.9 1321.8 L279.4 1321.5 L281.6 1321.1 L283.6 1320.8 L285.4 1320.5 L287.2 1320.3 L289 1320.1 L291 1320 L292.8 1320 L294.2 1320.2 L295.4 1320.4 L296.8 1320.7 L298.3 1321 L300.4 1321.3 L303.2 1321.5 L307 1321.6 L311.9 1321.6 L318 1321.7 L324.7 1321.7 L332 1321.6 L339.5 1321.5 L346.8 1321.3 L353.7 1321.1 L360 1320.8 L365.7 1320.4 L371.1 1320 L376.3 1319.4 L381.3 1318.9 L386.2 1318.2 L390.9 1317.5 L395.5 1316.8 L400 1316 L404.2 1315.2 L407.9 1314.5 L411.3 1313.7 L414.6 1312.9 L418.2 1311.9 L422.1 1310.8 L426.6 1309.5 L432 1308 L438.3 1306.2 L445.3 1304.3 L452.9 1302.1 L460.9 1299.8 L469.1 1297.3 L477.5 1294.7 L485.9 1291.9 L494 1289 L501.4 1286.1 L508.1 1283.4 L514.5 1280.6 L521.1 1277.6 L528.5 1274.2 L537.1 1270.3 L547.4 1265.6 L560 1260 L575.1 1253.4 L592.3 1245.8 L611.2 1237.4 L631.4 1228.5 L652.4 1219.3 L673.8 1209.9 L695.1 1200.6 L716 1191.6 L737.2 1182.5 L759.4 1173 L782.2 1163.2 L805.1 1153.5 L827.6 1143.9 L849.2 1134.9 L869.5 1126.5 L888 1119 L904.8 1112.4 L920.4 1106.6 L934.9 1101.4 L948.4 1096.7 L961.1 1092.3 L973 1088.2 L984.2 1084.1 L995 1080 L1005.3 1075.8 L1015 1071.6 L1024.1 1067.6 L1032.4 1063.7 L1039.9 1060.2 L1046.5 1057 L1052.1 1054.4 L1056.5 1052.3" fill="none" stroke="#e0409a" stroke-width="1.7" stroke-linecap="round" stroke-linejoin="round"/><path d="M124.8 1388.2 L151 1386.5 L164.2 1376.7 L179 1371.7 L228.3 1369.3 L241.4 1358.6 L252.9 1354.5 L290.7 1353.7 L305.5 1329.9 L360 1329.9 L478.8 1325.6 L543.7 1324 L553 1314.8 L556 1305.5 L571.5 1304 L610.2 1301.8 L627 1289.3 L638 1286.5 L713.5 1276.7 L755.3 1264.2 L811 1253 L894.8 1234.9 L978.5 1218.1 L1056 1204.2" fill="none" stroke="#2b4aa3" stroke-width="3.8" stroke-linecap="round" stroke-linejoin="round"/><line x1="437.1" y1="1358" x2="437.1" y2="1390" stroke="#5cb83a" stroke-width="5.2" stroke-linecap="butt"/><line x1="542.2" y1="1358" x2="542.2" y2="1390" stroke="#5cb83a" stroke-width="5.2" stroke-linecap="butt"/><line x1="715.7" y1="1358" x2="715.7" y2="1390" stroke="#5cb83a" stroke-width="5.2" stroke-linecap="butt"/><line x1="1007" y1="1358" x2="1007" y2="1390" stroke="#5cb83a" stroke-width="5.2" stroke-linecap="butt"/><line x1="622.5" y1="1356" x2="622.5" y2="1388" stroke="#5cb83a" stroke-width="3.5" stroke-linecap="butt"/><line x1="195" y1="1352" x2="195" y2="1366" stroke="#b04aa8" stroke-width="2.4" stroke-linecap="butt"/><path d="M188 1364 L202 1364 L195 1390 Z" fill="#b04aa8"/><line x1="267.4" y1="1353.7" x2="267.4" y2="1366" stroke="#b04aa8" stroke-width="2.4" stroke-linecap="butt"/><path d="M260.4 1364 L274.4 1364 L267.4 1390 Z" fill="#b04aa8"/><line x1="356.4" y1="1354.5" x2="356.4" y2="1366" stroke="#b04aa8" stroke-width="2.4" stroke-linecap="butt"/><path d="M349.4 1364 L363.4 1364 L356.4 1390 Z" fill="#b04aa8"/><line x1="549.9" y1="1351.9" x2="549.9" y2="1366" stroke="#b04aa8" stroke-width="2.4" stroke-linecap="butt"/><path d="M542.9 1364 L556.9 1364 L549.9 1390 Z" fill="#b04aa8"/><line x1="624.2" y1="1356.2" x2="624.2" y2="1366" stroke="#b04aa8" stroke-width="2.4" stroke-linecap="butt"/><path d="M617.2 1364 L631.2 1364 L624.2 1390 Z" fill="#b04aa8"/><line x1="726.6" y1="1356.2" x2="726.6" y2="1366" stroke="#b04aa8" stroke-width="2.4" stroke-linecap="butt"/><path d="M719.6 1364 L733.6 1364 L726.6 1390 Z" fill="#b04aa8"/><line x1="986.9" y1="1353.4" x2="986.9" y2="1366" stroke="#b04aa8" stroke-width="2.4" stroke-linecap="butt"/><path d="M979.9 1364 L993.9 1364 L986.9 1390 Z" fill="#b04aa8"/><text x="170" y="1357" font-size="34" fill="#b04aa8" font-weight="bold">3</text><text x="221.5" y="1351.2" font-size="30" fill="#b04aa8" font-weight="bold">5/3</text><text x="326" y="1366.8" font-size="35" fill="#b04aa8" font-weight="bold">1</text><text x="502" y="1361" font-size="29.5" fill="#b04aa8" font-weight="bold">5/7</text><text x="593.5" y="1349.3" font-size="29.5" fill="#b04aa8" font-weight="bold">3/5</text><text x="694" y="1349.3" font-size="29.5" fill="#b04aa8" font-weight="bold">1/2</text><text x="956" y="1345" font-size="29.5" fill="#b04aa8" font-weight="bold">1/3</text><text x="162" y="808.7" font-size="27.5" fill="#e31e24" font-weight="bold">0,4</text><text x="127.6" y="865.7" font-size="27.5" fill="#e31e24" font-weight="bold">0,3</text><text x="134.6" y="1004.3" font-size="27.5" fill="#e31e24" font-weight="bold">0,2</text><text x="134.6" y="1145.1" font-size="27.5" fill="#e31e24" font-weight="bold">0,1</text><text x="136.3" y="1276.5" font-size="27.5" fill="#e31e24" font-weight="bold">0,0</text><text x="382.2" y="814.3" font-size="27.5" fill="#e31e24" font-weight="bold">1,0</text><text x="733.6" y="831.9" font-size="34.5" fill="#e31e24" font-weight="bold">FD</text><text x="999.7" y="848.7" font-size="35" fill="#2f52a8" font-weight="bold">HF</text><text x="536.5" y="819.1" font-size="41.5" fill="#111">(b)</text><rect x="124.8" y="896.7" width="22.1" height="36.6" fill="#fff"/><rect x="144.9" y="919.2" width="18.6" height="23.9" fill="#fff"/><rect x="162.1" y="896" width="38.7" height="37.3" fill="#fff"/><text x="126" y="924.8" font-size="31" font-weight="bold" fill="#5cb83a">S<tspan font-size="22" dy="9.5">Z</tspan><tspan dy="-9.5">=0</tspan></text><rect x="221.9" y="900.9" width="23.2" height="37.3" fill="#fff"/><rect x="243" y="919.2" width="12.7" height="23.2" fill="#fff"/><rect x="255" y="900.9" width="36.6" height="37.3" fill="#fff"/><text x="223.5" y="929" font-size="31" font-weight="bold" fill="#0a8a3a">S<tspan font-size="22" dy="9.5">z</tspan><tspan dy="-9.5">=1</tspan></text><rect x="327.6" y="895.2" width="23.5" height="36.6" fill="#fff"/><rect x="349.4" y="913.5" width="12.2" height="24.4" fill="#fff"/><rect x="359.9" y="894.3" width="37.4" height="37.5" fill="#fff"/><text x="329" y="922.2" font-size="31" font-weight="bold" fill="#5bc5dc">S<tspan font-size="22" dy="9.5">z</tspan><tspan dy="-9.5">=2</tspan></text><rect x="452" y="895.3" width="22.4" height="36.6" fill="#fff"/><rect x="473" y="918" width="12" height="18" fill="#fff"/><rect x="483.6" y="895.3" width="38" height="36.6" fill="#fff"/><text x="453" y="923.4" font-size="31" font-weight="bold" fill="#2a4aa0">S<tspan font-size="22" dy="9.5">z</tspan><tspan dy="-9.5">=3</tspan></text><text x="418.6" y="1280.8" font-size="28" fill="#e0409a" font-style="italic" font-weight="bold">E<tspan font-size="22" dy="9" font-style="normal">tot</tspan></text><text x="134.6" y="1371.7" font-size="23.5" fill="#e0409a" font-weight="bold" transform="rotate(-90 134.6 1371.7)">90 meV</text><text x="1051.5" y="1048.3" font-size="23" fill="#e0409a" font-weight="bold" transform="rotate(-90 1051.5 1048.3)">120 meV</text><line x1="111" y1="769.5" x2="111" y2="1390.5" stroke="#000" stroke-width="3.2" stroke-linecap="butt"/><line x1="109.5" y1="1389.3" x2="1058.5" y2="1389.3" stroke="#000" stroke-width="3.4" stroke-linecap="butt"/><line x1="1057" y1="1079.4" x2="1057" y2="1391" stroke="#000" stroke-width="3.2" stroke-linecap="butt"/><line x1="102.5" y1="1310.6" x2="111" y2="1310.6" stroke="#000" stroke-width="3" stroke-linecap="butt"/><line x1="95" y1="1233.4" x2="111" y2="1233.4" stroke="#000" stroke-width="3" stroke-linecap="butt"/><line x1="102.5" y1="1156.2" x2="111" y2="1156.2" stroke="#000" stroke-width="3" stroke-linecap="butt"/><line x1="95" y1="1079" x2="111" y2="1079" stroke="#000" stroke-width="3" stroke-linecap="butt"/><line x1="102.5" y1="1001.8" x2="111" y2="1001.8" stroke="#000" stroke-width="3" stroke-linecap="butt"/><line x1="95" y1="924.6" x2="111" y2="924.6" stroke="#000" stroke-width="3" stroke-linecap="butt"/><line x1="102.5" y1="847.4" x2="111" y2="847.4" stroke="#000" stroke-width="3" stroke-linecap="butt"/><line x1="95" y1="770.2" x2="111" y2="770.2" stroke="#000" stroke-width="3" stroke-linecap="butt"/><line x1="126.7" y1="1389" x2="126.7" y2="1405" stroke="#000" stroke-width="3" stroke-linecap="butt"/><text x="128.7" y="1435" font-size="25" fill="#111" text-anchor="middle">0</text><line x1="211.2" y1="1389" x2="211.2" y2="1397" stroke="#000" stroke-width="3" stroke-linecap="butt"/><line x1="295.8" y1="1389" x2="295.8" y2="1405" stroke="#000" stroke-width="3" stroke-linecap="butt"/><text x="297.8" y="1435" font-size="25" fill="#111" text-anchor="middle">2</text><line x1="380.3" y1="1389" x2="380.3" y2="1397" stroke="#000" stroke-width="3" stroke-linecap="butt"/><line x1="464.9" y1="1389" x2="464.9" y2="1405" stroke="#000" stroke-width="3" stroke-linecap="butt"/><text x="466.9" y="1435" font-size="25" fill="#111" text-anchor="middle">4</text><line x1="549.5" y1="1389" x2="549.5" y2="1397" stroke="#000" stroke-width="3" stroke-linecap="butt"/><line x1="634" y1="1389" x2="634" y2="1405" stroke="#000" stroke-width="3" stroke-linecap="butt"/><text x="636" y="1435" font-size="25" fill="#111" text-anchor="middle">6</text><line x1="718.6" y1="1389" x2="718.6" y2="1397" stroke="#000" stroke-width="3" stroke-linecap="butt"/><line x1="803.1" y1="1389" x2="803.1" y2="1405" stroke="#000" stroke-width="3" stroke-linecap="butt"/><text x="805.1" y="1435" font-size="25" fill="#111" text-anchor="middle">8</text><line x1="887.6" y1="1389" x2="887.6" y2="1397" stroke="#000" stroke-width="3" stroke-linecap="butt"/><line x1="972.2" y1="1389" x2="972.2" y2="1405" stroke="#000" stroke-width="3" stroke-linecap="butt"/><text x="974.2" y="1435" font-size="25" fill="#111" text-anchor="middle">10</text><line x1="1040.5" y1="1388" x2="1057" y2="1388" stroke="#000" stroke-width="3" stroke-linecap="butt"/><line x1="1048.5" y1="1368.7" x2="1057" y2="1368.7" stroke="#000" stroke-width="3" stroke-linecap="butt"/><line x1="1048.5" y1="1349.3" x2="1057" y2="1349.3" stroke="#000" stroke-width="3" stroke-linecap="butt"/><line x1="1048.5" y1="1330" x2="1057" y2="1330" stroke="#000" stroke-width="3" stroke-linecap="butt"/><line x1="1048.5" y1="1310.6" x2="1057" y2="1310.6" stroke="#000" stroke-width="3" stroke-linecap="butt"/><line x1="1048.5" y1="1291.2" x2="1057" y2="1291.2" stroke="#000" stroke-width="3" stroke-linecap="butt"/><line x1="1040.5" y1="1271.9" x2="1057" y2="1271.9" stroke="#000" stroke-width="3" stroke-linecap="butt"/><line x1="1048.5" y1="1252.5" x2="1057" y2="1252.5" stroke="#000" stroke-width="3" stroke-linecap="butt"/><line x1="1048.5" y1="1233.2" x2="1057" y2="1233.2" stroke="#000" stroke-width="3" stroke-linecap="butt"/><line x1="1048.5" y1="1213.8" x2="1057" y2="1213.8" stroke="#000" stroke-width="3" stroke-linecap="butt"/><line x1="1048.5" y1="1194.5" x2="1057" y2="1194.5" stroke="#000" stroke-width="3" stroke-linecap="butt"/><line x1="1048.5" y1="1175.2" x2="1057" y2="1175.2" stroke="#000" stroke-width="3" stroke-linecap="butt"/><line x1="1040.5" y1="1155.8" x2="1057" y2="1155.8" stroke="#000" stroke-width="3" stroke-linecap="butt"/><line x1="1048.5" y1="1136.5" x2="1057" y2="1136.5" stroke="#000" stroke-width="3" stroke-linecap="butt"/><line x1="1048.5" y1="1117.1" x2="1057" y2="1117.1" stroke="#000" stroke-width="3" stroke-linecap="butt"/><line x1="1048.5" y1="1097.8" x2="1057" y2="1097.8" stroke="#000" stroke-width="3" stroke-linecap="butt"/><text x="75.2" y="778.6" font-size="25" fill="#111">6</text><text x="65.9" y="936.2" font-size="25" fill="#111">4</text><text x="61.4" y="1093.8" font-size="25" fill="#111">2</text><text x="67.3" y="1239" font-size="25" fill="#111">0</text><text x="1067.8" y="1162.3" font-size="24" fill="#111">60</text><text x="1067.8" y="1278" font-size="24" fill="#111">30</text><text x="1067.8" y="1393.9" font-size="24" fill="#111">0</text><text transform="translate(1125 1235) rotate(-90)" font-size="30" fill="#111" font-style="italic">L<tspan font-size="20" dy="8">z</tspan></text><text x="33.9" y="1173.4" font-size="28" fill="#111" transform="rotate(-90 33.9 1173.4)">Energy (meV)</text><text x="316.6" y="1470.8" font-size="29" fill="#111" xml:space="preserve">Magnetic field,  <tspan font-style="italic">B</tspan> (T)</text></svg></body></html>
